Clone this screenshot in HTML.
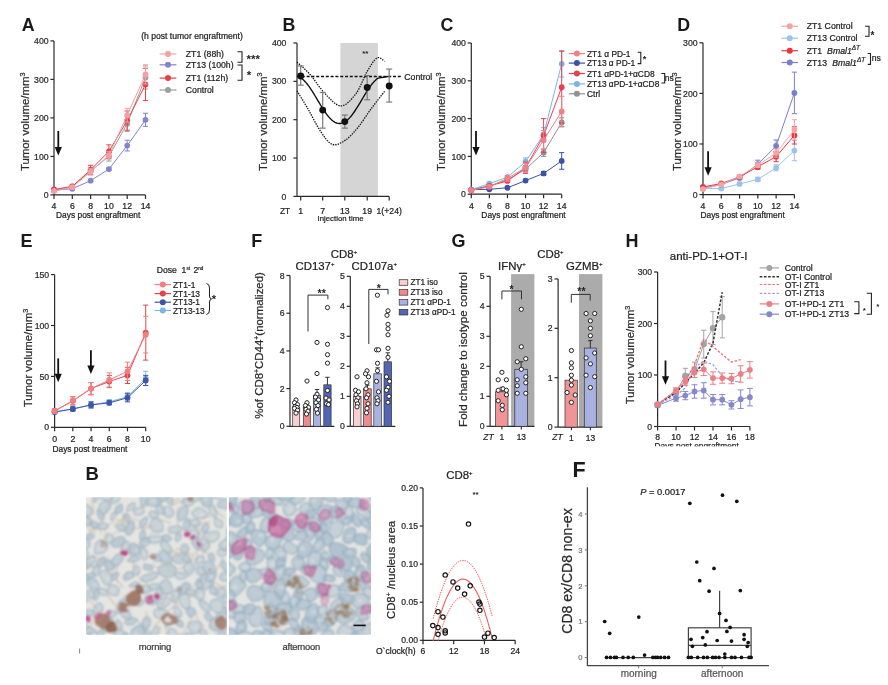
<!DOCTYPE html>
<html><head><meta charset="utf-8"><style>
html,body{margin:0;padding:0;background:#fff;width:888px;height:685px;overflow:hidden}
svg{display:block;will-change:transform}
svg text{font-family:"Liberation Sans", sans-serif}
</style></head><body>
<svg width="888" height="685" viewBox="0 0 888 685">
<rect x="0" y="0" width="888" height="685" fill="#fff"/>
<text x="21.8" y="31.34" font-size="17.8" text-anchor="start" font-weight="bold" fill="#1a1a1a" >A</text>
<line x1="54" y1="194.9" x2="54" y2="40.9" stroke="#2a2a2a" stroke-width="1.2" />
<line x1="50.4" y1="194.9" x2="54" y2="194.9" stroke="#2a2a2a" stroke-width="1.2" />
<text x="48.6" y="198.01" font-size="8.7" text-anchor="end" font-weight="normal" fill="#2a2a2a" stroke="#2a2a2a" stroke-width="0.22" >0</text>
<line x1="50.4" y1="156.4" x2="54" y2="156.4" stroke="#2a2a2a" stroke-width="1.2" />
<text x="48.6" y="159.51" font-size="8.7" text-anchor="end" font-weight="normal" fill="#2a2a2a" stroke="#2a2a2a" stroke-width="0.22" >100</text>
<line x1="50.4" y1="117.9" x2="54" y2="117.9" stroke="#2a2a2a" stroke-width="1.2" />
<text x="48.6" y="121.01" font-size="8.7" text-anchor="end" font-weight="normal" fill="#2a2a2a" stroke="#2a2a2a" stroke-width="0.22" >200</text>
<line x1="50.4" y1="79.4" x2="54" y2="79.4" stroke="#2a2a2a" stroke-width="1.2" />
<text x="48.6" y="82.51" font-size="8.7" text-anchor="end" font-weight="normal" fill="#2a2a2a" stroke="#2a2a2a" stroke-width="0.22" >300</text>
<line x1="50.4" y1="40.9" x2="54" y2="40.9" stroke="#2a2a2a" stroke-width="1.2" />
<text x="48.6" y="44.01" font-size="8.7" text-anchor="end" font-weight="normal" fill="#2a2a2a" stroke="#2a2a2a" stroke-width="0.22" >400</text>
<line x1="54" y1="194.9" x2="145.5" y2="194.9" stroke="#2a2a2a" stroke-width="1.2" />
<line x1="54" y1="194.9" x2="54" y2="198.9" stroke="#2a2a2a" stroke-width="1.2" />
<text x="54" y="208.91" font-size="8.7" text-anchor="middle" font-weight="normal" fill="#222" stroke="#222" stroke-width="0.22" >4</text>
<line x1="72.3" y1="194.9" x2="72.3" y2="198.9" stroke="#2a2a2a" stroke-width="1.2" />
<text x="72.3" y="208.91" font-size="8.7" text-anchor="middle" font-weight="normal" fill="#222" stroke="#222" stroke-width="0.22" >6</text>
<line x1="90.6" y1="194.9" x2="90.6" y2="198.9" stroke="#2a2a2a" stroke-width="1.2" />
<text x="90.6" y="208.91" font-size="8.7" text-anchor="middle" font-weight="normal" fill="#222" stroke="#222" stroke-width="0.22" >8</text>
<line x1="108.9" y1="194.9" x2="108.9" y2="198.9" stroke="#2a2a2a" stroke-width="1.2" />
<text x="108.9" y="208.91" font-size="8.7" text-anchor="middle" font-weight="normal" fill="#222" stroke="#222" stroke-width="0.22" >10</text>
<line x1="127.2" y1="194.9" x2="127.2" y2="198.9" stroke="#2a2a2a" stroke-width="1.2" />
<text x="127.2" y="208.91" font-size="8.7" text-anchor="middle" font-weight="normal" fill="#222" stroke="#222" stroke-width="0.22" >12</text>
<line x1="145.5" y1="194.9" x2="145.5" y2="198.9" stroke="#2a2a2a" stroke-width="1.2" />
<text x="145.5" y="208.91" font-size="8.7" text-anchor="middle" font-weight="normal" fill="#222" stroke="#222" stroke-width="0.22" >14</text>
<text x="98.2" y="218.21" font-size="8.4" text-anchor="middle" font-weight="normal" fill="#222" stroke="#222" stroke-width="0.22" >Days post engraftment</text>
<text transform="translate(29.38,121.8) rotate(-90)" font-size="11.4" text-anchor="middle" fill="#2a2a2a" stroke="#2a2a2a" stroke-width="0.22">Tumor volume/mm<tspan dy="-4.2" font-size="7.3">3</tspan></text>
<line x1="58.3" y1="131" x2="58.3" y2="147.9" stroke="#111" stroke-width="1.8" />
<path d="M54.7,146.9 L61.9,146.9 L58.3,155.4 Z" stroke="none" stroke-width="1" fill="#111" />
<line x1="54" y1="189.51" x2="54" y2="191.05" stroke="#9a9da2" stroke-width="1.0" />
<line x1="51.4" y1="189.51" x2="56.6" y2="189.51" stroke="#9a9da2" stroke-width="1.0" />
<line x1="51.4" y1="191.05" x2="56.6" y2="191.05" stroke="#9a9da2" stroke-width="1.0" />
<line x1="72.3" y1="185.28" x2="72.3" y2="187.59" stroke="#9a9da2" stroke-width="1.0" />
<line x1="69.7" y1="185.28" x2="74.9" y2="185.28" stroke="#9a9da2" stroke-width="1.0" />
<line x1="69.7" y1="187.59" x2="74.9" y2="187.59" stroke="#9a9da2" stroke-width="1.0" />
<line x1="90.6" y1="167.18" x2="90.6" y2="174.88" stroke="#9a9da2" stroke-width="1.0" />
<line x1="88" y1="167.18" x2="93.2" y2="167.18" stroke="#9a9da2" stroke-width="1.0" />
<line x1="88" y1="174.88" x2="93.2" y2="174.88" stroke="#9a9da2" stroke-width="1.0" />
<line x1="108.9" y1="151.78" x2="108.9" y2="161.02" stroke="#9a9da2" stroke-width="1.0" />
<line x1="106.3" y1="151.78" x2="111.5" y2="151.78" stroke="#9a9da2" stroke-width="1.0" />
<line x1="106.3" y1="161.02" x2="111.5" y2="161.02" stroke="#9a9da2" stroke-width="1.0" />
<line x1="127.2" y1="115.98" x2="127.2" y2="131.38" stroke="#9a9da2" stroke-width="1.0" />
<line x1="124.6" y1="115.98" x2="129.8" y2="115.98" stroke="#9a9da2" stroke-width="1.0" />
<line x1="124.6" y1="131.38" x2="129.8" y2="131.38" stroke="#9a9da2" stroke-width="1.0" />
<line x1="145.5" y1="65.93" x2="145.5" y2="89.03" stroke="#9a9da2" stroke-width="1.0" />
<line x1="142.9" y1="65.93" x2="148.1" y2="65.93" stroke="#9a9da2" stroke-width="1.0" />
<line x1="142.9" y1="89.03" x2="148.1" y2="89.03" stroke="#9a9da2" stroke-width="1.0" />
<polyline points="54,190.28 72.3,186.43 90.6,171.03 108.9,156.4 127.2,123.67 145.5,77.48" fill="none" stroke="#9a9da2" stroke-width="1.0"  stroke-linejoin="round"/>
<circle cx="54" cy="190.28" r="2.9" fill="#9a9da2" stroke="none" stroke-width="0"/>
<circle cx="72.3" cy="186.43" r="2.9" fill="#9a9da2" stroke="none" stroke-width="0"/>
<circle cx="90.6" cy="171.03" r="2.9" fill="#9a9da2" stroke="none" stroke-width="0"/>
<circle cx="108.9" cy="156.4" r="2.9" fill="#9a9da2" stroke="none" stroke-width="0"/>
<circle cx="127.2" cy="123.67" r="2.9" fill="#9a9da2" stroke="none" stroke-width="0"/>
<circle cx="145.5" cy="77.48" r="2.9" fill="#9a9da2" stroke="none" stroke-width="0"/>
<line x1="54" y1="189.51" x2="54" y2="191.05" stroke="#8384cc" stroke-width="1.0" />
<line x1="51.4" y1="189.51" x2="56.6" y2="189.51" stroke="#8384cc" stroke-width="1.0" />
<line x1="51.4" y1="191.05" x2="56.6" y2="191.05" stroke="#8384cc" stroke-width="1.0" />
<line x1="72.3" y1="187.97" x2="72.3" y2="189.51" stroke="#8384cc" stroke-width="1.0" />
<line x1="69.7" y1="187.97" x2="74.9" y2="187.97" stroke="#8384cc" stroke-width="1.0" />
<line x1="69.7" y1="189.51" x2="74.9" y2="189.51" stroke="#8384cc" stroke-width="1.0" />
<line x1="90.6" y1="179.5" x2="90.6" y2="181.81" stroke="#8384cc" stroke-width="1.0" />
<line x1="88" y1="179.5" x2="93.2" y2="179.5" stroke="#8384cc" stroke-width="1.0" />
<line x1="88" y1="181.81" x2="93.2" y2="181.81" stroke="#8384cc" stroke-width="1.0" />
<line x1="108.9" y1="167.56" x2="108.9" y2="170.65" stroke="#8384cc" stroke-width="1.0" />
<line x1="106.3" y1="167.56" x2="111.5" y2="167.56" stroke="#8384cc" stroke-width="1.0" />
<line x1="106.3" y1="170.65" x2="111.5" y2="170.65" stroke="#8384cc" stroke-width="1.0" />
<line x1="127.2" y1="140.23" x2="127.2" y2="151.01" stroke="#8384cc" stroke-width="1.0" />
<line x1="124.6" y1="140.23" x2="129.8" y2="140.23" stroke="#8384cc" stroke-width="1.0" />
<line x1="124.6" y1="151.01" x2="129.8" y2="151.01" stroke="#8384cc" stroke-width="1.0" />
<line x1="145.5" y1="113.28" x2="145.5" y2="126.37" stroke="#8384cc" stroke-width="1.0" />
<line x1="142.9" y1="113.28" x2="148.1" y2="113.28" stroke="#8384cc" stroke-width="1.0" />
<line x1="142.9" y1="126.37" x2="148.1" y2="126.37" stroke="#8384cc" stroke-width="1.0" />
<polyline points="54,190.28 72.3,188.74 90.6,180.66 108.9,169.11 127.2,145.62 145.5,119.83" fill="none" stroke="#8384cc" stroke-width="1.0"  stroke-linejoin="round"/>
<circle cx="54" cy="190.28" r="2.9" fill="#8384cc" stroke="none" stroke-width="0"/>
<circle cx="72.3" cy="188.74" r="2.9" fill="#8384cc" stroke="none" stroke-width="0"/>
<circle cx="90.6" cy="180.66" r="2.9" fill="#8384cc" stroke="none" stroke-width="0"/>
<circle cx="108.9" cy="169.11" r="2.9" fill="#8384cc" stroke="none" stroke-width="0"/>
<circle cx="127.2" cy="145.62" r="2.9" fill="#8384cc" stroke="none" stroke-width="0"/>
<circle cx="145.5" cy="119.83" r="2.9" fill="#8384cc" stroke="none" stroke-width="0"/>
<line x1="54" y1="188.36" x2="54" y2="190.66" stroke="#e8404a" stroke-width="1.0" />
<line x1="51.4" y1="188.36" x2="56.6" y2="188.36" stroke="#e8404a" stroke-width="1.0" />
<line x1="51.4" y1="190.66" x2="56.6" y2="190.66" stroke="#e8404a" stroke-width="1.0" />
<line x1="72.3" y1="185.28" x2="72.3" y2="187.59" stroke="#e8404a" stroke-width="1.0" />
<line x1="69.7" y1="185.28" x2="74.9" y2="185.28" stroke="#e8404a" stroke-width="1.0" />
<line x1="69.7" y1="187.59" x2="74.9" y2="187.59" stroke="#e8404a" stroke-width="1.0" />
<line x1="90.6" y1="165.25" x2="90.6" y2="174.5" stroke="#e8404a" stroke-width="1.0" />
<line x1="88" y1="165.25" x2="93.2" y2="165.25" stroke="#e8404a" stroke-width="1.0" />
<line x1="88" y1="174.5" x2="93.2" y2="174.5" stroke="#e8404a" stroke-width="1.0" />
<line x1="108.9" y1="144.85" x2="108.9" y2="157.94" stroke="#e8404a" stroke-width="1.0" />
<line x1="106.3" y1="144.85" x2="111.5" y2="144.85" stroke="#e8404a" stroke-width="1.0" />
<line x1="106.3" y1="157.94" x2="111.5" y2="157.94" stroke="#e8404a" stroke-width="1.0" />
<line x1="127.2" y1="110.97" x2="127.2" y2="130.22" stroke="#e8404a" stroke-width="1.0" />
<line x1="124.6" y1="110.97" x2="129.8" y2="110.97" stroke="#e8404a" stroke-width="1.0" />
<line x1="124.6" y1="130.22" x2="129.8" y2="130.22" stroke="#e8404a" stroke-width="1.0" />
<line x1="145.5" y1="68.23" x2="145.5" y2="100.58" stroke="#e8404a" stroke-width="1.0" />
<line x1="142.9" y1="68.23" x2="148.1" y2="68.23" stroke="#e8404a" stroke-width="1.0" />
<line x1="142.9" y1="100.58" x2="148.1" y2="100.58" stroke="#e8404a" stroke-width="1.0" />
<polyline points="54,189.51 72.3,186.43 90.6,169.88 108.9,151.4 127.2,120.59 145.5,84.41" fill="none" stroke="#e8404a" stroke-width="1.0"  stroke-linejoin="round"/>
<circle cx="54" cy="189.51" r="2.9" fill="#e8404a" stroke="none" stroke-width="0"/>
<circle cx="72.3" cy="186.43" r="2.9" fill="#e8404a" stroke="none" stroke-width="0"/>
<circle cx="90.6" cy="169.88" r="2.9" fill="#e8404a" stroke="none" stroke-width="0"/>
<circle cx="108.9" cy="151.4" r="2.9" fill="#e8404a" stroke="none" stroke-width="0"/>
<circle cx="127.2" cy="120.59" r="2.9" fill="#e8404a" stroke="none" stroke-width="0"/>
<circle cx="145.5" cy="84.41" r="2.9" fill="#e8404a" stroke="none" stroke-width="0"/>
<line x1="54" y1="189.9" x2="54" y2="192.21" stroke="#f2a0a6" stroke-width="1.0" />
<line x1="51.4" y1="189.9" x2="56.6" y2="189.9" stroke="#f2a0a6" stroke-width="1.0" />
<line x1="51.4" y1="192.21" x2="56.6" y2="192.21" stroke="#f2a0a6" stroke-width="1.0" />
<line x1="72.3" y1="186.05" x2="72.3" y2="188.36" stroke="#f2a0a6" stroke-width="1.0" />
<line x1="69.7" y1="186.05" x2="74.9" y2="186.05" stroke="#f2a0a6" stroke-width="1.0" />
<line x1="69.7" y1="188.36" x2="74.9" y2="188.36" stroke="#f2a0a6" stroke-width="1.0" />
<line x1="90.6" y1="168.72" x2="90.6" y2="174.88" stroke="#f2a0a6" stroke-width="1.0" />
<line x1="88" y1="168.72" x2="93.2" y2="168.72" stroke="#f2a0a6" stroke-width="1.0" />
<line x1="88" y1="174.88" x2="93.2" y2="174.88" stroke="#f2a0a6" stroke-width="1.0" />
<line x1="108.9" y1="151.4" x2="108.9" y2="159.09" stroke="#f2a0a6" stroke-width="1.0" />
<line x1="106.3" y1="151.4" x2="111.5" y2="151.4" stroke="#f2a0a6" stroke-width="1.0" />
<line x1="106.3" y1="159.09" x2="111.5" y2="159.09" stroke="#f2a0a6" stroke-width="1.0" />
<line x1="127.2" y1="108.28" x2="127.2" y2="122.14" stroke="#f2a0a6" stroke-width="1.0" />
<line x1="124.6" y1="108.28" x2="129.8" y2="108.28" stroke="#f2a0a6" stroke-width="1.0" />
<line x1="124.6" y1="122.14" x2="129.8" y2="122.14" stroke="#f2a0a6" stroke-width="1.0" />
<line x1="145.5" y1="64.77" x2="145.5" y2="84.02" stroke="#f2a0a6" stroke-width="1.0" />
<line x1="142.9" y1="64.77" x2="148.1" y2="64.77" stroke="#f2a0a6" stroke-width="1.0" />
<line x1="142.9" y1="84.02" x2="148.1" y2="84.02" stroke="#f2a0a6" stroke-width="1.0" />
<polyline points="54,191.05 72.3,187.2 90.6,171.8 108.9,155.25 127.2,115.2 145.5,74.39" fill="none" stroke="#f2a0a6" stroke-width="1.0"  stroke-linejoin="round"/>
<circle cx="54" cy="191.05" r="2.9" fill="#f2a0a6" stroke="none" stroke-width="0"/>
<circle cx="72.3" cy="187.2" r="2.9" fill="#f2a0a6" stroke="none" stroke-width="0"/>
<circle cx="90.6" cy="171.8" r="2.9" fill="#f2a0a6" stroke="none" stroke-width="0"/>
<circle cx="108.9" cy="155.25" r="2.9" fill="#f2a0a6" stroke="none" stroke-width="0"/>
<circle cx="127.2" cy="115.2" r="2.9" fill="#f2a0a6" stroke="none" stroke-width="0"/>
<circle cx="145.5" cy="74.39" r="2.9" fill="#f2a0a6" stroke="none" stroke-width="0"/>
<text x="192" y="38.58" font-size="8.6" text-anchor="middle" font-weight="normal" fill="#222" stroke="#222" stroke-width="0.22" >(h post tumor engraftment)</text>
<line x1="159.6" y1="54" x2="176.4" y2="54" stroke="#f2a0a6" stroke-width="1.2" />
<circle cx="168" cy="54" r="3.0" fill="#f2a0a6" stroke="none" stroke-width="0"/>
<text x="185.8" y="57.11" font-size="8.7" text-anchor="start" font-weight="normal" fill="#222" stroke="#222" stroke-width="0.22" >ZT1 (88h)</text>
<line x1="159.6" y1="64.8" x2="176.4" y2="64.8" stroke="#8384cc" stroke-width="1.2" />
<circle cx="168" cy="64.8" r="3.0" fill="#8384cc" stroke="none" stroke-width="0"/>
<text x="185.8" y="67.91" font-size="8.7" text-anchor="start" font-weight="normal" fill="#222" stroke="#222" stroke-width="0.22" >ZT13 (100h)</text>
<line x1="159.6" y1="78.1" x2="176.4" y2="78.1" stroke="#e8404a" stroke-width="1.2" />
<circle cx="168" cy="78.1" r="3.0" fill="#e8404a" stroke="none" stroke-width="0"/>
<text x="185.8" y="81.21" font-size="8.7" text-anchor="start" font-weight="normal" fill="#222" stroke="#222" stroke-width="0.22" >ZT1 (112h)</text>
<line x1="159.6" y1="90" x2="176.4" y2="90" stroke="#9a9da2" stroke-width="1.2" />
<circle cx="168" cy="90" r="3.0" fill="#9a9da2" stroke="none" stroke-width="0"/>
<text x="185.8" y="93.11" font-size="8.7" text-anchor="start" font-weight="normal" fill="#222" stroke="#222" stroke-width="0.22" >Control</text>
<path d="M237.5,51.8 L242,51.8 L242,62.2 L237.5,62.2" stroke="#222" stroke-width="1.1" fill="none" />
<path d="M237.5,65 L242,65 L242,80.2 L237.5,80.2" stroke="#222" stroke-width="1.1" fill="none" />
<text x="253.3" y="62.53" font-size="11.5" text-anchor="middle" font-weight="bold" fill="#222" >***</text>
<text x="249" y="79.33" font-size="11.5" text-anchor="middle" font-weight="bold" fill="#222" >*</text>
<text x="282.6" y="31.34" font-size="17.8" text-anchor="start" font-weight="bold" fill="#1a1a1a" >B</text>
<rect x="340.4" y="43" width="37.5" height="153.4" fill="#d5d5d5" stroke="none" stroke-width="0" />
<line x1="297" y1="196.4" x2="297" y2="43" stroke="#2a2a2a" stroke-width="1.2" />
<line x1="293.4" y1="196.4" x2="297" y2="196.4" stroke="#2a2a2a" stroke-width="1.2" />
<text x="286.4" y="199.51" font-size="8.7" text-anchor="end" font-weight="normal" fill="#2a2a2a" stroke="#2a2a2a" stroke-width="0.22" >0</text>
<line x1="293.4" y1="158.05" x2="297" y2="158.05" stroke="#2a2a2a" stroke-width="1.2" />
<text x="286.4" y="161.16" font-size="8.7" text-anchor="end" font-weight="normal" fill="#2a2a2a" stroke="#2a2a2a" stroke-width="0.22" >100</text>
<line x1="293.4" y1="119.7" x2="297" y2="119.7" stroke="#2a2a2a" stroke-width="1.2" />
<text x="286.4" y="122.81" font-size="8.7" text-anchor="end" font-weight="normal" fill="#2a2a2a" stroke="#2a2a2a" stroke-width="0.22" >200</text>
<line x1="293.4" y1="81.35" x2="297" y2="81.35" stroke="#2a2a2a" stroke-width="1.2" />
<text x="286.4" y="84.46" font-size="8.7" text-anchor="end" font-weight="normal" fill="#2a2a2a" stroke="#2a2a2a" stroke-width="0.22" >300</text>
<line x1="293.4" y1="43" x2="297" y2="43" stroke="#2a2a2a" stroke-width="1.2" />
<text x="286.4" y="46.11" font-size="8.7" text-anchor="end" font-weight="normal" fill="#2a2a2a" stroke="#2a2a2a" stroke-width="0.22" >400</text>
<line x1="297" y1="196.4" x2="389.2" y2="196.4" stroke="#2a2a2a" stroke-width="1.2" />
<line x1="300.7" y1="196.4" x2="300.7" y2="200.4" stroke="#2a2a2a" stroke-width="1.2" />
<text x="300.7" y="213.61" font-size="8.7" text-anchor="middle" font-weight="normal" fill="#222" stroke="#222" stroke-width="0.22" >1</text>
<line x1="322.7" y1="196.4" x2="322.7" y2="200.4" stroke="#2a2a2a" stroke-width="1.2" />
<text x="322.7" y="213.61" font-size="8.7" text-anchor="middle" font-weight="normal" fill="#222" stroke="#222" stroke-width="0.22" >7</text>
<line x1="344.8" y1="196.4" x2="344.8" y2="200.4" stroke="#2a2a2a" stroke-width="1.2" />
<text x="344.8" y="213.61" font-size="8.7" text-anchor="middle" font-weight="normal" fill="#222" stroke="#222" stroke-width="0.22" >13</text>
<line x1="367.2" y1="196.4" x2="367.2" y2="200.4" stroke="#2a2a2a" stroke-width="1.2" />
<text x="367.2" y="213.61" font-size="8.7" text-anchor="middle" font-weight="normal" fill="#222" stroke="#222" stroke-width="0.22" >19</text>
<line x1="389.2" y1="196.4" x2="389.2" y2="200.4" stroke="#2a2a2a" stroke-width="1.2" />
<text x="389.2" y="213.61" font-size="8.7" text-anchor="middle" font-weight="normal" fill="#222" stroke="#222" stroke-width="0.22" >1(+24)</text>
<text x="285" y="213.51" font-size="8.4" text-anchor="middle" font-weight="normal" fill="#222" stroke="#222" stroke-width="0.22" >ZT</text>
<text x="340.5" y="221.49" font-size="7.8" text-anchor="middle" font-weight="normal" fill="#222" stroke="#222" stroke-width="0.22" >Injection time</text>
<text transform="translate(266.68,121.8) rotate(-90)" font-size="11.4" text-anchor="middle" fill="#2a2a2a" stroke="#2a2a2a" stroke-width="0.22">Tumor volume/mm<tspan dy="-4.2" font-size="7.3">3</tspan></text>
<text x="365.3" y="55.96" font-size="8" text-anchor="middle" font-weight="bold" fill="#222" >**</text>
<path d="M297,62.18 C299.17,64.22 305.33,69.21 310,74.45 C314.67,79.69 319.83,88.38 325,93.62 C330.17,98.86 335.83,105.89 341,105.89 C346.17,105.89 351.67,99.31 356,93.62 C360.33,87.93 363.5,77.71 367,71.76 C370.5,65.82 374.07,59.68 377,57.96 C379.93,56.23 383.33,60.83 384.6,61.41" stroke="#111" stroke-width="1.3" fill="none" stroke-dasharray="1.4,1.1"/>
<path d="M297,90.94 C298.83,93.94 304.17,102.38 308,108.96 C311.83,115.55 316,124.56 320,130.44 C324,136.32 327.83,142.58 332,144.24 C336.17,145.91 340.67,143.22 345,140.41 C349.33,137.6 353.67,132.61 358,127.37 C362.33,122.13 366.57,114.97 371,108.96 C375.43,102.95 382.33,94.26 384.6,91.32" stroke="#111" stroke-width="1.3" fill="none" stroke-dasharray="1.4,1.1"/>
<polyline points="297,76.17 298,76.45 299,76.84 300,77.34 301,77.96 302,78.68 303,79.51 304,80.44 305,81.47 306,82.59 307,83.8 308,85.08 309,86.44 310,87.87 311,89.36 312,90.89 313,92.47 314,94.09 315,95.74 316,97.41 317,99.09 318,100.77 319,102.44 320,104.11 321,105.75 322,107.36 323,108.93 324,110.46 325,111.94 326,113.35 327,114.7 328,115.97 329,117.16 330,118.26 331,119.27 332,120.18 333,120.99 334,121.69 335,122.29 336,122.77 337,123.13 338,123.38 339,123.51 340,123.53 341,123.42 342,123.19 343,122.85 344,122.39 345,121.82 346,121.14 347,120.35 348,119.46 349,118.47 350,117.38 351,116.21 352,114.96 353,113.62 354,112.22 355,110.76 356,109.24 357,107.68 358,106.07 359,104.44 360,102.78 361,101.1 362,99.42 363,97.74 364,96.07 365,94.42 366,92.8 367,91.21 368,89.66 369,88.16 370,86.72 371,85.35 372,84.05 373,82.83 374,81.69 375,80.64 376,79.69 377,78.84 378,78.09 388,76.5" fill="none" stroke="#111" stroke-width="1.4" />
<line x1="297" y1="76.5" x2="401.4" y2="76.5" stroke="#111" stroke-width="1.6" stroke-dasharray="3,1.8"/>
<text x="404.3" y="80.11" font-size="8.7" text-anchor="start" font-weight="normal" fill="#222" stroke="#222" stroke-width="0.22" >Control</text>
<line x1="300.7" y1="66.01" x2="300.7" y2="85.19" stroke="#7a7a7a" stroke-width="1.2" />
<line x1="297.7" y1="66.01" x2="303.7" y2="66.01" stroke="#7a7a7a" stroke-width="1.2" />
<line x1="297.7" y1="85.19" x2="303.7" y2="85.19" stroke="#7a7a7a" stroke-width="1.2" />
<line x1="322.7" y1="92.47" x2="322.7" y2="128.14" stroke="#7a7a7a" stroke-width="1.2" />
<line x1="319.7" y1="92.47" x2="325.7" y2="92.47" stroke="#7a7a7a" stroke-width="1.2" />
<line x1="319.7" y1="128.14" x2="325.7" y2="128.14" stroke="#7a7a7a" stroke-width="1.2" />
<line x1="344.8" y1="115.1" x2="344.8" y2="128.14" stroke="#7a7a7a" stroke-width="1.2" />
<line x1="341.8" y1="115.1" x2="347.8" y2="115.1" stroke="#7a7a7a" stroke-width="1.2" />
<line x1="341.8" y1="128.14" x2="347.8" y2="128.14" stroke="#7a7a7a" stroke-width="1.2" />
<line x1="367.2" y1="75.6" x2="367.2" y2="99.76" stroke="#7a7a7a" stroke-width="1.2" />
<line x1="364.2" y1="75.6" x2="370.2" y2="75.6" stroke="#7a7a7a" stroke-width="1.2" />
<line x1="364.2" y1="99.76" x2="370.2" y2="99.76" stroke="#7a7a7a" stroke-width="1.2" />
<line x1="389.2" y1="69.08" x2="389.2" y2="102.06" stroke="#7a7a7a" stroke-width="1.2" />
<line x1="386.2" y1="69.08" x2="392.2" y2="69.08" stroke="#7a7a7a" stroke-width="1.2" />
<line x1="386.2" y1="102.06" x2="392.2" y2="102.06" stroke="#7a7a7a" stroke-width="1.2" />
<circle cx="300.7" cy="75.98" r="3.45" fill="#111" stroke="none" stroke-width="0"/>
<circle cx="322.7" cy="110.11" r="3.45" fill="#111" stroke="none" stroke-width="0"/>
<circle cx="344.8" cy="121.62" r="3.45" fill="#111" stroke="none" stroke-width="0"/>
<circle cx="367.2" cy="87.49" r="3.45" fill="#111" stroke="none" stroke-width="0"/>
<circle cx="389.2" cy="85.95" r="3.45" fill="#111" stroke="none" stroke-width="0"/>
<text x="440.6" y="31.34" font-size="17.8" text-anchor="start" font-weight="bold" fill="#1a1a1a" >C</text>
<line x1="471.3" y1="194.2" x2="471.3" y2="43" stroke="#2a2a2a" stroke-width="1.2" />
<line x1="467.7" y1="194.2" x2="471.3" y2="194.2" stroke="#2a2a2a" stroke-width="1.2" />
<text x="465.9" y="197.31" font-size="8.7" text-anchor="end" font-weight="normal" fill="#2a2a2a" stroke="#2a2a2a" stroke-width="0.22" >0</text>
<line x1="467.7" y1="156.4" x2="471.3" y2="156.4" stroke="#2a2a2a" stroke-width="1.2" />
<text x="465.9" y="159.51" font-size="8.7" text-anchor="end" font-weight="normal" fill="#2a2a2a" stroke="#2a2a2a" stroke-width="0.22" >100</text>
<line x1="467.7" y1="118.6" x2="471.3" y2="118.6" stroke="#2a2a2a" stroke-width="1.2" />
<text x="465.9" y="121.71" font-size="8.7" text-anchor="end" font-weight="normal" fill="#2a2a2a" stroke="#2a2a2a" stroke-width="0.22" >200</text>
<line x1="467.7" y1="80.8" x2="471.3" y2="80.8" stroke="#2a2a2a" stroke-width="1.2" />
<text x="465.9" y="83.91" font-size="8.7" text-anchor="end" font-weight="normal" fill="#2a2a2a" stroke="#2a2a2a" stroke-width="0.22" >300</text>
<line x1="467.7" y1="43" x2="471.3" y2="43" stroke="#2a2a2a" stroke-width="1.2" />
<text x="465.9" y="46.11" font-size="8.7" text-anchor="end" font-weight="normal" fill="#2a2a2a" stroke="#2a2a2a" stroke-width="0.22" >400</text>
<line x1="471.3" y1="194.2" x2="561.7" y2="194.2" stroke="#2a2a2a" stroke-width="1.2" />
<line x1="471.3" y1="194.2" x2="471.3" y2="198.2" stroke="#2a2a2a" stroke-width="1.2" />
<text x="471.3" y="208.81" font-size="8.7" text-anchor="middle" font-weight="normal" fill="#222" stroke="#222" stroke-width="0.22" >4</text>
<line x1="489.38" y1="194.2" x2="489.38" y2="198.2" stroke="#2a2a2a" stroke-width="1.2" />
<text x="489.38" y="208.81" font-size="8.7" text-anchor="middle" font-weight="normal" fill="#222" stroke="#222" stroke-width="0.22" >6</text>
<line x1="507.46" y1="194.2" x2="507.46" y2="198.2" stroke="#2a2a2a" stroke-width="1.2" />
<text x="507.46" y="208.81" font-size="8.7" text-anchor="middle" font-weight="normal" fill="#222" stroke="#222" stroke-width="0.22" >8</text>
<line x1="525.54" y1="194.2" x2="525.54" y2="198.2" stroke="#2a2a2a" stroke-width="1.2" />
<text x="525.54" y="208.81" font-size="8.7" text-anchor="middle" font-weight="normal" fill="#222" stroke="#222" stroke-width="0.22" >10</text>
<line x1="543.62" y1="194.2" x2="543.62" y2="198.2" stroke="#2a2a2a" stroke-width="1.2" />
<text x="543.62" y="208.81" font-size="8.7" text-anchor="middle" font-weight="normal" fill="#222" stroke="#222" stroke-width="0.22" >12</text>
<line x1="561.7" y1="194.2" x2="561.7" y2="198.2" stroke="#2a2a2a" stroke-width="1.2" />
<text x="561.7" y="208.81" font-size="8.7" text-anchor="middle" font-weight="normal" fill="#222" stroke="#222" stroke-width="0.22" >14</text>
<text x="523.5" y="217.91" font-size="8.4" text-anchor="middle" font-weight="normal" fill="#222" stroke="#222" stroke-width="0.22" >Days post engraftment</text>
<text transform="translate(445.48,121.8) rotate(-90)" font-size="11.4" text-anchor="middle" fill="#2a2a2a" stroke="#2a2a2a" stroke-width="0.22">Tumor volume/mm<tspan dy="-4.2" font-size="7.3">3</tspan></text>
<line x1="476" y1="131" x2="476" y2="148.1" stroke="#111" stroke-width="1.8" />
<path d="M472.4,147.1 L479.6,147.1 L476,155.6 Z" stroke="none" stroke-width="1" fill="#111" />
<line x1="471.3" y1="188.91" x2="471.3" y2="190.42" stroke="#8e9196" stroke-width="1.0" />
<line x1="468.7" y1="188.91" x2="473.9" y2="188.91" stroke="#8e9196" stroke-width="1.0" />
<line x1="468.7" y1="190.42" x2="473.9" y2="190.42" stroke="#8e9196" stroke-width="1.0" />
<line x1="489.38" y1="184.75" x2="489.38" y2="187.02" stroke="#8e9196" stroke-width="1.0" />
<line x1="486.78" y1="184.75" x2="491.98" y2="184.75" stroke="#8e9196" stroke-width="1.0" />
<line x1="486.78" y1="187.02" x2="491.98" y2="187.02" stroke="#8e9196" stroke-width="1.0" />
<line x1="507.46" y1="178.32" x2="507.46" y2="181.35" stroke="#8e9196" stroke-width="1.0" />
<line x1="504.86" y1="178.32" x2="510.06" y2="178.32" stroke="#8e9196" stroke-width="1.0" />
<line x1="504.86" y1="181.35" x2="510.06" y2="181.35" stroke="#8e9196" stroke-width="1.0" />
<line x1="525.54" y1="166.98" x2="525.54" y2="171.52" stroke="#8e9196" stroke-width="1.0" />
<line x1="522.94" y1="166.98" x2="528.14" y2="166.98" stroke="#8e9196" stroke-width="1.0" />
<line x1="522.94" y1="171.52" x2="528.14" y2="171.52" stroke="#8e9196" stroke-width="1.0" />
<line x1="543.62" y1="148.84" x2="543.62" y2="156.4" stroke="#8e9196" stroke-width="1.0" />
<line x1="541.02" y1="148.84" x2="546.22" y2="148.84" stroke="#8e9196" stroke-width="1.0" />
<line x1="541.02" y1="156.4" x2="546.22" y2="156.4" stroke="#8e9196" stroke-width="1.0" />
<line x1="561.7" y1="117.84" x2="561.7" y2="126.92" stroke="#8e9196" stroke-width="1.0" />
<line x1="559.1" y1="117.84" x2="564.3" y2="117.84" stroke="#8e9196" stroke-width="1.0" />
<line x1="559.1" y1="126.92" x2="564.3" y2="126.92" stroke="#8e9196" stroke-width="1.0" />
<polyline points="471.3,189.66 489.38,185.88 507.46,179.84 525.54,169.25 543.62,152.62 561.7,122.38" fill="none" stroke="#8e9196" stroke-width="1.0"  stroke-linejoin="round"/>
<circle cx="471.3" cy="189.66" r="2.9" fill="#8e9196" stroke="none" stroke-width="0"/>
<circle cx="489.38" cy="185.88" r="2.9" fill="#8e9196" stroke="none" stroke-width="0"/>
<circle cx="507.46" cy="179.84" r="2.9" fill="#8e9196" stroke="none" stroke-width="0"/>
<circle cx="525.54" cy="169.25" r="2.9" fill="#8e9196" stroke="none" stroke-width="0"/>
<circle cx="543.62" cy="152.62" r="2.9" fill="#8e9196" stroke="none" stroke-width="0"/>
<circle cx="561.7" cy="122.38" r="2.9" fill="#8e9196" stroke="none" stroke-width="0"/>
<line x1="471.3" y1="188.91" x2="471.3" y2="190.42" stroke="#3b52a5" stroke-width="1.0" />
<line x1="468.7" y1="188.91" x2="473.9" y2="188.91" stroke="#3b52a5" stroke-width="1.0" />
<line x1="468.7" y1="190.42" x2="473.9" y2="190.42" stroke="#3b52a5" stroke-width="1.0" />
<line x1="489.38" y1="188.53" x2="489.38" y2="190.04" stroke="#3b52a5" stroke-width="1.0" />
<line x1="486.78" y1="188.53" x2="491.98" y2="188.53" stroke="#3b52a5" stroke-width="1.0" />
<line x1="486.78" y1="190.04" x2="491.98" y2="190.04" stroke="#3b52a5" stroke-width="1.0" />
<line x1="507.46" y1="187.02" x2="507.46" y2="188.53" stroke="#3b52a5" stroke-width="1.0" />
<line x1="504.86" y1="187.02" x2="510.06" y2="187.02" stroke="#3b52a5" stroke-width="1.0" />
<line x1="504.86" y1="188.53" x2="510.06" y2="188.53" stroke="#3b52a5" stroke-width="1.0" />
<line x1="525.54" y1="179.08" x2="525.54" y2="182.1" stroke="#3b52a5" stroke-width="1.0" />
<line x1="522.94" y1="179.08" x2="528.14" y2="179.08" stroke="#3b52a5" stroke-width="1.0" />
<line x1="522.94" y1="182.1" x2="528.14" y2="182.1" stroke="#3b52a5" stroke-width="1.0" />
<line x1="543.62" y1="171.52" x2="543.62" y2="175.3" stroke="#3b52a5" stroke-width="1.0" />
<line x1="541.02" y1="171.52" x2="546.22" y2="171.52" stroke="#3b52a5" stroke-width="1.0" />
<line x1="541.02" y1="175.3" x2="546.22" y2="175.3" stroke="#3b52a5" stroke-width="1.0" />
<line x1="561.7" y1="152.62" x2="561.7" y2="169.25" stroke="#3b52a5" stroke-width="1.0" />
<line x1="559.1" y1="152.62" x2="564.3" y2="152.62" stroke="#3b52a5" stroke-width="1.0" />
<line x1="559.1" y1="169.25" x2="564.3" y2="169.25" stroke="#3b52a5" stroke-width="1.0" />
<polyline points="471.3,189.66 489.38,189.29 507.46,187.77 525.54,180.59 543.62,173.41 561.7,160.94" fill="none" stroke="#3b52a5" stroke-width="1.0"  stroke-linejoin="round"/>
<circle cx="471.3" cy="189.66" r="2.9" fill="#3b52a5" stroke="none" stroke-width="0"/>
<circle cx="489.38" cy="189.29" r="2.9" fill="#3b52a5" stroke="none" stroke-width="0"/>
<circle cx="507.46" cy="187.77" r="2.9" fill="#3b52a5" stroke="none" stroke-width="0"/>
<circle cx="525.54" cy="180.59" r="2.9" fill="#3b52a5" stroke="none" stroke-width="0"/>
<circle cx="543.62" cy="173.41" r="2.9" fill="#3b52a5" stroke="none" stroke-width="0"/>
<circle cx="561.7" cy="160.94" r="2.9" fill="#3b52a5" stroke="none" stroke-width="0"/>
<line x1="471.3" y1="188.91" x2="471.3" y2="190.42" stroke="#7fb3e6" stroke-width="1.0" />
<line x1="468.7" y1="188.91" x2="473.9" y2="188.91" stroke="#7fb3e6" stroke-width="1.0" />
<line x1="468.7" y1="190.42" x2="473.9" y2="190.42" stroke="#7fb3e6" stroke-width="1.0" />
<line x1="489.38" y1="182.48" x2="489.38" y2="184.75" stroke="#7fb3e6" stroke-width="1.0" />
<line x1="486.78" y1="182.48" x2="491.98" y2="182.48" stroke="#7fb3e6" stroke-width="1.0" />
<line x1="486.78" y1="184.75" x2="491.98" y2="184.75" stroke="#7fb3e6" stroke-width="1.0" />
<line x1="507.46" y1="175.68" x2="507.46" y2="178.7" stroke="#7fb3e6" stroke-width="1.0" />
<line x1="504.86" y1="175.68" x2="510.06" y2="175.68" stroke="#7fb3e6" stroke-width="1.0" />
<line x1="504.86" y1="178.7" x2="510.06" y2="178.7" stroke="#7fb3e6" stroke-width="1.0" />
<line x1="525.54" y1="157.91" x2="525.54" y2="165.47" stroke="#7fb3e6" stroke-width="1.0" />
<line x1="522.94" y1="157.91" x2="528.14" y2="157.91" stroke="#7fb3e6" stroke-width="1.0" />
<line x1="522.94" y1="165.47" x2="528.14" y2="165.47" stroke="#7fb3e6" stroke-width="1.0" />
<line x1="543.62" y1="127.67" x2="543.62" y2="141.28" stroke="#7fb3e6" stroke-width="1.0" />
<line x1="541.02" y1="127.67" x2="546.22" y2="127.67" stroke="#7fb3e6" stroke-width="1.0" />
<line x1="541.02" y1="141.28" x2="546.22" y2="141.28" stroke="#7fb3e6" stroke-width="1.0" />
<line x1="561.7" y1="50.56" x2="561.7" y2="77.02" stroke="#7fb3e6" stroke-width="1.0" />
<line x1="559.1" y1="50.56" x2="564.3" y2="50.56" stroke="#7fb3e6" stroke-width="1.0" />
<line x1="559.1" y1="77.02" x2="564.3" y2="77.02" stroke="#7fb3e6" stroke-width="1.0" />
<polyline points="471.3,189.66 489.38,183.62 507.46,177.19 525.54,161.69 543.62,134.48 561.7,63.79" fill="none" stroke="#7fb3e6" stroke-width="1.0"  stroke-linejoin="round"/>
<circle cx="471.3" cy="189.66" r="2.9" fill="#7fb3e6" stroke="none" stroke-width="0"/>
<circle cx="489.38" cy="183.62" r="2.9" fill="#7fb3e6" stroke="none" stroke-width="0"/>
<circle cx="507.46" cy="177.19" r="2.9" fill="#7fb3e6" stroke="none" stroke-width="0"/>
<circle cx="525.54" cy="161.69" r="2.9" fill="#7fb3e6" stroke="none" stroke-width="0"/>
<circle cx="543.62" cy="134.48" r="2.9" fill="#7fb3e6" stroke="none" stroke-width="0"/>
<circle cx="561.7" cy="63.79" r="2.9" fill="#7fb3e6" stroke="none" stroke-width="0"/>
<line x1="471.3" y1="189.66" x2="471.3" y2="191.18" stroke="#e8404d" stroke-width="1.0" />
<line x1="468.7" y1="189.66" x2="473.9" y2="189.66" stroke="#e8404d" stroke-width="1.0" />
<line x1="468.7" y1="191.18" x2="473.9" y2="191.18" stroke="#e8404d" stroke-width="1.0" />
<line x1="489.38" y1="184.75" x2="489.38" y2="187.02" stroke="#e8404d" stroke-width="1.0" />
<line x1="486.78" y1="184.75" x2="491.98" y2="184.75" stroke="#e8404d" stroke-width="1.0" />
<line x1="486.78" y1="187.02" x2="491.98" y2="187.02" stroke="#e8404d" stroke-width="1.0" />
<line x1="507.46" y1="179.46" x2="507.46" y2="182.48" stroke="#e8404d" stroke-width="1.0" />
<line x1="504.86" y1="179.46" x2="510.06" y2="179.46" stroke="#e8404d" stroke-width="1.0" />
<line x1="504.86" y1="182.48" x2="510.06" y2="182.48" stroke="#e8404d" stroke-width="1.0" />
<line x1="525.54" y1="162.07" x2="525.54" y2="173.41" stroke="#e8404d" stroke-width="1.0" />
<line x1="522.94" y1="162.07" x2="528.14" y2="162.07" stroke="#e8404d" stroke-width="1.0" />
<line x1="522.94" y1="173.41" x2="528.14" y2="173.41" stroke="#e8404d" stroke-width="1.0" />
<line x1="543.62" y1="118.6" x2="543.62" y2="152.62" stroke="#e8404d" stroke-width="1.0" />
<line x1="541.02" y1="118.6" x2="546.22" y2="118.6" stroke="#e8404d" stroke-width="1.0" />
<line x1="541.02" y1="152.62" x2="546.22" y2="152.62" stroke="#e8404d" stroke-width="1.0" />
<line x1="561.7" y1="51.32" x2="561.7" y2="123.14" stroke="#e8404d" stroke-width="1.0" />
<line x1="559.1" y1="51.32" x2="564.3" y2="51.32" stroke="#e8404d" stroke-width="1.0" />
<line x1="559.1" y1="123.14" x2="564.3" y2="123.14" stroke="#e8404d" stroke-width="1.0" />
<polyline points="471.3,190.42 489.38,185.88 507.46,180.97 525.54,167.74 543.62,135.61 561.7,87.23" fill="none" stroke="#e8404d" stroke-width="1.0"  stroke-linejoin="round"/>
<circle cx="471.3" cy="190.42" r="2.9" fill="#e8404d" stroke="none" stroke-width="0"/>
<circle cx="489.38" cy="185.88" r="2.9" fill="#e8404d" stroke="none" stroke-width="0"/>
<circle cx="507.46" cy="180.97" r="2.9" fill="#e8404d" stroke="none" stroke-width="0"/>
<circle cx="525.54" cy="167.74" r="2.9" fill="#e8404d" stroke="none" stroke-width="0"/>
<circle cx="543.62" cy="135.61" r="2.9" fill="#e8404d" stroke="none" stroke-width="0"/>
<circle cx="561.7" cy="87.23" r="2.9" fill="#e8404d" stroke="none" stroke-width="0"/>
<line x1="471.3" y1="189.66" x2="471.3" y2="191.18" stroke="#f07f86" stroke-width="1.0" />
<line x1="468.7" y1="189.66" x2="473.9" y2="189.66" stroke="#f07f86" stroke-width="1.0" />
<line x1="468.7" y1="191.18" x2="473.9" y2="191.18" stroke="#f07f86" stroke-width="1.0" />
<line x1="489.38" y1="185.51" x2="489.38" y2="187.77" stroke="#f07f86" stroke-width="1.0" />
<line x1="486.78" y1="185.51" x2="491.98" y2="185.51" stroke="#f07f86" stroke-width="1.0" />
<line x1="486.78" y1="187.77" x2="491.98" y2="187.77" stroke="#f07f86" stroke-width="1.0" />
<line x1="507.46" y1="175.3" x2="507.46" y2="181.35" stroke="#f07f86" stroke-width="1.0" />
<line x1="504.86" y1="175.3" x2="510.06" y2="175.3" stroke="#f07f86" stroke-width="1.0" />
<line x1="504.86" y1="181.35" x2="510.06" y2="181.35" stroke="#f07f86" stroke-width="1.0" />
<line x1="525.54" y1="163.2" x2="525.54" y2="172.28" stroke="#f07f86" stroke-width="1.0" />
<line x1="522.94" y1="163.2" x2="528.14" y2="163.2" stroke="#f07f86" stroke-width="1.0" />
<line x1="522.94" y1="172.28" x2="528.14" y2="172.28" stroke="#f07f86" stroke-width="1.0" />
<line x1="543.62" y1="130.7" x2="543.62" y2="149.6" stroke="#f07f86" stroke-width="1.0" />
<line x1="541.02" y1="130.7" x2="546.22" y2="130.7" stroke="#f07f86" stroke-width="1.0" />
<line x1="541.02" y1="149.6" x2="546.22" y2="149.6" stroke="#f07f86" stroke-width="1.0" />
<line x1="561.7" y1="96.3" x2="561.7" y2="126.54" stroke="#f07f86" stroke-width="1.0" />
<line x1="559.1" y1="96.3" x2="564.3" y2="96.3" stroke="#f07f86" stroke-width="1.0" />
<line x1="559.1" y1="126.54" x2="564.3" y2="126.54" stroke="#f07f86" stroke-width="1.0" />
<polyline points="471.3,190.42 489.38,186.64 507.46,178.32 525.54,167.74 543.62,140.15 561.7,111.42" fill="none" stroke="#f07f86" stroke-width="1.0"  stroke-linejoin="round"/>
<circle cx="471.3" cy="190.42" r="2.9" fill="#f07f86" stroke="none" stroke-width="0"/>
<circle cx="489.38" cy="186.64" r="2.9" fill="#f07f86" stroke="none" stroke-width="0"/>
<circle cx="507.46" cy="178.32" r="2.9" fill="#f07f86" stroke="none" stroke-width="0"/>
<circle cx="525.54" cy="167.74" r="2.9" fill="#f07f86" stroke="none" stroke-width="0"/>
<circle cx="543.62" cy="140.15" r="2.9" fill="#f07f86" stroke="none" stroke-width="0"/>
<circle cx="561.7" cy="111.42" r="2.9" fill="#f07f86" stroke="none" stroke-width="0"/>
<line x1="568.8" y1="53.6" x2="585" y2="53.6" stroke="#f07f86" stroke-width="1.2" />
<circle cx="576.9" cy="53.6" r="3.0" fill="#f07f86" stroke="none" stroke-width="0"/>
<text x="587" y="56.61" font-size="8.4" text-anchor="start" font-weight="normal" fill="#222" stroke="#222" stroke-width="0.22" >ZT1 α PD-1</text>
<line x1="568.8" y1="63.1" x2="585" y2="63.1" stroke="#3b52a5" stroke-width="1.2" />
<circle cx="576.9" cy="63.1" r="3.0" fill="#3b52a5" stroke="none" stroke-width="0"/>
<text x="587" y="66.11" font-size="8.4" text-anchor="start" font-weight="normal" fill="#222" stroke="#222" stroke-width="0.22" >ZT13 α PD-1</text>
<line x1="568.8" y1="73.5" x2="585" y2="73.5" stroke="#e8404d" stroke-width="1.2" />
<circle cx="576.9" cy="73.5" r="3.0" fill="#e8404d" stroke="none" stroke-width="0"/>
<text x="587" y="76.51" font-size="8.4" text-anchor="start" font-weight="normal" fill="#222" stroke="#222" stroke-width="0.22" >ZT1 αPD-1+αCD8</text>
<line x1="568.8" y1="83.9" x2="585" y2="83.9" stroke="#7fb3e6" stroke-width="1.2" />
<circle cx="576.9" cy="83.9" r="3.0" fill="#7fb3e6" stroke="none" stroke-width="0"/>
<text x="587" y="86.91" font-size="8.4" text-anchor="start" font-weight="normal" fill="#222" stroke="#222" stroke-width="0.22" >ZT13 αPD-1+αCD8</text>
<line x1="568.8" y1="93.8" x2="585" y2="93.8" stroke="#8e9196" stroke-width="1.2" />
<circle cx="576.9" cy="93.8" r="3.0" fill="#8e9196" stroke="none" stroke-width="0"/>
<text x="587" y="96.81" font-size="8.4" text-anchor="start" font-weight="normal" fill="#222" stroke="#222" stroke-width="0.22" >Ctrl</text>
<path d="M637.7,52.3 L640.8,52.3 L640.8,63.6 L637.7,63.6" stroke="#222" stroke-width="1.1" fill="none" />
<text x="644.5" y="61.78" font-size="9" text-anchor="middle" font-weight="bold" fill="#222" >*</text>
<path d="M661.4,73.5 L664.7,73.5 L664.7,83 L661.4,83" stroke="#222" stroke-width="1.1" fill="none" />
<text x="664.8" y="81.31" font-size="8.4" text-anchor="start" font-weight="normal" fill="#222" stroke="#222" stroke-width="0.22" >ns</text>
<text x="677.2" y="31.34" font-size="17.8" text-anchor="start" font-weight="bold" fill="#1a1a1a" >D</text>
<line x1="703" y1="194.6" x2="703" y2="42.8" stroke="#2a2a2a" stroke-width="1.2" />
<line x1="699.4" y1="194.6" x2="703" y2="194.6" stroke="#2a2a2a" stroke-width="1.2" />
<text x="697.6" y="197.71" font-size="8.7" text-anchor="end" font-weight="normal" fill="#2a2a2a" stroke="#2a2a2a" stroke-width="0.22" >0</text>
<line x1="699.4" y1="144" x2="703" y2="144" stroke="#2a2a2a" stroke-width="1.2" />
<text x="697.6" y="147.11" font-size="8.7" text-anchor="end" font-weight="normal" fill="#2a2a2a" stroke="#2a2a2a" stroke-width="0.22" >100</text>
<line x1="699.4" y1="93.4" x2="703" y2="93.4" stroke="#2a2a2a" stroke-width="1.2" />
<text x="697.6" y="96.51" font-size="8.7" text-anchor="end" font-weight="normal" fill="#2a2a2a" stroke="#2a2a2a" stroke-width="0.22" >200</text>
<line x1="699.4" y1="42.8" x2="703" y2="42.8" stroke="#2a2a2a" stroke-width="1.2" />
<text x="697.6" y="45.91" font-size="8.7" text-anchor="end" font-weight="normal" fill="#2a2a2a" stroke="#2a2a2a" stroke-width="0.22" >300</text>
<line x1="703" y1="194.6" x2="794.4" y2="194.6" stroke="#2a2a2a" stroke-width="1.2" />
<line x1="703" y1="194.6" x2="703" y2="198.6" stroke="#2a2a2a" stroke-width="1.2" />
<text x="703" y="208.91" font-size="8.7" text-anchor="middle" font-weight="normal" fill="#222" stroke="#222" stroke-width="0.22" >4</text>
<line x1="721.28" y1="194.6" x2="721.28" y2="198.6" stroke="#2a2a2a" stroke-width="1.2" />
<text x="721.28" y="208.91" font-size="8.7" text-anchor="middle" font-weight="normal" fill="#222" stroke="#222" stroke-width="0.22" >6</text>
<line x1="739.56" y1="194.6" x2="739.56" y2="198.6" stroke="#2a2a2a" stroke-width="1.2" />
<text x="739.56" y="208.91" font-size="8.7" text-anchor="middle" font-weight="normal" fill="#222" stroke="#222" stroke-width="0.22" >8</text>
<line x1="757.84" y1="194.6" x2="757.84" y2="198.6" stroke="#2a2a2a" stroke-width="1.2" />
<text x="757.84" y="208.91" font-size="8.7" text-anchor="middle" font-weight="normal" fill="#222" stroke="#222" stroke-width="0.22" >10</text>
<line x1="776.12" y1="194.6" x2="776.12" y2="198.6" stroke="#2a2a2a" stroke-width="1.2" />
<text x="776.12" y="208.91" font-size="8.7" text-anchor="middle" font-weight="normal" fill="#222" stroke="#222" stroke-width="0.22" >12</text>
<line x1="794.4" y1="194.6" x2="794.4" y2="198.6" stroke="#2a2a2a" stroke-width="1.2" />
<text x="794.4" y="208.91" font-size="8.7" text-anchor="middle" font-weight="normal" fill="#222" stroke="#222" stroke-width="0.22" >14</text>
<text x="742.6" y="218.41" font-size="8.4" text-anchor="middle" font-weight="normal" fill="#222" stroke="#222" stroke-width="0.22" >Days post engraftment</text>
<text transform="translate(681.48,121.8) rotate(-90)" font-size="11.4" text-anchor="middle" fill="#2a2a2a" stroke="#2a2a2a" stroke-width="0.22">Tumor volume/mm<tspan dy="-4.2" font-size="7.3">3</tspan></text>
<line x1="708.1" y1="151.3" x2="708.1" y2="168.2" stroke="#111" stroke-width="1.8" />
<path d="M704.5,167.2 L711.7,167.2 L708.1,175.7 Z" stroke="none" stroke-width="1" fill="#111" />
<line x1="703" y1="187.52" x2="703" y2="189.54" stroke="#9cc3ea" stroke-width="1.0" />
<line x1="700.4" y1="187.52" x2="705.6" y2="187.52" stroke="#9cc3ea" stroke-width="1.0" />
<line x1="700.4" y1="189.54" x2="705.6" y2="189.54" stroke="#9cc3ea" stroke-width="1.0" />
<line x1="721.28" y1="187.52" x2="721.28" y2="189.54" stroke="#9cc3ea" stroke-width="1.0" />
<line x1="718.68" y1="187.52" x2="723.88" y2="187.52" stroke="#9cc3ea" stroke-width="1.0" />
<line x1="718.68" y1="189.54" x2="723.88" y2="189.54" stroke="#9cc3ea" stroke-width="1.0" />
<line x1="739.56" y1="182.46" x2="739.56" y2="185.49" stroke="#9cc3ea" stroke-width="1.0" />
<line x1="736.96" y1="182.46" x2="742.16" y2="182.46" stroke="#9cc3ea" stroke-width="1.0" />
<line x1="736.96" y1="185.49" x2="742.16" y2="185.49" stroke="#9cc3ea" stroke-width="1.0" />
<line x1="757.84" y1="177.4" x2="757.84" y2="181.44" stroke="#9cc3ea" stroke-width="1.0" />
<line x1="755.24" y1="177.4" x2="760.44" y2="177.4" stroke="#9cc3ea" stroke-width="1.0" />
<line x1="755.24" y1="181.44" x2="760.44" y2="181.44" stroke="#9cc3ea" stroke-width="1.0" />
<line x1="776.12" y1="164.75" x2="776.12" y2="170.82" stroke="#9cc3ea" stroke-width="1.0" />
<line x1="773.52" y1="164.75" x2="778.72" y2="164.75" stroke="#9cc3ea" stroke-width="1.0" />
<line x1="773.52" y1="170.82" x2="778.72" y2="170.82" stroke="#9cc3ea" stroke-width="1.0" />
<line x1="794.4" y1="140.46" x2="794.4" y2="160.7" stroke="#9cc3ea" stroke-width="1.0" />
<line x1="791.8" y1="140.46" x2="797" y2="140.46" stroke="#9cc3ea" stroke-width="1.0" />
<line x1="791.8" y1="160.7" x2="797" y2="160.7" stroke="#9cc3ea" stroke-width="1.0" />
<polyline points="703,188.53 721.28,188.53 739.56,183.97 757.84,179.42 776.12,167.78 794.4,150.58" fill="none" stroke="#9cc3ea" stroke-width="1.0"  stroke-linejoin="round"/>
<circle cx="703" cy="188.53" r="2.9" fill="#9cc3ea" stroke="none" stroke-width="0"/>
<circle cx="721.28" cy="188.53" r="2.9" fill="#9cc3ea" stroke="none" stroke-width="0"/>
<circle cx="739.56" cy="183.97" r="2.9" fill="#9cc3ea" stroke="none" stroke-width="0"/>
<circle cx="757.84" cy="179.42" r="2.9" fill="#9cc3ea" stroke="none" stroke-width="0"/>
<circle cx="776.12" cy="167.78" r="2.9" fill="#9cc3ea" stroke="none" stroke-width="0"/>
<circle cx="794.4" cy="150.58" r="2.9" fill="#9cc3ea" stroke="none" stroke-width="0"/>
<line x1="703" y1="187.01" x2="703" y2="189.03" stroke="#7b7fc8" stroke-width="1.0" />
<line x1="700.4" y1="187.01" x2="705.6" y2="187.01" stroke="#7b7fc8" stroke-width="1.0" />
<line x1="700.4" y1="189.03" x2="705.6" y2="189.03" stroke="#7b7fc8" stroke-width="1.0" />
<line x1="721.28" y1="183.47" x2="721.28" y2="185.49" stroke="#7b7fc8" stroke-width="1.0" />
<line x1="718.68" y1="183.47" x2="723.88" y2="183.47" stroke="#7b7fc8" stroke-width="1.0" />
<line x1="718.68" y1="185.49" x2="723.88" y2="185.49" stroke="#7b7fc8" stroke-width="1.0" />
<line x1="739.56" y1="176.38" x2="739.56" y2="179.42" stroke="#7b7fc8" stroke-width="1.0" />
<line x1="736.96" y1="176.38" x2="742.16" y2="176.38" stroke="#7b7fc8" stroke-width="1.0" />
<line x1="736.96" y1="179.42" x2="742.16" y2="179.42" stroke="#7b7fc8" stroke-width="1.0" />
<line x1="757.84" y1="160.19" x2="757.84" y2="168.29" stroke="#7b7fc8" stroke-width="1.0" />
<line x1="755.24" y1="160.19" x2="760.44" y2="160.19" stroke="#7b7fc8" stroke-width="1.0" />
<line x1="755.24" y1="168.29" x2="760.44" y2="168.29" stroke="#7b7fc8" stroke-width="1.0" />
<line x1="776.12" y1="139.95" x2="776.12" y2="152.1" stroke="#7b7fc8" stroke-width="1.0" />
<line x1="773.52" y1="139.95" x2="778.72" y2="139.95" stroke="#7b7fc8" stroke-width="1.0" />
<line x1="773.52" y1="152.1" x2="778.72" y2="152.1" stroke="#7b7fc8" stroke-width="1.0" />
<line x1="794.4" y1="72.15" x2="794.4" y2="113.64" stroke="#7b7fc8" stroke-width="1.0" />
<line x1="791.8" y1="72.15" x2="797" y2="72.15" stroke="#7b7fc8" stroke-width="1.0" />
<line x1="791.8" y1="113.64" x2="797" y2="113.64" stroke="#7b7fc8" stroke-width="1.0" />
<polyline points="703,188.02 721.28,184.48 739.56,177.9 757.84,164.24 776.12,146.02 794.4,92.89" fill="none" stroke="#7b7fc8" stroke-width="1.0"  stroke-linejoin="round"/>
<circle cx="703" cy="188.02" r="2.9" fill="#7b7fc8" stroke="none" stroke-width="0"/>
<circle cx="721.28" cy="184.48" r="2.9" fill="#7b7fc8" stroke="none" stroke-width="0"/>
<circle cx="739.56" cy="177.9" r="2.9" fill="#7b7fc8" stroke="none" stroke-width="0"/>
<circle cx="757.84" cy="164.24" r="2.9" fill="#7b7fc8" stroke="none" stroke-width="0"/>
<circle cx="776.12" cy="146.02" r="2.9" fill="#7b7fc8" stroke="none" stroke-width="0"/>
<circle cx="794.4" cy="92.89" r="2.9" fill="#7b7fc8" stroke="none" stroke-width="0"/>
<line x1="703" y1="186" x2="703" y2="188.02" stroke="#e8343c" stroke-width="1.0" />
<line x1="700.4" y1="186" x2="705.6" y2="186" stroke="#e8343c" stroke-width="1.0" />
<line x1="700.4" y1="188.02" x2="705.6" y2="188.02" stroke="#e8343c" stroke-width="1.0" />
<line x1="721.28" y1="182.46" x2="721.28" y2="184.48" stroke="#e8343c" stroke-width="1.0" />
<line x1="718.68" y1="182.46" x2="723.88" y2="182.46" stroke="#e8343c" stroke-width="1.0" />
<line x1="718.68" y1="184.48" x2="723.88" y2="184.48" stroke="#e8343c" stroke-width="1.0" />
<line x1="739.56" y1="175.37" x2="739.56" y2="178.41" stroke="#e8343c" stroke-width="1.0" />
<line x1="736.96" y1="175.37" x2="742.16" y2="175.37" stroke="#e8343c" stroke-width="1.0" />
<line x1="736.96" y1="178.41" x2="742.16" y2="178.41" stroke="#e8343c" stroke-width="1.0" />
<line x1="757.84" y1="164.24" x2="757.84" y2="169.3" stroke="#e8343c" stroke-width="1.0" />
<line x1="755.24" y1="164.24" x2="760.44" y2="164.24" stroke="#e8343c" stroke-width="1.0" />
<line x1="755.24" y1="169.3" x2="760.44" y2="169.3" stroke="#e8343c" stroke-width="1.0" />
<line x1="776.12" y1="151.59" x2="776.12" y2="161.71" stroke="#e8343c" stroke-width="1.0" />
<line x1="773.52" y1="151.59" x2="778.72" y2="151.59" stroke="#e8343c" stroke-width="1.0" />
<line x1="773.52" y1="161.71" x2="778.72" y2="161.71" stroke="#e8343c" stroke-width="1.0" />
<line x1="794.4" y1="126.8" x2="794.4" y2="144" stroke="#e8343c" stroke-width="1.0" />
<line x1="791.8" y1="126.8" x2="797" y2="126.8" stroke="#e8343c" stroke-width="1.0" />
<line x1="791.8" y1="144" x2="797" y2="144" stroke="#e8343c" stroke-width="1.0" />
<polyline points="703,187.01 721.28,183.47 739.56,176.89 757.84,166.77 776.12,156.65 794.4,135.4" fill="none" stroke="#e8343c" stroke-width="1.0"  stroke-linejoin="round"/>
<circle cx="703" cy="187.01" r="2.9" fill="#e8343c" stroke="none" stroke-width="0"/>
<circle cx="721.28" cy="183.47" r="2.9" fill="#e8343c" stroke="none" stroke-width="0"/>
<circle cx="739.56" cy="176.89" r="2.9" fill="#e8343c" stroke="none" stroke-width="0"/>
<circle cx="757.84" cy="166.77" r="2.9" fill="#e8343c" stroke="none" stroke-width="0"/>
<circle cx="776.12" cy="156.65" r="2.9" fill="#e8343c" stroke="none" stroke-width="0"/>
<circle cx="794.4" cy="135.4" r="2.9" fill="#e8343c" stroke="none" stroke-width="0"/>
<line x1="703" y1="188.02" x2="703" y2="190.05" stroke="#f4a4a4" stroke-width="1.0" />
<line x1="700.4" y1="188.02" x2="705.6" y2="188.02" stroke="#f4a4a4" stroke-width="1.0" />
<line x1="700.4" y1="190.05" x2="705.6" y2="190.05" stroke="#f4a4a4" stroke-width="1.0" />
<line x1="721.28" y1="183.47" x2="721.28" y2="185.49" stroke="#f4a4a4" stroke-width="1.0" />
<line x1="718.68" y1="183.47" x2="723.88" y2="183.47" stroke="#f4a4a4" stroke-width="1.0" />
<line x1="718.68" y1="185.49" x2="723.88" y2="185.49" stroke="#f4a4a4" stroke-width="1.0" />
<line x1="739.56" y1="174.87" x2="739.56" y2="177.9" stroke="#f4a4a4" stroke-width="1.0" />
<line x1="736.96" y1="174.87" x2="742.16" y2="174.87" stroke="#f4a4a4" stroke-width="1.0" />
<line x1="736.96" y1="177.9" x2="742.16" y2="177.9" stroke="#f4a4a4" stroke-width="1.0" />
<line x1="757.84" y1="163.23" x2="757.84" y2="167.28" stroke="#f4a4a4" stroke-width="1.0" />
<line x1="755.24" y1="163.23" x2="760.44" y2="163.23" stroke="#f4a4a4" stroke-width="1.0" />
<line x1="755.24" y1="167.28" x2="760.44" y2="167.28" stroke="#f4a4a4" stroke-width="1.0" />
<line x1="776.12" y1="149.06" x2="776.12" y2="157.16" stroke="#f4a4a4" stroke-width="1.0" />
<line x1="773.52" y1="149.06" x2="778.72" y2="149.06" stroke="#f4a4a4" stroke-width="1.0" />
<line x1="773.52" y1="157.16" x2="778.72" y2="157.16" stroke="#f4a4a4" stroke-width="1.0" />
<line x1="794.4" y1="119.71" x2="794.4" y2="139.95" stroke="#f4a4a4" stroke-width="1.0" />
<line x1="791.8" y1="119.71" x2="797" y2="119.71" stroke="#f4a4a4" stroke-width="1.0" />
<line x1="791.8" y1="139.95" x2="797" y2="139.95" stroke="#f4a4a4" stroke-width="1.0" />
<polyline points="703,189.03 721.28,184.48 739.56,176.38 757.84,165.25 776.12,153.11 794.4,129.83" fill="none" stroke="#f4a4a4" stroke-width="1.0"  stroke-linejoin="round"/>
<circle cx="703" cy="189.03" r="2.9" fill="#f4a4a4" stroke="none" stroke-width="0"/>
<circle cx="721.28" cy="184.48" r="2.9" fill="#f4a4a4" stroke="none" stroke-width="0"/>
<circle cx="739.56" cy="176.38" r="2.9" fill="#f4a4a4" stroke="none" stroke-width="0"/>
<circle cx="757.84" cy="165.25" r="2.9" fill="#f4a4a4" stroke="none" stroke-width="0"/>
<circle cx="776.12" cy="153.11" r="2.9" fill="#f4a4a4" stroke="none" stroke-width="0"/>
<circle cx="794.4" cy="129.83" r="2.9" fill="#f4a4a4" stroke="none" stroke-width="0"/>
<line x1="781.5" y1="26.25" x2="798" y2="26.25" stroke="#f4a4a4" stroke-width="1.2" />
<circle cx="789.75" cy="26.25" r="3.0" fill="#f4a4a4" stroke="none" stroke-width="0"/>
<text x="806.75" y="29.36" font-size="8.7" text-anchor="start" font-weight="normal" fill="#222" stroke="#222" stroke-width="0.22" >ZT1 Control</text>
<line x1="781.5" y1="38.25" x2="798" y2="38.25" stroke="#9cc3ea" stroke-width="1.2" />
<circle cx="789.75" cy="38.25" r="3.0" fill="#9cc3ea" stroke="none" stroke-width="0"/>
<text x="806.75" y="41.36" font-size="8.7" text-anchor="start" font-weight="normal" fill="#222" stroke="#222" stroke-width="0.22" >ZT13 Control</text>
<line x1="781.5" y1="50.75" x2="798" y2="50.75" stroke="#e8343c" stroke-width="1.2" />
<circle cx="789.75" cy="50.75" r="3.0" fill="#e8343c" stroke="none" stroke-width="0"/>
<text x="806.75" y="53.86" font-size="8.7" text-anchor="start" font-weight="normal" fill="#222" stroke="#222" stroke-width="0.22" >ZT1</text>
<line x1="781.5" y1="62.5" x2="798" y2="62.5" stroke="#7b7fc8" stroke-width="1.2" />
<circle cx="789.75" cy="62.5" r="3.0" fill="#7b7fc8" stroke="none" stroke-width="0"/>
<text x="806.75" y="65.61" font-size="8.7" text-anchor="start" font-weight="normal" fill="#222" stroke="#222" stroke-width="0.22" >ZT13</text>
<text x="827.1" y="53.86" font-size="8.7" text-anchor="start" font-weight="normal" fill="#222" stroke="#222" stroke-width="0.22" ><tspan font-style="italic">Bmal1</tspan><tspan dy="-3.6" font-size="6.5" font-style="italic">ΔT</tspan></text>
<text x="832.3" y="65.61" font-size="8.7" text-anchor="start" font-weight="normal" fill="#222" stroke="#222" stroke-width="0.22" ><tspan font-style="italic">Bmal1</tspan><tspan dy="-3.6" font-size="6.5" font-style="italic">ΔT</tspan></text>
<path d="M865,26.3 L869,26.3 L869,36.3 L865,36.3" stroke="#222" stroke-width="1.1" fill="none" />
<text x="872.5" y="38.6" font-size="10" text-anchor="middle" font-weight="bold" fill="#222" >*</text>
<path d="M867.7,53.5 L870.5,53.5 L870.5,64.4 L867.7,64.4" stroke="#222" stroke-width="1.1" fill="none" />
<text x="871.7" y="60.71" font-size="8.7" text-anchor="start" font-weight="normal" fill="#222" stroke="#222" stroke-width="0.22" >ns</text>
<text x="20.6" y="246.89" font-size="18" text-anchor="start" font-weight="bold" fill="#1a1a1a" >E</text>
<line x1="54.6" y1="427.3" x2="54.6" y2="274.6" stroke="#2a2a2a" stroke-width="1.2" />
<line x1="51" y1="427.3" x2="54.6" y2="427.3" stroke="#2a2a2a" stroke-width="1.2" />
<text x="49.2" y="430.41" font-size="8.7" text-anchor="end" font-weight="normal" fill="#2a2a2a" stroke="#2a2a2a" stroke-width="0.22" >0</text>
<line x1="51" y1="376.4" x2="54.6" y2="376.4" stroke="#2a2a2a" stroke-width="1.2" />
<text x="49.2" y="379.51" font-size="8.7" text-anchor="end" font-weight="normal" fill="#2a2a2a" stroke="#2a2a2a" stroke-width="0.22" >50</text>
<line x1="51" y1="325.5" x2="54.6" y2="325.5" stroke="#2a2a2a" stroke-width="1.2" />
<text x="49.2" y="328.61" font-size="8.7" text-anchor="end" font-weight="normal" fill="#2a2a2a" stroke="#2a2a2a" stroke-width="0.22" >100</text>
<line x1="51" y1="274.6" x2="54.6" y2="274.6" stroke="#2a2a2a" stroke-width="1.2" />
<text x="49.2" y="277.71" font-size="8.7" text-anchor="end" font-weight="normal" fill="#2a2a2a" stroke="#2a2a2a" stroke-width="0.22" >150</text>
<line x1="54.6" y1="427.3" x2="145.7" y2="427.3" stroke="#2a2a2a" stroke-width="1.2" />
<line x1="54.6" y1="427.3" x2="54.6" y2="431.3" stroke="#2a2a2a" stroke-width="1.2" />
<text x="54.6" y="441.61" font-size="8.7" text-anchor="middle" font-weight="normal" fill="#222" stroke="#222" stroke-width="0.22" >0</text>
<line x1="72.82" y1="427.3" x2="72.82" y2="431.3" stroke="#2a2a2a" stroke-width="1.2" />
<text x="72.82" y="441.61" font-size="8.7" text-anchor="middle" font-weight="normal" fill="#222" stroke="#222" stroke-width="0.22" >2</text>
<line x1="91.04" y1="427.3" x2="91.04" y2="431.3" stroke="#2a2a2a" stroke-width="1.2" />
<text x="91.04" y="441.61" font-size="8.7" text-anchor="middle" font-weight="normal" fill="#222" stroke="#222" stroke-width="0.22" >4</text>
<line x1="109.26" y1="427.3" x2="109.26" y2="431.3" stroke="#2a2a2a" stroke-width="1.2" />
<text x="109.26" y="441.61" font-size="8.7" text-anchor="middle" font-weight="normal" fill="#222" stroke="#222" stroke-width="0.22" >6</text>
<line x1="127.48" y1="427.3" x2="127.48" y2="431.3" stroke="#2a2a2a" stroke-width="1.2" />
<text x="127.48" y="441.61" font-size="8.7" text-anchor="middle" font-weight="normal" fill="#222" stroke="#222" stroke-width="0.22" >8</text>
<line x1="145.7" y1="427.3" x2="145.7" y2="431.3" stroke="#2a2a2a" stroke-width="1.2" />
<text x="145.7" y="441.61" font-size="8.7" text-anchor="middle" font-weight="normal" fill="#222" stroke="#222" stroke-width="0.22" >10</text>
<text x="89.9" y="452.11" font-size="8.4" text-anchor="middle" font-weight="normal" fill="#222" stroke="#222" stroke-width="0.22" >Days post treatment</text>
<text transform="translate(32.28,358) rotate(-90)" font-size="11.4" text-anchor="middle" fill="#2a2a2a" stroke="#2a2a2a" stroke-width="0.22">Tumor volume/mm<tspan dy="-4.2" font-size="7.3">3</tspan></text>
<line x1="58.2" y1="358.4" x2="58.2" y2="374.8" stroke="#111" stroke-width="1.8" />
<path d="M54.6,373.8 L61.8,373.8 L58.2,382.3 Z" stroke="none" stroke-width="1" fill="#111" />
<line x1="90.9" y1="350.2" x2="90.9" y2="366.5" stroke="#111" stroke-width="1.8" />
<path d="M87.3,365.5 L94.5,365.5 L90.9,374 Z" stroke="none" stroke-width="1" fill="#111" />
<line x1="54.6" y1="411.01" x2="54.6" y2="413.05" stroke="#80b4e4" stroke-width="1.0" />
<line x1="52" y1="411.01" x2="57.2" y2="411.01" stroke="#80b4e4" stroke-width="1.0" />
<line x1="52" y1="413.05" x2="57.2" y2="413.05" stroke="#80b4e4" stroke-width="1.0" />
<line x1="72.82" y1="406.94" x2="72.82" y2="411.01" stroke="#80b4e4" stroke-width="1.0" />
<line x1="70.22" y1="406.94" x2="75.42" y2="406.94" stroke="#80b4e4" stroke-width="1.0" />
<line x1="70.22" y1="411.01" x2="75.42" y2="411.01" stroke="#80b4e4" stroke-width="1.0" />
<line x1="91.04" y1="401.85" x2="91.04" y2="407.96" stroke="#80b4e4" stroke-width="1.0" />
<line x1="88.44" y1="401.85" x2="93.64" y2="401.85" stroke="#80b4e4" stroke-width="1.0" />
<line x1="88.44" y1="407.96" x2="93.64" y2="407.96" stroke="#80b4e4" stroke-width="1.0" />
<line x1="109.26" y1="399.81" x2="109.26" y2="403.89" stroke="#80b4e4" stroke-width="1.0" />
<line x1="106.66" y1="399.81" x2="111.86" y2="399.81" stroke="#80b4e4" stroke-width="1.0" />
<line x1="106.66" y1="403.89" x2="111.86" y2="403.89" stroke="#80b4e4" stroke-width="1.0" />
<line x1="127.48" y1="392.69" x2="127.48" y2="400.83" stroke="#80b4e4" stroke-width="1.0" />
<line x1="124.88" y1="392.69" x2="130.08" y2="392.69" stroke="#80b4e4" stroke-width="1.0" />
<line x1="124.88" y1="400.83" x2="130.08" y2="400.83" stroke="#80b4e4" stroke-width="1.0" />
<line x1="145.7" y1="371.31" x2="145.7" y2="385.56" stroke="#80b4e4" stroke-width="1.0" />
<line x1="143.1" y1="371.31" x2="148.3" y2="371.31" stroke="#80b4e4" stroke-width="1.0" />
<line x1="143.1" y1="385.56" x2="148.3" y2="385.56" stroke="#80b4e4" stroke-width="1.0" />
<polyline points="54.6,412.03 72.82,408.98 91.04,404.9 109.26,401.85 127.48,396.76 145.7,378.44" fill="none" stroke="#80b4e4" stroke-width="1.0"  stroke-linejoin="round"/>
<circle cx="54.6" cy="412.03" r="2.9" fill="#80b4e4" stroke="none" stroke-width="0"/>
<circle cx="72.82" cy="408.98" r="2.9" fill="#80b4e4" stroke="none" stroke-width="0"/>
<circle cx="91.04" cy="404.9" r="2.9" fill="#80b4e4" stroke="none" stroke-width="0"/>
<circle cx="109.26" cy="401.85" r="2.9" fill="#80b4e4" stroke="none" stroke-width="0"/>
<circle cx="127.48" cy="396.76" r="2.9" fill="#80b4e4" stroke="none" stroke-width="0"/>
<circle cx="145.7" cy="378.44" r="2.9" fill="#80b4e4" stroke="none" stroke-width="0"/>
<line x1="54.6" y1="411.01" x2="54.6" y2="413.05" stroke="#3d55a8" stroke-width="1.0" />
<line x1="52" y1="411.01" x2="57.2" y2="411.01" stroke="#3d55a8" stroke-width="1.0" />
<line x1="52" y1="413.05" x2="57.2" y2="413.05" stroke="#3d55a8" stroke-width="1.0" />
<line x1="72.82" y1="406.94" x2="72.82" y2="411.01" stroke="#3d55a8" stroke-width="1.0" />
<line x1="70.22" y1="406.94" x2="75.42" y2="406.94" stroke="#3d55a8" stroke-width="1.0" />
<line x1="70.22" y1="411.01" x2="75.42" y2="411.01" stroke="#3d55a8" stroke-width="1.0" />
<line x1="91.04" y1="401.85" x2="91.04" y2="407.96" stroke="#3d55a8" stroke-width="1.0" />
<line x1="88.44" y1="401.85" x2="93.64" y2="401.85" stroke="#3d55a8" stroke-width="1.0" />
<line x1="88.44" y1="407.96" x2="93.64" y2="407.96" stroke="#3d55a8" stroke-width="1.0" />
<line x1="109.26" y1="400.83" x2="109.26" y2="404.9" stroke="#3d55a8" stroke-width="1.0" />
<line x1="106.66" y1="400.83" x2="111.86" y2="400.83" stroke="#3d55a8" stroke-width="1.0" />
<line x1="106.66" y1="404.9" x2="111.86" y2="404.9" stroke="#3d55a8" stroke-width="1.0" />
<line x1="127.48" y1="393.71" x2="127.48" y2="401.85" stroke="#3d55a8" stroke-width="1.0" />
<line x1="124.88" y1="393.71" x2="130.08" y2="393.71" stroke="#3d55a8" stroke-width="1.0" />
<line x1="124.88" y1="401.85" x2="130.08" y2="401.85" stroke="#3d55a8" stroke-width="1.0" />
<line x1="145.7" y1="375.38" x2="145.7" y2="385.56" stroke="#3d55a8" stroke-width="1.0" />
<line x1="143.1" y1="375.38" x2="148.3" y2="375.38" stroke="#3d55a8" stroke-width="1.0" />
<line x1="143.1" y1="385.56" x2="148.3" y2="385.56" stroke="#3d55a8" stroke-width="1.0" />
<polyline points="54.6,412.03 72.82,408.98 91.04,404.9 109.26,402.87 127.48,397.78 145.7,380.47" fill="none" stroke="#3d55a8" stroke-width="1.0"  stroke-linejoin="round"/>
<circle cx="54.6" cy="412.03" r="2.9" fill="#3d55a8" stroke="none" stroke-width="0"/>
<circle cx="72.82" cy="408.98" r="2.9" fill="#3d55a8" stroke="none" stroke-width="0"/>
<circle cx="91.04" cy="404.9" r="2.9" fill="#3d55a8" stroke="none" stroke-width="0"/>
<circle cx="109.26" cy="402.87" r="2.9" fill="#3d55a8" stroke="none" stroke-width="0"/>
<circle cx="127.48" cy="397.78" r="2.9" fill="#3d55a8" stroke="none" stroke-width="0"/>
<circle cx="145.7" cy="380.47" r="2.9" fill="#3d55a8" stroke="none" stroke-width="0"/>
<line x1="54.6" y1="408.98" x2="54.6" y2="413.05" stroke="#e8404a" stroke-width="1.0" />
<line x1="52" y1="408.98" x2="57.2" y2="408.98" stroke="#e8404a" stroke-width="1.0" />
<line x1="52" y1="413.05" x2="57.2" y2="413.05" stroke="#e8404a" stroke-width="1.0" />
<line x1="72.82" y1="396.76" x2="72.82" y2="404.9" stroke="#e8404a" stroke-width="1.0" />
<line x1="70.22" y1="396.76" x2="75.42" y2="396.76" stroke="#e8404a" stroke-width="1.0" />
<line x1="70.22" y1="404.9" x2="75.42" y2="404.9" stroke="#e8404a" stroke-width="1.0" />
<line x1="91.04" y1="382.51" x2="91.04" y2="394.72" stroke="#e8404a" stroke-width="1.0" />
<line x1="88.44" y1="382.51" x2="93.64" y2="382.51" stroke="#e8404a" stroke-width="1.0" />
<line x1="88.44" y1="394.72" x2="93.64" y2="394.72" stroke="#e8404a" stroke-width="1.0" />
<line x1="109.26" y1="375.38" x2="109.26" y2="387.6" stroke="#e8404a" stroke-width="1.0" />
<line x1="106.66" y1="375.38" x2="111.86" y2="375.38" stroke="#e8404a" stroke-width="1.0" />
<line x1="106.66" y1="387.6" x2="111.86" y2="387.6" stroke="#e8404a" stroke-width="1.0" />
<line x1="127.48" y1="367.24" x2="127.48" y2="383.53" stroke="#e8404a" stroke-width="1.0" />
<line x1="124.88" y1="367.24" x2="130.08" y2="367.24" stroke="#e8404a" stroke-width="1.0" />
<line x1="124.88" y1="383.53" x2="130.08" y2="383.53" stroke="#e8404a" stroke-width="1.0" />
<line x1="145.7" y1="305.14" x2="145.7" y2="360.11" stroke="#e8404a" stroke-width="1.0" />
<line x1="143.1" y1="305.14" x2="148.3" y2="305.14" stroke="#e8404a" stroke-width="1.0" />
<line x1="143.1" y1="360.11" x2="148.3" y2="360.11" stroke="#e8404a" stroke-width="1.0" />
<polyline points="54.6,411.01 72.82,400.83 91.04,388.62 109.26,381.49 127.48,375.38 145.7,332.63" fill="none" stroke="#e8404a" stroke-width="1.0"  stroke-linejoin="round"/>
<circle cx="54.6" cy="411.01" r="2.9" fill="#e8404a" stroke="none" stroke-width="0"/>
<circle cx="72.82" cy="400.83" r="2.9" fill="#e8404a" stroke="none" stroke-width="0"/>
<circle cx="91.04" cy="388.62" r="2.9" fill="#e8404a" stroke="none" stroke-width="0"/>
<circle cx="109.26" cy="381.49" r="2.9" fill="#e8404a" stroke="none" stroke-width="0"/>
<circle cx="127.48" cy="375.38" r="2.9" fill="#e8404a" stroke="none" stroke-width="0"/>
<circle cx="145.7" cy="332.63" r="2.9" fill="#e8404a" stroke="none" stroke-width="0"/>
<line x1="54.6" y1="408.98" x2="54.6" y2="413.05" stroke="#f08080" stroke-width="1.0" />
<line x1="52" y1="408.98" x2="57.2" y2="408.98" stroke="#f08080" stroke-width="1.0" />
<line x1="52" y1="413.05" x2="57.2" y2="413.05" stroke="#f08080" stroke-width="1.0" />
<line x1="72.82" y1="396.76" x2="72.82" y2="404.9" stroke="#f08080" stroke-width="1.0" />
<line x1="70.22" y1="396.76" x2="75.42" y2="396.76" stroke="#f08080" stroke-width="1.0" />
<line x1="70.22" y1="404.9" x2="75.42" y2="404.9" stroke="#f08080" stroke-width="1.0" />
<line x1="91.04" y1="382.51" x2="91.04" y2="394.72" stroke="#f08080" stroke-width="1.0" />
<line x1="88.44" y1="382.51" x2="93.64" y2="382.51" stroke="#f08080" stroke-width="1.0" />
<line x1="88.44" y1="394.72" x2="93.64" y2="394.72" stroke="#f08080" stroke-width="1.0" />
<line x1="109.26" y1="372.84" x2="109.26" y2="387.09" stroke="#f08080" stroke-width="1.0" />
<line x1="106.66" y1="372.84" x2="111.86" y2="372.84" stroke="#f08080" stroke-width="1.0" />
<line x1="106.66" y1="387.09" x2="111.86" y2="387.09" stroke="#f08080" stroke-width="1.0" />
<line x1="127.48" y1="362.15" x2="127.48" y2="380.47" stroke="#f08080" stroke-width="1.0" />
<line x1="124.88" y1="362.15" x2="130.08" y2="362.15" stroke="#f08080" stroke-width="1.0" />
<line x1="124.88" y1="380.47" x2="130.08" y2="380.47" stroke="#f08080" stroke-width="1.0" />
<line x1="145.7" y1="316.34" x2="145.7" y2="352.99" stroke="#f08080" stroke-width="1.0" />
<line x1="143.1" y1="316.34" x2="148.3" y2="316.34" stroke="#f08080" stroke-width="1.0" />
<line x1="143.1" y1="352.99" x2="148.3" y2="352.99" stroke="#f08080" stroke-width="1.0" />
<polyline points="54.6,411.01 72.82,400.83 91.04,388.62 109.26,379.96 127.48,371.31 145.7,334.66" fill="none" stroke="#f08080" stroke-width="1.0"  stroke-linejoin="round"/>
<circle cx="54.6" cy="411.01" r="2.9" fill="#f08080" stroke="none" stroke-width="0"/>
<circle cx="72.82" cy="400.83" r="2.9" fill="#f08080" stroke="none" stroke-width="0"/>
<circle cx="91.04" cy="388.62" r="2.9" fill="#f08080" stroke="none" stroke-width="0"/>
<circle cx="109.26" cy="379.96" r="2.9" fill="#f08080" stroke="none" stroke-width="0"/>
<circle cx="127.48" cy="371.31" r="2.9" fill="#f08080" stroke="none" stroke-width="0"/>
<circle cx="145.7" cy="334.66" r="2.9" fill="#f08080" stroke="none" stroke-width="0"/>
<text x="156.7" y="272.88" font-size="8.6" text-anchor="start" font-weight="normal" fill="#222" stroke="#222" stroke-width="0.22" >Dose</text>
<text x="181.6" y="272.88" font-size="8.6" text-anchor="start" font-weight="normal" fill="#222" stroke="#222" stroke-width="0.22" >1<tspan dy="-3" font-size="4.5">st</tspan></text>
<text x="193.4" y="272.88" font-size="8.6" text-anchor="start" font-weight="normal" fill="#222" stroke="#222" stroke-width="0.22" >2<tspan dy="-3" font-size="4.5">nd</tspan></text>
<line x1="154.6" y1="284.6" x2="171" y2="284.6" stroke="#f08080" stroke-width="1.2" />
<circle cx="162.8" cy="284.6" r="3.0" fill="#f08080" stroke="none" stroke-width="0"/>
<text x="173" y="287.61" font-size="8.4" text-anchor="start" font-weight="normal" fill="#222" stroke="#222" stroke-width="0.22" >ZT1-1</text>
<line x1="154.6" y1="293.6" x2="171" y2="293.6" stroke="#e8404a" stroke-width="1.2" />
<circle cx="162.8" cy="293.6" r="3.0" fill="#e8404a" stroke="none" stroke-width="0"/>
<text x="173" y="296.61" font-size="8.4" text-anchor="start" font-weight="normal" fill="#222" stroke="#222" stroke-width="0.22" >ZT1-13</text>
<line x1="154.6" y1="302.2" x2="171" y2="302.2" stroke="#3d55a8" stroke-width="1.2" />
<circle cx="162.8" cy="302.2" r="3.0" fill="#3d55a8" stroke="none" stroke-width="0"/>
<text x="173" y="305.21" font-size="8.4" text-anchor="start" font-weight="normal" fill="#222" stroke="#222" stroke-width="0.22" >ZT13-1</text>
<line x1="154.6" y1="310.5" x2="171" y2="310.5" stroke="#80b4e4" stroke-width="1.2" />
<circle cx="162.8" cy="310.5" r="3.0" fill="#80b4e4" stroke="none" stroke-width="0"/>
<text x="173" y="313.51" font-size="8.4" text-anchor="start" font-weight="normal" fill="#222" stroke="#222" stroke-width="0.22" >ZT13-13</text>
<path d="M206.5,283.5 Q209.5,284 209.5,288 L209.5,296 Q209.5,298.5 211.5,299 Q209.5,299.5 209.5,302 L209.5,310 Q209.5,314 206.5,314.5" stroke="#222" stroke-width="1.0" fill="none" />
<text x="214" y="302.82" font-size="11" text-anchor="middle" font-weight="bold" fill="#222" >*</text>
<text x="251.2" y="246.89" font-size="18" text-anchor="start" font-weight="bold" fill="#1a1a1a" >F</text>
<text x="330.7" y="258.48" font-size="11.4" text-anchor="start" font-weight="normal" fill="#222" stroke="#222" stroke-width="0.22" >CD8<tspan dy="-4" font-size="6">+</tspan></text>
<text x="295.5" y="270.18" font-size="11.4" text-anchor="start" font-weight="normal" fill="#222" stroke="#222" stroke-width="0.22" >CD137<tspan dy="-4" font-size="6">+</tspan></text>
<text x="351.6" y="270.18" font-size="11.4" text-anchor="start" font-weight="normal" fill="#222" stroke="#222" stroke-width="0.22" >CD107a<tspan dy="-4" font-size="6">+</tspan></text>
<text transform="translate(262.5,345.4) rotate(-90)" font-size="11.45" text-anchor="middle" fill="#2a2a2a" stroke="#2a2a2a" stroke-width="0.22">%of CD8<tspan dy="-3.8" font-size="6.8">+</tspan><tspan dy="3.8">CD44</tspan><tspan dy="-3.8" font-size="6.8">+</tspan><tspan dy="3.8">(normalized)</tspan></text>
<line x1="290" y1="426.3" x2="290" y2="275.5" stroke="#2a2a2a" stroke-width="1.2" />
<line x1="286.4" y1="426.3" x2="290" y2="426.3" stroke="#2a2a2a" stroke-width="1.2" />
<text x="284.6" y="429.41" font-size="8.7" text-anchor="end" font-weight="normal" fill="#2a2a2a" stroke="#2a2a2a" stroke-width="0.22" >0</text>
<line x1="286.4" y1="388.6" x2="290" y2="388.6" stroke="#2a2a2a" stroke-width="1.2" />
<text x="284.6" y="391.71" font-size="8.7" text-anchor="end" font-weight="normal" fill="#2a2a2a" stroke="#2a2a2a" stroke-width="0.22" >2</text>
<line x1="286.4" y1="350.9" x2="290" y2="350.9" stroke="#2a2a2a" stroke-width="1.2" />
<text x="284.6" y="354.01" font-size="8.7" text-anchor="end" font-weight="normal" fill="#2a2a2a" stroke="#2a2a2a" stroke-width="0.22" >4</text>
<line x1="286.4" y1="313.2" x2="290" y2="313.2" stroke="#2a2a2a" stroke-width="1.2" />
<text x="284.6" y="316.31" font-size="8.7" text-anchor="end" font-weight="normal" fill="#2a2a2a" stroke="#2a2a2a" stroke-width="0.22" >6</text>
<line x1="286.4" y1="275.5" x2="290" y2="275.5" stroke="#2a2a2a" stroke-width="1.2" />
<text x="284.6" y="278.61" font-size="8.7" text-anchor="end" font-weight="normal" fill="#2a2a2a" stroke="#2a2a2a" stroke-width="0.22" >8</text>
<line x1="290" y1="426.3" x2="334.4" y2="426.3" stroke="#2a2a2a" stroke-width="1.2" />
<rect x="292.7" y="407.45" width="7" height="18.85" fill="#f9cfd0" stroke="#333" stroke-width="0.7" />
<line x1="296.2" y1="407.45" x2="296.2" y2="405.56" stroke="#222" stroke-width="0.9" />
<line x1="294" y1="405.56" x2="298.4" y2="405.56" stroke="#222" stroke-width="0.9" />
<rect x="303.3" y="407.45" width="7" height="18.85" fill="#f08a8e" stroke="#333" stroke-width="0.7" />
<line x1="306.8" y1="407.45" x2="306.8" y2="405.19" stroke="#222" stroke-width="0.9" />
<line x1="304.6" y1="405.19" x2="309" y2="405.19" stroke="#222" stroke-width="0.9" />
<rect x="313.6" y="395.2" width="6.9" height="31.1" fill="#aab2e2" stroke="#333" stroke-width="0.7" />
<line x1="317.05" y1="395.2" x2="317.05" y2="389.54" stroke="#222" stroke-width="0.9" />
<line x1="314.85" y1="389.54" x2="319.25" y2="389.54" stroke="#222" stroke-width="0.9" />
<rect x="323.8" y="384.83" width="7.3" height="41.47" fill="#5565b5" stroke="#333" stroke-width="0.7" />
<line x1="327.45" y1="384.83" x2="327.45" y2="377.29" stroke="#222" stroke-width="0.9" />
<line x1="325.25" y1="377.29" x2="329.65" y2="377.29" stroke="#222" stroke-width="0.9" />
<circle cx="296" cy="399.91" r="2.1" fill="#fff" stroke="#1a1a1a" stroke-width="0.95"/>
<circle cx="294.5" cy="402.74" r="2.1" fill="#fff" stroke="#1a1a1a" stroke-width="0.95"/>
<circle cx="297.5" cy="404.62" r="2.1" fill="#fff" stroke="#1a1a1a" stroke-width="0.95"/>
<circle cx="295" cy="406.51" r="2.1" fill="#fff" stroke="#1a1a1a" stroke-width="0.95"/>
<circle cx="297" cy="407.45" r="2.1" fill="#fff" stroke="#1a1a1a" stroke-width="0.95"/>
<circle cx="294.5" cy="408.39" r="2.1" fill="#fff" stroke="#1a1a1a" stroke-width="0.95"/>
<circle cx="297.5" cy="410.28" r="2.1" fill="#fff" stroke="#1a1a1a" stroke-width="0.95"/>
<circle cx="296" cy="413.11" r="2.1" fill="#fff" stroke="#1a1a1a" stroke-width="0.95"/>
<circle cx="307" cy="381.06" r="2.1" fill="#fff" stroke="#1a1a1a" stroke-width="0.95"/>
<circle cx="307" cy="402.74" r="2.1" fill="#fff" stroke="#1a1a1a" stroke-width="0.95"/>
<circle cx="305.5" cy="405.56" r="2.1" fill="#fff" stroke="#1a1a1a" stroke-width="0.95"/>
<circle cx="308.5" cy="407.45" r="2.1" fill="#fff" stroke="#1a1a1a" stroke-width="0.95"/>
<circle cx="306" cy="409.34" r="2.1" fill="#fff" stroke="#1a1a1a" stroke-width="0.95"/>
<circle cx="308" cy="411.22" r="2.1" fill="#fff" stroke="#1a1a1a" stroke-width="0.95"/>
<circle cx="306.5" cy="414.05" r="2.1" fill="#fff" stroke="#1a1a1a" stroke-width="0.95"/>
<circle cx="317" cy="342.42" r="2.1" fill="#fff" stroke="#1a1a1a" stroke-width="0.95"/>
<circle cx="317" cy="373.52" r="2.1" fill="#fff" stroke="#1a1a1a" stroke-width="0.95"/>
<circle cx="317" cy="394.25" r="2.1" fill="#fff" stroke="#1a1a1a" stroke-width="0.95"/>
<circle cx="315.5" cy="397.08" r="2.1" fill="#fff" stroke="#1a1a1a" stroke-width="0.95"/>
<circle cx="318.5" cy="399.91" r="2.1" fill="#fff" stroke="#1a1a1a" stroke-width="0.95"/>
<circle cx="316" cy="402.74" r="2.1" fill="#fff" stroke="#1a1a1a" stroke-width="0.95"/>
<circle cx="318" cy="405.56" r="2.1" fill="#fff" stroke="#1a1a1a" stroke-width="0.95"/>
<circle cx="316.5" cy="409.34" r="2.1" fill="#fff" stroke="#1a1a1a" stroke-width="0.95"/>
<circle cx="317.5" cy="413.11" r="2.1" fill="#fff" stroke="#1a1a1a" stroke-width="0.95"/>
<circle cx="327.5" cy="307.55" r="2.1" fill="#fff" stroke="#1a1a1a" stroke-width="0.95"/>
<circle cx="327.5" cy="344.3" r="2.1" fill="#fff" stroke="#1a1a1a" stroke-width="0.95"/>
<circle cx="327.5" cy="354.67" r="2.1" fill="#fff" stroke="#1a1a1a" stroke-width="0.95"/>
<circle cx="327.5" cy="363.15" r="2.1" fill="#fff" stroke="#1a1a1a" stroke-width="0.95"/>
<circle cx="327.5" cy="390.49" r="2.1" fill="#fff" stroke="#1a1a1a" stroke-width="0.95"/>
<circle cx="326" cy="398.03" r="2.1" fill="#fff" stroke="#1a1a1a" stroke-width="0.95"/>
<circle cx="329" cy="399.91" r="2.1" fill="#fff" stroke="#1a1a1a" stroke-width="0.95"/>
<circle cx="326.5" cy="403.68" r="2.1" fill="#fff" stroke="#1a1a1a" stroke-width="0.95"/>
<circle cx="328.5" cy="404.62" r="2.1" fill="#fff" stroke="#1a1a1a" stroke-width="0.95"/>
<path d="M308,331.5 L308,295.1 L327.9,295.1 L327.9,299.3" stroke="#333" stroke-width="1.0" fill="none" />
<text x="321.7" y="297.11" font-size="10.5" text-anchor="middle" font-weight="bold" fill="#222" >**</text>
<line x1="350.3" y1="426.3" x2="350.3" y2="276.3" stroke="#2a2a2a" stroke-width="1.2" />
<line x1="346.7" y1="426.3" x2="350.3" y2="426.3" stroke="#2a2a2a" stroke-width="1.2" />
<text x="344.9" y="429.41" font-size="8.7" text-anchor="end" font-weight="normal" fill="#2a2a2a" stroke="#2a2a2a" stroke-width="0.22" >0</text>
<line x1="346.7" y1="396.3" x2="350.3" y2="396.3" stroke="#2a2a2a" stroke-width="1.2" />
<text x="344.9" y="399.41" font-size="8.7" text-anchor="end" font-weight="normal" fill="#2a2a2a" stroke="#2a2a2a" stroke-width="0.22" >1</text>
<line x1="346.7" y1="366.3" x2="350.3" y2="366.3" stroke="#2a2a2a" stroke-width="1.2" />
<text x="344.9" y="369.41" font-size="8.7" text-anchor="end" font-weight="normal" fill="#2a2a2a" stroke="#2a2a2a" stroke-width="0.22" >2</text>
<line x1="346.7" y1="336.3" x2="350.3" y2="336.3" stroke="#2a2a2a" stroke-width="1.2" />
<text x="344.9" y="339.41" font-size="8.7" text-anchor="end" font-weight="normal" fill="#2a2a2a" stroke="#2a2a2a" stroke-width="0.22" >3</text>
<line x1="346.7" y1="306.3" x2="350.3" y2="306.3" stroke="#2a2a2a" stroke-width="1.2" />
<text x="344.9" y="309.41" font-size="8.7" text-anchor="end" font-weight="normal" fill="#2a2a2a" stroke="#2a2a2a" stroke-width="0.22" >4</text>
<line x1="346.7" y1="276.3" x2="350.3" y2="276.3" stroke="#2a2a2a" stroke-width="1.2" />
<text x="344.9" y="279.41" font-size="8.7" text-anchor="end" font-weight="normal" fill="#2a2a2a" stroke="#2a2a2a" stroke-width="0.22" >5</text>
<line x1="350.3" y1="426.3" x2="395.3" y2="426.3" stroke="#2a2a2a" stroke-width="1.2" />
<rect x="353.4" y="396.3" width="7.6" height="30" fill="#f9cfd0" stroke="#333" stroke-width="0.7" />
<line x1="357.2" y1="396.3" x2="357.2" y2="393.3" stroke="#222" stroke-width="0.9" />
<line x1="355" y1="393.3" x2="359.4" y2="393.3" stroke="#222" stroke-width="0.9" />
<rect x="363.6" y="388.8" width="7.6" height="37.5" fill="#f08a8e" stroke="#333" stroke-width="0.7" />
<line x1="367.4" y1="388.8" x2="367.4" y2="385.2" stroke="#222" stroke-width="0.9" />
<line x1="365.2" y1="385.2" x2="369.6" y2="385.2" stroke="#222" stroke-width="0.9" />
<rect x="373.8" y="373.8" width="7.6" height="52.5" fill="#aab2e2" stroke="#333" stroke-width="0.7" />
<line x1="377.6" y1="373.8" x2="377.6" y2="367.8" stroke="#222" stroke-width="0.9" />
<line x1="375.4" y1="367.8" x2="379.8" y2="367.8" stroke="#222" stroke-width="0.9" />
<rect x="384" y="361.8" width="7.6" height="64.5" fill="#5565b5" stroke="#333" stroke-width="0.7" />
<line x1="387.8" y1="361.8" x2="387.8" y2="352.8" stroke="#222" stroke-width="0.9" />
<line x1="385.6" y1="352.8" x2="390" y2="352.8" stroke="#222" stroke-width="0.9" />
<circle cx="357" cy="376.8" r="2.1" fill="#fff" stroke="#1a1a1a" stroke-width="0.95"/>
<circle cx="355.5" cy="390.3" r="2.1" fill="#fff" stroke="#1a1a1a" stroke-width="0.95"/>
<circle cx="358.5" cy="391.8" r="2.1" fill="#fff" stroke="#1a1a1a" stroke-width="0.95"/>
<circle cx="356" cy="394.8" r="2.1" fill="#fff" stroke="#1a1a1a" stroke-width="0.95"/>
<circle cx="358" cy="397.8" r="2.1" fill="#fff" stroke="#1a1a1a" stroke-width="0.95"/>
<circle cx="356.5" cy="400.8" r="2.1" fill="#fff" stroke="#1a1a1a" stroke-width="0.95"/>
<circle cx="357.5" cy="403.8" r="2.1" fill="#fff" stroke="#1a1a1a" stroke-width="0.95"/>
<circle cx="357" cy="406.8" r="2.1" fill="#fff" stroke="#1a1a1a" stroke-width="0.95"/>
<circle cx="367" cy="370.8" r="2.1" fill="#fff" stroke="#1a1a1a" stroke-width="0.95"/>
<circle cx="365.5" cy="373.8" r="2.1" fill="#fff" stroke="#1a1a1a" stroke-width="0.95"/>
<circle cx="368.5" cy="376.8" r="2.1" fill="#fff" stroke="#1a1a1a" stroke-width="0.95"/>
<circle cx="367" cy="382.8" r="2.1" fill="#fff" stroke="#1a1a1a" stroke-width="0.95"/>
<circle cx="366" cy="388.8" r="2.1" fill="#fff" stroke="#1a1a1a" stroke-width="0.95"/>
<circle cx="368" cy="394.8" r="2.1" fill="#fff" stroke="#1a1a1a" stroke-width="0.95"/>
<circle cx="366.5" cy="397.8" r="2.1" fill="#fff" stroke="#1a1a1a" stroke-width="0.95"/>
<circle cx="368" cy="403.8" r="2.1" fill="#fff" stroke="#1a1a1a" stroke-width="0.95"/>
<circle cx="367" cy="408.3" r="2.1" fill="#fff" stroke="#1a1a1a" stroke-width="0.95"/>
<circle cx="366.5" cy="412.8" r="2.1" fill="#fff" stroke="#1a1a1a" stroke-width="0.95"/>
<circle cx="377.4" cy="295.2" r="2.1" fill="#fff" stroke="#1a1a1a" stroke-width="0.95"/>
<circle cx="376.5" cy="349.8" r="2.1" fill="#fff" stroke="#1a1a1a" stroke-width="0.95"/>
<circle cx="378.5" cy="349.8" r="2.1" fill="#fff" stroke="#1a1a1a" stroke-width="0.95"/>
<circle cx="377.5" cy="363.3" r="2.1" fill="#fff" stroke="#1a1a1a" stroke-width="0.95"/>
<circle cx="377.5" cy="370.8" r="2.1" fill="#fff" stroke="#1a1a1a" stroke-width="0.95"/>
<circle cx="376.5" cy="381.3" r="2.1" fill="#fff" stroke="#1a1a1a" stroke-width="0.95"/>
<circle cx="378.5" cy="391.8" r="2.1" fill="#fff" stroke="#1a1a1a" stroke-width="0.95"/>
<circle cx="377" cy="397.8" r="2.1" fill="#fff" stroke="#1a1a1a" stroke-width="0.95"/>
<circle cx="378" cy="400.8" r="2.1" fill="#fff" stroke="#1a1a1a" stroke-width="0.95"/>
<circle cx="377" cy="403.8" r="2.1" fill="#fff" stroke="#1a1a1a" stroke-width="0.95"/>
<circle cx="388" cy="310.8" r="2.1" fill="#fff" stroke="#1a1a1a" stroke-width="0.95"/>
<circle cx="387" cy="315.3" r="2.1" fill="#fff" stroke="#1a1a1a" stroke-width="0.95"/>
<circle cx="388" cy="324.3" r="2.1" fill="#fff" stroke="#1a1a1a" stroke-width="0.95"/>
<circle cx="388" cy="328.8" r="2.1" fill="#fff" stroke="#1a1a1a" stroke-width="0.95"/>
<circle cx="388" cy="334.8" r="2.1" fill="#fff" stroke="#1a1a1a" stroke-width="0.95"/>
<circle cx="388" cy="348.3" r="2.1" fill="#fff" stroke="#1a1a1a" stroke-width="0.95"/>
<circle cx="388" cy="357.3" r="2.1" fill="#fff" stroke="#1a1a1a" stroke-width="0.95"/>
<circle cx="386.5" cy="376.8" r="2.1" fill="#fff" stroke="#1a1a1a" stroke-width="0.95"/>
<circle cx="389.5" cy="381.3" r="2.1" fill="#fff" stroke="#1a1a1a" stroke-width="0.95"/>
<circle cx="388" cy="387.3" r="2.1" fill="#fff" stroke="#1a1a1a" stroke-width="0.95"/>
<circle cx="386.5" cy="390.3" r="2.1" fill="#fff" stroke="#1a1a1a" stroke-width="0.95"/>
<circle cx="389" cy="396.3" r="2.1" fill="#fff" stroke="#1a1a1a" stroke-width="0.95"/>
<circle cx="388" cy="402.3" r="2.1" fill="#fff" stroke="#1a1a1a" stroke-width="0.95"/>
<path d="M368.8,344 L368.8,289.4 L388,289.4 L388,294.4" stroke="#333" stroke-width="1.0" fill="none" />
<text x="378.7" y="292.11" font-size="10.5" text-anchor="middle" font-weight="bold" fill="#222" >*</text>
<rect x="399.2" y="279.7" width="8.6" height="5.6" fill="#f9cfd0" stroke="#333" stroke-width="0.7" />
<text x="410.4" y="285.45" font-size="8.25" text-anchor="start" font-weight="normal" fill="#222" stroke="#222" stroke-width="0.22" >ZT1 iso</text>
<rect x="399.2" y="289.6" width="8.6" height="5.6" fill="#f08a8e" stroke="#333" stroke-width="0.7" />
<text x="410.4" y="295.35" font-size="8.25" text-anchor="start" font-weight="normal" fill="#222" stroke="#222" stroke-width="0.22" >ZT13 iso</text>
<rect x="399.2" y="299.5" width="8.6" height="5.6" fill="#aab2e2" stroke="#333" stroke-width="0.7" />
<text x="410.4" y="305.25" font-size="8.25" text-anchor="start" font-weight="normal" fill="#222" stroke="#222" stroke-width="0.22" >ZT1 αPD-1</text>
<rect x="399.2" y="309.4" width="8.6" height="5.6" fill="#5565b5" stroke="#333" stroke-width="0.7" />
<text x="410.4" y="315.15" font-size="8.25" text-anchor="start" font-weight="normal" fill="#222" stroke="#222" stroke-width="0.22" >ZT13 αPD-1</text>
<text x="451.4" y="246.89" font-size="18" text-anchor="start" font-weight="bold" fill="#1a1a1a" >G</text>
<text x="550.4" y="258.48" font-size="11.4" text-anchor="middle" font-weight="normal" fill="#222" stroke="#222" stroke-width="0.22" >CD8<tspan dy="-4" font-size="6">+</tspan></text>
<text x="498.1" y="269.58" font-size="11.4" text-anchor="start" font-weight="normal" fill="#222" stroke="#222" stroke-width="0.22" >IFNγ<tspan dy="-4" font-size="6">+</tspan></text>
<text x="566.1" y="269.58" font-size="11.4" text-anchor="start" font-weight="normal" fill="#222" stroke="#222" stroke-width="0.22" >GZMB<tspan dy="-4" font-size="6">+</tspan></text>
<text transform="translate(466.95,349.6) rotate(-90)" font-size="11.6" text-anchor="middle" fill="#2a2a2a" stroke="#2a2a2a" stroke-width="0.22">Fold change to isotype control</text>
<rect x="511.1" y="274.1" width="23.3" height="152.2" fill="#ababab" stroke="none" stroke-width="0" />
<rect x="579" y="274.1" width="23.4" height="153" fill="#ababab" stroke="none" stroke-width="0" />
<line x1="490.1" y1="426.3" x2="490.1" y2="276.3" stroke="#2a2a2a" stroke-width="1.2" />
<line x1="486.5" y1="426.3" x2="490.1" y2="426.3" stroke="#2a2a2a" stroke-width="1.2" />
<text x="484.7" y="429.41" font-size="8.7" text-anchor="end" font-weight="normal" fill="#2a2a2a" stroke="#2a2a2a" stroke-width="0.22" >0</text>
<line x1="486.5" y1="396.3" x2="490.1" y2="396.3" stroke="#2a2a2a" stroke-width="1.2" />
<text x="484.7" y="399.41" font-size="8.7" text-anchor="end" font-weight="normal" fill="#2a2a2a" stroke="#2a2a2a" stroke-width="0.22" >1</text>
<line x1="486.5" y1="366.3" x2="490.1" y2="366.3" stroke="#2a2a2a" stroke-width="1.2" />
<text x="484.7" y="369.41" font-size="8.7" text-anchor="end" font-weight="normal" fill="#2a2a2a" stroke="#2a2a2a" stroke-width="0.22" >2</text>
<line x1="486.5" y1="336.3" x2="490.1" y2="336.3" stroke="#2a2a2a" stroke-width="1.2" />
<text x="484.7" y="339.41" font-size="8.7" text-anchor="end" font-weight="normal" fill="#2a2a2a" stroke="#2a2a2a" stroke-width="0.22" >3</text>
<line x1="486.5" y1="306.3" x2="490.1" y2="306.3" stroke="#2a2a2a" stroke-width="1.2" />
<text x="484.7" y="309.41" font-size="8.7" text-anchor="end" font-weight="normal" fill="#2a2a2a" stroke="#2a2a2a" stroke-width="0.22" >4</text>
<line x1="486.5" y1="276.3" x2="490.1" y2="276.3" stroke="#2a2a2a" stroke-width="1.2" />
<text x="484.7" y="279.41" font-size="8.7" text-anchor="end" font-weight="normal" fill="#2a2a2a" stroke="#2a2a2a" stroke-width="0.22" >5</text>
<line x1="490.1" y1="426.3" x2="534.4" y2="426.3" stroke="#2a2a2a" stroke-width="1.2" />
<line x1="501.9" y1="426.3" x2="501.9" y2="429.5" stroke="#2a2a2a" stroke-width="1.1" />
<line x1="521.3" y1="426.3" x2="521.3" y2="429.5" stroke="#2a2a2a" stroke-width="1.1" />
<rect x="495.6" y="391.8" width="12.4" height="34.5" fill="#f09498" stroke="#333" stroke-width="0.7" />
<line x1="501.8" y1="391.8" x2="501.8" y2="387.3" stroke="#222" stroke-width="0.9" />
<line x1="499.6" y1="387.3" x2="504" y2="387.3" stroke="#222" stroke-width="0.9" />
<rect x="514.8" y="369.3" width="12.7" height="57" fill="#a9b1e1" stroke="#333" stroke-width="0.7" />
<line x1="521.15" y1="369.3" x2="521.15" y2="361.8" stroke="#222" stroke-width="0.9" />
<line x1="518.95" y1="361.8" x2="523.35" y2="361.8" stroke="#222" stroke-width="0.9" />
<circle cx="501.9" cy="372.3" r="2.1" fill="#fff" stroke="#1a1a1a" stroke-width="0.95"/>
<circle cx="498.2" cy="379.8" r="2.1" fill="#fff" stroke="#1a1a1a" stroke-width="0.95"/>
<circle cx="506.4" cy="379.8" r="2.1" fill="#fff" stroke="#1a1a1a" stroke-width="0.95"/>
<circle cx="498.2" cy="390.3" r="2.1" fill="#fff" stroke="#1a1a1a" stroke-width="0.95"/>
<circle cx="503" cy="388.8" r="2.1" fill="#fff" stroke="#1a1a1a" stroke-width="0.95"/>
<circle cx="506.4" cy="394.8" r="2.1" fill="#fff" stroke="#1a1a1a" stroke-width="0.95"/>
<circle cx="498.2" cy="400.8" r="2.1" fill="#fff" stroke="#1a1a1a" stroke-width="0.95"/>
<circle cx="502.3" cy="405.3" r="2.1" fill="#fff" stroke="#1a1a1a" stroke-width="0.95"/>
<circle cx="502.3" cy="409.8" r="2.1" fill="#fff" stroke="#1a1a1a" stroke-width="0.95"/>
<circle cx="506.4" cy="390.3" r="2.1" fill="#fff" stroke="#1a1a1a" stroke-width="0.95"/>
<circle cx="521.3" cy="309.3" r="2.1" fill="#fff" stroke="#1a1a1a" stroke-width="0.95"/>
<circle cx="521.3" cy="346.8" r="2.1" fill="#fff" stroke="#1a1a1a" stroke-width="0.95"/>
<circle cx="517.2" cy="361.8" r="2.1" fill="#fff" stroke="#1a1a1a" stroke-width="0.95"/>
<circle cx="525.8" cy="358.8" r="2.1" fill="#fff" stroke="#1a1a1a" stroke-width="0.95"/>
<circle cx="521.3" cy="369.3" r="2.1" fill="#fff" stroke="#1a1a1a" stroke-width="0.95"/>
<circle cx="517.2" cy="379.8" r="2.1" fill="#fff" stroke="#1a1a1a" stroke-width="0.95"/>
<circle cx="525.8" cy="376.8" r="2.1" fill="#fff" stroke="#1a1a1a" stroke-width="0.95"/>
<circle cx="517.2" cy="385.8" r="2.1" fill="#fff" stroke="#1a1a1a" stroke-width="0.95"/>
<circle cx="525.8" cy="382.8" r="2.1" fill="#fff" stroke="#1a1a1a" stroke-width="0.95"/>
<circle cx="517.2" cy="393.3" r="2.1" fill="#fff" stroke="#1a1a1a" stroke-width="0.95"/>
<circle cx="525.8" cy="393.3" r="2.1" fill="#fff" stroke="#1a1a1a" stroke-width="0.95"/>
<path d="M501.9,299.3 L501.9,291 L521.5,291 L521.5,299.3" stroke="#333" stroke-width="1.0" fill="none" />
<text x="511.6" y="292.51" font-size="10.5" text-anchor="middle" font-weight="bold" fill="#222" >*</text>
<text x="493.5" y="439.51" font-size="8.4" text-anchor="end" font-weight="normal" fill="#222" stroke="#222" stroke-width="0.22" font-style="italic" >ZT</text>
<text x="501.9" y="440.21" font-size="8.4" text-anchor="middle" font-weight="normal" fill="#222" stroke="#222" stroke-width="0.22" >1</text>
<text x="521.3" y="440.21" font-size="8.4" text-anchor="middle" font-weight="normal" fill="#222" stroke="#222" stroke-width="0.22" >13</text>
<line x1="558.1" y1="427.1" x2="558.1" y2="278.9" stroke="#2a2a2a" stroke-width="1.2" />
<line x1="554.5" y1="427.1" x2="558.1" y2="427.1" stroke="#2a2a2a" stroke-width="1.2" />
<text x="552.7" y="430.21" font-size="8.7" text-anchor="end" font-weight="normal" fill="#2a2a2a" stroke="#2a2a2a" stroke-width="0.22" >0</text>
<line x1="554.5" y1="377.7" x2="558.1" y2="377.7" stroke="#2a2a2a" stroke-width="1.2" />
<text x="552.7" y="380.81" font-size="8.7" text-anchor="end" font-weight="normal" fill="#2a2a2a" stroke="#2a2a2a" stroke-width="0.22" >1</text>
<line x1="554.5" y1="328.3" x2="558.1" y2="328.3" stroke="#2a2a2a" stroke-width="1.2" />
<text x="552.7" y="331.41" font-size="8.7" text-anchor="end" font-weight="normal" fill="#2a2a2a" stroke="#2a2a2a" stroke-width="0.22" >2</text>
<line x1="554.5" y1="278.9" x2="558.1" y2="278.9" stroke="#2a2a2a" stroke-width="1.2" />
<text x="552.7" y="282.01" font-size="8.7" text-anchor="end" font-weight="normal" fill="#2a2a2a" stroke="#2a2a2a" stroke-width="0.22" >3</text>
<line x1="558.1" y1="427.1" x2="602.4" y2="427.1" stroke="#2a2a2a" stroke-width="1.2" />
<line x1="571.4" y1="427.1" x2="571.4" y2="430.3" stroke="#2a2a2a" stroke-width="1.1" />
<line x1="590.4" y1="427.1" x2="590.4" y2="430.3" stroke="#2a2a2a" stroke-width="1.1" />
<rect x="565" y="380.17" width="12.3" height="46.93" fill="#f09498" stroke="#333" stroke-width="0.7" />
<line x1="571.15" y1="380.17" x2="571.15" y2="375.23" stroke="#222" stroke-width="0.9" />
<line x1="568.95" y1="375.23" x2="573.35" y2="375.23" stroke="#222" stroke-width="0.9" />
<rect x="584.3" y="348.06" width="12" height="79.04" fill="#a9b1e1" stroke="#333" stroke-width="0.7" />
<line x1="590.3" y1="348.06" x2="590.3" y2="340.65" stroke="#222" stroke-width="0.9" />
<line x1="588.1" y1="340.65" x2="592.5" y2="340.65" stroke="#222" stroke-width="0.9" />
<circle cx="571.4" cy="350.53" r="2.1" fill="#fff" stroke="#1a1a1a" stroke-width="0.95"/>
<circle cx="571.4" cy="362.88" r="2.1" fill="#fff" stroke="#1a1a1a" stroke-width="0.95"/>
<circle cx="571.4" cy="367.82" r="2.1" fill="#fff" stroke="#1a1a1a" stroke-width="0.95"/>
<circle cx="571.4" cy="375.23" r="2.1" fill="#fff" stroke="#1a1a1a" stroke-width="0.95"/>
<circle cx="571.4" cy="380.17" r="2.1" fill="#fff" stroke="#1a1a1a" stroke-width="0.95"/>
<circle cx="571.4" cy="385.11" r="2.1" fill="#fff" stroke="#1a1a1a" stroke-width="0.95"/>
<circle cx="567.1" cy="392.52" r="2.1" fill="#fff" stroke="#1a1a1a" stroke-width="0.95"/>
<circle cx="575.2" cy="394.99" r="2.1" fill="#fff" stroke="#1a1a1a" stroke-width="0.95"/>
<circle cx="571.4" cy="402.4" r="2.1" fill="#fff" stroke="#1a1a1a" stroke-width="0.95"/>
<circle cx="586.1" cy="313.48" r="2.1" fill="#fff" stroke="#1a1a1a" stroke-width="0.95"/>
<circle cx="594.7" cy="313.48" r="2.1" fill="#fff" stroke="#1a1a1a" stroke-width="0.95"/>
<circle cx="590.4" cy="320.89" r="2.1" fill="#fff" stroke="#1a1a1a" stroke-width="0.95"/>
<circle cx="590.4" cy="328.3" r="2.1" fill="#fff" stroke="#1a1a1a" stroke-width="0.95"/>
<circle cx="590.4" cy="335.71" r="2.1" fill="#fff" stroke="#1a1a1a" stroke-width="0.95"/>
<circle cx="586.1" cy="357.94" r="2.1" fill="#fff" stroke="#1a1a1a" stroke-width="0.95"/>
<circle cx="594.7" cy="353" r="2.1" fill="#fff" stroke="#1a1a1a" stroke-width="0.95"/>
<circle cx="590.4" cy="363.87" r="2.1" fill="#fff" stroke="#1a1a1a" stroke-width="0.95"/>
<circle cx="586.1" cy="375.23" r="2.1" fill="#fff" stroke="#1a1a1a" stroke-width="0.95"/>
<circle cx="594.7" cy="376.71" r="2.1" fill="#fff" stroke="#1a1a1a" stroke-width="0.95"/>
<circle cx="590.4" cy="387.58" r="2.1" fill="#fff" stroke="#1a1a1a" stroke-width="0.95"/>
<path d="M571.3,302.7 L571.3,294.4 L590.2,294.4 L590.2,300.5" stroke="#333" stroke-width="1.0" fill="none" />
<text x="581.4" y="294.91" font-size="10.5" text-anchor="middle" font-weight="bold" fill="#222" >**</text>
<text x="562.6" y="439.51" font-size="8.4" text-anchor="end" font-weight="normal" fill="#222" stroke="#222" stroke-width="0.22" font-style="italic" >ZT</text>
<text x="571.4" y="440.61" font-size="8.4" text-anchor="middle" font-weight="normal" fill="#222" stroke="#222" stroke-width="0.22" >1</text>
<text x="590.4" y="440.61" font-size="8.4" text-anchor="middle" font-weight="normal" fill="#222" stroke="#222" stroke-width="0.22" >13</text>
<text x="625.4" y="246.89" font-size="18" text-anchor="start" font-weight="bold" fill="#1a1a1a" >H</text>
<text x="708.6" y="259.52" font-size="11.5" text-anchor="middle" font-weight="normal" fill="#222" stroke="#222" stroke-width="0.22" >anti-PD-1+OT-I</text>
<line x1="657.6" y1="426.5" x2="657.6" y2="272" stroke="#2a2a2a" stroke-width="1.2" />
<line x1="654" y1="426.5" x2="657.6" y2="426.5" stroke="#2a2a2a" stroke-width="1.2" />
<text x="652.2" y="429.61" font-size="8.7" text-anchor="end" font-weight="normal" fill="#2a2a2a" stroke="#2a2a2a" stroke-width="0.22" >0</text>
<line x1="654" y1="375" x2="657.6" y2="375" stroke="#2a2a2a" stroke-width="1.2" />
<text x="652.2" y="378.11" font-size="8.7" text-anchor="end" font-weight="normal" fill="#2a2a2a" stroke="#2a2a2a" stroke-width="0.22" >100</text>
<line x1="654" y1="323.5" x2="657.6" y2="323.5" stroke="#2a2a2a" stroke-width="1.2" />
<text x="652.2" y="326.61" font-size="8.7" text-anchor="end" font-weight="normal" fill="#2a2a2a" stroke="#2a2a2a" stroke-width="0.22" >200</text>
<line x1="654" y1="272" x2="657.6" y2="272" stroke="#2a2a2a" stroke-width="1.2" />
<text x="652.2" y="275.11" font-size="8.7" text-anchor="end" font-weight="normal" fill="#2a2a2a" stroke="#2a2a2a" stroke-width="0.22" >300</text>
<line x1="657.6" y1="426.5" x2="749.9" y2="426.5" stroke="#2a2a2a" stroke-width="1.2" />
<line x1="657.6" y1="426.5" x2="657.6" y2="430.5" stroke="#2a2a2a" stroke-width="1.2" />
<text x="657.6" y="440.31" font-size="8.7" text-anchor="middle" font-weight="normal" fill="#222" stroke="#222" stroke-width="0.22" >8</text>
<line x1="676.06" y1="426.5" x2="676.06" y2="430.5" stroke="#2a2a2a" stroke-width="1.2" />
<text x="676.06" y="440.31" font-size="8.7" text-anchor="middle" font-weight="normal" fill="#222" stroke="#222" stroke-width="0.22" >10</text>
<line x1="694.52" y1="426.5" x2="694.52" y2="430.5" stroke="#2a2a2a" stroke-width="1.2" />
<text x="694.52" y="440.31" font-size="8.7" text-anchor="middle" font-weight="normal" fill="#222" stroke="#222" stroke-width="0.22" >12</text>
<line x1="712.98" y1="426.5" x2="712.98" y2="430.5" stroke="#2a2a2a" stroke-width="1.2" />
<text x="712.98" y="440.31" font-size="8.7" text-anchor="middle" font-weight="normal" fill="#222" stroke="#222" stroke-width="0.22" >14</text>
<line x1="731.44" y1="426.5" x2="731.44" y2="430.5" stroke="#2a2a2a" stroke-width="1.2" />
<text x="731.44" y="440.31" font-size="8.7" text-anchor="middle" font-weight="normal" fill="#222" stroke="#222" stroke-width="0.22" >16</text>
<line x1="749.9" y1="426.5" x2="749.9" y2="430.5" stroke="#2a2a2a" stroke-width="1.2" />
<text x="749.9" y="440.31" font-size="8.7" text-anchor="middle" font-weight="normal" fill="#222" stroke="#222" stroke-width="0.22" >18</text>
<clipPath id="hclip"><rect x="600" y="430" width="200" height="16.3"/></clipPath>
<g clip-path="url(#hclip)">
<text x="696.7" y="448.61" font-size="8.4" text-anchor="middle" font-weight="normal" fill="#222" stroke="#222" stroke-width="0.22" >Days post engraftment</text>
</g>
<text transform="translate(633.88,355) rotate(-90)" font-size="11.4" text-anchor="middle" fill="#2a2a2a" stroke="#2a2a2a" stroke-width="0.22">Tumor volume/mm<tspan dy="-4.2" font-size="7.3">3</tspan></text>
<line x1="665.5" y1="360.5" x2="665.5" y2="377.3" stroke="#111" stroke-width="1.8" />
<path d="M661.9,376.3 L669.1,376.3 L665.5,384.8 Z" stroke="none" stroke-width="1" fill="#111" />
<line x1="657.6" y1="402.81" x2="657.6" y2="405.9" stroke="#a3a3a3" stroke-width="1.0" />
<line x1="655" y1="402.81" x2="660.2" y2="402.81" stroke="#a3a3a3" stroke-width="1.0" />
<line x1="655" y1="405.9" x2="660.2" y2="405.9" stroke="#a3a3a3" stroke-width="1.0" />
<line x1="676.06" y1="389.42" x2="676.06" y2="394.57" stroke="#a3a3a3" stroke-width="1.0" />
<line x1="673.46" y1="389.42" x2="678.66" y2="389.42" stroke="#a3a3a3" stroke-width="1.0" />
<line x1="673.46" y1="394.57" x2="678.66" y2="394.57" stroke="#a3a3a3" stroke-width="1.0" />
<line x1="685.29" y1="368.31" x2="685.29" y2="383.75" stroke="#a3a3a3" stroke-width="1.0" />
<line x1="682.69" y1="368.31" x2="687.89" y2="368.31" stroke="#a3a3a3" stroke-width="1.0" />
<line x1="682.69" y1="383.75" x2="687.89" y2="383.75" stroke="#a3a3a3" stroke-width="1.0" />
<line x1="694.52" y1="362.12" x2="694.52" y2="377.57" stroke="#a3a3a3" stroke-width="1.0" />
<line x1="691.92" y1="362.12" x2="697.12" y2="362.12" stroke="#a3a3a3" stroke-width="1.0" />
<line x1="691.92" y1="377.57" x2="697.12" y2="377.57" stroke="#a3a3a3" stroke-width="1.0" />
<line x1="703.75" y1="330.19" x2="703.75" y2="358" stroke="#a3a3a3" stroke-width="1.0" />
<line x1="701.15" y1="330.19" x2="706.35" y2="330.19" stroke="#a3a3a3" stroke-width="1.0" />
<line x1="701.15" y1="358" x2="706.35" y2="358" stroke="#a3a3a3" stroke-width="1.0" />
<line x1="712.98" y1="311.65" x2="712.98" y2="344.62" stroke="#a3a3a3" stroke-width="1.0" />
<line x1="710.38" y1="311.65" x2="715.58" y2="311.65" stroke="#a3a3a3" stroke-width="1.0" />
<line x1="710.38" y1="344.62" x2="715.58" y2="344.62" stroke="#a3a3a3" stroke-width="1.0" />
<line x1="722.21" y1="296.72" x2="722.21" y2="337.92" stroke="#a3a3a3" stroke-width="1.0" />
<line x1="719.61" y1="296.72" x2="724.81" y2="296.72" stroke="#a3a3a3" stroke-width="1.0" />
<line x1="719.61" y1="337.92" x2="724.81" y2="337.92" stroke="#a3a3a3" stroke-width="1.0" />
<polyline points="657.6,404.36 676.06,392 685.29,376.03 694.52,369.85 703.75,344.1 712.98,328.13 722.21,317.32" fill="none" stroke="#a3a3a3" stroke-width="1.0"  stroke-linejoin="round"/>
<circle cx="657.6" cy="404.36" r="3.2" fill="#a3a3a3" stroke="none" stroke-width="0"/>
<circle cx="676.06" cy="392" r="3.2" fill="#a3a3a3" stroke="none" stroke-width="0"/>
<circle cx="685.29" cy="376.03" r="3.2" fill="#a3a3a3" stroke="none" stroke-width="0"/>
<circle cx="694.52" cy="369.85" r="3.2" fill="#a3a3a3" stroke="none" stroke-width="0"/>
<circle cx="703.75" cy="344.1" r="3.2" fill="#a3a3a3" stroke="none" stroke-width="0"/>
<circle cx="712.98" cy="328.13" r="3.2" fill="#a3a3a3" stroke="none" stroke-width="0"/>
<circle cx="722.21" cy="317.32" r="3.2" fill="#a3a3a3" stroke="none" stroke-width="0"/>
<polyline points="657.6,404.36 676.06,392.51 694.52,373.45 703.75,362.64 712.98,343.07 722.21,292.09" fill="none" stroke="#333" stroke-width="1.5" stroke-dasharray="2.6,1.6" stroke-linejoin="round"/>
<polyline points="657.6,404.36 676.06,390.45 685.29,381.18 694.52,364.7 703.75,338.95 712.98,346.68 731.44,362.12 740.67,359.55" fill="none" stroke="#f07070" stroke-width="1.3" stroke-dasharray="2.6,1.6" stroke-linejoin="round"/>
<polyline points="657.6,404.36 676.06,395.6 685.29,387.88 694.52,367.27 703.75,361.1 712.98,364.7 722.21,376.03 731.44,381.18 740.67,381.69" fill="none" stroke="#a0a0e0" stroke-width="1.3" stroke-dasharray="2.6,1.6" stroke-linejoin="round"/>
<line x1="657.6" y1="403.84" x2="657.6" y2="406.93" stroke="#8788cc" stroke-width="1.0" />
<line x1="654.6" y1="403.84" x2="660.6" y2="403.84" stroke="#8788cc" stroke-width="1.0" />
<line x1="654.6" y1="406.93" x2="660.6" y2="406.93" stroke="#8788cc" stroke-width="1.0" />
<line x1="676.06" y1="395.08" x2="676.06" y2="401.26" stroke="#8788cc" stroke-width="1.0" />
<line x1="673.06" y1="395.08" x2="679.06" y2="395.08" stroke="#8788cc" stroke-width="1.0" />
<line x1="673.06" y1="401.26" x2="679.06" y2="401.26" stroke="#8788cc" stroke-width="1.0" />
<line x1="685.29" y1="391.48" x2="685.29" y2="399.72" stroke="#8788cc" stroke-width="1.0" />
<line x1="682.29" y1="391.48" x2="688.29" y2="391.48" stroke="#8788cc" stroke-width="1.0" />
<line x1="682.29" y1="399.72" x2="688.29" y2="399.72" stroke="#8788cc" stroke-width="1.0" />
<line x1="694.52" y1="384.78" x2="694.52" y2="398.18" stroke="#8788cc" stroke-width="1.0" />
<line x1="691.52" y1="384.78" x2="697.52" y2="384.78" stroke="#8788cc" stroke-width="1.0" />
<line x1="691.52" y1="398.18" x2="697.52" y2="398.18" stroke="#8788cc" stroke-width="1.0" />
<line x1="703.75" y1="382.73" x2="703.75" y2="398.18" stroke="#8788cc" stroke-width="1.0" />
<line x1="700.75" y1="382.73" x2="706.75" y2="382.73" stroke="#8788cc" stroke-width="1.0" />
<line x1="700.75" y1="398.18" x2="706.75" y2="398.18" stroke="#8788cc" stroke-width="1.0" />
<line x1="712.98" y1="394.57" x2="712.98" y2="404.87" stroke="#8788cc" stroke-width="1.0" />
<line x1="709.98" y1="394.57" x2="715.98" y2="394.57" stroke="#8788cc" stroke-width="1.0" />
<line x1="709.98" y1="404.87" x2="715.98" y2="404.87" stroke="#8788cc" stroke-width="1.0" />
<line x1="722.21" y1="394.57" x2="722.21" y2="404.87" stroke="#8788cc" stroke-width="1.0" />
<line x1="719.21" y1="394.57" x2="725.21" y2="394.57" stroke="#8788cc" stroke-width="1.0" />
<line x1="719.21" y1="404.87" x2="725.21" y2="404.87" stroke="#8788cc" stroke-width="1.0" />
<line x1="731.44" y1="400.75" x2="731.44" y2="408.99" stroke="#8788cc" stroke-width="1.0" />
<line x1="728.44" y1="400.75" x2="734.44" y2="400.75" stroke="#8788cc" stroke-width="1.0" />
<line x1="728.44" y1="408.99" x2="734.44" y2="408.99" stroke="#8788cc" stroke-width="1.0" />
<line x1="740.67" y1="389.94" x2="740.67" y2="408.48" stroke="#8788cc" stroke-width="1.0" />
<line x1="737.67" y1="389.94" x2="743.67" y2="389.94" stroke="#8788cc" stroke-width="1.0" />
<line x1="737.67" y1="408.48" x2="743.67" y2="408.48" stroke="#8788cc" stroke-width="1.0" />
<line x1="749.9" y1="388.39" x2="749.9" y2="405.9" stroke="#8788cc" stroke-width="1.0" />
<line x1="746.9" y1="388.39" x2="752.9" y2="388.39" stroke="#8788cc" stroke-width="1.0" />
<line x1="746.9" y1="405.9" x2="752.9" y2="405.9" stroke="#8788cc" stroke-width="1.0" />
<polyline points="657.6,405.38 676.06,398.18 685.29,395.6 694.52,391.48 703.75,390.45 712.98,399.72 722.21,399.72 731.44,404.87 740.67,399.2 749.9,397.14" fill="none" stroke="#8788cc" stroke-width="1.0"  stroke-linejoin="round"/>
<circle cx="657.6" cy="405.38" r="2.9" fill="#8788cc" stroke="none" stroke-width="0"/>
<circle cx="676.06" cy="398.18" r="2.9" fill="#8788cc" stroke="none" stroke-width="0"/>
<circle cx="685.29" cy="395.6" r="2.9" fill="#8788cc" stroke="none" stroke-width="0"/>
<circle cx="694.52" cy="391.48" r="2.9" fill="#8788cc" stroke="none" stroke-width="0"/>
<circle cx="703.75" cy="390.45" r="2.9" fill="#8788cc" stroke="none" stroke-width="0"/>
<circle cx="712.98" cy="399.72" r="2.9" fill="#8788cc" stroke="none" stroke-width="0"/>
<circle cx="722.21" cy="399.72" r="2.9" fill="#8788cc" stroke="none" stroke-width="0"/>
<circle cx="731.44" cy="404.87" r="2.9" fill="#8788cc" stroke="none" stroke-width="0"/>
<circle cx="740.67" cy="399.2" r="2.9" fill="#8788cc" stroke="none" stroke-width="0"/>
<circle cx="749.9" cy="397.14" r="2.9" fill="#8788cc" stroke="none" stroke-width="0"/>
<line x1="657.6" y1="402.81" x2="657.6" y2="405.9" stroke="#ee7e84" stroke-width="1.0" />
<line x1="654.6" y1="402.81" x2="660.6" y2="402.81" stroke="#ee7e84" stroke-width="1.0" />
<line x1="654.6" y1="405.9" x2="660.6" y2="405.9" stroke="#ee7e84" stroke-width="1.0" />
<line x1="676.06" y1="387.88" x2="676.06" y2="393.02" stroke="#ee7e84" stroke-width="1.0" />
<line x1="673.06" y1="387.88" x2="679.06" y2="387.88" stroke="#ee7e84" stroke-width="1.0" />
<line x1="673.06" y1="393.02" x2="679.06" y2="393.02" stroke="#ee7e84" stroke-width="1.0" />
<line x1="685.29" y1="377.06" x2="685.29" y2="385.3" stroke="#ee7e84" stroke-width="1.0" />
<line x1="682.29" y1="377.06" x2="688.29" y2="377.06" stroke="#ee7e84" stroke-width="1.0" />
<line x1="682.29" y1="385.3" x2="688.29" y2="385.3" stroke="#ee7e84" stroke-width="1.0" />
<line x1="694.52" y1="367.27" x2="694.52" y2="377.57" stroke="#ee7e84" stroke-width="1.0" />
<line x1="691.52" y1="367.27" x2="697.52" y2="367.27" stroke="#ee7e84" stroke-width="1.0" />
<line x1="691.52" y1="377.57" x2="697.52" y2="377.57" stroke="#ee7e84" stroke-width="1.0" />
<line x1="703.75" y1="363.15" x2="703.75" y2="375.51" stroke="#ee7e84" stroke-width="1.0" />
<line x1="700.75" y1="363.15" x2="706.75" y2="363.15" stroke="#ee7e84" stroke-width="1.0" />
<line x1="700.75" y1="375.51" x2="706.75" y2="375.51" stroke="#ee7e84" stroke-width="1.0" />
<line x1="712.98" y1="371.91" x2="712.98" y2="384.27" stroke="#ee7e84" stroke-width="1.0" />
<line x1="709.98" y1="371.91" x2="715.98" y2="371.91" stroke="#ee7e84" stroke-width="1.0" />
<line x1="709.98" y1="384.27" x2="715.98" y2="384.27" stroke="#ee7e84" stroke-width="1.0" />
<line x1="722.21" y1="372.94" x2="722.21" y2="383.24" stroke="#ee7e84" stroke-width="1.0" />
<line x1="719.21" y1="372.94" x2="725.21" y2="372.94" stroke="#ee7e84" stroke-width="1.0" />
<line x1="719.21" y1="383.24" x2="725.21" y2="383.24" stroke="#ee7e84" stroke-width="1.0" />
<line x1="731.44" y1="373.45" x2="731.44" y2="383.75" stroke="#ee7e84" stroke-width="1.0" />
<line x1="728.44" y1="373.45" x2="734.44" y2="373.45" stroke="#ee7e84" stroke-width="1.0" />
<line x1="728.44" y1="383.75" x2="734.44" y2="383.75" stroke="#ee7e84" stroke-width="1.0" />
<line x1="740.67" y1="365.73" x2="740.67" y2="382.21" stroke="#ee7e84" stroke-width="1.0" />
<line x1="737.67" y1="365.73" x2="743.67" y2="365.73" stroke="#ee7e84" stroke-width="1.0" />
<line x1="737.67" y1="382.21" x2="743.67" y2="382.21" stroke="#ee7e84" stroke-width="1.0" />
<line x1="749.9" y1="361.61" x2="749.9" y2="378.09" stroke="#ee7e84" stroke-width="1.0" />
<line x1="746.9" y1="361.61" x2="752.9" y2="361.61" stroke="#ee7e84" stroke-width="1.0" />
<line x1="746.9" y1="378.09" x2="752.9" y2="378.09" stroke="#ee7e84" stroke-width="1.0" />
<polyline points="657.6,404.36 676.06,390.45 685.29,381.18 694.52,372.43 703.75,369.33 712.98,378.09 722.21,378.09 731.44,378.61 740.67,373.97 749.9,369.85" fill="none" stroke="#ee7e84" stroke-width="1.0"  stroke-linejoin="round"/>
<circle cx="657.6" cy="404.36" r="2.9" fill="#ee7e84" stroke="none" stroke-width="0"/>
<circle cx="676.06" cy="390.45" r="2.9" fill="#ee7e84" stroke="none" stroke-width="0"/>
<circle cx="685.29" cy="381.18" r="2.9" fill="#ee7e84" stroke="none" stroke-width="0"/>
<circle cx="694.52" cy="372.43" r="2.9" fill="#ee7e84" stroke="none" stroke-width="0"/>
<circle cx="703.75" cy="369.33" r="2.9" fill="#ee7e84" stroke="none" stroke-width="0"/>
<circle cx="712.98" cy="378.09" r="2.9" fill="#ee7e84" stroke="none" stroke-width="0"/>
<circle cx="722.21" cy="378.09" r="2.9" fill="#ee7e84" stroke="none" stroke-width="0"/>
<circle cx="731.44" cy="378.61" r="2.9" fill="#ee7e84" stroke="none" stroke-width="0"/>
<circle cx="740.67" cy="373.97" r="2.9" fill="#ee7e84" stroke="none" stroke-width="0"/>
<circle cx="749.9" cy="369.85" r="2.9" fill="#ee7e84" stroke="none" stroke-width="0"/>
<line x1="759.7" y1="267.9" x2="779" y2="267.9" stroke="#a3a3a3" stroke-width="1.2" />
<circle cx="769.35" cy="267.9" r="3.0" fill="#a3a3a3" stroke="none" stroke-width="0"/>
<text x="784.7" y="271.01" font-size="8.7" text-anchor="start" font-weight="normal" fill="#222" stroke="#222" stroke-width="0.22" >Control</text>
<line x1="759.7" y1="276.7" x2="779" y2="276.7" stroke="#333" stroke-width="1.4" stroke-dasharray="2.6,1.6"/>
<text x="784.7" y="279.81" font-size="8.7" text-anchor="start" font-weight="normal" fill="#222" stroke="#222" stroke-width="0.22" >OT-I Control</text>
<line x1="759.7" y1="284.5" x2="779" y2="284.5" stroke="#f07070" stroke-width="1.2" stroke-dasharray="2.6,1.6"/>
<text x="784.7" y="287.61" font-size="8.7" text-anchor="start" font-weight="normal" fill="#222" stroke="#222" stroke-width="0.22" >OT-I ZT1</text>
<line x1="759.7" y1="293.3" x2="779" y2="293.3" stroke="#a0a0e0" stroke-width="1.2" stroke-dasharray="2.6,1.6"/>
<text x="784.7" y="296.41" font-size="8.7" text-anchor="start" font-weight="normal" fill="#222" stroke="#222" stroke-width="0.22" >OT-I ZT13</text>
<line x1="759.7" y1="303.9" x2="779" y2="303.9" stroke="#ee7e84" stroke-width="1.2" />
<circle cx="769.35" cy="303.9" r="3.0" fill="#ee7e84" stroke="none" stroke-width="0"/>
<text x="784.7" y="307.01" font-size="8.7" text-anchor="start" font-weight="normal" fill="#222" stroke="#222" stroke-width="0.22" >OT-I+PD-1 ZT1</text>
<line x1="759.7" y1="314.2" x2="779" y2="314.2" stroke="#8788cc" stroke-width="1.2" />
<circle cx="769.35" cy="314.2" r="3.0" fill="#8788cc" stroke="none" stroke-width="0"/>
<text x="784.7" y="317.31" font-size="8.7" text-anchor="start" font-weight="normal" fill="#222" stroke="#222" stroke-width="0.22" >OT-I+PD-1 ZT13</text>
<path d="M854.2,301.7 L858.9,301.7 L858.9,313.6 L854.2,313.6" stroke="#222" stroke-width="1.1" fill="none" />
<text x="864.2" y="312.96" font-size="8" text-anchor="middle" font-weight="bold" fill="#222" >*</text>
<path d="M866.7,293.3 L871.4,293.3 L871.4,314.2 L866.7,314.2" stroke="#222" stroke-width="1.1" fill="none" />
<text x="877.7" y="308.96" font-size="8" text-anchor="middle" font-weight="bold" fill="#222" >*</text>
<text x="85.6" y="479.75" font-size="18.5" text-anchor="start" font-weight="bold" fill="#1a1a1a" >B</text>
<defs><filter id="soft" x="-5%" y="-5%" width="110%" height="110%"><feGaussianBlur stdDeviation="1.0"/></filter><filter id="soft2" x="-20%" y="-20%" width="140%" height="140%"><feGaussianBlur stdDeviation="1.3"/></filter></defs>
<clipPath id="hc7"><rect x="86.1" y="497.2" width="140.8" height="137.6"/></clipPath>
<g clip-path="url(#hc7)">
<rect x="86.1" y="497.2" width="140.8" height="137.6" fill="#e5e5e1" stroke="none" stroke-width="0" />
<g filter="url(#soft)">
<path d="M131.7,518.0 Q140.8,521.2 149.4,526.6" stroke="#c4b6a4" stroke-width="1.2" fill="none" stroke-opacity="0.7"/>
<path d="M94.3,567.0 Q86.9,565.5 86.3,570.5" stroke="#c4b6a4" stroke-width="1.2" fill="none" stroke-opacity="0.7"/>
<path d="M145.9,611.0 Q147.7,619.6 147.6,621.1" stroke="#c4b6a4" stroke-width="1.2" fill="none" stroke-opacity="0.7"/>
<path d="M167.4,551.8 Q182.5,553.8 191.8,559.2" stroke="#c4b6a4" stroke-width="1.2" fill="none" stroke-opacity="0.7"/>
<path d="M106.4,513.4 Q106.6,507.9 111.9,501.0" stroke="#c4b6a4" stroke-width="1.2" fill="none" stroke-opacity="0.7"/>
<path d="M176.1,548.4 Q180.8,549.5 192.5,555.3" stroke="#c4b6a4" stroke-width="1.2" fill="none" stroke-opacity="0.7"/>
<path d="M181.9,556.0 Q175.7,550.9 170.2,549.0" stroke="#c4b6a4" stroke-width="1.2" fill="none" stroke-opacity="0.7"/>
<path d="M197.9,593.4 Q192.6,593.6 186.9,587.8" stroke="#c4b6a4" stroke-width="1.2" fill="none" stroke-opacity="0.7"/>
<path d="M188.8,536.8 Q197.6,547.5 207.7,554.1" stroke="#c4b6a4" stroke-width="1.2" fill="none" stroke-opacity="0.7"/>
<path d="M107.5,564.5 Q107.5,561.3 103.2,556.9" stroke="#c4b6a4" stroke-width="1.2" fill="none" stroke-opacity="0.7"/>
<path d="M209.4,540.4 Q201.5,534.3 192.4,528.9" stroke="#c4b6a4" stroke-width="1.2" fill="none" stroke-opacity="0.7"/>
<path d="M204.4,627.2 Q196.6,621.7 195.9,613.0" stroke="#c4b6a4" stroke-width="1.2" fill="none" stroke-opacity="0.7"/>
<path d="M177.2,633.9 Q173.8,646.3 172.3,656.1" stroke="#c4b6a4" stroke-width="1.2" fill="none" stroke-opacity="0.7"/>
<path d="M89.3,560.7 Q89.8,566.6 97.5,568.1" stroke="#c4b6a4" stroke-width="1.2" fill="none" stroke-opacity="0.7"/>
<path d="M104.3,531.3 Q106.2,525.4 114.7,520.4" stroke="#c4b6a4" stroke-width="1.2" fill="none" stroke-opacity="0.7"/>
<path d="M163.5,618.8 Q169.2,609.5 178.4,601.6" stroke="#c4b6a4" stroke-width="1.2" fill="none" stroke-opacity="0.7"/>
<path d="M136.6,618.9 Q141.4,627.0 151.3,639.4" stroke="#c4b6a4" stroke-width="1.2" fill="none" stroke-opacity="0.7"/>
<path d="M119.0,563.9 Q114.2,572.6 117.5,582.5" stroke="#c4b6a4" stroke-width="1.2" fill="none" stroke-opacity="0.7"/>
<path d="M138.1,575.1 Q133.6,564.4 128.9,551.7" stroke="#c4b6a4" stroke-width="1.2" fill="none" stroke-opacity="0.7"/>
<path d="M181.3,504.6 Q186.6,495.1 185.8,480.9" stroke="#c4b6a4" stroke-width="1.2" fill="none" stroke-opacity="0.7"/>
<path d="M141.3,552.1 Q134.6,545.0 134.8,544.7" stroke="#c4b6a4" stroke-width="1.2" fill="none" stroke-opacity="0.7"/>
<path d="M115.5,519.5 Q118.2,519.0 128.9,524.1" stroke="#c4b6a4" stroke-width="1.2" fill="none" stroke-opacity="0.7"/>
<path d="M100.4,547.2 Q104.3,541.4 106.3,541.2" stroke="#c4b6a4" stroke-width="1.2" fill="none" stroke-opacity="0.7"/>
<path d="M121.6,545.0 Q129.6,554.0 132.0,555.2" stroke="#c4b6a4" stroke-width="1.2" fill="none" stroke-opacity="0.7"/>
<path d="M151.7,563.8 Q154.3,564.8 159.4,569.5" stroke="#c4b6a4" stroke-width="1.2" fill="none" stroke-opacity="0.7"/>
<path d="M202.8,519.4 Q207.0,515.3 210.8,516.9" stroke="#c4b6a4" stroke-width="1.2" fill="none" stroke-opacity="0.7"/>
<path d="M162.6,500.9 Q174.2,501.3 179.9,498.6" stroke="#c4b6a4" stroke-width="1.2" fill="none" stroke-opacity="0.7"/>
<path d="M122.9,547.7 Q123.9,544.4 124.4,536.8" stroke="#c4b6a4" stroke-width="1.2" fill="none" stroke-opacity="0.7"/>
<path d="M132.5,527.9 Q146.6,529.3 155.0,525.8" stroke="#c4b6a4" stroke-width="1.2" fill="none" stroke-opacity="0.7"/>
<path d="M201.3,599.0 Q194.2,594.6 189.3,597.7" stroke="#c4b6a4" stroke-width="1.2" fill="none" stroke-opacity="0.7"/>
<path d="M90.0,535.6 Q91.4,529.3 85.6,523.8" stroke="#c4b6a4" stroke-width="1.2" fill="none" stroke-opacity="0.7"/>
<path d="M218.0,633.2 Q207.5,640.4 201.4,652.1" stroke="#c4b6a4" stroke-width="1.2" fill="none" stroke-opacity="0.7"/>
<path d="M113.8,525.3 Q124.3,519.5 129.4,514.0" stroke="#c4b6a4" stroke-width="1.2" fill="none" stroke-opacity="0.7"/>
<path d="M178.0,607.2 Q178.8,605.5 173.0,599.2" stroke="#c4b6a4" stroke-width="1.2" fill="none" stroke-opacity="0.7"/>
<path d="M191.7,563.0 Q191.7,559.9 194.4,552.1" stroke="#c4b6a4" stroke-width="1.2" fill="none" stroke-opacity="0.7"/>
<path d="M222.9,551.7 Q231.9,546.5 237.3,546.7" stroke="#c4b6a4" stroke-width="1.2" fill="none" stroke-opacity="0.7"/>
<path d="M104.0,518.0 Q105.4,509.2 112.4,495.2" stroke="#c4b6a4" stroke-width="1.2" fill="none" stroke-opacity="0.7"/>
<path d="M224.1,587.6 Q214.4,581.6 210.5,583.3" stroke="#c4b6a4" stroke-width="1.2" fill="none" stroke-opacity="0.7"/>
<path d="M222.8,586.6 Q230.3,586.0 238.8,579.5" stroke="#c4b6a4" stroke-width="1.2" fill="none" stroke-opacity="0.7"/>
<path d="M202.4,526.2 Q198.7,533.0 199.1,538.3" stroke="#c4b6a4" stroke-width="1.2" fill="none" stroke-opacity="0.7"/>
<path d="M122.6,554.9 Q125.8,551.7 131.4,549.3" stroke="#c4b6a4" stroke-width="1.2" fill="none" stroke-opacity="0.7"/>
<path d="M168.2,621.6 Q175.0,618.0 181.8,613.9" stroke="#c4b6a4" stroke-width="1.2" fill="none" stroke-opacity="0.7"/>
<path d="M159.8,499.8 Q159.1,509.4 166.3,514.3" stroke="#c4b6a4" stroke-width="1.2" fill="none" stroke-opacity="0.7"/>
<path d="M110.4,562.4 Q99.1,558.8 90.6,555.0" stroke="#c4b6a4" stroke-width="1.2" fill="none" stroke-opacity="0.7"/>
<path d="M164.3,605.1 Q157.7,601.5 155.1,601.5" stroke="#c4b6a4" stroke-width="1.2" fill="none" stroke-opacity="0.7"/>
<path d="M194.8,567.1 Q198.7,557.6 196.0,549.0" stroke="#c4b6a4" stroke-width="1.2" fill="none" stroke-opacity="0.7"/>
<path d="M172.3,566.8 Q168.9,559.0 166.3,550.6" stroke="#c4b6a4" stroke-width="1.2" fill="none" stroke-opacity="0.7"/>
<path d="M153.4,626.8 Q164.3,617.6 168.1,612.3" stroke="#c4b6a4" stroke-width="1.2" fill="none" stroke-opacity="0.7"/>
<path d="M164.9,627.0 Q169.4,635.3 179.9,644.5" stroke="#c4b6a4" stroke-width="1.2" fill="none" stroke-opacity="0.7"/>
<path d="M96.3,530.3 Q96.3,529.4 91.8,522.2" stroke="#c4b6a4" stroke-width="1.2" fill="none" stroke-opacity="0.7"/>
<path d="M107.8,595.7 Q117.1,607.3 120.2,611.3" stroke="#c4b6a4" stroke-width="1.2" fill="none" stroke-opacity="0.7"/>
<path d="M117.0,628.3 Q113.4,631.5 101.9,629.5" stroke="#c4b6a4" stroke-width="1.2" fill="none" stroke-opacity="0.7"/>
<path d="M108.8,556.6 Q101.8,562.4 99.7,571.2" stroke="#c4b6a4" stroke-width="1.2" fill="none" stroke-opacity="0.7"/>
<path d="M187.8,499.9 Q175.6,501.8 171.0,506.4" stroke="#c4b6a4" stroke-width="1.2" fill="none" stroke-opacity="0.7"/>
<path d="M173.9,567.7 Q180.8,571.0 183.1,566.8" stroke="#c4b6a4" stroke-width="1.2" fill="none" stroke-opacity="0.7"/>
<path d="M100.9,533.7 Q99.8,526.5 102.4,525.2" stroke="#c4b6a4" stroke-width="1.2" fill="none" stroke-opacity="0.7"/>
<path d="M145.6,622.6 Q142.1,637.3 144.3,645.3" stroke="#c4b6a4" stroke-width="1.2" fill="none" stroke-opacity="0.7"/>
<path d="M166.4,593.6 Q172.4,594.7 175.4,597.0" stroke="#c4b6a4" stroke-width="1.2" fill="none" stroke-opacity="0.7"/>
<path d="M96.3,626.3 Q96.1,620.0 102.5,607.9" stroke="#c4b6a4" stroke-width="1.2" fill="none" stroke-opacity="0.7"/>
<path d="M95.5,615.9 Q91.6,626.2 86.9,629.6" stroke="#c4b6a4" stroke-width="1.2" fill="none" stroke-opacity="0.7"/>
<path d="M123.8,515.0 Q121.3,521.0 125.1,532.4" stroke="#c4b6a4" stroke-width="1.2" fill="none" stroke-opacity="0.7"/>
<path d="M93.2,525.0 Q93.0,529.7 88.6,537.8" stroke="#c4b6a4" stroke-width="1.2" fill="none" stroke-opacity="0.7"/>
<path d="M156.5,521.7 Q161.6,518.6 170.7,523.3" stroke="#c4b6a4" stroke-width="1.2" fill="none" stroke-opacity="0.7"/>
<path d="M189.3,573.0 Q187.2,570.8 178.1,574.8" stroke="#c4b6a4" stroke-width="1.2" fill="none" stroke-opacity="0.7"/>
<path d="M201.4,556.7 Q204.8,549.4 210.0,542.1" stroke="#c4b6a4" stroke-width="1.2" fill="none" stroke-opacity="0.7"/>
<path d="M182.9,632.4 Q188.1,627.3 189.9,620.1" stroke="#c4b6a4" stroke-width="1.2" fill="none" stroke-opacity="0.7"/>
<path d="M143.1,545.0 Q142.7,550.2 149.2,551.6" stroke="#c4b6a4" stroke-width="1.2" fill="none" stroke-opacity="0.7"/>
<path d="M122.1,519.7 Q127.6,517.0 127.3,511.7" stroke="#c4b6a4" stroke-width="1.2" fill="none" stroke-opacity="0.7"/>
<path d="M125.8,530.5 Q116.6,531.8 112.9,533.9" stroke="#c4b6a4" stroke-width="1.2" fill="none" stroke-opacity="0.7"/>
<path d="M123.2,629.5 Q108.9,629.5 98.8,622.1" stroke="#c4b6a4" stroke-width="1.2" fill="none" stroke-opacity="0.7"/>
<path d="M129.7,546.3 Q126.5,549.0 123.8,551.7" stroke="#c4b6a4" stroke-width="1.2" fill="none" stroke-opacity="0.7"/>
<path d="M114.4,566.7 Q110.8,569.9 113.7,574.7" stroke="#c4b6a4" stroke-width="1.2" fill="none" stroke-opacity="0.7"/>
<path d="M92.0,500.3 Q93.4,507.2 93.4,513.7" stroke="#c4b6a4" stroke-width="1.2" fill="none" stroke-opacity="0.7"/>
<path d="M191.8,587.7 Q198.5,579.1 206.9,573.3" stroke="#c4b6a4" stroke-width="1.2" fill="none" stroke-opacity="0.7"/>
<path d="M224.7,517.8 Q214.6,512.2 211.7,501.3" stroke="#c4b6a4" stroke-width="1.2" fill="none" stroke-opacity="0.7"/>
<path d="M211.7,583.5 Q212.8,573.9 219.8,563.9" stroke="#c4b6a4" stroke-width="1.2" fill="none" stroke-opacity="0.7"/>
<path d="M157.1,612.1 Q163.0,605.3 167.5,592.1" stroke="#c4b6a4" stroke-width="1.2" fill="none" stroke-opacity="0.7"/>
<path d="M182.3,592.6 Q185.3,592.7 194.2,595.0" stroke="#c4b6a4" stroke-width="1.2" fill="none" stroke-opacity="0.7"/>
<path d="M100.9,612.2 Q95.6,607.2 88.3,599.2" stroke="#c4b6a4" stroke-width="1.2" fill="none" stroke-opacity="0.7"/>
<path d="M155.0,497.7 Q154.9,486.8 154.7,475.3" stroke="#c4b6a4" stroke-width="1.2" fill="none" stroke-opacity="0.7"/>
<path d="M178.9,506.3 Q175.4,515.0 178.6,527.5" stroke="#c4b6a4" stroke-width="1.2" fill="none" stroke-opacity="0.7"/>
<path d="M188.8,525.4 Q199.3,522.9 209.9,522.2" stroke="#c4b6a4" stroke-width="1.2" fill="none" stroke-opacity="0.7"/>
<path d="M153.5,591.3 Q146.6,580.6 137.4,576.7" stroke="#c4b6a4" stroke-width="1.2" fill="none" stroke-opacity="0.7"/>
<path d="M106.9,532.1 Q103.8,538.3 99.7,552.3" stroke="#c4b6a4" stroke-width="1.2" fill="none" stroke-opacity="0.7"/>
<path d="M94.6,534.2 Q92.5,523.1 87.5,515.4" stroke="#c4b6a4" stroke-width="1.2" fill="none" stroke-opacity="0.7"/>
<path d="M158.8,561.1 Q168.0,564.3 170.9,572.2" stroke="#c4b6a4" stroke-width="1.2" fill="none" stroke-opacity="0.7"/>
<path d="M223.8,626.0 Q222.4,630.8 215.8,628.1" stroke="#c4b6a4" stroke-width="1.2" fill="none" stroke-opacity="0.7"/>
<path d="M149.4,534.2 Q152.6,532.8 160.5,530.2" stroke="#c4b6a4" stroke-width="1.2" fill="none" stroke-opacity="0.7"/>
<path d="M106.1,569.3 Q117.1,578.7 123.0,587.9" stroke="#c4b6a4" stroke-width="1.2" fill="none" stroke-opacity="0.7"/>
<path d="M211.0,594.0 Q215.7,586.5 220.7,586.7" stroke="#c4b6a4" stroke-width="1.2" fill="none" stroke-opacity="0.7"/>
<path d="M88.0,567.3 C87.6,568.1 87.1,569.4 86.0,569.4 C84.9,569.5 82.9,568.1 81.4,567.4 C79.9,566.7 77.9,566.1 77.1,565.2 C76.2,564.2 75.7,562.4 76.2,561.8 C76.7,561.1 78.7,561.3 80.1,561.2 C81.4,561.1 83.0,560.6 84.4,561.1 C85.7,561.7 87.5,563.4 88.1,564.4 C88.7,565.5 88.3,566.5 88.0,567.3Z" fill="#b3c4d0" fill-opacity="0.59" stroke="#9bb0c0" stroke-width="1.6" stroke-opacity="0.6"/>
<path d="M123.6,553.1 C122.6,552.8 121.5,551.4 121.1,550.3 C120.7,549.2 120.9,547.5 121.3,546.3 C121.7,545.1 122.5,544.0 123.4,543.0 C124.4,542.1 126.1,540.6 127.1,540.9 C128.1,541.1 128.8,543.1 129.4,544.5 C130.0,545.8 131.0,547.7 130.6,548.9 C130.3,550.2 128.3,551.3 127.1,552.0 C126.0,552.7 124.6,553.4 123.6,553.1Z" fill="#b3c4d0" fill-opacity="0.59" stroke="#9bb0c0" stroke-width="1.6" stroke-opacity="0.6"/>
<ellipse cx="125.3" cy="546.5" rx="1.8" ry="1.5" fill="#e2e6e8" fill-opacity="0.45"/>
<path d="M133.9,641.0 C132.6,640.3 131.8,637.9 131.5,636.0 C131.1,634.2 131.0,631.4 131.8,629.9 C132.6,628.3 134.8,627.6 136.4,626.7 C137.9,625.7 139.9,624.1 141.1,624.4 C142.4,624.8 143.2,627.2 143.6,628.9 C144.0,630.7 144.3,633.2 143.6,635.0 C142.8,636.8 140.9,638.7 139.3,639.7 C137.7,640.6 135.2,641.6 133.9,641.0Z" fill="#b3c4d0" fill-opacity="0.82" stroke="#9bb0c0" stroke-width="1.6" stroke-opacity="0.6"/>
<ellipse cx="135.5" cy="633.9" rx="2.4" ry="1.8" fill="#e2e6e8" fill-opacity="0.45"/>
<path d="M97.4,565.9 C96.8,565.4 96.0,564.5 96.3,563.5 C96.5,562.5 97.8,560.9 98.8,559.9 C99.8,558.8 101.2,557.6 102.2,557.2 C103.2,556.9 104.4,557.2 104.9,557.8 C105.4,558.4 105.3,559.6 105.0,560.7 C104.7,561.7 104.0,563.0 103.1,563.9 C102.3,564.8 101.0,565.7 100.0,566.1 C99.1,566.4 98.0,566.3 97.4,565.9Z" fill="#b3c4d0" fill-opacity="0.84" stroke="#9bb0c0" stroke-width="1.6" stroke-opacity="0.6"/>
<path d="M157.2,532.4 C155.6,532.3 154.2,531.7 153.0,530.7 C151.8,529.7 150.3,527.8 150.0,526.2 C149.8,524.6 150.6,522.4 151.4,521.0 C152.2,519.6 153.6,518.2 154.9,518.0 C156.2,517.7 158.1,518.4 159.4,519.4 C160.7,520.4 162.2,522.3 162.6,524.2 C163.1,526.1 163.2,529.5 162.3,530.9 C161.3,532.2 158.7,532.4 157.2,532.4Z" fill="#b3c4d0" fill-opacity="0.51" stroke="#9bb0c0" stroke-width="1.6" stroke-opacity="0.6"/>
<path d="M146.5,558.8 C145.7,559.4 144.4,560.4 143.4,559.8 C142.4,559.2 141.4,556.6 140.6,555.1 C139.9,553.6 139.0,552.0 138.9,550.7 C138.8,549.4 139.4,548.0 140.2,547.4 C141.0,546.9 142.6,546.6 143.6,547.4 C144.7,548.1 145.8,550.3 146.5,551.8 C147.2,553.2 147.8,554.8 147.8,556.0 C147.8,557.2 147.2,558.1 146.5,558.8Z" fill="#b3c4d0" fill-opacity="0.47" stroke="#9bb0c0" stroke-width="1.6" stroke-opacity="0.6"/>
<ellipse cx="143.1" cy="553.3" rx="2.0" ry="1.2" fill="#e2e6e8" fill-opacity="0.45"/>
<path d="M233.1,617.7 C232.9,618.6 230.9,619.4 229.4,619.9 C227.8,620.4 225.4,620.8 223.7,620.5 C222.0,620.3 220.4,619.2 219.2,618.4 C218.0,617.7 216.6,616.9 216.4,616.0 C216.2,615.1 216.5,613.7 217.9,613.1 C219.2,612.6 222.3,612.5 224.5,612.7 C226.6,612.9 229.2,613.7 230.7,614.5 C232.1,615.3 233.4,616.8 233.1,617.7Z" fill="#b3c4d0" fill-opacity="0.73" stroke="#9bb0c0" stroke-width="1.6" stroke-opacity="0.6"/>
<path d="M116.1,513.7 C115.4,513.4 115.0,512.1 115.0,511.0 C115.0,509.9 115.4,508.2 116.1,507.2 C116.8,506.1 118.1,505.3 119.1,504.9 C120.1,504.5 121.4,504.2 121.9,504.7 C122.4,505.1 122.3,506.5 122.3,507.6 C122.3,508.6 122.6,510.1 122.1,511.0 C121.5,511.9 120.0,512.5 119.0,512.9 C118.0,513.4 116.8,514.1 116.1,513.7Z" fill="#b3c4d0" fill-opacity="0.83" stroke="#9bb0c0" stroke-width="1.6" stroke-opacity="0.6"/>
<path d="M176.4,541.4 C175.9,541.1 175.6,540.3 175.4,539.5 C175.3,538.6 175.3,537.3 175.7,536.3 C176.1,535.3 177.1,533.8 177.9,533.3 C178.6,532.8 179.6,532.7 180.1,533.1 C180.7,533.4 180.9,534.3 181.0,535.2 C181.1,536.2 181.1,537.7 180.7,538.6 C180.2,539.5 179.1,540.3 178.4,540.7 C177.6,541.2 176.8,541.6 176.4,541.4Z" fill="#b3c4d0" fill-opacity="0.73" stroke="#9bb0c0" stroke-width="1.6" stroke-opacity="0.6"/>
<ellipse cx="178.0" cy="538.2" rx="1.5" ry="0.8" fill="#e2e6e8" fill-opacity="0.45"/>
<path d="M182.9,626.7 C182.3,627.2 180.6,626.9 179.4,626.4 C178.3,626.0 177.1,624.9 176.0,623.9 C175.0,622.9 173.6,621.6 173.1,620.4 C172.6,619.3 172.6,617.7 173.2,617.1 C173.7,616.6 175.3,616.7 176.5,617.1 C177.7,617.6 179.1,618.6 180.2,619.7 C181.3,620.7 182.8,622.2 183.2,623.4 C183.7,624.6 183.5,626.2 182.9,626.7Z" fill="#b3c4d0" fill-opacity="0.83" stroke="#9bb0c0" stroke-width="1.6" stroke-opacity="0.6"/>
<path d="M112.3,503.6 C111.6,503.3 111.1,501.7 111.2,500.5 C111.2,499.3 112.1,497.4 112.9,496.3 C113.7,495.2 114.9,494.5 116.0,493.9 C117.1,493.2 118.9,492.0 119.6,492.4 C120.2,492.8 119.9,494.9 119.9,496.2 C119.8,497.5 119.8,499.2 119.1,500.3 C118.4,501.3 116.8,502.0 115.7,502.5 C114.6,503.1 113.1,503.9 112.3,503.6Z" fill="#b3c4d0" fill-opacity="0.53" stroke="#9bb0c0" stroke-width="1.6" stroke-opacity="0.6"/>
<ellipse cx="116.8" cy="497.7" rx="1.8" ry="1.0" fill="#e2e6e8" fill-opacity="0.45"/>
<path d="M225.3,571.3 C224.8,571.4 223.6,569.8 222.9,569.0 C222.2,568.1 221.5,567.1 221.2,566.1 C220.9,565.0 221.0,563.7 221.2,562.6 C221.4,561.5 221.6,559.6 222.2,559.4 C222.7,559.3 223.9,560.9 224.6,561.8 C225.2,562.7 225.7,563.8 226.0,564.8 C226.3,565.8 226.3,566.9 226.1,568.0 C226.0,569.1 225.9,571.1 225.3,571.3Z" fill="#b3c4d0" fill-opacity="0.72" stroke="#9bb0c0" stroke-width="1.6" stroke-opacity="0.6"/>
<ellipse cx="225.0" cy="566.0" rx="1.6" ry="0.8" fill="#e2e6e8" fill-opacity="0.45"/>
<path d="M198.6,643.4 C198.1,644.1 195.4,643.5 193.7,643.4 C192.0,643.2 189.9,643.4 188.4,642.6 C186.9,641.7 185.4,639.4 184.8,638.0 C184.1,636.6 184.0,635.0 184.6,634.1 C185.2,633.3 186.8,632.7 188.3,632.9 C189.7,633.0 192.0,634.0 193.4,635.0 C194.8,636.0 195.7,637.4 196.6,638.8 C197.5,640.2 199.1,642.6 198.6,643.4Z" fill="#b3c4d0" fill-opacity="0.82" stroke="#9bb0c0" stroke-width="1.6" stroke-opacity="0.6"/>
<ellipse cx="190.4" cy="639.7" rx="2.5" ry="1.4" fill="#e2e6e8" fill-opacity="0.45"/>
<path d="M96.1,636.4 C95.9,635.7 96.4,634.6 96.9,633.7 C97.3,632.9 98.0,631.7 98.9,631.0 C99.8,630.4 101.3,630.1 102.5,629.9 C103.6,629.8 105.4,629.8 105.7,630.3 C106.0,630.9 105.0,632.5 104.4,633.4 C103.8,634.4 103.1,635.3 102.1,636.1 C101.0,636.8 99.2,637.9 98.2,638.0 C97.2,638.0 96.3,637.1 96.1,636.4Z" fill="#b3c4d0" fill-opacity="0.78" stroke="#9bb0c0" stroke-width="1.6" stroke-opacity="0.6"/>
<ellipse cx="100.2" cy="634.2" rx="1.6" ry="0.9" fill="#e2e6e8" fill-opacity="0.45"/>
<path d="M191.3,500.4 C191.1,499.8 191.4,498.9 192.1,498.3 C192.8,497.8 194.6,497.3 195.7,497.1 C196.8,496.9 197.8,496.9 198.7,497.0 C199.7,497.1 201.2,497.3 201.4,497.8 C201.6,498.2 200.7,499.3 199.9,499.8 C199.1,500.4 197.8,500.8 196.7,501.1 C195.6,501.4 194.1,501.7 193.2,501.6 C192.3,501.5 191.5,500.9 191.3,500.4Z" fill="#b3c4d0" fill-opacity="0.55" stroke="#9bb0c0" stroke-width="1.6" stroke-opacity="0.6"/>
<ellipse cx="195.6" cy="498.5" rx="1.4" ry="0.7" fill="#e2e6e8" fill-opacity="0.45"/>
<path d="M201.5,627.2 C201.4,628.7 201.2,630.6 200.0,631.6 C198.7,632.6 195.8,633.3 194.1,633.0 C192.3,632.7 190.5,631.1 189.5,630.0 C188.5,628.8 188.1,627.4 188.2,626.1 C188.2,624.9 188.9,623.3 190.0,622.5 C191.1,621.7 193.2,621.2 195.0,621.2 C196.7,621.2 199.5,621.6 200.6,622.6 C201.7,623.6 201.6,625.7 201.5,627.2Z" fill="#b3c4d0" fill-opacity="0.54" stroke="#9bb0c0" stroke-width="1.6" stroke-opacity="0.6"/>
<ellipse cx="195.8" cy="627.4" rx="2.1" ry="1.6" fill="#e2e6e8" fill-opacity="0.45"/>
<path d="M208.6,612.2 C207.8,612.5 206.0,611.2 204.8,610.5 C203.6,609.7 202.5,608.9 201.6,607.6 C200.6,606.3 199.2,604.0 199.1,602.8 C199.0,601.6 200.3,600.7 201.1,600.4 C202.0,600.1 203.3,600.4 204.3,601.0 C205.3,601.6 206.4,602.7 207.3,604.0 C208.2,605.2 209.4,607.1 209.6,608.4 C209.8,609.8 209.4,611.8 208.6,612.2Z" fill="#b3c4d0" fill-opacity="0.59" stroke="#9bb0c0" stroke-width="1.6" stroke-opacity="0.6"/>
<ellipse cx="206.5" cy="606.6" rx="2.1" ry="1.2" fill="#e2e6e8" fill-opacity="0.45"/>
<path d="M229.1,536.5 C228.6,536.4 228.0,535.7 227.6,534.9 C227.2,534.1 226.9,532.9 226.8,531.8 C226.8,530.7 227.0,529.1 227.3,528.2 C227.7,527.4 228.5,526.7 229.1,526.6 C229.7,526.6 230.4,527.2 230.9,528.0 C231.3,528.9 231.7,530.5 231.7,531.8 C231.7,533.0 231.3,534.6 230.9,535.4 C230.4,536.2 229.7,536.6 229.1,536.5Z" fill="#b3c4d0" fill-opacity="0.73" stroke="#9bb0c0" stroke-width="1.6" stroke-opacity="0.6"/>
<ellipse cx="230.1" cy="531.5" rx="1.5" ry="0.7" fill="#e2e6e8" fill-opacity="0.45"/>
<path d="M171.1,552.1 C170.6,552.9 169.8,554.2 168.5,553.9 C167.3,553.6 164.9,551.7 163.7,550.3 C162.4,549.0 161.5,547.2 161.1,545.9 C160.7,544.6 160.8,543.3 161.3,542.5 C161.9,541.6 163.0,540.5 164.3,540.9 C165.6,541.2 168.0,543.4 169.2,544.7 C170.4,546.1 171.3,547.9 171.6,549.1 C171.9,550.3 171.6,551.3 171.1,552.1Z" fill="#b3c4d0" fill-opacity="0.55" stroke="#9bb0c0" stroke-width="1.6" stroke-opacity="0.6"/>
<path d="M174.6,640.5 C174.3,639.8 175.4,638.4 175.9,637.5 C176.5,636.6 177.0,635.7 177.8,635.1 C178.6,634.6 180.0,634.3 180.8,634.3 C181.7,634.3 182.5,634.6 183.0,635.1 C183.5,635.7 184.4,636.6 184.1,637.4 C183.8,638.2 182.1,639.4 181.0,640.1 C179.9,640.8 178.3,641.7 177.3,641.7 C176.2,641.8 174.8,641.2 174.6,640.5Z" fill="#b3c4d0" fill-opacity="0.79" stroke="#9bb0c0" stroke-width="1.6" stroke-opacity="0.6"/>
<ellipse cx="180.4" cy="637.4" rx="1.5" ry="0.9" fill="#e2e6e8" fill-opacity="0.45"/>
<path d="M118.6,613.5 C117.7,613.3 116.7,612.3 116.5,611.0 C116.3,609.6 116.9,607.1 117.4,605.4 C118.0,603.7 119.0,601.7 119.9,600.7 C120.8,599.7 122.1,599.1 123.0,599.2 C123.9,599.4 125.1,600.1 125.4,601.5 C125.7,602.9 125.5,605.9 124.8,607.7 C124.2,609.5 122.7,611.2 121.7,612.2 C120.6,613.2 119.4,613.8 118.6,613.5Z" fill="#b3c4d0" fill-opacity="0.70" stroke="#9bb0c0" stroke-width="1.6" stroke-opacity="0.6"/>
<ellipse cx="119.9" cy="606.9" rx="2.5" ry="1.2" fill="#e2e6e8" fill-opacity="0.45"/>
<path d="M109.0,543.2 C108.1,543.0 107.0,542.7 106.5,541.8 C106.0,541.0 105.6,539.3 105.8,538.1 C105.9,536.8 106.6,535.0 107.4,534.3 C108.2,533.7 109.5,533.9 110.3,534.2 C111.2,534.4 112.0,534.9 112.5,535.8 C113.1,536.6 113.9,538.1 113.7,539.3 C113.6,540.4 112.5,542.0 111.7,542.6 C110.9,543.3 109.8,543.3 109.0,543.2Z" fill="#b3c4d0" fill-opacity="0.48" stroke="#9bb0c0" stroke-width="1.6" stroke-opacity="0.6"/>
<ellipse cx="109.0" cy="539.7" rx="1.6" ry="1.2" fill="#e2e6e8" fill-opacity="0.45"/>
<path d="M123.4,578.0 C123.2,577.2 123.7,576.2 124.3,575.2 C124.9,574.2 125.9,572.7 127.0,572.2 C128.1,571.7 130.1,571.9 131.1,572.1 C132.1,572.3 132.5,573.0 133.0,573.7 C133.5,574.4 134.6,575.4 134.1,576.3 C133.6,577.2 131.4,578.2 130.0,578.8 C128.6,579.5 126.6,580.3 125.5,580.2 C124.4,580.0 123.6,578.8 123.4,578.0Z" fill="#b3c4d0" fill-opacity="0.85" stroke="#9bb0c0" stroke-width="1.6" stroke-opacity="0.6"/>
<ellipse cx="129.9" cy="575.6" rx="1.8" ry="1.1" fill="#e2e6e8" fill-opacity="0.45"/>
<path d="M99.6,497.3 C99.2,496.4 100.2,494.7 101.1,493.7 C102.0,492.6 103.6,491.4 105.0,491.0 C106.4,490.6 108.3,491.1 109.5,491.5 C110.7,492.0 111.8,492.7 112.2,493.6 C112.6,494.6 112.5,496.0 111.8,497.1 C111.0,498.2 109.2,500.0 107.7,500.4 C106.3,500.7 104.5,499.6 103.1,499.1 C101.8,498.6 99.9,498.2 99.6,497.3Z" fill="#b3c4d0" fill-opacity="0.49" stroke="#9bb0c0" stroke-width="1.6" stroke-opacity="0.6"/>
<ellipse cx="107.5" cy="496.6" rx="2.0" ry="1.4" fill="#e2e6e8" fill-opacity="0.45"/>
<path d="M145.2,503.7 C144.9,502.7 147.0,500.9 148.2,499.6 C149.4,498.3 150.7,496.4 152.4,495.9 C154.0,495.4 156.5,496.1 158.0,496.5 C159.5,497.0 161.0,497.6 161.5,498.6 C162.0,499.7 162.3,501.4 161.3,502.7 C160.3,503.9 157.4,505.7 155.5,506.1 C153.6,506.6 151.6,505.8 149.9,505.4 C148.2,505.0 145.5,504.6 145.2,503.7Z" fill="#b3c4d0" fill-opacity="0.70" stroke="#9bb0c0" stroke-width="1.6" stroke-opacity="0.6"/>
<ellipse cx="153.4" cy="501.0" rx="2.5" ry="1.4" fill="#e2e6e8" fill-opacity="0.45"/>
<path d="M133.9,512.9 C133.5,512.0 133.5,510.4 134.2,509.6 C134.9,508.8 136.8,508.5 138.2,508.1 C139.5,507.6 141.4,506.6 142.3,506.8 C143.3,507.1 143.4,508.7 143.7,509.6 C143.9,510.6 144.4,511.7 143.9,512.5 C143.3,513.4 141.7,514.4 140.4,514.8 C139.1,515.3 137.3,515.4 136.2,515.1 C135.1,514.8 134.2,513.8 133.9,512.9Z" fill="#b3c4d0" fill-opacity="0.47" stroke="#9bb0c0" stroke-width="1.6" stroke-opacity="0.6"/>
<ellipse cx="138.9" cy="511.3" rx="1.6" ry="1.2" fill="#e2e6e8" fill-opacity="0.45"/>
<path d="M151.7,589.6 C151.7,590.4 150.4,591.2 149.3,591.8 C148.2,592.5 146.6,593.3 145.1,593.3 C143.7,593.2 141.3,592.5 140.4,591.7 C139.4,590.9 139.0,589.5 139.3,588.7 C139.5,587.8 140.6,587.0 141.7,586.5 C142.8,585.9 144.4,585.3 145.7,585.4 C147.0,585.5 148.4,586.4 149.4,587.1 C150.4,587.8 151.7,588.8 151.7,589.6Z" fill="#b3c4d0" fill-opacity="0.70" stroke="#9bb0c0" stroke-width="1.6" stroke-opacity="0.6"/>
<ellipse cx="145.2" cy="588.2" rx="1.9" ry="1.1" fill="#e2e6e8" fill-opacity="0.45"/>
<path d="M152.8,568.8 C152.6,569.5 151.4,570.3 150.5,570.5 C149.6,570.7 148.3,570.3 147.2,570.0 C146.1,569.7 144.7,569.4 144.1,568.8 C143.5,568.2 143.4,567.1 143.6,566.3 C143.7,565.5 144.0,564.3 144.8,564.0 C145.7,563.8 147.3,564.5 148.6,564.8 C149.8,565.2 151.4,565.4 152.1,566.0 C152.8,566.7 153.1,568.0 152.8,568.8Z" fill="#b3c4d0" fill-opacity="0.74" stroke="#9bb0c0" stroke-width="1.6" stroke-opacity="0.6"/>
<path d="M191.2,617.9 C190.3,617.9 189.3,616.2 188.5,615.2 C187.7,614.2 186.6,613.2 186.4,612.0 C186.2,610.7 186.8,608.4 187.5,607.6 C188.3,606.9 189.9,607.3 190.9,607.4 C192.0,607.5 193.0,607.5 193.7,608.3 C194.5,609.0 195.6,610.6 195.6,611.7 C195.6,612.9 194.4,614.0 193.7,615.1 C193.0,616.1 192.1,617.9 191.2,617.9Z" fill="#b3c4d0" fill-opacity="0.83" stroke="#9bb0c0" stroke-width="1.6" stroke-opacity="0.6"/>
<path d="M221.6,527.7 C221.0,528.1 220.0,527.9 219.0,527.6 C218.0,527.3 216.3,526.7 215.6,525.7 C214.8,524.7 214.5,522.7 214.5,521.4 C214.5,520.2 214.8,518.5 215.6,518.2 C216.3,517.9 217.8,518.9 218.9,519.5 C220.1,520.0 221.6,520.5 222.2,521.5 C222.8,522.4 222.7,524.2 222.6,525.2 C222.5,526.3 222.2,527.3 221.6,527.7Z" fill="#b3c4d0" fill-opacity="0.46" stroke="#9bb0c0" stroke-width="1.6" stroke-opacity="0.6"/>
<path d="M166.3,626.7 C165.5,626.4 165.2,624.8 164.8,623.6 C164.5,622.5 163.8,620.9 164.2,619.9 C164.6,618.8 166.2,617.7 167.2,617.3 C168.2,616.9 169.3,617.1 170.3,617.4 C171.2,617.8 172.4,618.4 172.7,619.4 C173.0,620.4 172.5,622.2 171.9,623.2 C171.4,624.2 170.4,624.9 169.4,625.5 C168.5,626.1 167.0,627.0 166.3,626.7Z" fill="#b3c4d0" fill-opacity="0.61" stroke="#9bb0c0" stroke-width="1.6" stroke-opacity="0.6"/>
<path d="M83.5,612.9 C83.5,612.0 84.6,610.9 85.5,610.3 C86.5,609.7 88.0,609.5 89.1,609.5 C90.3,609.5 91.6,609.8 92.4,610.2 C93.2,610.7 93.9,611.5 94.1,612.3 C94.3,613.1 94.3,614.5 93.5,615.1 C92.7,615.7 90.8,616.1 89.5,616.2 C88.1,616.2 86.5,616.0 85.5,615.4 C84.5,614.8 83.4,613.7 83.5,612.9Z" fill="#b3c4d0" fill-opacity="0.68" stroke="#9bb0c0" stroke-width="1.6" stroke-opacity="0.6"/>
<path d="M107.8,526.3 C107.8,527.1 107.5,528.0 106.5,528.5 C105.5,529.0 103.4,529.2 101.7,529.2 C100.1,529.2 97.8,529.1 96.5,528.6 C95.3,528.1 94.3,527.0 94.4,526.2 C94.5,525.5 96.0,524.8 97.3,524.2 C98.5,523.6 100.2,522.9 101.8,522.9 C103.4,522.9 105.7,523.5 106.7,524.0 C107.8,524.6 107.9,525.6 107.8,526.3Z" fill="#b3c4d0" fill-opacity="0.59" stroke="#9bb0c0" stroke-width="1.6" stroke-opacity="0.6"/>
<ellipse cx="103.6" cy="525.8" rx="2.1" ry="1.0" fill="#e2e6e8" fill-opacity="0.45"/>
<path d="M99.3,511.2 C98.7,510.1 98.9,508.7 99.2,507.3 C99.4,505.9 99.7,503.9 100.8,502.8 C101.9,501.7 104.4,500.9 105.8,500.9 C107.3,501.0 108.6,501.9 109.5,502.9 C110.3,503.9 111.2,505.5 110.9,506.9 C110.6,508.3 109.0,510.0 107.6,511.2 C106.2,512.4 104.0,514.2 102.6,514.2 C101.2,514.2 99.9,512.4 99.3,511.2Z" fill="#b3c4d0" fill-opacity="0.61" stroke="#9bb0c0" stroke-width="1.6" stroke-opacity="0.6"/>
<path d="M120.2,628.5 C119.5,628.8 118.5,629.4 117.9,628.9 C117.3,628.4 117.0,626.6 116.7,625.5 C116.4,624.3 115.9,623.1 116.0,622.2 C116.2,621.2 116.8,619.7 117.5,619.6 C118.2,619.5 119.3,620.7 120.0,621.5 C120.7,622.2 121.3,623.0 121.6,624.0 C122.0,625.0 122.4,626.6 122.2,627.4 C121.9,628.2 120.9,628.3 120.2,628.5Z" fill="#b3c4d0" fill-opacity="0.55" stroke="#9bb0c0" stroke-width="1.6" stroke-opacity="0.6"/>
<path d="M181.0,616.4 C180.4,616.9 179.1,616.7 178.1,616.2 C177.1,615.7 175.6,614.5 175.0,613.5 C174.4,612.5 174.6,611.3 174.4,610.2 C174.3,609.1 173.7,607.4 174.1,606.9 C174.6,606.4 176.1,606.6 177.0,607.1 C178.0,607.6 179.1,608.9 179.9,609.9 C180.7,611.0 181.5,612.5 181.7,613.6 C181.9,614.6 181.6,616.0 181.0,616.4Z" fill="#b3c4d0" fill-opacity="0.47" stroke="#9bb0c0" stroke-width="1.6" stroke-opacity="0.6"/>
<ellipse cx="176.7" cy="610.9" rx="1.6" ry="0.9" fill="#e2e6e8" fill-opacity="0.45"/>
<path d="M170.5,563.3 C169.5,563.9 167.2,562.8 165.5,562.4 C163.8,561.9 161.4,561.6 160.4,560.4 C159.4,559.2 159.5,556.8 159.4,555.3 C159.3,553.8 159.1,552.2 159.8,551.5 C160.5,550.8 162.1,550.7 163.5,551.0 C164.9,551.3 167.0,551.9 168.4,553.1 C169.8,554.4 171.3,557.0 171.7,558.7 C172.0,560.4 171.5,562.7 170.5,563.3Z" fill="#b3c4d0" fill-opacity="0.71" stroke="#9bb0c0" stroke-width="1.6" stroke-opacity="0.6"/>
<path d="M124.8,623.1 C124.5,622.4 125.1,621.2 125.9,620.4 C126.7,619.5 128.3,618.2 129.7,617.9 C131.0,617.5 132.8,617.8 134.0,618.1 C135.2,618.4 136.7,618.8 137.0,619.5 C137.3,620.2 136.5,621.5 135.6,622.3 C134.8,623.2 133.1,624.3 131.7,624.7 C130.4,625.1 128.7,624.8 127.5,624.6 C126.3,624.3 125.0,623.8 124.8,623.1Z" fill="#b3c4d0" fill-opacity="0.70" stroke="#9bb0c0" stroke-width="1.6" stroke-opacity="0.6"/>
<path d="M171.5,539.1 C171.3,539.8 170.4,540.5 169.5,540.8 C168.6,541.1 167.5,541.2 166.2,541.0 C165.0,540.8 162.7,540.5 162.0,539.8 C161.3,539.1 161.7,537.6 162.1,536.8 C162.4,536.0 163.4,535.4 164.3,535.1 C165.2,534.8 166.6,534.9 167.7,535.1 C168.7,535.4 169.9,536.1 170.5,536.7 C171.2,537.4 171.7,538.5 171.5,539.1Z" fill="#b3c4d0" fill-opacity="0.81" stroke="#9bb0c0" stroke-width="1.6" stroke-opacity="0.6"/>
<path d="M174.1,602.6 C173.2,602.6 172.4,601.1 172.1,599.5 C171.9,598.0 172.0,595.2 172.6,593.6 C173.2,591.9 174.6,591.0 175.6,589.8 C176.7,588.7 177.9,586.6 178.8,586.6 C179.7,586.6 180.6,588.1 180.9,589.7 C181.1,591.2 181.0,594.2 180.3,595.8 C179.7,597.5 178.2,598.5 177.2,599.6 C176.2,600.8 174.9,602.7 174.1,602.6Z" fill="#b3c4d0" fill-opacity="0.60" stroke="#9bb0c0" stroke-width="1.6" stroke-opacity="0.6"/>
<ellipse cx="174.7" cy="593.7" rx="2.2" ry="1.1" fill="#e2e6e8" fill-opacity="0.45"/>
<path d="M200.1,523.4 C200.1,524.3 199.9,525.5 199.0,526.0 C198.1,526.5 195.9,526.5 194.6,526.3 C193.2,526.2 191.9,525.7 190.8,525.1 C189.7,524.5 188.1,523.4 188.1,522.6 C188.1,521.8 189.7,520.9 190.9,520.3 C192.0,519.8 193.7,519.1 195.1,519.2 C196.4,519.2 198.4,520.1 199.2,520.8 C200.1,521.5 200.1,522.5 200.1,523.4Z" fill="#b3c4d0" fill-opacity="0.55" stroke="#9bb0c0" stroke-width="1.6" stroke-opacity="0.6"/>
<ellipse cx="194.5" cy="522.9" rx="1.7" ry="1.0" fill="#e2e6e8" fill-opacity="0.45"/>
<path d="M202.0,547.6 C201.5,548.6 200.5,550.3 199.3,550.2 C198.1,550.1 195.7,548.1 194.5,546.9 C193.3,545.7 192.5,544.3 192.1,543.1 C191.7,541.9 191.6,540.5 192.0,539.6 C192.5,538.6 193.6,537.3 195.0,537.3 C196.4,537.3 199.4,538.3 200.6,539.4 C201.8,540.6 201.9,542.9 202.1,544.3 C202.4,545.6 202.5,546.6 202.0,547.6Z" fill="#b3c4d0" fill-opacity="0.79" stroke="#9bb0c0" stroke-width="1.6" stroke-opacity="0.6"/>
<ellipse cx="197.1" cy="544.5" rx="2.2" ry="1.4" fill="#e2e6e8" fill-opacity="0.45"/>
<path d="M113.3,569.2 C112.4,569.8 111.3,570.0 110.1,569.8 C108.9,569.7 107.1,569.3 106.1,568.4 C105.2,567.5 104.5,565.4 104.5,564.3 C104.5,563.1 105.4,562.3 106.1,561.5 C106.8,560.8 107.9,559.6 108.9,559.8 C110.0,560.0 111.2,561.6 112.3,562.7 C113.3,563.8 115.0,565.2 115.2,566.2 C115.4,567.3 114.1,568.6 113.3,569.2Z" fill="#b3c4d0" fill-opacity="0.83" stroke="#9bb0c0" stroke-width="1.6" stroke-opacity="0.6"/>
<path d="M200.8,589.4 C200.1,589.8 198.8,590.7 198.1,590.1 C197.4,589.4 196.8,586.9 196.5,585.6 C196.1,584.2 195.7,582.8 195.9,581.8 C196.1,580.8 196.7,579.9 197.4,579.5 C198.2,579.1 199.5,578.5 200.3,579.2 C201.2,579.8 202.1,582.1 202.5,583.5 C202.9,584.9 203.0,586.7 202.7,587.6 C202.5,588.6 201.6,589.0 200.8,589.4Z" fill="#b3c4d0" fill-opacity="0.81" stroke="#9bb0c0" stroke-width="1.6" stroke-opacity="0.6"/>
<path d="M112.4,564.7 C111.7,563.9 111.3,562.4 111.5,561.1 C111.8,559.9 112.9,558.6 114.0,557.4 C115.0,556.1 116.7,554.3 118.0,553.9 C119.3,553.6 121.0,554.5 121.9,555.4 C122.7,556.3 123.4,558.0 123.0,559.3 C122.7,560.7 121.0,562.2 119.8,563.3 C118.6,564.4 117.1,565.6 115.9,565.9 C114.6,566.1 113.1,565.5 112.4,564.7Z" fill="#b3c4d0" fill-opacity="0.71" stroke="#9bb0c0" stroke-width="1.6" stroke-opacity="0.6"/>
<path d="M172.6,515.6 C171.8,516.5 170.7,517.5 169.3,517.5 C168.0,517.5 165.6,516.6 164.6,515.5 C163.6,514.5 163.4,512.4 163.4,511.1 C163.3,509.8 163.5,508.5 164.2,507.8 C164.9,507.0 166.2,506.4 167.4,506.5 C168.6,506.6 170.3,507.3 171.4,508.2 C172.4,509.2 173.7,510.9 173.9,512.1 C174.1,513.3 173.4,514.7 172.6,515.6Z" fill="#b3c4d0" fill-opacity="0.53" stroke="#9bb0c0" stroke-width="1.6" stroke-opacity="0.6"/>
<ellipse cx="167.6" cy="510.7" rx="1.9" ry="1.4" fill="#e2e6e8" fill-opacity="0.45"/>
<path d="M232.7,601.1 C232.5,602.0 231.0,603.0 229.9,603.4 C228.8,603.7 227.0,603.7 225.9,603.3 C224.8,602.8 223.6,601.7 223.1,600.8 C222.7,599.9 222.8,598.8 223.1,597.9 C223.3,597.0 223.8,595.7 224.6,595.4 C225.5,595.1 227.2,595.7 228.2,596.2 C229.3,596.6 230.2,597.1 230.9,598.0 C231.7,598.8 232.8,600.2 232.7,601.1Z" fill="#b3c4d0" fill-opacity="0.60" stroke="#9bb0c0" stroke-width="1.6" stroke-opacity="0.6"/>
<ellipse cx="225.8" cy="599.1" rx="1.5" ry="1.2" fill="#e2e6e8" fill-opacity="0.45"/>
<path d="M200.6,600.9 C199.6,601.0 198.3,599.9 197.4,598.9 C196.4,597.9 195.4,596.3 195.1,594.7 C194.8,593.1 195.0,590.5 195.7,589.3 C196.3,588.2 198.0,587.9 199.1,587.9 C200.2,587.8 201.5,588.2 202.4,589.1 C203.3,590.1 204.4,592.1 204.5,593.6 C204.7,595.1 204.0,597.0 203.3,598.3 C202.6,599.5 201.6,600.8 200.6,600.9Z" fill="#b3c4d0" fill-opacity="0.51" stroke="#9bb0c0" stroke-width="1.6" stroke-opacity="0.6"/>
<ellipse cx="200.7" cy="595.2" rx="2.0" ry="1.3" fill="#e2e6e8" fill-opacity="0.45"/>
<path d="M183.6,561.2 C183.4,562.1 182.1,563.1 180.8,563.4 C179.6,563.7 177.6,563.6 176.3,563.1 C175.1,562.7 174.0,561.5 173.3,560.5 C172.6,559.6 172.0,558.4 172.2,557.6 C172.4,556.8 173.5,555.9 174.6,555.5 C175.6,555.2 177.5,555.0 178.8,555.5 C180.0,555.9 181.3,557.0 182.1,558.0 C182.9,558.9 183.8,560.3 183.6,561.2Z" fill="#b3c4d0" fill-opacity="0.62" stroke="#9bb0c0" stroke-width="1.6" stroke-opacity="0.6"/>
<path d="M188.3,576.0 C187.1,575.8 186.1,573.4 185.2,572.0 C184.4,570.6 183.2,568.9 183.3,567.4 C183.3,565.9 184.6,564.0 185.6,562.7 C186.6,561.5 188.2,559.9 189.4,560.1 C190.5,560.2 191.4,562.3 192.3,563.7 C193.2,565.0 195.0,566.7 195.0,568.2 C194.9,569.7 193.1,571.4 192.0,572.7 C190.9,574.0 189.4,576.1 188.3,576.0Z" fill="#b3c4d0" fill-opacity="0.61" stroke="#9bb0c0" stroke-width="1.6" stroke-opacity="0.6"/>
<ellipse cx="187.9" cy="567.5" rx="2.1" ry="1.6" fill="#e2e6e8" fill-opacity="0.45"/>
<path d="M86.6,559.1 C85.7,559.7 84.4,560.3 83.3,559.9 C82.1,559.4 80.3,557.8 79.6,556.4 C79.0,555.0 79.0,552.8 79.4,551.6 C79.7,550.4 80.7,549.7 81.6,549.2 C82.5,548.6 83.9,547.8 84.9,548.3 C85.9,548.8 87.2,550.9 87.8,552.3 C88.3,553.7 88.5,555.3 88.3,556.4 C88.1,557.6 87.4,558.6 86.6,559.1Z" fill="#b3c4d0" fill-opacity="0.56" stroke="#9bb0c0" stroke-width="1.6" stroke-opacity="0.6"/>
<ellipse cx="85.1" cy="554.9" rx="1.9" ry="1.3" fill="#e2e6e8" fill-opacity="0.45"/>
<path d="M220.0,548.2 C219.3,547.2 218.7,545.5 219.2,544.3 C219.7,543.0 221.6,541.9 223.1,540.8 C224.5,539.8 226.6,538.1 228.0,538.1 C229.3,538.1 230.4,539.8 231.1,541.0 C231.9,542.1 233.0,543.7 232.5,545.0 C232.0,546.3 229.6,547.7 228.1,548.6 C226.6,549.5 224.8,550.2 223.4,550.2 C222.1,550.1 220.8,549.2 220.0,548.2Z" fill="#b3c4d0" fill-opacity="0.64" stroke="#9bb0c0" stroke-width="1.6" stroke-opacity="0.6"/>
<ellipse cx="225.2" cy="543.6" rx="2.1" ry="1.6" fill="#e2e6e8" fill-opacity="0.45"/>
<path d="M85.7,602.7 C85.0,603.2 84.1,603.4 83.1,603.0 C82.2,602.6 80.7,601.2 79.9,600.2 C79.2,599.1 78.9,597.6 78.7,596.4 C78.5,595.2 78.2,593.5 78.7,593.0 C79.2,592.5 80.9,592.6 81.8,593.2 C82.8,593.9 83.7,595.6 84.6,596.8 C85.4,598.0 86.8,599.5 87.0,600.5 C87.2,601.5 86.3,602.3 85.7,602.7Z" fill="#b3c4d0" fill-opacity="0.64" stroke="#9bb0c0" stroke-width="1.6" stroke-opacity="0.6"/>
<path d="M207.9,514.1 C207.9,515.3 206.0,517.1 204.4,517.8 C202.9,518.6 200.3,518.6 198.5,518.4 C196.8,518.2 195.0,517.4 193.9,516.6 C192.8,515.7 191.9,514.4 192.0,513.3 C192.0,512.2 192.7,511.0 193.9,510.1 C195.1,509.1 197.3,507.8 199.0,507.9 C200.7,507.9 202.7,509.3 204.2,510.4 C205.6,511.4 207.8,512.8 207.9,514.1Z" fill="#b3c4d0" fill-opacity="0.45" stroke="#9bb0c0" stroke-width="1.6" stroke-opacity="0.6"/>
<ellipse cx="200.7" cy="514.6" rx="2.3" ry="1.6" fill="#e2e6e8" fill-opacity="0.45"/>
<path d="M103.2,629.6 C102.1,628.9 100.9,627.2 100.9,625.7 C100.9,624.2 102.3,622.2 103.2,620.7 C104.2,619.2 105.2,617.1 106.5,616.5 C107.7,615.9 109.5,616.3 110.6,616.9 C111.7,617.5 113.0,618.9 113.1,620.3 C113.2,621.7 112.2,623.8 111.3,625.4 C110.4,627.0 109.1,629.1 107.8,629.8 C106.4,630.5 104.4,630.2 103.2,629.6Z" fill="#b3c4d0" fill-opacity="0.81" stroke="#9bb0c0" stroke-width="1.6" stroke-opacity="0.6"/>
<path d="M125.8,528.1 C125.7,528.8 125.4,529.7 124.6,530.1 C123.7,530.5 122.1,530.6 120.9,530.4 C119.7,530.2 118.3,529.5 117.5,528.9 C116.6,528.2 115.6,526.9 115.8,526.3 C116.1,525.6 117.9,525.4 118.9,525.0 C119.9,524.6 121.0,523.7 122.1,523.8 C123.2,524.0 124.7,525.1 125.3,525.8 C125.9,526.5 125.9,527.4 125.8,528.1Z" fill="#b3c4d0" fill-opacity="0.64" stroke="#9bb0c0" stroke-width="1.6" stroke-opacity="0.6"/>
<path d="M232.5,504.9 C232.7,506.0 231.7,507.9 230.4,508.6 C229.1,509.2 226.6,508.8 224.6,508.6 C222.7,508.4 220.0,508.4 218.9,507.6 C217.8,506.7 217.7,504.7 218.0,503.5 C218.2,502.4 219.1,501.2 220.4,500.4 C221.7,499.6 224.0,498.6 225.5,498.8 C227.0,499.0 228.3,500.8 229.4,501.8 C230.6,502.8 232.4,503.7 232.5,504.9Z" fill="#b3c4d0" fill-opacity="0.69" stroke="#9bb0c0" stroke-width="1.6" stroke-opacity="0.6"/>
<path d="M130.4,619.1 C129.7,619.7 127.8,619.5 126.5,619.0 C125.2,618.6 123.4,617.6 122.5,616.5 C121.6,615.4 121.2,613.5 121.1,612.3 C121.0,611.1 121.3,610.0 121.9,609.4 C122.6,608.9 123.8,608.8 124.9,609.0 C126.1,609.3 127.7,610.1 128.7,611.1 C129.6,612.2 130.5,613.9 130.8,615.3 C131.1,616.6 131.1,618.5 130.4,619.1Z" fill="#b3c4d0" fill-opacity="0.65" stroke="#9bb0c0" stroke-width="1.6" stroke-opacity="0.6"/>
<path d="M84.9,538.1 C84.7,537.5 85.0,536.7 85.6,536.0 C86.3,535.4 87.7,534.6 88.8,534.3 C90.0,534.1 91.4,534.2 92.3,534.5 C93.2,534.7 93.9,535.2 94.1,535.8 C94.2,536.3 93.8,537.2 93.2,537.8 C92.5,538.4 91.2,539.1 90.1,539.4 C89.0,539.6 87.6,539.6 86.7,539.4 C85.8,539.2 85.0,538.7 84.9,538.1Z" fill="#b3c4d0" fill-opacity="0.69" stroke="#9bb0c0" stroke-width="1.6" stroke-opacity="0.6"/>
<path d="M118.7,592.0 C118.4,593.1 118.4,594.7 117.3,595.2 C116.2,595.8 113.6,595.8 112.1,595.3 C110.6,594.7 108.9,593.2 108.2,592.1 C107.5,590.9 107.7,589.5 108.0,588.4 C108.3,587.3 108.9,585.8 110.1,585.3 C111.3,584.9 113.8,585.0 115.3,585.6 C116.8,586.1 118.5,587.6 119.1,588.6 C119.7,589.7 119.0,590.9 118.7,592.0Z" fill="#b3c4d0" fill-opacity="0.52" stroke="#9bb0c0" stroke-width="1.6" stroke-opacity="0.6"/>
<ellipse cx="113.0" cy="590.1" rx="1.9" ry="1.4" fill="#e2e6e8" fill-opacity="0.45"/>
<path d="M85.8,578.8 C85.5,578.4 86.1,577.1 86.7,576.3 C87.2,575.6 88.3,574.9 89.2,574.3 C90.1,573.7 91.1,573.0 92.0,572.8 C92.8,572.6 93.8,572.7 94.2,573.1 C94.6,573.5 94.8,574.4 94.4,575.2 C94.0,576.1 92.7,577.4 91.7,578.1 C90.7,578.7 89.4,578.9 88.4,579.0 C87.4,579.1 86.1,579.3 85.8,578.8Z" fill="#b3c4d0" fill-opacity="0.68" stroke="#9bb0c0" stroke-width="1.6" stroke-opacity="0.6"/>
<ellipse cx="89.1" cy="576.0" rx="1.4" ry="0.7" fill="#e2e6e8" fill-opacity="0.45"/>
<path d="M110.8,519.8 C110.5,519.4 111.0,517.9 111.1,516.9 C111.3,516.0 111.2,514.8 111.7,514.0 C112.2,513.2 113.5,512.6 114.2,512.3 C114.8,512.0 115.3,512.0 115.7,512.1 C116.2,512.3 117.0,512.5 116.9,513.2 C116.8,513.9 115.9,515.3 115.3,516.3 C114.6,517.3 113.8,518.5 113.1,519.1 C112.4,519.7 111.1,520.1 110.8,519.8Z" fill="#b3c4d0" fill-opacity="0.50" stroke="#9bb0c0" stroke-width="1.6" stroke-opacity="0.6"/>
<ellipse cx="112.5" cy="515.6" rx="1.4" ry="0.6" fill="#e2e6e8" fill-opacity="0.45"/>
<path d="M128.1,634.0 C128.1,634.7 125.6,635.4 124.2,635.8 C122.8,636.3 121.4,636.7 119.8,636.7 C118.1,636.7 115.2,636.5 114.1,635.9 C113.1,635.3 113.4,634.2 113.4,633.3 C113.4,632.4 113.0,631.2 114.1,630.7 C115.2,630.2 118.4,630.1 120.1,630.3 C121.8,630.5 123.0,631.2 124.4,631.8 C125.7,632.4 128.1,633.3 128.1,634.0Z" fill="#b3c4d0" fill-opacity="0.71" stroke="#9bb0c0" stroke-width="1.6" stroke-opacity="0.6"/>
<ellipse cx="120.2" cy="633.5" rx="2.2" ry="1.0" fill="#e2e6e8" fill-opacity="0.45"/>
<path d="M179.5,521.0 C178.6,520.7 178.0,519.1 177.8,517.7 C177.6,516.2 177.7,513.9 178.4,512.1 C179.2,510.4 181.0,507.9 182.3,507.0 C183.7,506.1 185.6,506.1 186.5,506.7 C187.5,507.3 188.2,509.1 188.2,510.7 C188.1,512.3 187.3,514.6 186.5,516.1 C185.7,517.6 184.3,518.8 183.2,519.6 C182.0,520.4 180.4,521.3 179.5,521.0Z" fill="#b3c4d0" fill-opacity="0.70" stroke="#9bb0c0" stroke-width="1.6" stroke-opacity="0.6"/>
<path d="M143.8,628.8 C142.9,628.4 142.3,626.6 142.1,625.4 C141.9,624.1 142.2,622.7 142.6,621.4 C143.1,620.2 143.7,618.7 144.5,618.0 C145.4,617.2 146.8,616.7 147.7,617.0 C148.6,617.2 149.7,618.1 150.1,619.3 C150.5,620.5 150.7,622.5 150.3,624.0 C149.8,625.4 148.6,627.3 147.5,628.2 C146.4,629.0 144.7,629.3 143.8,628.8Z" fill="#b3c4d0" fill-opacity="0.81" stroke="#9bb0c0" stroke-width="1.6" stroke-opacity="0.6"/>
<ellipse cx="147.1" cy="623.3" rx="1.8" ry="1.2" fill="#e2e6e8" fill-opacity="0.45"/>
<path d="M205.9,580.1 C205.4,579.2 205.9,577.4 206.5,576.3 C207.0,575.2 208.1,574.3 209.1,573.5 C210.2,572.8 211.5,571.8 212.7,571.7 C213.9,571.6 215.8,572.1 216.2,572.9 C216.7,573.8 216.0,575.4 215.5,576.6 C215.1,577.8 214.8,579.3 213.7,580.2 C212.7,581.1 210.6,581.9 209.3,581.9 C208.0,581.9 206.3,581.1 205.9,580.1Z" fill="#b3c4d0" fill-opacity="0.72" stroke="#9bb0c0" stroke-width="1.6" stroke-opacity="0.6"/>
<ellipse cx="211.5" cy="576.9" rx="1.7" ry="1.3" fill="#e2e6e8" fill-opacity="0.45"/>
<path d="M196.1,563.4 C195.5,562.9 194.9,561.6 195.1,560.5 C195.2,559.5 196.3,557.8 197.2,557.1 C198.2,556.3 199.8,556.0 200.8,556.0 C201.9,555.9 203.0,556.3 203.5,557.0 C204.1,557.6 204.5,558.8 204.3,559.8 C204.0,560.7 202.8,561.8 202.0,562.5 C201.1,563.2 200.0,563.7 199.1,563.8 C198.1,564.0 196.8,564.0 196.1,563.4Z" fill="#b3c4d0" fill-opacity="0.54" stroke="#9bb0c0" stroke-width="1.6" stroke-opacity="0.6"/>
<ellipse cx="200.5" cy="559.8" rx="1.5" ry="1.1" fill="#e2e6e8" fill-opacity="0.45"/>
<path d="M86.6,643.2 C86.0,642.8 85.1,642.5 85.0,641.5 C84.9,640.5 85.6,638.6 86.2,637.3 C86.8,636.0 87.8,634.2 88.6,633.6 C89.3,633.1 90.2,633.5 90.7,633.8 C91.3,634.2 91.5,634.9 91.7,635.9 C91.9,636.8 92.3,638.5 91.9,639.8 C91.4,641.1 89.8,643.1 88.9,643.7 C88.1,644.3 87.3,643.6 86.6,643.2Z" fill="#b3c4d0" fill-opacity="0.76" stroke="#9bb0c0" stroke-width="1.6" stroke-opacity="0.6"/>
<ellipse cx="89.0" cy="638.0" rx="1.8" ry="0.9" fill="#e2e6e8" fill-opacity="0.45"/>
<path d="M207.7,636.2 C207.4,636.7 206.6,636.7 205.7,636.6 C204.8,636.5 203.5,636.3 202.4,635.6 C201.3,634.9 199.6,633.4 199.2,632.5 C198.7,631.6 199.2,630.8 199.6,630.3 C199.9,629.7 200.5,629.0 201.5,629.1 C202.5,629.3 204.7,630.3 205.7,631.1 C206.7,632.0 207.2,633.3 207.5,634.2 C207.8,635.0 208.0,635.8 207.7,636.2Z" fill="#b3c4d0" fill-opacity="0.52" stroke="#9bb0c0" stroke-width="1.6" stroke-opacity="0.6"/>
<path d="M168.5,593.4 C167.0,593.9 165.4,595.3 163.9,594.5 C162.5,593.7 160.3,590.7 159.8,588.7 C159.3,586.7 160.3,584.1 160.9,582.7 C161.6,581.2 162.7,580.3 163.8,579.9 C165.0,579.5 166.6,579.4 167.8,580.2 C169.0,581.0 170.4,582.8 171.2,584.7 C172.0,586.6 173.1,589.9 172.7,591.3 C172.2,592.8 170.0,592.8 168.5,593.4Z" fill="#b3c4d0" fill-opacity="0.63" stroke="#9bb0c0" stroke-width="1.6" stroke-opacity="0.6"/>
<path d="M203.8,505.8 C202.8,505.1 202.0,504.2 201.6,502.8 C201.2,501.4 200.8,499.2 201.5,497.5 C202.1,495.7 204.1,493.3 205.5,492.5 C207.0,491.7 209.2,492.0 210.3,492.8 C211.4,493.5 211.8,495.5 212.0,497.1 C212.3,498.7 212.3,500.8 211.6,502.5 C210.9,504.2 209.0,506.6 207.7,507.2 C206.4,507.7 204.8,506.5 203.8,505.8Z" fill="#b3c4d0" fill-opacity="0.84" stroke="#9bb0c0" stroke-width="1.6" stroke-opacity="0.6"/>
<ellipse cx="205.9" cy="499.3" rx="2.3" ry="1.6" fill="#e2e6e8" fill-opacity="0.45"/>
<path d="M107.7,594.9 C107.3,595.4 105.7,595.2 104.6,595.2 C103.5,595.2 102.2,595.4 101.3,594.9 C100.3,594.3 99.3,592.9 99.0,591.9 C98.6,590.9 98.6,589.4 99.2,588.9 C99.7,588.3 101.2,588.6 102.2,588.6 C103.2,588.7 104.4,588.8 105.2,589.3 C106.0,589.8 106.3,590.9 106.8,591.9 C107.2,592.8 108.1,594.3 107.7,594.9Z" fill="#b3c4d0" fill-opacity="0.46" stroke="#9bb0c0" stroke-width="1.6" stroke-opacity="0.6"/>
<path d="M201.8,588.2 C201.5,587.4 202.3,585.9 203.0,584.9 C203.6,583.8 204.6,582.6 205.7,581.9 C206.8,581.3 208.2,581.0 209.5,580.9 C210.7,580.8 212.7,580.5 213.2,581.1 C213.7,581.7 213.3,583.4 212.7,584.5 C212.0,585.5 210.4,586.5 209.1,587.3 C207.7,588.2 205.9,589.7 204.6,589.8 C203.4,589.9 202.1,589.0 201.8,588.2Z" fill="#b3c4d0" fill-opacity="0.64" stroke="#9bb0c0" stroke-width="1.6" stroke-opacity="0.6"/>
<ellipse cx="207.1" cy="583.9" rx="1.9" ry="1.1" fill="#e2e6e8" fill-opacity="0.45"/>
<path d="M145.9,540.1 C145.7,539.2 147.4,537.6 148.9,536.9 C150.4,536.2 153.0,536.1 154.9,536.0 C156.9,535.9 159.4,535.8 160.7,536.3 C161.9,536.9 162.6,538.1 162.6,539.0 C162.6,539.9 161.8,541.0 160.6,541.7 C159.4,542.4 157.2,542.9 155.4,543.1 C153.6,543.2 151.5,543.0 149.9,542.5 C148.3,542.1 146.1,541.1 145.9,540.1Z" fill="#b3c4d0" fill-opacity="0.47" stroke="#9bb0c0" stroke-width="1.6" stroke-opacity="0.6"/>
<path d="M225.6,629.6 C225.4,629.1 226.4,628.0 227.0,627.2 C227.7,626.5 228.6,625.2 229.6,624.9 C230.6,624.6 231.8,625.3 232.8,625.5 C233.8,625.7 235.5,625.6 235.8,626.2 C236.0,626.7 235.0,627.9 234.3,628.5 C233.5,629.2 232.3,629.8 231.4,630.1 C230.4,630.4 229.4,630.4 228.4,630.3 C227.5,630.2 225.8,630.1 225.6,629.6Z" fill="#b3c4d0" fill-opacity="0.47" stroke="#9bb0c0" stroke-width="1.6" stroke-opacity="0.6"/>
<path d="M111.2,579.4 C110.9,578.8 111.0,578.0 111.3,577.2 C111.6,576.4 112.3,575.5 113.1,574.7 C113.9,573.9 115.2,572.8 116.1,572.5 C117.0,572.2 118.0,572.6 118.4,573.1 C118.7,573.6 118.5,574.6 118.2,575.5 C117.8,576.3 117.0,577.3 116.1,578.1 C115.3,578.9 113.9,580.1 113.0,580.3 C112.2,580.5 111.5,579.9 111.2,579.4Z" fill="#b3c4d0" fill-opacity="0.73" stroke="#9bb0c0" stroke-width="1.6" stroke-opacity="0.6"/>
<path d="M199.0,582.3 C198.7,582.0 199.4,580.4 199.6,579.4 C199.9,578.4 200.1,577.1 200.8,576.2 C201.5,575.4 203.0,574.8 204.0,574.3 C205.0,573.9 206.3,573.3 206.8,573.6 C207.4,574.0 207.5,575.2 207.2,576.3 C206.8,577.3 205.6,578.9 204.7,579.7 C203.8,580.6 202.8,580.9 201.9,581.4 C200.9,581.8 199.4,582.7 199.0,582.3Z" fill="#b3c4d0" fill-opacity="0.61" stroke="#9bb0c0" stroke-width="1.6" stroke-opacity="0.6"/>
<path d="M204.3,551.6 C203.7,551.4 203.0,550.4 202.8,549.5 C202.6,548.5 202.6,546.8 203.0,545.8 C203.3,544.7 204.3,543.8 205.0,543.1 C205.8,542.4 206.8,541.3 207.5,541.3 C208.2,541.4 209.0,542.4 209.3,543.5 C209.6,544.5 209.5,546.5 209.1,547.6 C208.7,548.8 207.5,549.8 206.7,550.5 C205.9,551.2 205.0,551.8 204.3,551.6Z" fill="#b3c4d0" fill-opacity="0.45" stroke="#9bb0c0" stroke-width="1.6" stroke-opacity="0.6"/>
<path d="M134.1,603.3 C133.9,602.5 134.4,601.3 135.1,600.5 C135.8,599.8 137.3,599.1 138.3,599.0 C139.4,598.9 140.3,599.7 141.3,600.1 C142.3,600.6 144.2,601.1 144.3,601.8 C144.5,602.5 143.0,603.8 142.2,604.4 C141.3,605.1 140.3,605.6 139.3,605.7 C138.3,605.9 137.2,605.6 136.3,605.2 C135.5,604.7 134.3,604.0 134.1,603.3Z" fill="#b3c4d0" fill-opacity="0.65" stroke="#9bb0c0" stroke-width="1.6" stroke-opacity="0.6"/>
<ellipse cx="139.8" cy="601.6" rx="1.4" ry="1.1" fill="#e2e6e8" fill-opacity="0.45"/>
<path d="M94.8,600.0 C94.2,599.9 93.5,599.2 93.5,598.2 C93.4,597.3 94.1,595.6 94.5,594.3 C94.9,593.0 95.3,591.1 95.9,590.4 C96.5,589.6 97.7,589.2 98.2,589.6 C98.7,589.9 98.7,591.4 98.8,592.4 C98.8,593.4 98.7,594.5 98.4,595.6 C98.1,596.7 97.5,598.3 96.9,599.0 C96.3,599.8 95.4,600.2 94.8,600.0Z" fill="#b3c4d0" fill-opacity="0.68" stroke="#9bb0c0" stroke-width="1.6" stroke-opacity="0.6"/>
<path d="M112.2,546.0 C111.4,545.1 111.0,542.9 111.5,541.6 C112.1,540.4 114.2,539.4 115.5,538.6 C116.8,537.7 118.1,536.7 119.5,536.5 C120.9,536.4 123.0,536.8 123.8,537.8 C124.6,538.8 124.9,541.0 124.4,542.4 C123.8,543.7 121.8,544.9 120.5,545.7 C119.1,546.5 117.7,547.2 116.3,547.2 C114.9,547.3 113.0,546.9 112.2,546.0Z" fill="#b3c4d0" fill-opacity="0.82" stroke="#9bb0c0" stroke-width="1.6" stroke-opacity="0.6"/>
<path d="M136.3,574.6 C135.5,574.6 134.4,575.1 133.9,574.4 C133.4,573.7 133.1,571.7 133.2,570.4 C133.2,569.1 133.5,567.4 134.0,566.5 C134.6,565.7 135.6,565.4 136.4,565.5 C137.2,565.5 138.1,565.9 138.6,566.8 C139.2,567.6 139.6,569.3 139.6,570.5 C139.6,571.8 139.1,573.7 138.6,574.4 C138.0,575.0 137.0,574.6 136.3,574.6Z" fill="#b3c4d0" fill-opacity="0.46" stroke="#9bb0c0" stroke-width="1.6" stroke-opacity="0.6"/>
<ellipse cx="136.7" cy="570.1" rx="1.4" ry="0.9" fill="#e2e6e8" fill-opacity="0.45"/>
<path d="M168.5,530.6 C168.3,529.7 168.3,528.2 169.2,527.5 C170.2,526.8 172.4,526.5 174.0,526.3 C175.6,526.1 177.5,525.7 178.9,526.1 C180.2,526.5 182.0,527.6 182.1,528.5 C182.2,529.5 180.8,531.0 179.6,531.7 C178.4,532.5 176.6,533.0 175.1,533.3 C173.6,533.5 171.5,533.6 170.4,533.1 C169.3,532.7 168.7,531.6 168.5,530.6Z" fill="#b3c4d0" fill-opacity="0.57" stroke="#9bb0c0" stroke-width="1.6" stroke-opacity="0.6"/>
<path d="M141.8,540.8 C141.1,540.7 140.5,539.8 140.1,538.8 C139.8,537.8 139.6,536.0 139.8,534.8 C140.1,533.6 140.9,532.4 141.5,531.5 C142.1,530.6 142.9,529.3 143.4,529.4 C144.0,529.4 144.7,530.6 145.0,531.7 C145.3,532.7 145.4,534.3 145.2,535.6 C145.1,536.9 144.5,538.6 143.9,539.4 C143.3,540.3 142.4,540.9 141.8,540.8Z" fill="#b3c4d0" fill-opacity="0.79" stroke="#9bb0c0" stroke-width="1.6" stroke-opacity="0.6"/>
<ellipse cx="142.0" cy="534.8" rx="1.6" ry="0.8" fill="#e2e6e8" fill-opacity="0.45"/>
<path d="M212.5,561.3 C211.9,561.3 211.2,561.1 210.6,560.6 C209.9,560.0 208.8,559.0 208.6,557.9 C208.3,556.8 208.6,554.9 209.0,554.1 C209.4,553.3 210.3,553.2 211.0,553.2 C211.6,553.1 212.4,553.2 213.0,553.8 C213.5,554.4 214.1,555.7 214.3,556.8 C214.6,557.9 214.8,559.6 214.5,560.4 C214.2,561.1 213.2,561.2 212.5,561.3Z" fill="#b3c4d0" fill-opacity="0.74" stroke="#9bb0c0" stroke-width="1.6" stroke-opacity="0.6"/>
<path d="M219.9,578.8 C219.5,577.8 219.6,576.3 220.2,575.3 C220.8,574.2 222.3,573.1 223.6,572.4 C225.0,571.8 227.2,571.2 228.4,571.5 C229.5,571.8 230.3,573.2 230.6,574.3 C231.0,575.3 231.0,576.6 230.4,577.6 C229.8,578.7 228.4,580.1 227.1,580.7 C225.8,581.2 223.9,581.2 222.7,580.9 C221.5,580.6 220.3,579.7 219.9,578.8Z" fill="#b3c4d0" fill-opacity="0.69" stroke="#9bb0c0" stroke-width="1.6" stroke-opacity="0.6"/>
<ellipse cx="226.4" cy="577.4" rx="1.9" ry="1.3" fill="#e2e6e8" fill-opacity="0.45"/>
<path d="M161.3,560.2 C161.0,560.7 159.5,560.7 158.5,560.8 C157.4,560.9 156.0,561.3 155.0,560.9 C154.0,560.4 153.1,559.0 152.5,558.1 C151.8,557.1 150.9,555.9 151.1,555.3 C151.4,554.6 152.6,554.0 153.7,553.9 C154.8,553.9 156.8,554.2 157.9,554.8 C159.0,555.4 159.7,556.7 160.2,557.7 C160.8,558.6 161.6,559.7 161.3,560.2Z" fill="#b3c4d0" fill-opacity="0.68" stroke="#9bb0c0" stroke-width="1.6" stroke-opacity="0.6"/>
<ellipse cx="157.7" cy="557.0" rx="1.6" ry="0.9" fill="#e2e6e8" fill-opacity="0.45"/>
<path d="M157.0,599.7 C156.2,599.5 155.4,597.8 155.2,596.6 C155.0,595.3 155.2,593.2 155.7,591.9 C156.2,590.7 157.3,589.6 158.1,588.8 C159.0,588.1 160.0,587.3 160.8,587.4 C161.5,587.6 162.3,588.6 162.6,589.7 C162.8,590.8 162.9,592.6 162.5,594.0 C162.1,595.4 161.1,597.0 160.2,597.9 C159.3,598.9 157.8,599.9 157.0,599.7Z" fill="#b3c4d0" fill-opacity="0.59" stroke="#9bb0c0" stroke-width="1.6" stroke-opacity="0.6"/>
<path d="M167.3,614.5 C166.9,615.7 165.1,616.6 163.7,617.2 C162.3,617.9 160.3,618.7 158.8,618.4 C157.3,618.1 155.4,616.6 154.6,615.5 C153.8,614.4 153.6,613.0 153.8,611.9 C154.1,610.8 154.9,609.5 156.1,608.9 C157.2,608.4 159.0,608.6 160.7,608.8 C162.4,609.0 165.1,609.1 166.2,610.1 C167.3,611.1 167.7,613.3 167.3,614.5Z" fill="#b3c4d0" fill-opacity="0.45" stroke="#9bb0c0" stroke-width="1.6" stroke-opacity="0.6"/>
<path d="M127.4,561.1 C127.1,560.5 128.5,559.1 129.4,558.3 C130.4,557.4 131.7,556.3 133.0,555.9 C134.3,555.5 136.1,555.5 137.1,555.7 C138.0,555.8 138.4,556.4 138.8,557.0 C139.2,557.6 140.1,558.4 139.4,559.2 C138.8,560.0 136.5,561.3 135.1,561.7 C133.7,562.1 132.2,561.9 130.9,561.8 C129.6,561.7 127.6,561.7 127.4,561.1Z" fill="#b3c4d0" fill-opacity="0.68" stroke="#9bb0c0" stroke-width="1.6" stroke-opacity="0.6"/>
<path d="M152.6,635.4 C151.9,635.1 150.9,634.2 151.1,633.2 C151.2,632.2 152.4,630.6 153.4,629.5 C154.3,628.3 155.7,626.9 156.6,626.6 C157.5,626.3 158.5,627.0 159.0,627.6 C159.5,628.2 159.7,629.1 159.6,630.1 C159.4,631.1 158.9,632.5 158.2,633.4 C157.5,634.3 156.2,635.1 155.2,635.4 C154.3,635.7 153.3,635.8 152.6,635.4Z" fill="#b3c4d0" fill-opacity="0.54" stroke="#9bb0c0" stroke-width="1.6" stroke-opacity="0.6"/>
<path d="M186.2,577.6 C186.0,578.3 184.2,578.7 183.0,579.0 C181.8,579.3 180.1,579.6 179.0,579.3 C177.8,578.9 176.8,577.7 176.0,576.9 C175.2,576.1 174.1,575.0 174.3,574.3 C174.4,573.6 175.7,572.9 176.8,572.6 C177.9,572.4 179.6,572.3 180.8,572.6 C182.1,573.0 183.3,573.9 184.2,574.7 C185.0,575.6 186.4,576.9 186.2,577.6Z" fill="#b3c4d0" fill-opacity="0.52" stroke="#9bb0c0" stroke-width="1.6" stroke-opacity="0.6"/>
<ellipse cx="179.3" cy="575.3" rx="1.7" ry="1.0" fill="#e2e6e8" fill-opacity="0.45"/>
<path d="M223.5,608.7 C223.0,610.1 222.5,612.1 221.0,612.6 C219.6,613.2 216.5,612.7 214.8,611.9 C213.1,611.0 211.6,609.1 210.8,607.6 C210.0,606.1 209.8,604.2 210.2,602.9 C210.7,601.6 212.1,600.0 213.7,599.5 C215.3,599.0 218.3,599.3 220.0,600.1 C221.6,601.0 223.1,603.1 223.6,604.6 C224.2,606.0 223.9,607.4 223.5,608.7Z" fill="#b3c4d0" fill-opacity="0.56" stroke="#9bb0c0" stroke-width="1.6" stroke-opacity="0.6"/>
<path d="M129.1,586.3 C128.9,585.8 130.3,584.7 131.1,584.1 C131.9,583.5 132.9,583.0 133.9,582.7 C134.9,582.4 136.3,582.2 137.2,582.3 C138.0,582.5 138.8,583.0 139.0,583.5 C139.2,584.0 138.9,584.8 138.3,585.4 C137.6,586.1 136.2,586.9 135.2,587.1 C134.1,587.4 132.9,587.2 131.9,587.0 C130.9,586.9 129.2,586.8 129.1,586.3Z" fill="#b3c4d0" fill-opacity="0.74" stroke="#9bb0c0" stroke-width="1.6" stroke-opacity="0.6"/>
<ellipse cx="134.9" cy="584.3" rx="1.6" ry="0.8" fill="#e2e6e8" fill-opacity="0.45"/>
<path d="M94.6,612.5 C94.0,611.8 94.0,610.2 94.1,609.0 C94.2,607.8 94.6,606.3 95.5,605.3 C96.3,604.3 98.2,603.2 99.3,603.1 C100.4,603.1 101.6,604.2 102.1,604.9 C102.7,605.7 102.7,606.8 102.7,607.9 C102.7,609.0 102.8,610.9 102.0,611.8 C101.3,612.7 99.3,612.9 98.1,613.0 C96.8,613.1 95.3,613.1 94.6,612.5Z" fill="#b3c4d0" fill-opacity="0.48" stroke="#9bb0c0" stroke-width="1.6" stroke-opacity="0.6"/>
<path d="M186.3,609.0 C185.0,609.1 183.3,607.9 182.2,606.6 C181.2,605.4 180.2,603.4 179.8,601.5 C179.4,599.6 179.1,596.3 179.8,595.1 C180.5,593.8 182.6,594.2 184.0,594.0 C185.4,593.9 187.2,593.1 188.1,594.2 C189.0,595.2 189.1,598.1 189.3,600.1 C189.6,602.1 190.3,604.5 189.8,606.0 C189.3,607.5 187.5,608.9 186.3,609.0Z" fill="#b3c4d0" fill-opacity="0.47" stroke="#9bb0c0" stroke-width="1.6" stroke-opacity="0.6"/>
<path d="M140.2,526.7 C139.7,526.1 139.5,525.3 139.7,524.3 C139.8,523.4 140.3,521.8 141.1,520.8 C141.8,519.8 143.1,518.7 144.2,518.2 C145.2,517.6 146.9,516.8 147.4,517.2 C147.9,517.6 147.5,519.5 147.2,520.6 C146.9,521.8 146.3,523.0 145.5,524.1 C144.7,525.3 143.3,527.2 142.4,527.6 C141.5,528.0 140.7,527.2 140.2,526.7Z" fill="#b3c4d0" fill-opacity="0.72" stroke="#9bb0c0" stroke-width="1.6" stroke-opacity="0.6"/>
<ellipse cx="143.6" cy="522.2" rx="1.7" ry="0.9" fill="#e2e6e8" fill-opacity="0.45"/>
<path d="M186.9,562.8 C186.3,562.6 185.6,562.2 185.1,561.5 C184.7,560.9 184.4,559.8 184.2,558.7 C184.0,557.5 183.5,555.5 183.8,554.6 C184.1,553.6 185.3,552.9 186.0,553.1 C186.7,553.2 187.3,554.5 187.9,555.3 C188.5,556.1 189.3,557.0 189.5,558.1 C189.7,559.3 189.6,561.5 189.2,562.3 C188.8,563.1 187.6,562.9 186.9,562.8Z" fill="#b3c4d0" fill-opacity="0.60" stroke="#9bb0c0" stroke-width="1.6" stroke-opacity="0.6"/>
<path d="M159.5,502.4 C158.4,501.9 157.8,499.5 157.6,497.9 C157.4,496.2 157.6,494.0 158.3,492.4 C159.0,490.9 160.5,489.2 161.7,488.5 C163.0,487.7 164.3,487.9 165.6,488.2 C166.8,488.5 168.8,488.8 169.3,490.2 C169.9,491.7 169.5,495.1 168.6,496.8 C167.8,498.6 165.7,499.8 164.1,500.8 C162.6,501.7 160.6,502.8 159.5,502.4Z" fill="#b3c4d0" fill-opacity="0.82" stroke="#9bb0c0" stroke-width="1.6" stroke-opacity="0.6"/>
<ellipse cx="163.6" cy="495.6" rx="2.5" ry="1.7" fill="#e2e6e8" fill-opacity="0.45"/>
<path d="M203.8,532.7 C203.1,532.4 202.3,531.6 202.1,530.6 C201.9,529.6 202.1,527.7 202.6,526.7 C203.1,525.6 204.3,524.7 205.1,524.2 C206.0,523.7 207.1,523.4 207.6,523.8 C208.2,524.1 208.5,525.2 208.7,526.1 C208.8,527.0 208.8,528.2 208.4,529.2 C208.0,530.1 207.3,531.5 206.5,532.0 C205.7,532.6 204.6,532.9 203.8,532.7Z" fill="#b3c4d0" fill-opacity="0.78" stroke="#9bb0c0" stroke-width="1.6" stroke-opacity="0.6"/>
<ellipse cx="206.3" cy="527.4" rx="1.4" ry="0.9" fill="#e2e6e8" fill-opacity="0.45"/>
<path d="M149.0,639.6 C148.5,639.5 147.9,638.2 147.3,637.4 C146.7,636.6 145.9,636.0 145.6,634.9 C145.3,633.8 145.3,631.9 145.5,630.9 C145.8,630.0 146.5,629.2 147.0,629.1 C147.6,629.1 148.4,630.0 148.9,630.8 C149.4,631.6 149.8,632.9 150.1,634.0 C150.3,635.2 150.6,636.7 150.4,637.7 C150.2,638.6 149.6,639.6 149.0,639.6Z" fill="#b3c4d0" fill-opacity="0.53" stroke="#9bb0c0" stroke-width="1.6" stroke-opacity="0.6"/>
<path d="M140.1,545.4 C139.6,544.6 139.4,543.3 139.8,542.2 C140.2,541.2 141.4,539.7 142.6,538.9 C143.8,538.1 145.8,537.4 147.0,537.5 C148.2,537.6 149.4,538.6 149.8,539.4 C150.2,540.3 150.1,541.7 149.5,542.8 C149.0,543.8 147.8,544.9 146.7,545.6 C145.5,546.3 143.8,547.1 142.7,547.1 C141.6,547.0 140.6,546.2 140.1,545.4Z" fill="#b3c4d0" fill-opacity="0.81" stroke="#9bb0c0" stroke-width="1.6" stroke-opacity="0.6"/>
<ellipse cx="146.5" cy="543.6" rx="1.9" ry="1.3" fill="#e2e6e8" fill-opacity="0.45"/>
<path d="M92.9,522.5 C92.7,523.5 91.8,524.8 90.5,525.2 C89.2,525.5 86.8,525.3 85.1,524.8 C83.5,524.3 81.4,523.4 80.4,522.3 C79.4,521.3 78.8,519.7 79.1,518.7 C79.4,517.8 80.9,516.8 82.3,516.5 C83.6,516.2 85.7,516.6 87.2,517.1 C88.7,517.5 90.4,518.3 91.3,519.2 C92.3,520.2 93.0,521.5 92.9,522.5Z" fill="#b3c4d0" fill-opacity="0.71" stroke="#9bb0c0" stroke-width="1.6" stroke-opacity="0.6"/>
<path d="M95.3,576.1 C94.6,575.8 94.0,574.5 93.6,573.4 C93.2,572.4 92.7,571.1 92.8,569.9 C93.0,568.7 93.8,566.8 94.4,566.1 C95.1,565.4 96.2,565.7 97.0,565.9 C97.8,566.1 98.8,566.3 99.2,567.2 C99.5,568.0 99.3,569.7 99.1,571.0 C98.9,572.2 98.6,573.8 97.9,574.6 C97.3,575.5 96.0,576.3 95.3,576.1Z" fill="#b3c4d0" fill-opacity="0.54" stroke="#9bb0c0" stroke-width="1.6" stroke-opacity="0.6"/>
<path d="M95.4,553.4 C94.5,552.6 94.7,550.3 94.8,548.7 C94.8,547.1 94.8,545.1 95.8,543.7 C96.8,542.3 99.2,540.3 100.6,540.1 C102.1,539.9 103.3,541.6 104.5,542.6 C105.7,543.6 107.8,544.4 107.9,545.9 C108.0,547.4 106.4,550.2 105.1,551.5 C103.8,552.8 101.8,553.3 100.2,553.6 C98.5,553.9 96.3,554.3 95.4,553.4Z" fill="#b3c4d0" fill-opacity="0.47" stroke="#9bb0c0" stroke-width="1.6" stroke-opacity="0.6"/>
<ellipse cx="100.1" cy="548.7" rx="2.2" ry="1.7" fill="#e2e6e8" fill-opacity="0.45"/>
<path d="M183.7,554.2 C182.6,554.2 181.1,553.4 180.7,552.4 C180.3,551.4 181.0,549.5 181.2,548.3 C181.5,547.0 181.6,545.6 182.2,545.0 C182.8,544.3 184.0,544.2 184.9,544.2 C185.8,544.3 186.8,544.6 187.5,545.4 C188.1,546.2 188.8,547.9 188.7,549.2 C188.6,550.4 187.7,552.1 186.9,553.0 C186.0,553.8 184.7,554.3 183.7,554.2Z" fill="#b3c4d0" fill-opacity="0.73" stroke="#9bb0c0" stroke-width="1.6" stroke-opacity="0.6"/>
<ellipse cx="183.4" cy="549.4" rx="1.5" ry="1.2" fill="#e2e6e8" fill-opacity="0.45"/>
<path d="M170.3,504.5 C169.5,504.4 168.6,504.0 168.1,503.2 C167.6,502.4 167.5,501.0 167.3,499.8 C167.2,498.6 166.9,496.9 167.2,496.0 C167.6,495.2 168.6,494.7 169.3,494.7 C169.9,494.8 170.6,495.6 171.2,496.4 C171.8,497.1 172.5,498.1 172.7,499.3 C172.9,500.5 173.1,502.7 172.7,503.6 C172.3,504.5 171.0,504.6 170.3,504.5Z" fill="#b3c4d0" fill-opacity="0.68" stroke="#9bb0c0" stroke-width="1.6" stroke-opacity="0.6"/>
<ellipse cx="168.7" cy="499.9" rx="1.6" ry="0.9" fill="#e2e6e8" fill-opacity="0.45"/>
<path d="M175.8,571.1 C175.7,572.8 174.5,575.1 172.8,576.1 C171.2,577.2 168.1,577.6 166.0,577.4 C163.9,577.1 161.4,575.7 160.1,574.3 C158.8,573.0 157.8,570.7 158.1,569.2 C158.3,567.6 160.1,565.9 161.7,565.1 C163.2,564.2 165.4,563.9 167.4,564.0 C169.4,564.1 172.4,564.5 173.8,565.6 C175.2,566.8 176.0,569.3 175.8,571.1Z" fill="#b3c4d0" fill-opacity="0.67" stroke="#9bb0c0" stroke-width="1.6" stroke-opacity="0.6"/>
<path d="M217.7,596.8 C217.0,596.0 217.0,594.5 217.2,593.3 C217.3,592.1 217.8,590.5 218.7,589.5 C219.6,588.6 221.3,587.7 222.4,587.6 C223.5,587.5 224.4,588.2 225.1,588.9 C225.7,589.5 226.4,590.5 226.4,591.5 C226.3,592.5 225.5,593.9 224.6,595.0 C223.7,596.1 222.2,597.9 221.0,598.2 C219.9,598.5 218.3,597.6 217.7,596.8Z" fill="#b3c4d0" fill-opacity="0.65" stroke="#9bb0c0" stroke-width="1.6" stroke-opacity="0.6"/>
<ellipse cx="221.3" cy="591.8" rx="1.7" ry="1.2" fill="#e2e6e8" fill-opacity="0.45"/>
<path d="M129.8,521.8 C129.3,522.2 128.3,522.7 127.5,522.2 C126.7,521.8 125.8,520.3 125.0,519.2 C124.3,518.1 123.2,516.7 123.1,515.8 C123.0,514.9 123.7,514.0 124.3,513.7 C124.9,513.5 126.0,514.1 126.8,514.5 C127.6,515.0 128.4,515.6 129.0,516.5 C129.7,517.3 130.5,518.7 130.6,519.6 C130.8,520.5 130.4,521.4 129.8,521.8Z" fill="#b3c4d0" fill-opacity="0.74" stroke="#9bb0c0" stroke-width="1.6" stroke-opacity="0.6"/>
<path d="M184.9,531.1 C184.2,530.7 184.0,529.2 183.8,528.0 C183.6,526.8 183.3,525.3 183.7,523.9 C184.0,522.5 185.2,520.2 186.0,519.4 C186.9,518.6 188.3,518.5 188.9,519.0 C189.6,519.5 189.7,520.9 189.9,522.1 C190.1,523.3 190.6,524.7 190.3,526.1 C189.9,527.5 188.7,529.6 187.8,530.4 C186.9,531.3 185.5,531.5 184.9,531.1Z" fill="#b3c4d0" fill-opacity="0.80" stroke="#9bb0c0" stroke-width="1.6" stroke-opacity="0.6"/>
<ellipse cx="185.6" cy="524.4" rx="1.8" ry="1.0" fill="#e2e6e8" fill-opacity="0.45"/>
<path d="M143.9,506.2 C142.9,506.2 141.6,505.8 141.1,504.8 C140.5,503.7 140.6,501.6 140.5,499.9 C140.4,498.1 139.9,495.4 140.4,494.2 C140.9,493.0 142.5,492.7 143.6,492.7 C144.7,492.6 146.4,492.8 146.9,493.9 C147.5,495.1 147.1,497.9 147.1,499.8 C147.1,501.6 147.3,503.8 146.8,504.9 C146.2,506.0 144.8,506.2 143.9,506.2Z" fill="#b3c4d0" fill-opacity="0.69" stroke="#9bb0c0" stroke-width="1.6" stroke-opacity="0.6"/>
<path d="M126.8,510.6 C126.4,510.2 126.9,508.8 127.3,507.8 C127.7,506.9 128.5,505.7 129.3,504.9 C130.2,504.1 131.7,503.2 132.6,502.9 C133.6,502.7 134.5,502.9 135.0,503.3 C135.4,503.8 135.6,504.8 135.2,505.7 C134.9,506.6 133.8,508.0 132.9,508.8 C131.9,509.6 130.7,510.0 129.7,510.3 C128.7,510.7 127.2,511.0 126.8,510.6Z" fill="#b3c4d0" fill-opacity="0.49" stroke="#9bb0c0" stroke-width="1.6" stroke-opacity="0.6"/>
<path d="M95.5,501.7 C94.9,501.9 93.9,502.1 93.5,501.4 C93.1,500.6 93.1,498.5 93.2,497.3 C93.3,496.1 93.7,494.9 94.0,494.1 C94.4,493.4 95.0,492.9 95.5,492.8 C96.1,492.7 96.9,492.7 97.3,493.4 C97.8,494.2 98.3,496.1 98.2,497.3 C98.1,498.5 97.4,499.7 96.9,500.4 C96.5,501.1 96.0,501.6 95.5,501.7Z" fill="#b3c4d0" fill-opacity="0.67" stroke="#9bb0c0" stroke-width="1.6" stroke-opacity="0.6"/>
<ellipse cx="96.3" cy="496.9" rx="1.5" ry="0.7" fill="#e2e6e8" fill-opacity="0.45"/>
<path d="M131.9,640.8 C131.3,641.5 129.7,641.5 128.5,641.6 C127.3,641.7 125.9,641.9 124.7,641.3 C123.5,640.8 121.9,639.3 121.5,638.4 C121.1,637.4 121.7,636.3 122.2,635.6 C122.6,634.9 123.5,634.4 124.5,634.2 C125.5,634.1 127.0,634.4 128.1,634.9 C129.3,635.5 131.0,636.6 131.7,637.5 C132.3,638.5 132.4,640.2 131.9,640.8Z" fill="#b3c4d0" fill-opacity="0.80" stroke="#9bb0c0" stroke-width="1.6" stroke-opacity="0.6"/>
<ellipse cx="127.1" cy="638.2" rx="1.6" ry="1.0" fill="#e2e6e8" fill-opacity="0.45"/>
<path d="M141.3,580.7 C140.7,579.9 141.2,577.8 142.3,576.7 C143.5,575.6 146.2,574.8 148.2,574.1 C150.2,573.3 152.6,572.1 154.3,572.1 C156.0,572.1 158.2,573.1 158.3,574.2 C158.5,575.2 156.7,577.1 155.4,578.2 C154.2,579.3 152.4,580.2 150.8,580.8 C149.2,581.4 147.4,581.7 145.9,581.7 C144.3,581.7 141.8,581.5 141.3,580.7Z" fill="#b3c4d0" fill-opacity="0.59" stroke="#9bb0c0" stroke-width="1.6" stroke-opacity="0.6"/>
<path d="M88.7,627.6 C88.5,628.3 86.8,628.7 85.8,628.9 C84.7,629.2 83.7,629.4 82.5,629.2 C81.3,628.9 79.4,628.3 78.7,627.5 C78.0,626.7 78.0,625.2 78.3,624.3 C78.6,623.3 79.4,622.3 80.5,621.9 C81.6,621.5 83.7,621.4 84.8,621.9 C85.9,622.4 86.4,623.9 87.0,624.8 C87.7,625.8 88.9,626.9 88.7,627.6Z" fill="#b3c4d0" fill-opacity="0.52" stroke="#9bb0c0" stroke-width="1.6" stroke-opacity="0.6"/>
<ellipse cx="84.4" cy="626.3" rx="1.5" ry="1.1" fill="#e2e6e8" fill-opacity="0.45"/>
<path d="M214.4,517.4 C213.6,517.4 212.6,516.1 211.8,515.1 C211.0,514.1 209.8,512.9 209.4,511.5 C209.1,510.1 209.2,507.8 209.6,506.8 C210.0,505.8 210.9,505.5 211.6,505.3 C212.3,505.2 213.2,505.3 214.0,506.0 C214.7,506.8 215.5,508.5 216.0,510.0 C216.4,511.6 216.8,514.0 216.5,515.3 C216.3,516.5 215.2,517.5 214.4,517.4Z" fill="#b3c4d0" fill-opacity="0.52" stroke="#9bb0c0" stroke-width="1.6" stroke-opacity="0.6"/>
<ellipse cx="211.7" cy="511.6" rx="1.9" ry="1.0" fill="#e2e6e8" fill-opacity="0.45"/>
<path d="M180.2,594.6 C179.3,594.1 178.8,592.1 178.9,590.7 C179.1,589.2 180.1,587.2 181.1,586.0 C182.0,584.7 183.5,583.6 184.6,583.1 C185.8,582.5 187.2,582.5 188.1,582.9 C189.1,583.4 190.6,584.4 190.5,585.7 C190.5,587.0 188.9,589.3 187.9,590.6 C186.9,591.9 185.6,593.0 184.4,593.7 C183.1,594.3 181.1,595.1 180.2,594.6Z" fill="#b3c4d0" fill-opacity="0.84" stroke="#9bb0c0" stroke-width="1.6" stroke-opacity="0.6"/>
<ellipse cx="183.1" cy="589.6" rx="2.0" ry="1.3" fill="#e2e6e8" fill-opacity="0.45"/>
<path d="M80.3,588.7 C79.4,588.2 78.7,587.0 78.5,585.6 C78.3,584.2 78.7,582.3 79.3,580.4 C79.8,578.5 80.7,575.6 81.8,574.4 C82.9,573.2 84.8,572.8 86.0,573.2 C87.1,573.6 88.5,575.0 88.5,576.7 C88.6,578.3 87.1,581.0 86.4,583.0 C85.6,585.0 84.9,587.7 83.9,588.7 C82.9,589.6 81.2,589.2 80.3,588.7Z" fill="#b3c4d0" fill-opacity="0.60" stroke="#9bb0c0" stroke-width="1.6" stroke-opacity="0.6"/>
<ellipse cx="83.6" cy="581.8" rx="2.5" ry="1.3" fill="#e2e6e8" fill-opacity="0.45"/>
<path d="M214.6,572.5 C213.8,573.4 211.6,573.4 210.0,573.3 C208.5,573.2 206.3,572.9 205.1,571.8 C204.0,570.8 203.3,568.6 203.1,567.1 C202.9,565.6 203.1,563.8 204.0,562.8 C204.8,561.8 206.6,561.0 208.1,561.1 C209.6,561.1 211.9,562.0 213.0,563.2 C214.2,564.3 214.6,566.3 214.9,567.8 C215.2,569.4 215.4,571.6 214.6,572.5Z" fill="#b3c4d0" fill-opacity="0.70" stroke="#9bb0c0" stroke-width="1.6" stroke-opacity="0.6"/>
<path d="M102.8,520.6 C102.3,520.9 101.1,520.5 100.4,519.9 C99.7,519.2 98.9,517.7 98.4,516.6 C97.8,515.5 97.3,514.2 97.1,513.0 C97.0,511.9 97.0,510.1 97.6,509.8 C98.1,509.4 99.6,510.2 100.4,511.0 C101.3,511.8 102.2,513.2 102.8,514.5 C103.3,515.7 103.8,517.2 103.8,518.3 C103.8,519.3 103.4,520.3 102.8,520.6Z" fill="#b3c4d0" fill-opacity="0.77" stroke="#9bb0c0" stroke-width="1.6" stroke-opacity="0.6"/>
<path d="M127.4,534.8 C126.6,534.4 125.9,533.6 125.7,532.2 C125.6,530.9 125.8,528.4 126.5,526.7 C127.3,525.0 129.0,522.8 130.2,522.0 C131.3,521.2 132.7,521.1 133.4,521.6 C134.1,522.1 134.2,523.7 134.3,525.1 C134.3,526.5 134.3,528.4 133.7,529.9 C133.0,531.5 131.5,533.5 130.4,534.3 C129.4,535.1 128.2,535.1 127.4,534.8Z" fill="#b3c4d0" fill-opacity="0.79" stroke="#9bb0c0" stroke-width="1.6" stroke-opacity="0.6"/>
<path d="M140.6,553.5 C139.8,554.4 137.8,554.8 136.3,554.8 C134.8,554.9 132.6,554.8 131.4,553.9 C130.1,553.0 129.1,550.9 128.8,549.6 C128.6,548.3 129.2,547.2 129.8,546.0 C130.4,544.9 131.2,543.1 132.5,543.0 C133.8,542.8 136.0,544.2 137.4,545.2 C138.7,546.1 140.1,547.6 140.7,549.0 C141.2,550.3 141.3,552.5 140.6,553.5Z" fill="#b3c4d0" fill-opacity="0.84" stroke="#9bb0c0" stroke-width="1.6" stroke-opacity="0.6"/>
<ellipse cx="136.2" cy="550.1" rx="2.0" ry="1.6" fill="#e2e6e8" fill-opacity="0.45"/>
<path d="M93.4,598.3 C92.9,598.8 91.5,598.6 90.6,598.3 C89.6,598.1 88.3,597.4 87.7,596.6 C87.1,595.8 87.1,594.6 87.1,593.5 C87.0,592.4 86.7,590.7 87.3,590.2 C87.9,589.7 89.4,590.3 90.5,590.6 C91.6,591.0 93.1,591.3 93.6,592.1 C94.2,593.0 94.0,594.5 94.0,595.5 C93.9,596.5 94.0,597.9 93.4,598.3Z" fill="#b3c4d0" fill-opacity="0.54" stroke="#9bb0c0" stroke-width="1.6" stroke-opacity="0.6"/>
<path d="M156.2,601.1 C155.9,602.2 155.9,603.8 154.7,604.3 C153.6,604.7 151.0,604.5 149.4,604.0 C147.9,603.4 145.9,601.9 145.2,600.7 C144.5,599.6 144.8,597.9 145.3,597.0 C145.9,596.1 147.2,595.4 148.4,595.2 C149.6,594.9 151.2,595.0 152.6,595.4 C154.0,595.9 156.3,596.9 156.9,597.8 C157.5,598.8 156.6,600.0 156.2,601.1Z" fill="#b3c4d0" fill-opacity="0.78" stroke="#9bb0c0" stroke-width="1.6" stroke-opacity="0.6"/>
<ellipse cx="152.8" cy="598.2" rx="1.9" ry="1.3" fill="#e2e6e8" fill-opacity="0.45"/>
<path d="M168.6,638.9 C167.7,638.5 166.6,637.3 166.5,636.1 C166.3,635.0 166.9,633.4 167.5,632.1 C168.2,630.8 169.2,628.8 170.2,628.4 C171.2,628.0 172.6,628.9 173.7,629.5 C174.7,630.0 176.3,630.6 176.5,631.7 C176.7,632.8 175.7,634.9 175.0,636.1 C174.2,637.2 173.0,638.0 172.0,638.4 C170.9,638.9 169.5,639.3 168.6,638.9Z" fill="#b3c4d0" fill-opacity="0.47" stroke="#9bb0c0" stroke-width="1.6" stroke-opacity="0.6"/>
<path d="M158.2,516.7 C157.9,517.4 156.5,517.8 155.5,518.1 C154.5,518.3 153.2,518.7 152.2,518.3 C151.3,518.0 150.5,516.8 149.9,516.0 C149.4,515.1 148.7,513.9 149.0,513.1 C149.2,512.3 150.3,511.5 151.3,511.2 C152.3,511.0 153.8,511.2 154.8,511.6 C155.8,512.1 156.7,513.0 157.3,513.8 C157.8,514.7 158.5,516.0 158.2,516.7Z" fill="#b3c4d0" fill-opacity="0.65" stroke="#9bb0c0" stroke-width="1.6" stroke-opacity="0.6"/>
<ellipse cx="152.7" cy="514.1" rx="1.5" ry="1.1" fill="#e2e6e8" fill-opacity="0.45"/>
<path d="M182.2,502.6 C182.0,501.8 182.7,500.5 183.6,499.7 C184.5,499.0 186.3,498.2 187.6,498.2 C189.0,498.2 190.3,499.0 191.4,499.6 C192.4,500.3 193.9,501.1 194.0,501.9 C194.0,502.7 192.8,503.8 191.8,504.6 C190.8,505.3 189.3,506.4 188.1,506.4 C186.9,506.4 185.8,505.2 184.8,504.5 C183.8,503.9 182.4,503.4 182.2,502.6Z" fill="#b3c4d0" fill-opacity="0.47" stroke="#9bb0c0" stroke-width="1.6" stroke-opacity="0.6"/>
<path d="M195.4,594.0 C195.0,594.6 194.5,595.0 193.5,595.2 C192.6,595.4 191.0,595.6 189.8,595.1 C188.6,594.6 187.0,593.3 186.4,592.4 C185.8,591.5 185.8,590.3 186.2,589.6 C186.6,589.0 187.9,588.7 188.9,588.7 C190.0,588.6 191.4,588.9 192.5,589.4 C193.7,589.9 195.4,590.9 195.8,591.7 C196.3,592.4 195.8,593.4 195.4,594.0Z" fill="#b3c4d0" fill-opacity="0.53" stroke="#9bb0c0" stroke-width="1.6" stroke-opacity="0.6"/>
<path d="M202.1,538.4 C201.7,537.2 203.1,534.8 204.6,533.7 C206.0,532.7 208.7,532.3 210.9,532.0 C213.0,531.6 216.1,530.9 217.5,531.5 C218.9,532.0 219.1,534.2 219.1,535.5 C219.1,536.7 218.5,538.1 217.4,539.1 C216.3,540.2 214.3,541.6 212.6,541.9 C210.8,542.2 208.7,541.6 207.0,541.0 C205.2,540.4 202.5,539.6 202.1,538.4Z" fill="#b3c4d0" fill-opacity="0.50" stroke="#9bb0c0" stroke-width="1.6" stroke-opacity="0.6"/>
<ellipse cx="213.7" cy="537.3" rx="2.5" ry="1.6" fill="#e2e6e8" fill-opacity="0.45"/>
<path d="M116.3,614.1 C116.2,615.0 114.9,615.8 113.9,616.4 C112.9,617.0 111.4,617.8 110.3,617.8 C109.1,617.7 107.8,616.8 107.0,616.2 C106.2,615.6 105.4,614.8 105.4,614.1 C105.4,613.5 106.4,612.7 107.2,612.2 C108.0,611.6 109.1,610.9 110.3,610.8 C111.5,610.7 113.4,611.0 114.4,611.5 C115.4,612.1 116.4,613.3 116.3,614.1Z" fill="#b3c4d0" fill-opacity="0.52" stroke="#9bb0c0" stroke-width="1.6" stroke-opacity="0.6"/>
<path d="M96.2,590.0 C95.0,590.4 93.4,589.9 92.2,589.3 C90.9,588.7 89.6,587.5 88.9,586.1 C88.2,584.8 87.8,582.8 88.0,581.3 C88.3,579.9 89.3,578.0 90.4,577.5 C91.5,577.1 93.5,577.8 94.7,578.6 C95.9,579.3 96.9,580.7 97.6,582.1 C98.4,583.5 99.5,585.7 99.3,587.1 C99.0,588.4 97.3,589.6 96.2,590.0Z" fill="#b3c4d0" fill-opacity="0.71" stroke="#9bb0c0" stroke-width="1.6" stroke-opacity="0.6"/>
<ellipse cx="94.7" cy="584.6" rx="1.9" ry="1.5" fill="#e2e6e8" fill-opacity="0.45"/>
<path d="M109.8,583.9 C108.7,584.7 106.4,585.4 105.0,584.6 C103.7,583.8 102.7,581.1 101.8,579.2 C100.8,577.4 99.3,575.0 99.6,573.6 C99.8,572.2 101.7,571.3 103.0,570.8 C104.3,570.3 105.9,570.0 107.1,570.7 C108.4,571.3 109.6,573.2 110.4,574.7 C111.2,576.3 112.0,578.2 111.9,579.8 C111.8,581.3 110.9,583.1 109.8,583.9Z" fill="#b3c4d0" fill-opacity="0.51" stroke="#9bb0c0" stroke-width="1.6" stroke-opacity="0.6"/>
<ellipse cx="108.4" cy="578.5" rx="2.3" ry="1.7" fill="#e2e6e8" fill-opacity="0.45"/>
<path d="M193.5,539.5 C192.4,539.2 191.5,538.0 190.8,536.9 C190.0,535.7 188.9,534.1 189.1,532.8 C189.2,531.6 190.8,530.6 191.7,529.5 C192.7,528.5 193.7,526.7 194.7,526.7 C195.7,526.6 197.2,528.1 197.8,529.3 C198.4,530.5 198.5,532.2 198.4,533.7 C198.4,535.2 198.2,537.5 197.4,538.5 C196.6,539.5 194.6,539.8 193.5,539.5Z" fill="#b3c4d0" fill-opacity="0.57" stroke="#9bb0c0" stroke-width="1.6" stroke-opacity="0.6"/>
<ellipse cx="193.2" cy="532.1" rx="1.8" ry="1.4" fill="#e2e6e8" fill-opacity="0.45"/>
<path d="M158.2,606.8 C157.6,605.8 157.0,604.7 157.5,603.4 C157.9,602.0 159.4,599.8 160.9,598.8 C162.3,597.8 164.8,597.3 166.3,597.3 C167.9,597.2 169.4,597.7 170.1,598.6 C170.7,599.4 170.9,601.2 170.2,602.5 C169.6,603.8 167.6,605.2 166.1,606.3 C164.5,607.5 162.2,609.1 160.9,609.2 C159.5,609.3 158.8,607.7 158.2,606.8Z" fill="#b3c4d0" fill-opacity="0.49" stroke="#9bb0c0" stroke-width="1.6" stroke-opacity="0.6"/>
<path d="M212.9,629.9 C211.6,629.2 209.9,628.7 209.5,627.2 C209.1,625.8 209.6,623.1 210.5,621.4 C211.4,619.7 213.2,617.9 214.6,617.3 C216.0,616.8 217.9,617.2 218.9,617.9 C219.9,618.6 220.4,620.1 220.7,621.6 C221.1,623.0 221.5,625.0 220.9,626.6 C220.3,628.3 218.3,630.8 217.0,631.3 C215.7,631.8 214.1,630.5 212.9,629.9Z" fill="#b3c4d0" fill-opacity="0.80" stroke="#9bb0c0" stroke-width="1.6" stroke-opacity="0.6"/>
<ellipse cx="214.5" cy="623.2" rx="2.2" ry="1.7" fill="#e2e6e8" fill-opacity="0.45"/>
<path d="M138.2,599.3 C137.6,599.7 136.2,599.1 135.3,598.7 C134.4,598.3 133.3,597.6 132.8,596.7 C132.3,595.9 132.3,594.7 132.3,593.7 C132.4,592.8 132.6,591.5 133.2,591.0 C133.8,590.5 135.0,590.4 136.0,590.8 C137.0,591.1 138.5,592.0 139.0,593.0 C139.5,593.9 139.0,595.3 138.9,596.4 C138.8,597.4 138.8,598.9 138.2,599.3Z" fill="#b3c4d0" fill-opacity="0.45" stroke="#9bb0c0" stroke-width="1.6" stroke-opacity="0.6"/>
<path d="M231.9,542.4 C231.3,542.6 230.3,542.0 229.6,541.4 C228.9,540.7 228.2,539.5 227.8,538.6 C227.4,537.7 227.1,536.6 227.1,535.8 C227.1,535.0 227.4,534.4 227.8,534.0 C228.3,533.7 229.0,533.2 229.7,533.6 C230.4,534.1 231.2,535.6 231.8,536.7 C232.3,537.8 233.1,539.4 233.1,540.3 C233.2,541.3 232.5,542.2 231.9,542.4Z" fill="#b3c4d0" fill-opacity="0.81" stroke="#9bb0c0" stroke-width="1.6" stroke-opacity="0.6"/>
<path d="M225.3,642.5 C224.2,642.7 222.6,641.4 221.6,640.5 C220.6,639.6 219.8,638.5 219.4,637.3 C218.9,636.1 218.6,634.5 218.7,633.3 C218.9,632.0 219.6,630.3 220.5,630.0 C221.4,629.6 223.1,630.2 224.0,631.0 C225.0,631.7 225.5,633.3 226.2,634.7 C226.8,636.1 227.9,638.0 227.8,639.3 C227.6,640.7 226.3,642.3 225.3,642.5Z" fill="#b3c4d0" fill-opacity="0.77" stroke="#9bb0c0" stroke-width="1.6" stroke-opacity="0.6"/>
<path d="M149.8,587.6 C149.7,587.0 149.3,586.1 149.9,585.5 C150.5,584.8 152.3,584.3 153.5,583.9 C154.6,583.6 155.9,583.5 156.9,583.6 C157.8,583.7 158.9,584.2 159.2,584.8 C159.5,585.4 159.2,586.4 158.5,587.2 C157.8,587.9 156.3,588.8 155.1,589.2 C153.8,589.6 151.8,589.8 151.0,589.6 C150.1,589.3 150.0,588.3 149.8,587.6Z" fill="#b3c4d0" fill-opacity="0.60" stroke="#9bb0c0" stroke-width="1.6" stroke-opacity="0.6"/>
<ellipse cx="152.8" cy="586.7" rx="1.6" ry="0.9" fill="#e2e6e8" fill-opacity="0.45"/>
<path d="M86.1,566.8 C85.3,566.2 84.6,564.6 84.8,563.4 C84.9,562.1 85.9,560.2 86.9,559.2 C87.8,558.1 89.2,557.7 90.4,557.2 C91.7,556.7 93.6,555.8 94.5,556.2 C95.3,556.7 95.5,558.9 95.3,560.1 C95.0,561.4 93.8,562.9 92.9,563.9 C91.9,565.0 90.9,566.0 89.8,566.5 C88.6,566.9 86.9,567.3 86.1,566.8Z" fill="#b3c4d0" fill-opacity="0.55" stroke="#9bb0c0" stroke-width="1.6" stroke-opacity="0.6"/>
<path d="M230.4,612.9 C230.2,613.4 229.6,613.8 228.8,613.7 C228.0,613.5 226.5,612.7 225.6,611.9 C224.8,611.1 224.1,609.8 223.7,608.9 C223.4,608.0 223.1,606.7 223.5,606.4 C223.9,606.1 225.3,606.6 226.1,607.0 C227.0,607.4 228.0,608.0 228.7,608.7 C229.3,609.4 229.9,610.3 230.2,611.0 C230.5,611.7 230.6,612.5 230.4,612.9Z" fill="#b3c4d0" fill-opacity="0.82" stroke="#9bb0c0" stroke-width="1.6" stroke-opacity="0.6"/>
<path d="M211.0,620.2 C210.4,620.6 209.8,621.1 208.9,620.9 C208.1,620.6 206.6,619.6 205.8,618.6 C205.1,617.7 204.5,615.8 204.5,614.9 C204.6,614.0 205.6,613.7 206.2,613.4 C206.8,613.2 207.5,613.0 208.2,613.3 C208.9,613.6 209.8,614.4 210.5,615.3 C211.2,616.2 212.4,617.7 212.4,618.5 C212.5,619.3 211.6,619.8 211.0,620.2Z" fill="#b3c4d0" fill-opacity="0.75" stroke="#9bb0c0" stroke-width="1.6" stroke-opacity="0.6"/>
<path d="M202.9,574.6 C202.1,575.0 201.1,575.3 200.1,575.0 C199.1,574.8 197.4,574.0 196.8,573.0 C196.2,572.1 196.6,570.4 196.8,569.4 C196.9,568.3 197.0,567.1 197.6,566.5 C198.2,566.0 199.6,565.8 200.6,566.1 C201.5,566.5 202.7,567.6 203.4,568.6 C204.2,569.7 205.1,571.4 205.0,572.4 C205.0,573.4 203.7,574.1 202.9,574.6Z" fill="#b3c4d0" fill-opacity="0.70" stroke="#9bb0c0" stroke-width="1.6" stroke-opacity="0.6"/>
<ellipse cx="201.6" cy="571.1" rx="1.5" ry="1.1" fill="#e2e6e8" fill-opacity="0.45"/>
<path d="M211.6,495.4 C211.4,494.5 211.8,493.1 212.7,492.4 C213.6,491.7 215.5,491.1 216.9,491.0 C218.3,491.0 220.1,491.4 221.2,492.1 C222.2,492.7 223.1,494.1 223.0,495.0 C222.9,495.9 221.6,496.9 220.6,497.6 C219.6,498.2 218.2,498.7 217.1,498.7 C216.0,498.7 214.7,498.1 213.8,497.6 C212.9,497.0 211.8,496.2 211.6,495.4Z" fill="#b3c4d0" fill-opacity="0.52" stroke="#9bb0c0" stroke-width="1.6" stroke-opacity="0.6"/>
<path d="M163.7,514.1 C163.0,514.6 161.2,514.2 160.1,513.8 C159.0,513.3 157.9,512.6 157.1,511.7 C156.4,510.7 155.8,509.3 155.8,508.3 C155.7,507.2 156.0,505.9 156.6,505.3 C157.3,504.7 158.6,504.6 159.7,504.9 C160.8,505.1 162.4,505.8 163.2,506.8 C164.0,507.8 164.4,509.5 164.5,510.7 C164.6,511.9 164.4,513.6 163.7,514.1Z" fill="#b3c4d0" fill-opacity="0.60" stroke="#9bb0c0" stroke-width="1.6" stroke-opacity="0.6"/>
<path d="M98.9,527.0 C98.7,527.6 97.5,528.0 96.5,528.1 C95.5,528.2 93.9,528.2 92.9,527.7 C91.9,527.2 91.1,526.0 90.6,525.2 C90.1,524.3 89.5,523.2 89.8,522.7 C90.1,522.2 91.6,522.3 92.5,522.2 C93.5,522.0 94.8,521.5 95.7,521.8 C96.6,522.2 97.2,523.6 97.7,524.4 C98.3,525.3 99.1,526.3 98.9,527.0Z" fill="#b3c4d0" fill-opacity="0.53" stroke="#9bb0c0" stroke-width="1.6" stroke-opacity="0.6"/>
<ellipse cx="94.3" cy="525.5" rx="1.4" ry="0.8" fill="#e2e6e8" fill-opacity="0.45"/>
<path d="M226.4,554.0 C226.0,554.8 225.3,555.4 224.4,555.8 C223.5,556.2 222.0,556.9 220.9,556.6 C219.8,556.3 218.3,555.0 217.8,554.1 C217.3,553.2 217.6,551.9 217.9,551.1 C218.3,550.3 219.0,549.4 219.9,549.0 C220.9,548.6 222.5,548.4 223.6,548.7 C224.7,549.0 226.2,550.2 226.7,551.1 C227.2,551.9 226.8,553.2 226.4,554.0Z" fill="#b3c4d0" fill-opacity="0.46" stroke="#9bb0c0" stroke-width="1.6" stroke-opacity="0.6"/>
<path d="M92.4,513.6 C91.8,514.8 89.6,515.8 87.9,516.1 C86.2,516.4 83.8,516.3 82.1,515.5 C80.4,514.7 78.4,512.8 77.8,511.3 C77.1,509.8 77.5,507.6 78.3,506.4 C79.0,505.3 80.8,504.4 82.3,504.2 C83.9,503.9 86.0,504.2 87.5,504.9 C89.0,505.6 90.5,507.1 91.4,508.5 C92.2,510.0 93.0,512.3 92.4,513.6Z" fill="#b3c4d0" fill-opacity="0.58" stroke="#9bb0c0" stroke-width="1.6" stroke-opacity="0.6"/>
<ellipse cx="85.6" cy="510.6" rx="2.5" ry="2.0" fill="#e2e6e8" fill-opacity="0.45"/>
<path d="M133.6,599.5 C133.3,600.2 132.2,600.5 131.3,600.9 C130.4,601.2 129.1,601.9 128.0,601.7 C126.9,601.5 125.3,600.4 124.7,599.6 C124.1,598.8 124.2,597.6 124.6,596.9 C124.9,596.2 125.9,595.7 126.7,595.5 C127.6,595.3 128.8,595.4 129.8,595.6 C130.8,595.9 132.2,596.3 132.9,597.0 C133.5,597.6 133.9,598.9 133.6,599.5Z" fill="#b3c4d0" fill-opacity="0.47" stroke="#9bb0c0" stroke-width="1.6" stroke-opacity="0.6"/>
<path d="M215.5,595.3 C214.9,595.5 213.7,594.5 212.8,593.9 C211.8,593.2 210.3,592.5 209.9,591.6 C209.5,590.6 210.0,589.1 210.2,588.0 C210.3,586.9 210.3,585.5 210.8,585.1 C211.4,584.7 212.6,585.3 213.5,585.9 C214.4,586.5 215.6,587.6 216.1,588.7 C216.6,589.8 216.7,591.5 216.6,592.6 C216.5,593.7 216.1,595.1 215.5,595.3Z" fill="#b3c4d0" fill-opacity="0.83" stroke="#9bb0c0" stroke-width="1.6" stroke-opacity="0.6"/>
<ellipse cx="213.2" cy="590.7" rx="1.6" ry="0.9" fill="#e2e6e8" fill-opacity="0.45"/>
<path d="M88.4,547.8 C87.4,548.5 85.6,548.4 84.1,548.3 C82.6,548.1 80.7,547.8 79.3,546.7 C77.9,545.7 75.9,543.2 75.7,541.8 C75.5,540.4 77.1,539.2 78.1,538.3 C79.1,537.4 80.1,536.2 81.6,536.3 C83.0,536.3 85.4,537.3 86.8,538.6 C88.2,539.8 89.6,542.1 89.9,543.6 C90.1,545.1 89.4,547.0 88.4,547.8Z" fill="#b3c4d0" fill-opacity="0.55" stroke="#9bb0c0" stroke-width="1.6" stroke-opacity="0.6"/>
<path d="M96.4,632.1 C96.3,632.7 94.5,633.1 93.3,633.3 C92.1,633.6 90.7,633.8 89.3,633.6 C87.9,633.3 86.0,632.6 84.9,631.8 C83.8,631.1 82.5,629.7 82.7,629.1 C82.9,628.4 85.0,628.1 86.3,627.8 C87.6,627.5 89.3,627.1 90.6,627.4 C92.0,627.8 93.3,628.9 94.3,629.7 C95.2,630.4 96.6,631.5 96.4,632.1Z" fill="#b3c4d0" fill-opacity="0.77" stroke="#9bb0c0" stroke-width="1.6" stroke-opacity="0.6"/>
<ellipse cx="88.6" cy="630.5" rx="1.9" ry="0.9" fill="#e2e6e8" fill-opacity="0.45"/>
</g>
<g filter="url(#soft)">
<path d="M140.0,602.9 C138.7,604.8 134.8,606.1 132.6,606.2 C130.5,606.3 128.5,605.0 127.4,603.6 C126.3,602.1 125.5,599.4 126.0,597.5 C126.5,595.6 128.7,593.4 130.4,592.2 C132.2,591.1 134.7,590.2 136.4,590.7 C138.1,591.1 140.0,592.8 140.6,594.8 C141.2,596.9 141.3,601.0 140.0,602.9Z" fill="#a07260" fill-opacity="0.9"/>
<path d="M123.9,612.1 C122.4,612.0 120.2,611.9 119.3,611.0 C118.4,610.1 118.1,608.3 118.4,606.8 C118.6,605.4 119.4,602.7 120.7,602.2 C122.1,601.6 124.9,602.8 126.6,603.6 C128.4,604.3 131.1,605.4 131.4,606.7 C131.8,608.0 129.8,610.2 128.6,611.1 C127.3,612.0 125.5,612.1 123.9,612.1Z" fill="#a07260" fill-opacity="0.85"/>
<path d="M143.3,593.1 C142.7,593.8 140.7,593.6 139.6,593.4 C138.4,593.3 137.1,592.7 136.5,592.0 C135.8,591.3 135.6,590.2 135.5,589.1 C135.5,588.0 135.2,586.1 136.0,585.5 C136.9,584.8 139.6,584.5 140.8,585.1 C141.9,585.8 142.7,588.0 143.1,589.3 C143.5,590.6 143.9,592.4 143.3,593.1Z" fill="#8c5f4c" fill-opacity="0.8"/>
<path d="M130.5,610.0 C129.9,610.3 129.1,610.2 128.4,610.0 C127.8,609.7 126.8,609.1 126.7,608.5 C126.5,608.0 127.1,606.9 127.6,606.5 C128.0,606.0 128.7,606.0 129.4,605.9 C130.1,605.8 131.3,605.6 131.8,606.0 C132.2,606.4 132.2,607.8 131.9,608.5 C131.7,609.1 131.0,609.8 130.5,610.0Z" fill="#dfe3e6" fill-opacity="0.9"/>
<path d="M110.0,618.8 C110.9,620.6 113.5,623.2 112.6,624.9 C111.7,626.6 107.0,628.9 104.5,629.1 C102.1,629.3 99.6,627.5 98.0,626.1 C96.4,624.8 94.5,623.0 94.7,620.9 C94.8,618.9 96.6,614.9 98.7,613.8 C100.8,612.7 105.3,613.5 107.2,614.4 C109.1,615.2 109.0,617.1 110.0,618.8Z" fill="#a07260" fill-opacity="0.85"/>
<path d="M112.9,632.3 C111.4,632.7 109.2,632.9 107.9,632.2 C106.7,631.5 105.5,629.6 105.5,628.2 C105.5,626.7 106.6,624.7 108.0,623.6 C109.4,622.5 112.6,621.3 114.0,621.7 C115.4,622.1 115.9,624.8 116.3,626.2 C116.8,627.5 117.4,628.9 116.8,629.9 C116.3,630.9 114.4,631.9 112.9,632.3Z" fill="#8c5f4c" fill-opacity="0.9"/>
<path d="M93.8,618.1 C93.4,617.4 93.9,615.9 94.5,615.0 C95.1,614.1 96.5,612.9 97.4,612.7 C98.4,612.4 99.5,613.0 100.4,613.5 C101.3,613.9 102.9,614.6 102.8,615.4 C102.8,616.2 101.2,617.7 100.2,618.3 C99.2,618.9 98.0,619.1 96.9,619.0 C95.8,619.0 94.2,618.8 93.8,618.1Z" fill="#c85a98" fill-opacity="0.6"/>
<path d="M110.4,614.3 C110.0,615.0 109.6,616.5 108.9,616.7 C108.1,616.9 106.4,616.1 106.0,615.5 C105.5,614.8 106.2,613.5 106.4,612.7 C106.6,611.9 106.6,611.1 107.1,610.7 C107.6,610.3 108.8,610.0 109.5,610.2 C110.2,610.4 111.2,611.4 111.3,612.0 C111.5,612.7 110.8,613.5 110.4,614.3Z" fill="#c85a98" fill-opacity="0.7"/>
<path d="M89.5,622.4 C88.9,622.7 87.5,621.9 86.8,621.4 C86.0,621.0 85.3,620.4 85.0,619.6 C84.7,618.8 84.6,617.2 85.1,616.6 C85.6,615.9 87.2,615.6 88.1,615.8 C88.9,615.9 89.9,616.6 90.3,617.2 C90.8,617.9 90.8,618.8 90.6,619.7 C90.5,620.5 90.2,622.1 89.5,622.4Z" fill="#c2367f" fill-opacity="0.8"/>
<path d="M150.9,603.7 C149.7,604.1 147.8,604.3 147.0,603.7 C146.2,603.1 146.0,601.2 146.0,600.1 C146.0,599.0 146.1,597.8 146.7,597.1 C147.4,596.4 148.8,595.9 149.8,596.0 C150.7,596.1 151.7,596.8 152.5,597.7 C153.2,598.6 154.4,600.3 154.1,601.3 C153.9,602.3 152.1,603.3 150.9,603.7Z" fill="#c85a98" fill-opacity="0.75"/>
<path d="M150.8,598.7 C150.3,598.7 149.8,598.4 149.5,597.9 C149.1,597.5 148.6,596.6 148.8,596.2 C148.9,595.8 149.9,595.7 150.5,595.5 C151.1,595.3 151.9,594.9 152.2,595.1 C152.5,595.4 152.4,596.3 152.4,596.9 C152.4,597.4 152.4,597.9 152.1,598.2 C151.9,598.5 151.2,598.8 150.8,598.7Z" fill="#c2367f" fill-opacity="0.7"/>
<path d="M178.5,622.0 C177.9,623.4 173.8,624.0 171.7,624.5 C169.5,624.9 167.1,625.1 165.4,624.5 C163.8,623.9 162.4,622.1 161.8,620.8 C161.1,619.4 160.7,617.8 161.6,616.5 C162.4,615.2 164.7,613.1 167.0,613.0 C169.3,612.9 173.3,614.5 175.2,616.0 C177.1,617.5 179.1,620.6 178.5,622.0Z" fill="#a07260" fill-opacity="0.75"/>
<path d="M164.3,621.1 C164.1,620.4 164.9,619.0 165.5,618.2 C166.0,617.4 167.1,616.2 167.8,616.2 C168.5,616.3 169.0,617.8 169.7,618.5 C170.3,619.2 171.8,620.0 171.7,620.6 C171.7,621.3 170.2,622.2 169.4,622.5 C168.6,622.8 167.9,622.5 167.1,622.3 C166.2,622.0 164.6,621.7 164.3,621.1Z" fill="#dfe3e6" fill-opacity="0.9"/>
<path d="M216.3,626.3 C215.0,624.8 214.7,621.9 214.9,620.5 C215.1,619.1 216.4,618.6 217.5,617.8 C218.7,616.9 220.3,615.0 221.8,615.5 C223.4,616.0 225.9,619.0 226.7,620.8 C227.5,622.6 227.2,624.7 226.6,626.2 C225.9,627.7 224.5,629.8 222.8,629.8 C221.1,629.8 217.6,627.9 216.3,626.3Z" fill="#a07260" fill-opacity="0.8"/>
<path d="M156.9,557.4 C156.8,558.0 156.3,558.8 155.7,559.0 C155.1,559.3 154.1,559.2 153.1,559.0 C152.1,558.8 150.3,558.6 149.8,558.0 C149.3,557.3 149.7,555.7 150.3,555.1 C150.9,554.6 152.6,554.7 153.6,554.7 C154.6,554.7 155.6,554.9 156.2,555.4 C156.8,555.8 157.0,556.7 156.9,557.4Z" fill="#a07260" fill-opacity="0.6"/>
<path d="M107.6,546.3 C107.2,547.0 106.0,547.6 104.9,547.7 C103.8,547.7 101.7,547.3 101.0,546.5 C100.3,545.8 100.6,544.3 100.6,543.2 C100.6,542.2 100.3,540.4 101.0,540.1 C101.7,539.7 103.8,540.6 104.8,541.2 C105.8,541.7 106.7,542.6 107.1,543.4 C107.6,544.3 108.0,545.6 107.6,546.3Z" fill="#a07260" fill-opacity="0.35"/>
<path d="M192.8,499.8 C192.3,500.5 191.4,501.8 190.5,501.8 C189.7,501.9 188.1,500.9 187.7,500.0 C187.2,499.2 187.4,497.6 187.8,496.9 C188.3,496.1 189.5,495.9 190.2,495.7 C191.0,495.6 191.8,495.6 192.3,496.0 C192.8,496.3 193.3,497.1 193.4,497.8 C193.4,498.4 193.2,499.1 192.8,499.8Z" fill="#a07260" fill-opacity="0.7"/>
<path d="M125.5,556.1 C124.7,556.3 123.7,555.5 122.8,555.1 C122.0,554.8 120.9,554.6 120.6,554.0 C120.3,553.3 120.6,551.6 121.1,551.1 C121.7,550.6 123.2,550.8 124.1,550.8 C125.0,550.7 126.0,550.5 126.6,550.9 C127.3,551.4 128.0,552.7 127.9,553.5 C127.7,554.4 126.4,555.8 125.5,556.1Z" fill="#c2367f" fill-opacity="0.9"/>
<path d="M186.3,536.8 C185.5,536.6 184.4,536.4 184.1,535.7 C183.8,535.0 184.2,533.4 184.7,532.7 C185.1,532.0 186.0,531.6 186.6,531.4 C187.3,531.2 188.0,531.4 188.6,531.8 C189.2,532.2 190.2,533.1 190.2,533.9 C190.2,534.7 189.4,536.3 188.8,536.8 C188.1,537.3 187.1,537.0 186.3,536.8Z" fill="#c2367f" fill-opacity="0.85"/>
<path d="M190.5,537.7 C190.5,537.2 191.1,536.5 191.5,536.1 C191.9,535.8 192.5,535.4 193.0,535.4 C193.6,535.3 194.4,535.4 194.8,535.7 C195.3,536.0 195.9,536.8 195.7,537.3 C195.5,537.7 194.4,537.9 193.7,538.2 C193.1,538.6 192.3,539.4 191.7,539.3 C191.2,539.2 190.5,538.2 190.5,537.7Z" fill="#c2367f" fill-opacity="0.85"/>
<path d="M196.9,545.3 C196.5,544.6 196.8,544.0 196.8,543.3 C196.8,542.5 196.4,541.2 196.8,541.0 C197.1,540.8 198.4,541.5 199.1,542.0 C199.8,542.5 200.7,543.2 200.9,543.9 C201.2,544.6 201.1,545.6 200.8,546.1 C200.4,546.6 199.7,547.1 199.1,547.0 C198.4,546.8 197.3,545.9 196.9,545.3Z" fill="#c2367f" fill-opacity="0.7"/>
<path d="M158.4,599.1 C157.8,599.4 156.3,599.1 155.7,598.6 C155.0,598.1 154.4,597.0 154.4,596.2 C154.4,595.4 155.1,594.4 155.7,594.0 C156.3,593.6 157.2,593.7 157.9,593.8 C158.5,593.9 159.2,594.4 159.5,594.9 C159.8,595.4 159.7,596.1 159.5,596.8 C159.3,597.5 159.0,598.8 158.4,599.1Z" fill="#c2367f" fill-opacity="0.9"/>
<path d="M176.6,591.0 C176.4,590.5 176.8,589.5 177.4,588.9 C177.9,588.3 179.1,587.7 180.1,587.5 C181.0,587.4 182.5,587.5 183.0,587.9 C183.5,588.3 183.5,589.4 183.2,590.0 C182.8,590.6 181.9,591.1 181.1,591.5 C180.3,591.9 179.2,592.4 178.5,592.4 C177.7,592.3 176.8,591.6 176.6,591.0Z" fill="#a07260" fill-opacity="0.35"/>
<path d="M211.4,571.6 C211.2,571.8 210.4,571.6 209.8,571.6 C209.2,571.5 208.2,571.6 207.9,571.2 C207.6,570.8 207.9,569.7 208.2,569.3 C208.4,568.8 208.9,568.6 209.5,568.3 C210.0,568.1 211.1,567.7 211.4,567.9 C211.7,568.2 211.5,569.3 211.5,569.9 C211.5,570.5 211.7,571.3 211.4,571.6Z" fill="#a07260" fill-opacity="0.35"/>
</g></g>
<clipPath id="hc11"><rect x="228.5" y="497.2" width="142.5" height="137.6"/></clipPath>
<g clip-path="url(#hc11)">
<rect x="228.5" y="497.2" width="142.5" height="137.6" fill="#e4e5e2" stroke="none" stroke-width="0" />
<g filter="url(#soft)">
<path d="M293.0,574.2 Q281.0,577.6 268.9,579.5" stroke="#c9c9c9" stroke-width="1.0" fill="none" stroke-opacity="0.7"/>
<path d="M254.8,567.6 Q254.1,556.7 260.0,549.0" stroke="#c9c9c9" stroke-width="1.0" fill="none" stroke-opacity="0.7"/>
<path d="M241.4,608.6 Q255.2,615.0 261.2,613.9" stroke="#c9c9c9" stroke-width="1.0" fill="none" stroke-opacity="0.7"/>
<path d="M321.7,581.9 Q327.3,578.9 332.5,582.9" stroke="#c9c9c9" stroke-width="1.0" fill="none" stroke-opacity="0.7"/>
<path d="M255.6,530.5 Q251.0,534.2 247.3,532.4" stroke="#c9c9c9" stroke-width="1.0" fill="none" stroke-opacity="0.7"/>
<path d="M302.5,585.3 Q297.7,576.3 293.6,570.8" stroke="#c9c9c9" stroke-width="1.0" fill="none" stroke-opacity="0.7"/>
<path d="M370.7,634.2 Q366.2,620.9 364.6,611.9" stroke="#c9c9c9" stroke-width="1.0" fill="none" stroke-opacity="0.7"/>
<path d="M269.7,506.9 Q263.6,512.3 252.0,519.6" stroke="#c9c9c9" stroke-width="1.0" fill="none" stroke-opacity="0.7"/>
<path d="M365.0,613.8 Q369.3,617.4 367.0,621.5" stroke="#c9c9c9" stroke-width="1.0" fill="none" stroke-opacity="0.7"/>
<path d="M368.2,551.9 Q367.2,546.7 361.8,545.1" stroke="#c9c9c9" stroke-width="1.0" fill="none" stroke-opacity="0.7"/>
<path d="M240.9,543.0 Q238.5,528.3 242.2,517.6" stroke="#c9c9c9" stroke-width="1.0" fill="none" stroke-opacity="0.7"/>
<path d="M242.9,505.4 Q248.3,515.1 252.7,525.5" stroke="#c9c9c9" stroke-width="1.0" fill="none" stroke-opacity="0.7"/>
<path d="M255.7,597.9 Q249.4,593.2 249.3,589.8" stroke="#c9c9c9" stroke-width="1.0" fill="none" stroke-opacity="0.7"/>
<path d="M258.8,534.3 Q261.5,525.4 267.2,510.3" stroke="#c9c9c9" stroke-width="1.0" fill="none" stroke-opacity="0.7"/>
<path d="M258.5,551.5 Q248.0,546.3 243.8,533.3" stroke="#c9c9c9" stroke-width="1.0" fill="none" stroke-opacity="0.7"/>
<path d="M258.9,532.7 Q252.0,539.0 248.5,552.0" stroke="#c9c9c9" stroke-width="1.0" fill="none" stroke-opacity="0.7"/>
<path d="M241.3,577.4 Q235.3,573.3 231.4,570.0" stroke="#c9c9c9" stroke-width="1.0" fill="none" stroke-opacity="0.7"/>
<path d="M365.2,563.8 Q368.8,554.2 377.4,550.1" stroke="#c9c9c9" stroke-width="1.0" fill="none" stroke-opacity="0.7"/>
<path d="M358.0,609.7 Q362.2,619.1 362.6,621.3" stroke="#c9c9c9" stroke-width="1.0" fill="none" stroke-opacity="0.7"/>
<path d="M256.5,627.9 Q246.4,617.5 237.5,613.5" stroke="#c9c9c9" stroke-width="1.0" fill="none" stroke-opacity="0.7"/>
<path d="M234.9,638.2 C233.9,638.9 232.1,639.0 230.8,638.7 C229.5,638.5 228.2,637.5 227.0,636.5 C225.9,635.5 224.2,633.7 224.1,632.5 C224.0,631.3 225.6,630.2 226.6,629.4 C227.5,628.7 228.6,628.1 229.8,628.1 C231.1,628.2 233.0,628.7 234.1,629.7 C235.3,630.8 236.7,632.8 236.8,634.2 C237.0,635.7 235.9,637.4 234.9,638.2Z" fill="#a8bdcd" fill-opacity="0.78" stroke="#8fa8bd" stroke-width="1.6" stroke-opacity="0.6"/>
<path d="M270.2,630.7 C269.4,631.1 268.7,631.5 267.6,631.2 C266.6,630.9 265.2,630.0 264.2,629.0 C263.2,628.0 261.9,626.1 261.7,625.0 C261.5,624.0 262.4,623.2 263.0,622.7 C263.7,622.2 264.5,621.8 265.6,622.0 C266.7,622.3 268.6,623.0 269.7,624.1 C270.8,625.2 272.2,627.7 272.3,628.8 C272.4,629.9 271.0,630.3 270.2,630.7Z" fill="#a8bdcd" fill-opacity="0.63" stroke="#8fa8bd" stroke-width="1.6" stroke-opacity="0.6"/>
<path d="M335.0,578.7 C335.0,579.6 334.5,581.0 333.4,581.4 C332.3,581.8 329.9,581.2 328.4,581.1 C326.8,581.0 324.9,581.1 323.9,580.6 C322.9,580.0 322.5,578.8 322.5,578.0 C322.5,577.1 323.0,575.9 324.0,575.4 C325.1,575.0 327.1,575.1 328.7,575.1 C330.3,575.2 332.7,575.1 333.7,575.7 C334.8,576.3 335.1,577.7 335.0,578.7Z" fill="#a8bdcd" fill-opacity="0.81" stroke="#8fa8bd" stroke-width="1.6" stroke-opacity="0.6"/>
<ellipse cx="328.7" cy="578.8" rx="1.8" ry="1.0" fill="#e2e6e8" fill-opacity="0.45"/>
<path d="M351.4,602.9 C350.9,601.2 350.9,598.6 352.0,596.9 C353.1,595.3 355.9,593.4 357.9,593.0 C360.0,592.6 362.4,593.6 364.2,594.5 C366.1,595.3 368.2,596.5 368.8,598.1 C369.4,599.7 369.0,602.5 367.8,604.1 C366.7,605.6 363.9,606.8 361.8,607.3 C359.8,607.8 357.1,607.8 355.4,607.0 C353.7,606.3 352.0,604.5 351.4,602.9Z" fill="#a8bdcd" fill-opacity="0.59" stroke="#8fa8bd" stroke-width="1.6" stroke-opacity="0.6"/>
<ellipse cx="360.4" cy="601.0" rx="2.5" ry="2.1" fill="#e2e6e8" fill-opacity="0.45"/>
<path d="M229.8,594.0 C228.3,592.7 227.5,589.8 227.6,587.6 C227.7,585.4 229.1,582.9 230.6,581.1 C232.1,579.2 234.8,576.5 236.6,576.4 C238.5,576.3 240.3,578.8 241.9,580.2 C243.4,581.6 246.1,583.2 246.1,584.9 C246.1,586.7 243.3,589.0 241.7,590.7 C240.1,592.5 238.5,594.9 236.5,595.4 C234.5,596.0 231.3,595.3 229.8,594.0Z" fill="#a8bdcd" fill-opacity="0.61" stroke="#8fa8bd" stroke-width="1.6" stroke-opacity="0.6"/>
<ellipse cx="235.0" cy="587.3" rx="2.8" ry="2.4" fill="#e2e6e8" fill-opacity="0.45"/>
<path d="M309.1,583.0 C309.0,584.3 306.7,585.8 305.0,586.6 C303.3,587.4 301.4,587.7 299.2,587.8 C296.9,587.9 293.3,588.1 291.7,587.2 C290.1,586.2 289.4,583.8 289.6,582.3 C289.9,580.9 291.5,579.4 293.1,578.4 C294.8,577.3 297.5,575.9 299.6,576.0 C301.6,576.1 304.0,577.8 305.6,579.0 C307.1,580.2 309.2,581.8 309.1,583.0Z" fill="#a8bdcd" fill-opacity="0.57" stroke="#8fa8bd" stroke-width="1.6" stroke-opacity="0.6"/>
<path d="M246.0,559.2 C245.5,557.4 246.2,555.0 247.2,553.4 C248.2,551.8 250.1,550.6 252.0,549.8 C253.8,549.0 256.2,548.3 258.1,548.7 C260.1,549.1 262.7,550.6 263.5,552.3 C264.3,554.1 264.1,557.1 263.1,559.0 C262.0,560.9 259.6,562.6 257.4,563.5 C255.2,564.4 251.9,565.1 250.0,564.4 C248.1,563.7 246.5,561.1 246.0,559.2Z" fill="#a8bdcd" fill-opacity="0.60" stroke="#8fa8bd" stroke-width="1.6" stroke-opacity="0.6"/>
<ellipse cx="252.6" cy="555.7" rx="2.6" ry="2.3" fill="#e2e6e8" fill-opacity="0.45"/>
<path d="M266.1,532.4 C264.6,532.5 262.4,531.7 261.5,530.4 C260.5,529.1 260.3,526.2 260.5,524.5 C260.7,522.8 261.7,521.2 262.5,520.1 C263.4,519.1 264.5,518.7 265.8,518.4 C267.1,518.2 269.4,517.6 270.2,518.5 C271.0,519.5 270.5,522.4 270.5,524.3 C270.5,526.1 270.9,528.4 270.2,529.7 C269.5,531.1 267.5,532.3 266.1,532.4Z" fill="#a8bdcd" fill-opacity="0.58" stroke="#8fa8bd" stroke-width="1.6" stroke-opacity="0.6"/>
<path d="M271.9,614.6 C271.1,614.6 270.0,613.2 269.4,612.3 C268.8,611.3 268.3,610.0 268.1,608.9 C268.0,607.7 268.2,606.5 268.6,605.5 C268.9,604.4 269.5,602.9 270.2,602.7 C270.9,602.5 272.0,603.4 272.7,604.3 C273.5,605.2 274.2,606.6 274.5,608.0 C274.7,609.3 274.5,611.1 274.1,612.2 C273.6,613.3 272.7,614.6 271.9,614.6Z" fill="#a8bdcd" fill-opacity="0.46" stroke="#8fa8bd" stroke-width="1.6" stroke-opacity="0.6"/>
<path d="M374.0,596.2 C373.4,597.1 372.2,598.3 371.0,598.3 C369.7,598.3 367.8,597.1 366.6,596.2 C365.4,595.4 364.2,594.3 363.7,593.2 C363.2,592.1 363.2,590.7 363.7,589.7 C364.2,588.7 365.3,587.5 366.5,587.4 C367.8,587.3 369.8,588.2 371.2,589.0 C372.5,589.9 374.0,591.3 374.4,592.5 C374.9,593.7 374.6,595.2 374.0,596.2Z" fill="#a8bdcd" fill-opacity="0.45" stroke="#8fa8bd" stroke-width="1.6" stroke-opacity="0.6"/>
<path d="M276.0,610.2 C275.8,608.9 275.7,607.4 276.7,606.2 C277.8,605.1 280.3,603.7 282.6,603.1 C284.8,602.5 288.4,602.1 290.1,602.7 C291.7,603.3 292.1,605.3 292.2,606.7 C292.4,608.0 292.2,609.6 291.0,610.9 C289.8,612.2 287.2,613.9 285.0,614.4 C282.8,614.9 279.1,614.8 277.6,614.1 C276.1,613.4 276.1,611.5 276.0,610.2Z" fill="#a8bdcd" fill-opacity="0.74" stroke="#8fa8bd" stroke-width="1.6" stroke-opacity="0.6"/>
<path d="M338.3,589.7 C337.8,588.6 339.5,586.3 340.8,584.9 C342.1,583.5 344.0,581.7 345.9,581.1 C347.7,580.6 350.0,581.2 351.9,581.6 C353.7,582.0 356.2,582.5 356.8,583.7 C357.4,584.8 356.6,587.2 355.3,588.5 C354.0,589.8 351.1,590.9 349.2,591.3 C347.3,591.8 345.7,591.4 343.8,591.2 C342.0,590.9 338.8,590.7 338.3,589.7Z" fill="#a8bdcd" fill-opacity="0.84" stroke="#8fa8bd" stroke-width="1.6" stroke-opacity="0.6"/>
<ellipse cx="347.9" cy="587.5" rx="2.5" ry="1.6" fill="#e2e6e8" fill-opacity="0.45"/>
<path d="M291.2,502.2 C290.4,501.2 289.4,499.6 290.1,498.2 C290.7,496.8 293.6,494.9 295.3,493.8 C297.0,492.7 298.8,491.9 300.4,491.7 C302.0,491.4 304.1,491.4 305.0,492.2 C305.8,493.0 306.1,494.9 305.5,496.5 C304.9,498.1 303.0,500.6 301.2,501.9 C299.4,503.2 296.4,504.2 294.7,504.3 C293.1,504.3 292.0,503.2 291.2,502.2Z" fill="#a8bdcd" fill-opacity="0.52" stroke="#8fa8bd" stroke-width="1.6" stroke-opacity="0.6"/>
<path d="M298.1,637.7 C297.2,637.6 296.1,636.6 295.6,635.5 C295.0,634.4 294.9,632.6 294.9,631.1 C295.0,629.6 295.4,627.5 296.1,626.5 C296.8,625.6 298.3,625.2 299.1,625.4 C300.0,625.7 300.9,626.7 301.4,627.8 C301.9,628.8 302.2,630.3 302.1,631.7 C302.1,633.1 301.8,635.3 301.1,636.3 C300.5,637.3 299.0,637.8 298.1,637.7Z" fill="#a8bdcd" fill-opacity="0.57" stroke="#8fa8bd" stroke-width="1.6" stroke-opacity="0.6"/>
<path d="M253.7,626.3 C252.0,625.8 250.4,624.2 249.6,622.4 C248.8,620.6 248.3,617.4 248.9,615.5 C249.5,613.5 251.6,612.3 253.2,610.8 C254.7,609.3 256.8,606.3 258.3,606.4 C259.8,606.6 261.5,609.7 262.1,611.7 C262.8,613.7 262.7,616.3 262.3,618.6 C261.8,620.9 260.9,624.2 259.4,625.5 C258.0,626.7 255.3,626.8 253.7,626.3Z" fill="#a8bdcd" fill-opacity="0.53" stroke="#8fa8bd" stroke-width="1.6" stroke-opacity="0.6"/>
<path d="M300.2,600.2 C299.2,600.4 297.7,599.0 296.7,598.1 C295.8,597.3 294.6,596.1 294.3,594.9 C294.0,593.8 294.5,592.2 294.9,591.1 C295.4,590.0 296.0,588.8 296.9,588.4 C297.8,588.0 299.4,587.9 300.4,588.5 C301.4,589.2 302.8,591.1 303.1,592.5 C303.4,593.9 302.8,595.6 302.4,596.9 C301.9,598.2 301.1,600.0 300.2,600.2Z" fill="#a8bdcd" fill-opacity="0.83" stroke="#8fa8bd" stroke-width="1.6" stroke-opacity="0.6"/>
<ellipse cx="297.3" cy="594.1" rx="1.7" ry="1.3" fill="#e2e6e8" fill-opacity="0.45"/>
<path d="M371.3,517.3 C370.6,518.2 368.3,518.2 366.6,517.9 C364.9,517.7 362.8,516.9 361.1,515.8 C359.5,514.7 357.1,512.6 356.5,511.3 C355.9,510.0 357.0,508.8 357.7,507.8 C358.4,506.8 359.0,505.1 360.5,505.3 C361.9,505.4 364.4,507.4 366.1,508.6 C367.8,509.9 369.9,511.3 370.7,512.8 C371.6,514.2 372.0,516.5 371.3,517.3Z" fill="#a8bdcd" fill-opacity="0.54" stroke="#8fa8bd" stroke-width="1.6" stroke-opacity="0.6"/>
<ellipse cx="362.2" cy="512.1" rx="2.6" ry="1.4" fill="#e2e6e8" fill-opacity="0.45"/>
<path d="M296.8,551.5 C296.1,552.7 294.5,553.7 293.0,553.9 C291.5,554.1 289.3,553.4 287.7,552.6 C286.0,551.7 283.9,550.2 283.2,548.8 C282.6,547.5 283.0,545.6 283.7,544.3 C284.4,543.1 285.8,541.6 287.2,541.5 C288.7,541.4 290.9,542.8 292.5,543.7 C294.1,544.7 296.3,545.7 297.0,547.0 C297.7,548.3 297.5,550.4 296.8,551.5Z" fill="#a8bdcd" fill-opacity="0.53" stroke="#8fa8bd" stroke-width="1.6" stroke-opacity="0.6"/>
<path d="M366.3,544.1 C365.4,545.0 362.8,544.7 361.3,544.6 C359.7,544.5 358.3,544.2 357.0,543.3 C355.7,542.5 353.7,540.8 353.5,539.4 C353.3,538.1 354.6,536.2 355.6,535.3 C356.6,534.4 358.0,534.0 359.4,533.8 C360.9,533.6 363.4,533.2 364.5,534.1 C365.7,534.9 366.2,537.3 366.5,539.0 C366.8,540.7 367.2,543.1 366.3,544.1Z" fill="#a8bdcd" fill-opacity="0.85" stroke="#8fa8bd" stroke-width="1.6" stroke-opacity="0.6"/>
<path d="M264.1,596.1 C263.4,597.9 260.8,599.5 258.8,600.2 C256.7,601.0 253.5,601.5 251.7,600.7 C249.8,599.8 248.3,597.1 247.6,595.3 C246.9,593.5 246.9,591.4 247.5,589.8 C248.1,588.3 249.7,586.6 251.3,586.0 C252.9,585.4 255.2,585.6 257.1,586.2 C259.1,586.8 261.8,587.8 263.0,589.4 C264.1,591.1 264.8,594.3 264.1,596.1Z" fill="#a8bdcd" fill-opacity="0.65" stroke="#8fa8bd" stroke-width="1.6" stroke-opacity="0.6"/>
<path d="M303.8,518.0 C303.5,517.2 304.9,515.4 305.7,514.3 C306.5,513.2 307.3,512.5 308.5,511.7 C309.8,510.8 311.9,509.3 313.1,509.3 C314.2,509.3 315.0,510.6 315.5,511.6 C315.9,512.5 316.4,513.8 315.8,514.8 C315.2,515.9 313.2,517.0 311.8,517.7 C310.5,518.4 308.9,519.0 307.6,519.0 C306.2,519.1 304.1,518.8 303.8,518.0Z" fill="#a8bdcd" fill-opacity="0.85" stroke="#8fa8bd" stroke-width="1.6" stroke-opacity="0.6"/>
<path d="M284.4,583.3 C283.9,582.2 283.4,580.8 283.9,579.7 C284.3,578.7 286.0,577.4 287.2,576.9 C288.4,576.4 290.0,576.4 291.0,576.6 C292.1,576.8 293.0,577.6 293.5,578.4 C294.1,579.2 294.6,580.7 294.2,581.6 C293.8,582.5 292.1,583.2 290.9,583.9 C289.7,584.6 288.0,586.1 286.9,585.9 C285.9,585.8 284.9,584.3 284.4,583.3Z" fill="#a8bdcd" fill-opacity="0.52" stroke="#8fa8bd" stroke-width="1.6" stroke-opacity="0.6"/>
<path d="M327.7,627.5 C326.3,627.2 324.8,624.9 324.5,623.2 C324.2,621.4 325.1,619.0 325.7,617.0 C326.4,614.9 327.0,612.1 328.3,610.9 C329.5,609.8 331.9,609.7 333.2,610.2 C334.6,610.7 336.0,612.2 336.6,613.9 C337.1,615.6 337.1,618.6 336.4,620.4 C335.7,622.3 333.9,623.7 332.5,624.9 C331.0,626.1 329.0,627.8 327.7,627.5Z" fill="#a8bdcd" fill-opacity="0.65" stroke="#8fa8bd" stroke-width="1.6" stroke-opacity="0.6"/>
<path d="M286.1,603.9 C285.1,604.0 283.9,603.8 283.1,603.0 C282.4,602.1 281.6,600.1 281.5,598.8 C281.5,597.5 282.2,596.2 282.7,595.0 C283.3,593.8 284.0,591.9 284.9,591.7 C285.8,591.5 287.3,592.8 288.0,593.8 C288.7,594.9 289.1,596.6 289.2,598.1 C289.3,599.5 289.4,601.5 288.9,602.4 C288.4,603.4 287.1,603.8 286.1,603.9Z" fill="#a8bdcd" fill-opacity="0.45" stroke="#8fa8bd" stroke-width="1.6" stroke-opacity="0.6"/>
<path d="M298.1,558.9 C297.0,558.0 297.9,554.1 298.0,551.9 C298.0,549.6 297.5,547.3 298.5,545.4 C299.6,543.5 302.6,541.1 304.5,540.7 C306.4,540.3 308.5,541.8 309.9,542.9 C311.2,544.1 312.6,545.9 312.6,547.7 C312.6,549.4 311.0,551.9 309.7,553.6 C308.4,555.2 306.9,556.6 304.9,557.5 C303.0,558.4 299.3,559.8 298.1,558.9Z" fill="#a8bdcd" fill-opacity="0.75" stroke="#8fa8bd" stroke-width="1.6" stroke-opacity="0.6"/>
<ellipse cx="302.4" cy="548.8" rx="2.8" ry="2.2" fill="#e2e6e8" fill-opacity="0.45"/>
<path d="M359.1,581.0 C357.5,580.9 355.0,579.4 354.4,578.0 C353.8,576.5 354.8,573.9 355.3,572.1 C355.7,570.2 356.0,568.0 357.2,566.9 C358.4,565.7 361.1,564.8 362.5,565.2 C363.9,565.7 364.6,568.2 365.6,569.8 C366.6,571.4 368.6,573.4 368.4,574.9 C368.1,576.4 365.4,577.7 363.9,578.7 C362.3,579.8 360.7,581.1 359.1,581.0Z" fill="#a8bdcd" fill-opacity="0.85" stroke="#8fa8bd" stroke-width="1.6" stroke-opacity="0.6"/>
<ellipse cx="359.3" cy="573.3" rx="2.3" ry="2.0" fill="#e2e6e8" fill-opacity="0.45"/>
<path d="M315.7,510.5 C314.4,510.5 312.8,509.0 311.8,507.4 C310.8,505.8 309.6,503.3 309.7,501.2 C309.8,499.0 311.1,496.0 312.4,494.6 C313.6,493.3 315.6,493.1 317.2,493.2 C318.8,493.3 321.1,493.6 322.0,495.1 C322.9,496.6 322.8,500.2 322.5,502.2 C322.1,504.3 320.9,506.1 319.8,507.4 C318.7,508.8 317.1,510.5 315.7,510.5Z" fill="#a8bdcd" fill-opacity="0.69" stroke="#8fa8bd" stroke-width="1.6" stroke-opacity="0.6"/>
<ellipse cx="313.9" cy="500.4" rx="2.8" ry="1.9" fill="#e2e6e8" fill-opacity="0.45"/>
<path d="M348.5,551.6 C348.1,553.2 344.7,554.1 342.8,555.2 C340.8,556.3 338.7,558.5 336.7,558.3 C334.8,558.1 332.4,555.6 331.1,554.0 C329.8,552.4 329.1,550.4 329.2,548.6 C329.3,546.7 329.9,543.6 331.6,542.8 C333.3,541.9 336.8,542.9 339.1,543.4 C341.4,543.9 343.7,544.4 345.3,545.8 C346.9,547.2 348.9,550.1 348.5,551.6Z" fill="#a8bdcd" fill-opacity="0.85" stroke="#8fa8bd" stroke-width="1.6" stroke-opacity="0.6"/>
<path d="M256.5,508.1 C255.4,508.1 254.1,507.2 253.2,506.1 C252.2,505.1 250.9,503.3 250.6,501.6 C250.2,500.0 250.7,497.7 251.2,496.2 C251.7,494.7 252.6,492.8 253.7,492.5 C254.7,492.3 256.2,493.6 257.4,494.8 C258.5,496.1 260.0,497.9 260.4,499.8 C260.8,501.7 260.6,504.9 259.9,506.3 C259.3,507.7 257.6,508.2 256.5,508.1Z" fill="#a8bdcd" fill-opacity="0.72" stroke="#8fa8bd" stroke-width="1.6" stroke-opacity="0.6"/>
<path d="M317.2,552.3 C316.0,552.2 314.1,550.9 313.6,549.7 C313.1,548.4 313.6,546.1 314.0,544.6 C314.5,543.1 315.1,541.8 316.1,540.7 C317.2,539.6 318.8,537.9 320.1,537.9 C321.4,538.0 323.1,539.7 323.8,541.1 C324.5,542.6 324.8,545.2 324.3,546.7 C323.8,548.2 322.0,549.0 320.8,549.9 C319.6,550.8 318.4,552.3 317.2,552.3Z" fill="#a8bdcd" fill-opacity="0.69" stroke="#8fa8bd" stroke-width="1.6" stroke-opacity="0.6"/>
<ellipse cx="317.7" cy="545.3" rx="2.0" ry="1.6" fill="#e2e6e8" fill-opacity="0.45"/>
<path d="M276.9,566.7 C276.3,566.1 276.1,565.0 276.1,563.9 C276.2,562.7 276.3,560.7 277.3,559.6 C278.2,558.5 280.3,557.6 281.7,557.3 C283.0,557.0 284.9,557.1 285.5,557.9 C286.1,558.6 285.7,560.6 285.4,561.9 C285.1,563.2 284.6,564.8 283.6,565.8 C282.7,566.7 280.9,567.6 279.8,567.7 C278.7,567.9 277.5,567.4 276.9,566.7Z" fill="#a8bdcd" fill-opacity="0.79" stroke="#8fa8bd" stroke-width="1.6" stroke-opacity="0.6"/>
<path d="M278.4,599.1 C276.9,598.9 275.5,596.1 274.8,594.2 C274.1,592.2 273.7,589.5 274.1,587.5 C274.5,585.5 275.9,583.8 277.1,582.1 C278.4,580.5 280.4,577.6 281.7,577.8 C282.9,578.0 284.0,581.4 284.6,583.3 C285.2,585.2 285.5,587.1 285.3,589.2 C285.1,591.3 284.6,594.2 283.5,595.8 C282.3,597.5 279.8,599.4 278.4,599.1Z" fill="#a8bdcd" fill-opacity="0.75" stroke="#8fa8bd" stroke-width="1.6" stroke-opacity="0.6"/>
<ellipse cx="281.1" cy="587.6" rx="2.8" ry="1.9" fill="#e2e6e8" fill-opacity="0.45"/>
<path d="M347.9,506.0 C347.7,507.2 346.2,508.7 344.9,509.1 C343.6,509.6 341.4,509.2 340.1,508.7 C338.7,508.2 337.4,507.2 336.6,506.2 C335.9,505.3 335.2,503.9 335.4,502.7 C335.5,501.6 336.3,499.9 337.5,499.4 C338.7,498.9 341.0,499.2 342.4,499.7 C343.8,500.2 344.8,501.3 345.7,502.3 C346.6,503.4 348.0,504.9 347.9,506.0Z" fill="#a8bdcd" fill-opacity="0.57" stroke="#8fa8bd" stroke-width="1.6" stroke-opacity="0.6"/>
<path d="M311.8,635.4 C310.1,635.7 307.7,635.1 306.1,634.0 C304.6,632.8 303.2,630.6 302.6,628.4 C301.9,626.2 301.3,622.8 302.2,620.8 C303.2,618.8 306.2,616.7 308.1,616.6 C310.1,616.5 312.5,618.6 314.1,620.1 C315.7,621.6 317.3,623.5 317.7,625.5 C318.1,627.4 317.7,630.4 316.7,632.0 C315.7,633.7 313.6,635.1 311.8,635.4Z" fill="#a8bdcd" fill-opacity="0.77" stroke="#8fa8bd" stroke-width="1.6" stroke-opacity="0.6"/>
<ellipse cx="309.6" cy="626.4" rx="2.8" ry="2.4" fill="#e2e6e8" fill-opacity="0.45"/>
<path d="M247.2,579.1 C246.3,577.7 245.0,576.0 245.6,574.3 C246.1,572.6 248.4,569.8 250.3,568.9 C252.1,568.0 255.1,568.4 256.7,568.9 C258.4,569.3 259.3,570.5 260.1,571.8 C260.9,573.0 262.0,574.7 261.5,576.2 C261.0,577.8 258.9,579.9 257.0,581.0 C255.2,582.0 252.3,582.8 250.6,582.4 C249.0,582.1 248.0,580.4 247.2,579.1Z" fill="#a8bdcd" fill-opacity="0.68" stroke="#8fa8bd" stroke-width="1.6" stroke-opacity="0.6"/>
<path d="M318.7,613.3 C318.0,612.5 316.9,611.6 317.0,610.5 C317.1,609.3 318.4,607.2 319.5,606.5 C320.6,605.8 322.3,606.1 323.6,606.2 C324.9,606.2 326.7,605.9 327.3,606.6 C327.8,607.3 327.2,609.0 326.9,610.2 C326.6,611.4 326.3,613.1 325.4,614.0 C324.4,614.8 322.2,615.6 321.1,615.5 C320.0,615.4 319.3,614.2 318.7,613.3Z" fill="#a8bdcd" fill-opacity="0.48" stroke="#8fa8bd" stroke-width="1.6" stroke-opacity="0.6"/>
<ellipse cx="321.5" cy="611.0" rx="1.7" ry="1.3" fill="#e2e6e8" fill-opacity="0.45"/>
<path d="M296.0,605.2 C295.9,604.1 296.5,602.6 297.6,601.7 C298.7,600.7 300.8,599.7 302.5,599.5 C304.2,599.3 306.6,599.7 308.0,600.4 C309.4,601.1 311.1,602.6 311.1,603.7 C311.1,604.9 309.4,606.3 308.1,607.3 C306.9,608.3 305.2,609.6 303.5,609.8 C301.8,610.0 299.3,609.4 298.1,608.6 C296.8,607.8 296.0,606.4 296.0,605.2Z" fill="#a8bdcd" fill-opacity="0.72" stroke="#8fa8bd" stroke-width="1.6" stroke-opacity="0.6"/>
<path d="M341.6,623.4 C339.8,622.7 337.6,620.4 337.1,618.3 C336.6,616.3 337.7,613.2 338.7,611.3 C339.8,609.3 341.7,607.3 343.5,606.6 C345.2,606.0 347.3,606.7 349.2,607.5 C351.0,608.2 353.5,609.1 354.3,610.9 C355.2,612.8 355.4,616.7 354.3,618.6 C353.3,620.5 350.2,621.6 348.1,622.4 C346.0,623.2 343.5,624.1 341.6,623.4Z" fill="#a8bdcd" fill-opacity="0.66" stroke="#8fa8bd" stroke-width="1.6" stroke-opacity="0.6"/>
<ellipse cx="344.2" cy="614.2" rx="2.7" ry="2.4" fill="#e2e6e8" fill-opacity="0.45"/>
<path d="M274.4,636.6 C274.1,637.4 272.1,637.7 271.0,637.9 C269.8,638.0 268.5,637.8 267.3,637.4 C266.1,637.0 264.5,636.3 263.8,635.4 C263.0,634.6 262.7,633.2 262.9,632.3 C263.2,631.4 264.1,630.0 265.2,629.9 C266.3,629.7 268.3,630.9 269.6,631.5 C270.8,632.1 271.7,632.6 272.5,633.5 C273.3,634.3 274.6,635.9 274.4,636.6Z" fill="#a8bdcd" fill-opacity="0.71" stroke="#8fa8bd" stroke-width="1.6" stroke-opacity="0.6"/>
<ellipse cx="267.5" cy="633.8" rx="1.7" ry="1.1" fill="#e2e6e8" fill-opacity="0.45"/>
<path d="M351.9,627.1 C351.9,626.1 352.7,625.0 353.6,623.9 C354.5,622.8 355.7,620.8 357.3,620.5 C358.8,620.1 361.6,620.8 362.9,621.6 C364.1,622.5 364.5,624.2 364.6,625.4 C364.7,626.7 364.4,628.3 363.4,629.3 C362.4,630.3 360.3,631.2 358.7,631.4 C357.2,631.5 355.2,630.9 354.1,630.2 C352.9,629.5 352.0,628.2 351.9,627.1Z" fill="#a8bdcd" fill-opacity="0.64" stroke="#8fa8bd" stroke-width="1.6" stroke-opacity="0.6"/>
<path d="M325.8,533.3 C324.9,533.7 323.3,533.4 322.4,532.7 C321.5,532.0 320.7,530.3 320.3,529.2 C319.8,528.0 319.7,526.6 319.9,525.6 C320.0,524.6 320.7,523.4 321.4,523.0 C322.2,522.7 323.4,523.0 324.4,523.5 C325.4,524.0 327.1,524.9 327.6,526.0 C328.1,527.2 327.9,529.1 327.6,530.3 C327.3,531.5 326.7,532.9 325.8,533.3Z" fill="#a8bdcd" fill-opacity="0.77" stroke="#8fa8bd" stroke-width="1.6" stroke-opacity="0.6"/>
<path d="M367.6,537.6 C366.7,536.8 366.5,534.8 367.0,533.3 C367.5,531.7 369.1,529.2 370.6,528.1 C372.0,527.1 374.1,527.0 375.6,526.9 C377.0,526.8 378.4,526.7 379.2,527.4 C380.1,528.0 381.1,529.5 380.7,530.8 C380.2,532.1 378.0,533.8 376.6,535.0 C375.1,536.2 373.6,537.5 372.1,538.0 C370.6,538.4 368.4,538.4 367.6,537.6Z" fill="#a8bdcd" fill-opacity="0.45" stroke="#8fa8bd" stroke-width="1.6" stroke-opacity="0.6"/>
<ellipse cx="376.1" cy="532.2" rx="2.3" ry="1.4" fill="#e2e6e8" fill-opacity="0.45"/>
<path d="M309.2,574.0 C308.2,574.7 306.9,575.2 305.7,575.0 C304.5,574.7 302.9,573.7 302.1,572.6 C301.2,571.4 300.2,569.3 300.4,568.1 C300.6,566.8 301.9,565.6 303.0,564.9 C304.1,564.2 305.8,563.3 306.9,563.7 C308.1,564.1 309.2,566.0 309.9,567.3 C310.7,568.5 311.6,570.1 311.5,571.2 C311.4,572.4 310.1,573.4 309.2,574.0Z" fill="#a8bdcd" fill-opacity="0.57" stroke="#8fa8bd" stroke-width="1.6" stroke-opacity="0.6"/>
<ellipse cx="308.0" cy="570.8" rx="1.8" ry="1.5" fill="#e2e6e8" fill-opacity="0.45"/>
<path d="M377.7,614.7 C376.7,615.3 375.0,615.2 373.8,614.8 C372.5,614.4 371.0,613.5 370.1,612.4 C369.3,611.3 368.6,609.6 368.5,608.2 C368.4,606.9 368.8,604.9 369.6,604.3 C370.5,603.7 372.5,604.0 373.7,604.5 C375.0,604.9 376.2,605.8 377.2,607.0 C378.1,608.1 379.6,609.9 379.6,611.2 C379.7,612.4 378.6,614.1 377.7,614.7Z" fill="#a8bdcd" fill-opacity="0.60" stroke="#8fa8bd" stroke-width="1.6" stroke-opacity="0.6"/>
<ellipse cx="375.4" cy="609.8" rx="1.9" ry="1.5" fill="#e2e6e8" fill-opacity="0.45"/>
<path d="M253.5,511.9 C252.8,513.2 250.0,514.2 248.2,514.2 C246.4,514.2 244.2,512.7 242.7,511.7 C241.2,510.6 239.6,509.1 239.0,507.7 C238.5,506.2 238.9,504.2 239.6,503.1 C240.4,502.0 242.0,501.1 243.6,500.9 C245.2,500.6 247.7,500.7 249.1,501.6 C250.5,502.5 251.2,504.6 251.9,506.3 C252.7,508.0 254.1,510.6 253.5,511.9Z" fill="#a8bdcd" fill-opacity="0.61" stroke="#8fa8bd" stroke-width="1.6" stroke-opacity="0.6"/>
<path d="M220.0,556.8 C219.2,555.5 219.9,552.9 220.3,551.1 C220.8,549.3 221.2,547.2 222.5,546.0 C223.9,544.9 226.3,544.2 228.2,544.2 C230.0,544.3 232.8,544.9 233.7,546.2 C234.6,547.5 234.0,550.2 233.6,552.0 C233.1,553.8 232.5,555.9 231.2,557.1 C229.8,558.4 227.3,559.4 225.4,559.3 C223.5,559.3 220.9,558.2 220.0,556.8Z" fill="#a8bdcd" fill-opacity="0.71" stroke="#8fa8bd" stroke-width="1.6" stroke-opacity="0.6"/>
<path d="M313.8,600.0 C312.5,600.8 310.4,602.4 309.2,601.9 C308.0,601.4 307.3,598.6 306.6,596.9 C305.8,595.2 304.3,593.1 304.5,591.7 C304.8,590.3 306.9,589.0 308.3,588.4 C309.8,587.9 311.7,587.8 313.1,588.4 C314.5,589.0 316.2,590.7 316.8,592.1 C317.4,593.6 317.1,595.7 316.6,597.1 C316.1,598.4 315.0,599.2 313.8,600.0Z" fill="#a8bdcd" fill-opacity="0.64" stroke="#8fa8bd" stroke-width="1.6" stroke-opacity="0.6"/>
<path d="M346.8,543.1 C345.4,542.7 343.6,542.1 343.1,540.6 C342.6,539.1 343.3,536.0 343.9,534.1 C344.4,532.2 345.4,530.4 346.5,529.2 C347.6,528.1 349.0,527.4 350.5,527.4 C351.9,527.3 354.2,527.4 355.0,529.0 C355.8,530.5 355.7,534.4 355.1,536.7 C354.5,539.1 352.6,541.8 351.2,542.8 C349.9,543.9 348.1,543.4 346.8,543.1Z" fill="#a8bdcd" fill-opacity="0.78" stroke="#8fa8bd" stroke-width="1.6" stroke-opacity="0.6"/>
<ellipse cx="349.5" cy="536.0" rx="2.7" ry="1.7" fill="#e2e6e8" fill-opacity="0.45"/>
<path d="M326.4,524.0 C324.6,524.1 322.3,523.3 320.8,521.8 C319.4,520.3 318.0,517.4 317.8,515.0 C317.5,512.6 318.2,509.3 319.4,507.6 C320.5,506.0 322.7,505.3 324.6,505.0 C326.5,504.8 329.2,504.6 330.6,506.0 C332.1,507.4 333.2,511.0 333.4,513.5 C333.6,516.1 333.0,519.4 331.8,521.2 C330.7,522.9 328.2,523.9 326.4,524.0Z" fill="#a8bdcd" fill-opacity="0.61" stroke="#8fa8bd" stroke-width="1.6" stroke-opacity="0.6"/>
<ellipse cx="325.1" cy="514.6" rx="2.8" ry="2.1" fill="#e2e6e8" fill-opacity="0.45"/>
<path d="M271.3,585.1 C270.6,585.2 269.7,584.1 268.9,583.3 C268.2,582.5 267.0,581.4 266.7,580.2 C266.5,579.0 266.8,576.9 267.3,575.9 C267.7,575.0 268.7,574.5 269.5,574.4 C270.3,574.4 271.3,574.7 272.0,575.5 C272.6,576.3 273.4,577.8 273.6,579.1 C273.8,580.3 273.5,581.9 273.1,582.9 C272.8,583.9 272.0,585.0 271.3,585.1Z" fill="#a8bdcd" fill-opacity="0.65" stroke="#8fa8bd" stroke-width="1.6" stroke-opacity="0.6"/>
<ellipse cx="271.8" cy="580.6" rx="1.7" ry="1.0" fill="#e2e6e8" fill-opacity="0.45"/>
<path d="M234.0,609.4 C233.8,608.4 234.2,607.1 235.0,606.3 C235.8,605.5 237.5,604.6 238.7,604.5 C239.9,604.3 241.2,604.9 242.5,605.4 C243.7,605.9 245.8,606.5 246.1,607.5 C246.4,608.5 245.6,610.4 244.5,611.3 C243.5,612.2 241.4,612.6 240.0,612.8 C238.5,612.9 236.8,612.7 235.8,612.1 C234.8,611.6 234.1,610.4 234.0,609.4Z" fill="#a8bdcd" fill-opacity="0.45" stroke="#8fa8bd" stroke-width="1.6" stroke-opacity="0.6"/>
<path d="M231.5,508.4 C230.0,508.3 228.2,505.9 227.3,504.1 C226.3,502.3 226.0,499.8 226.1,497.8 C226.1,495.7 226.6,493.5 227.5,491.8 C228.3,490.0 229.9,487.5 231.4,487.3 C232.8,487.0 235.3,488.6 236.2,490.4 C237.1,492.1 236.7,495.3 236.7,497.7 C236.7,500.1 237.1,503.1 236.2,504.9 C235.3,506.7 232.9,508.5 231.5,508.4Z" fill="#a8bdcd" fill-opacity="0.82" stroke="#8fa8bd" stroke-width="1.6" stroke-opacity="0.6"/>
<ellipse cx="231.3" cy="496.6" rx="2.7" ry="1.8" fill="#e2e6e8" fill-opacity="0.45"/>
<path d="M361.3,641.1 C360.7,641.9 359.6,642.5 358.4,642.7 C357.2,643.0 355.0,643.2 353.9,642.5 C352.8,641.7 352.1,639.8 351.7,638.4 C351.2,637.0 350.4,635.1 350.9,634.0 C351.5,633.0 353.5,632.1 354.9,632.1 C356.4,632.0 358.7,632.8 359.9,633.8 C361.0,634.8 361.6,636.6 361.8,637.9 C362.0,639.1 361.8,640.3 361.3,641.1Z" fill="#a8bdcd" fill-opacity="0.80" stroke="#8fa8bd" stroke-width="1.6" stroke-opacity="0.6"/>
<path d="M368.6,562.3 C367.8,562.6 366.8,562.7 365.8,562.3 C364.9,561.9 363.7,560.9 362.9,559.9 C362.1,558.8 361.1,557.2 360.9,556.0 C360.8,554.8 361.2,553.2 362.0,552.7 C362.7,552.3 364.3,552.9 365.4,553.4 C366.6,553.9 367.9,554.7 368.8,555.8 C369.7,556.9 370.8,559.1 370.7,560.2 C370.7,561.3 369.4,561.9 368.6,562.3Z" fill="#a8bdcd" fill-opacity="0.73" stroke="#8fa8bd" stroke-width="1.6" stroke-opacity="0.6"/>
<path d="M264.0,543.0 C262.8,544.4 261.1,547.0 259.3,546.7 C257.6,546.5 255.0,543.5 253.6,541.6 C252.1,539.7 250.9,537.3 250.8,535.3 C250.7,533.4 251.6,530.8 253.0,529.9 C254.3,529.0 256.8,529.7 258.7,530.1 C260.7,530.5 263.4,530.8 264.7,532.2 C266.0,533.6 266.5,536.8 266.4,538.6 C266.3,540.4 265.2,541.7 264.0,543.0Z" fill="#a8bdcd" fill-opacity="0.71" stroke="#8fa8bd" stroke-width="1.6" stroke-opacity="0.6"/>
<ellipse cx="260.6" cy="535.2" rx="2.8" ry="2.2" fill="#e2e6e8" fill-opacity="0.45"/>
<path d="M306.5,526.3 C306.4,527.7 304.8,529.2 303.3,530.1 C301.8,531.0 299.1,532.1 297.4,531.8 C295.7,531.5 293.9,529.6 292.9,528.4 C291.8,527.2 291.1,525.8 291.3,524.7 C291.5,523.5 292.7,522.4 293.9,521.6 C295.2,520.8 297.1,519.7 298.7,519.8 C300.4,519.9 302.6,521.0 303.9,522.1 C305.2,523.2 306.6,525.0 306.5,526.3Z" fill="#a8bdcd" fill-opacity="0.69" stroke="#8fa8bd" stroke-width="1.6" stroke-opacity="0.6"/>
<ellipse cx="297.0" cy="526.4" rx="2.3" ry="1.7" fill="#e2e6e8" fill-opacity="0.45"/>
<path d="M235.5,544.0 C234.3,545.0 233.1,547.0 231.7,546.7 C230.3,546.5 228.2,544.0 227.1,542.5 C225.9,540.9 224.8,539.2 224.6,537.7 C224.5,536.3 225.2,534.8 226.1,533.8 C227.1,532.8 228.5,531.4 230.1,531.5 C231.7,531.7 234.3,533.1 235.7,534.6 C237.1,536.0 238.5,538.9 238.4,540.5 C238.4,542.1 236.6,543.0 235.5,544.0Z" fill="#a8bdcd" fill-opacity="0.69" stroke="#8fa8bd" stroke-width="1.6" stroke-opacity="0.6"/>
<ellipse cx="230.4" cy="538.5" rx="2.4" ry="1.8" fill="#e2e6e8" fill-opacity="0.45"/>
<path d="M253.4,637.9 C252.8,637.2 252.1,636.2 252.2,635.1 C252.3,634.0 253.1,632.0 254.0,631.3 C255.0,630.5 256.7,630.5 257.9,630.5 C259.0,630.4 260.0,630.5 260.8,631.0 C261.6,631.6 262.9,632.8 262.7,633.8 C262.4,634.8 260.6,636.2 259.5,637.1 C258.4,638.0 257.1,639.0 256.1,639.2 C255.1,639.3 254.1,638.6 253.4,637.9Z" fill="#a8bdcd" fill-opacity="0.84" stroke="#8fa8bd" stroke-width="1.6" stroke-opacity="0.6"/>
<ellipse cx="256.8" cy="633.5" rx="1.7" ry="1.2" fill="#e2e6e8" fill-opacity="0.45"/>
<path d="M369.8,586.9 C368.9,586.4 367.9,585.7 367.6,584.6 C367.3,583.5 367.6,581.4 368.2,580.1 C368.9,578.9 370.4,577.8 371.5,577.2 C372.7,576.5 374.3,576.0 375.1,576.4 C375.9,576.9 376.3,578.6 376.4,579.9 C376.5,581.1 376.1,582.6 375.5,583.9 C374.9,585.1 373.9,587.1 372.9,587.6 C371.9,588.1 370.6,587.4 369.8,586.9Z" fill="#a8bdcd" fill-opacity="0.47" stroke="#8fa8bd" stroke-width="1.6" stroke-opacity="0.6"/>
<ellipse cx="373.1" cy="581.5" rx="1.7" ry="1.2" fill="#e2e6e8" fill-opacity="0.45"/>
<path d="M282.9,524.5 C282.2,525.3 280.5,525.6 279.0,525.4 C277.5,525.3 275.7,524.6 274.0,523.6 C272.4,522.6 270.0,520.7 269.3,519.2 C268.7,517.8 269.4,516.0 270.2,515.0 C271.0,514.0 272.6,513.0 274.1,513.3 C275.6,513.5 277.8,515.4 279.3,516.6 C280.7,517.8 282.3,519.2 282.9,520.5 C283.5,521.8 283.5,523.7 282.9,524.5Z" fill="#a8bdcd" fill-opacity="0.54" stroke="#8fa8bd" stroke-width="1.6" stroke-opacity="0.6"/>
<ellipse cx="277.7" cy="519.5" rx="2.3" ry="1.4" fill="#e2e6e8" fill-opacity="0.45"/>
<path d="M268.0,502.2 C267.1,502.4 265.7,501.4 264.7,500.6 C263.7,499.7 262.6,498.4 262.2,497.2 C261.8,495.9 262.0,494.4 262.2,493.1 C262.4,491.7 262.6,489.4 263.4,489.1 C264.2,488.8 265.9,490.2 267.0,491.1 C268.1,492.0 269.4,493.1 269.9,494.5 C270.5,495.8 270.6,498.1 270.3,499.4 C269.9,500.7 269.0,502.0 268.0,502.2Z" fill="#a8bdcd" fill-opacity="0.82" stroke="#8fa8bd" stroke-width="1.6" stroke-opacity="0.6"/>
<path d="M285.2,624.0 C284.3,624.3 283.3,624.2 282.3,623.7 C281.2,623.3 279.5,622.5 278.8,621.3 C278.1,620.1 277.7,618.0 277.8,616.6 C277.9,615.2 278.4,613.6 279.3,613.0 C280.2,612.4 282.1,612.2 283.2,613.0 C284.4,613.7 285.4,616.0 286.1,617.5 C286.8,619.0 287.8,621.0 287.7,622.1 C287.5,623.2 286.1,623.7 285.2,624.0Z" fill="#a8bdcd" fill-opacity="0.54" stroke="#8fa8bd" stroke-width="1.6" stroke-opacity="0.6"/>
<path d="M335.7,497.7 C335.5,498.8 335.2,500.2 334.1,500.8 C333.0,501.5 330.5,501.7 328.9,501.4 C327.3,501.1 325.3,499.9 324.4,498.9 C323.5,497.8 323.1,496.3 323.4,495.3 C323.7,494.2 324.8,493.1 326.0,492.6 C327.2,492.2 329.1,492.4 330.7,492.7 C332.2,493.0 334.3,493.5 335.1,494.3 C336.0,495.2 335.9,496.6 335.7,497.7Z" fill="#a8bdcd" fill-opacity="0.61" stroke="#8fa8bd" stroke-width="1.6" stroke-opacity="0.6"/>
<path d="M310.6,540.8 C309.4,540.9 307.8,538.6 306.8,537.1 C305.8,535.6 304.8,533.8 304.5,531.8 C304.2,529.8 304.2,526.6 304.9,525.1 C305.6,523.5 307.5,522.4 308.8,522.4 C310.1,522.4 311.7,523.6 312.8,525.0 C313.8,526.4 314.7,528.9 314.9,530.8 C315.0,532.8 314.3,534.9 313.6,536.6 C312.9,538.2 311.7,540.7 310.6,540.8Z" fill="#a8bdcd" fill-opacity="0.70" stroke="#8fa8bd" stroke-width="1.6" stroke-opacity="0.6"/>
<ellipse cx="308.5" cy="532.3" rx="2.5" ry="1.5" fill="#e2e6e8" fill-opacity="0.45"/>
<path d="M239.0,567.5 C238.9,566.5 239.5,565.3 240.5,564.4 C241.4,563.6 243.2,562.3 244.6,562.2 C246.0,562.1 248.1,563.1 249.0,563.8 C250.0,564.6 250.3,565.6 250.5,566.6 C250.6,567.7 250.9,569.1 250.0,569.9 C249.1,570.7 246.8,571.3 245.3,571.4 C243.7,571.5 241.9,570.9 240.9,570.3 C239.8,569.6 239.0,568.4 239.0,567.5Z" fill="#a8bdcd" fill-opacity="0.51" stroke="#8fa8bd" stroke-width="1.6" stroke-opacity="0.6"/>
<ellipse cx="245.6" cy="567.2" rx="2.0" ry="1.4" fill="#e2e6e8" fill-opacity="0.45"/>
<path d="M323.5,583.6 C322.1,584.4 319.0,583.2 316.9,582.5 C314.8,581.7 312.3,580.8 311.1,579.1 C310.0,577.3 309.6,574.1 310.0,572.0 C310.4,570.0 312.0,567.8 313.8,566.7 C315.5,565.6 318.4,564.7 320.4,565.3 C322.5,565.9 325.2,568.5 326.1,570.5 C326.9,572.4 325.9,575.0 325.4,577.2 C325.0,579.3 324.9,582.7 323.5,583.6Z" fill="#a8bdcd" fill-opacity="0.59" stroke="#8fa8bd" stroke-width="1.6" stroke-opacity="0.6"/>
<path d="M340.6,576.5 C339.8,576.9 338.2,576.2 337.1,575.6 C336.1,575.0 334.9,573.9 334.3,572.8 C333.6,571.6 333.1,570.0 333.1,568.9 C333.1,567.9 333.6,566.9 334.3,566.2 C335.0,565.6 336.3,564.7 337.3,565.1 C338.3,565.6 339.5,567.7 340.2,569.1 C341.0,570.5 341.9,572.0 342.0,573.3 C342.1,574.5 341.4,576.1 340.6,576.5Z" fill="#a8bdcd" fill-opacity="0.52" stroke="#8fa8bd" stroke-width="1.6" stroke-opacity="0.6"/>
<path d="M266.6,546.1 C265.6,544.5 264.8,542.2 265.3,540.4 C265.9,538.6 268.0,536.5 269.8,535.3 C271.7,534.2 274.6,533.2 276.6,533.4 C278.6,533.7 281.2,535.4 281.8,537.0 C282.5,538.5 281.2,541.1 280.4,542.9 C279.7,544.7 278.8,546.6 277.2,547.7 C275.7,548.9 272.7,550.0 271.0,549.7 C269.2,549.5 267.5,547.6 266.6,546.1Z" fill="#a8bdcd" fill-opacity="0.68" stroke="#8fa8bd" stroke-width="1.6" stroke-opacity="0.6"/>
<ellipse cx="272.1" cy="539.7" rx="2.6" ry="2.2" fill="#e2e6e8" fill-opacity="0.45"/>
<path d="M373.2,517.1 C372.3,516.9 371.5,516.0 371.0,514.8 C370.4,513.6 369.7,511.8 369.9,510.1 C370.0,508.5 370.9,505.9 371.8,504.9 C372.6,504.0 374.0,504.2 374.9,504.5 C375.8,504.7 376.7,505.3 377.2,506.4 C377.7,507.6 378.1,509.6 378.0,511.2 C377.8,512.9 377.1,515.3 376.3,516.3 C375.5,517.3 374.1,517.4 373.2,517.1Z" fill="#a8bdcd" fill-opacity="0.64" stroke="#8fa8bd" stroke-width="1.6" stroke-opacity="0.6"/>
<path d="M250.2,522.3 C249.4,523.1 248.0,524.0 246.9,523.9 C245.8,523.8 244.6,522.7 243.6,521.7 C242.6,520.8 241.0,519.4 240.9,518.3 C240.8,517.2 242.1,515.9 243.0,515.0 C243.9,514.1 245.1,512.8 246.3,512.9 C247.4,512.9 249.1,514.3 250.0,515.3 C250.9,516.4 251.6,517.9 251.6,519.0 C251.7,520.2 251.0,521.5 250.2,522.3Z" fill="#a8bdcd" fill-opacity="0.65" stroke="#8fa8bd" stroke-width="1.6" stroke-opacity="0.6"/>
<ellipse cx="246.1" cy="517.9" rx="1.8" ry="1.6" fill="#e2e6e8" fill-opacity="0.45"/>
<path d="M242.3,524.2 C241.3,525.4 239.4,526.2 237.7,526.5 C236.0,526.7 233.3,526.8 231.9,525.7 C230.5,524.7 229.6,522.0 229.5,520.4 C229.4,518.8 230.4,517.3 231.3,516.1 C232.2,514.8 233.3,513.1 234.8,512.7 C236.4,512.4 239.0,513.0 240.5,514.1 C242.0,515.1 243.4,517.4 243.6,519.1 C243.9,520.7 243.2,522.9 242.3,524.2Z" fill="#a8bdcd" fill-opacity="0.80" stroke="#8fa8bd" stroke-width="1.6" stroke-opacity="0.6"/>
<ellipse cx="238.3" cy="521.2" rx="2.2" ry="2.0" fill="#e2e6e8" fill-opacity="0.45"/>
<path d="M219.6,577.1 C218.2,575.9 217.2,573.3 217.3,571.2 C217.4,569.1 218.7,566.4 220.3,564.6 C221.9,562.8 224.8,560.6 226.6,560.6 C228.4,560.5 229.7,563.1 231.2,564.4 C232.7,565.8 235.4,567.0 235.4,568.7 C235.4,570.4 232.9,573.0 231.3,574.7 C229.7,576.3 227.7,578.2 225.7,578.6 C223.8,579.0 221.0,578.4 219.6,577.1Z" fill="#a8bdcd" fill-opacity="0.61" stroke="#8fa8bd" stroke-width="1.6" stroke-opacity="0.6"/>
<ellipse cx="228.3" cy="567.9" rx="2.6" ry="2.2" fill="#e2e6e8" fill-opacity="0.45"/>
<path d="M285.7,638.0 C284.8,637.5 283.8,636.5 283.7,635.2 C283.6,633.9 284.2,631.4 285.1,630.3 C286.1,629.1 288.2,628.5 289.4,628.2 C290.7,628.0 291.9,628.3 292.6,628.9 C293.4,629.4 294.1,630.5 294.2,631.7 C294.3,633.0 294.2,635.4 293.4,636.5 C292.5,637.6 290.3,637.9 289.0,638.2 C287.8,638.4 286.6,638.5 285.7,638.0Z" fill="#a8bdcd" fill-opacity="0.52" stroke="#8fa8bd" stroke-width="1.6" stroke-opacity="0.6"/>
<path d="M370.3,571.1 C369.0,570.7 367.7,568.8 367.4,567.3 C367.2,565.8 367.9,563.8 368.6,562.2 C369.4,560.7 370.7,558.3 371.9,557.9 C373.1,557.5 374.7,559.2 376.0,559.9 C377.3,560.6 379.3,560.8 379.7,562.1 C380.2,563.3 379.5,566.0 378.7,567.3 C377.9,568.7 376.2,569.3 374.8,570.0 C373.3,570.6 371.5,571.6 370.3,571.1Z" fill="#a8bdcd" fill-opacity="0.83" stroke="#8fa8bd" stroke-width="1.6" stroke-opacity="0.6"/>
<path d="M262.5,590.2 C261.7,589.5 260.7,588.3 260.9,587.1 C261.1,585.9 262.4,584.0 263.6,583.1 C264.8,582.2 266.8,581.5 268.0,581.5 C269.3,581.5 270.5,582.4 271.2,583.3 C271.9,584.1 272.7,585.5 272.4,586.8 C272.2,588.0 270.7,589.9 269.5,590.7 C268.4,591.4 266.6,591.3 265.4,591.2 C264.2,591.2 263.2,590.9 262.5,590.2Z" fill="#a8bdcd" fill-opacity="0.65" stroke="#8fa8bd" stroke-width="1.6" stroke-opacity="0.6"/>
<ellipse cx="265.2" cy="585.7" rx="1.7" ry="1.3" fill="#e2e6e8" fill-opacity="0.45"/>
<path d="M327.9,560.2 C327.3,560.8 326.1,561.2 325.0,560.8 C324.0,560.5 322.4,559.2 321.8,558.1 C321.1,557.0 321.1,555.3 321.2,554.3 C321.4,553.2 321.8,552.5 322.5,551.9 C323.1,551.3 324.2,550.5 325.1,550.9 C326.1,551.2 327.5,552.8 328.2,553.9 C328.8,555.0 328.9,556.5 328.9,557.5 C328.8,558.6 328.5,559.6 327.9,560.2Z" fill="#a8bdcd" fill-opacity="0.70" stroke="#8fa8bd" stroke-width="1.6" stroke-opacity="0.6"/>
<ellipse cx="326.6" cy="556.2" rx="1.7" ry="1.1" fill="#e2e6e8" fill-opacity="0.45"/>
<path d="M292.2,540.3 C291.1,541.1 288.7,540.8 287.1,540.4 C285.5,540.0 283.5,539.1 282.6,537.9 C281.7,536.7 281.8,534.7 281.7,533.0 C281.7,531.3 281.5,528.4 282.5,527.6 C283.6,526.7 286.4,527.5 288.0,527.9 C289.7,528.4 291.6,529.1 292.5,530.4 C293.5,531.6 294.0,533.8 293.9,535.4 C293.9,537.1 293.4,539.5 292.2,540.3Z" fill="#a8bdcd" fill-opacity="0.73" stroke="#8fa8bd" stroke-width="1.6" stroke-opacity="0.6"/>
<path d="M326.2,591.8 C326.1,590.3 326.9,588.4 327.9,587.3 C329.0,586.2 330.9,585.3 332.4,585.1 C334.0,584.8 336.2,585.0 337.4,585.8 C338.6,586.5 339.4,588.2 339.7,589.6 C339.9,591.0 340.0,593.0 339.1,594.2 C338.2,595.4 336.1,596.4 334.3,596.7 C332.5,597.1 329.8,597.2 328.5,596.4 C327.1,595.6 326.3,593.3 326.2,591.8Z" fill="#a8bdcd" fill-opacity="0.46" stroke="#8fa8bd" stroke-width="1.6" stroke-opacity="0.6"/>
<path d="M369.5,556.7 C368.2,555.8 366.6,554.5 366.4,552.9 C366.2,551.2 367.3,548.6 368.6,546.8 C369.8,545.1 372.0,542.8 373.6,542.4 C375.3,542.0 377.0,543.4 378.6,544.3 C380.1,545.3 382.8,546.5 382.8,548.2 C382.9,549.8 380.3,552.7 378.8,554.4 C377.4,556.0 375.7,557.9 374.1,558.3 C372.5,558.7 370.8,557.6 369.5,556.7Z" fill="#a8bdcd" fill-opacity="0.85" stroke="#8fa8bd" stroke-width="1.6" stroke-opacity="0.6"/>
<ellipse cx="373.3" cy="551.7" rx="2.6" ry="2.1" fill="#e2e6e8" fill-opacity="0.45"/>
<path d="M329.6,535.7 C328.7,534.4 329.4,532.2 329.6,530.3 C329.9,528.3 329.6,525.6 331.0,524.0 C332.4,522.5 335.8,521.1 337.9,521.0 C340.0,521.0 343.0,522.2 343.8,523.6 C344.6,525.1 343.3,528.0 342.8,529.9 C342.2,531.9 341.8,533.8 340.5,535.2 C339.1,536.5 336.5,537.9 334.7,538.0 C332.8,538.1 330.4,537.0 329.6,535.7Z" fill="#a8bdcd" fill-opacity="0.50" stroke="#8fa8bd" stroke-width="1.6" stroke-opacity="0.6"/>
<path d="M243.0,582.5 C242.2,582.4 241.4,580.8 240.9,579.7 C240.3,578.5 239.8,577.0 239.9,575.8 C239.9,574.5 240.7,573.1 241.3,572.2 C241.9,571.4 242.7,570.6 243.5,570.5 C244.2,570.4 245.3,570.9 245.8,571.8 C246.4,572.7 246.9,574.6 246.8,576.0 C246.8,577.4 246.2,579.1 245.5,580.2 C244.9,581.2 243.8,582.6 243.0,582.5Z" fill="#a8bdcd" fill-opacity="0.57" stroke="#8fa8bd" stroke-width="1.6" stroke-opacity="0.6"/>
<path d="M239.7,623.3 C238.3,623.2 236.5,622.7 235.5,621.5 C234.5,620.4 233.6,618.0 233.9,616.5 C234.1,615.0 235.7,613.3 236.8,612.5 C237.9,611.7 239.4,611.8 240.6,611.9 C241.8,612.1 242.9,612.5 243.9,613.5 C244.8,614.4 246.2,616.0 246.3,617.5 C246.3,618.9 245.1,621.0 244.0,622.0 C242.9,623.0 241.1,623.4 239.7,623.3Z" fill="#a8bdcd" fill-opacity="0.61" stroke="#8fa8bd" stroke-width="1.6" stroke-opacity="0.6"/>
<path d="M237.6,634.0 C236.6,633.5 236.0,631.2 235.9,629.7 C235.8,628.1 236.2,626.3 237.0,624.7 C237.7,623.1 239.1,620.8 240.4,620.2 C241.6,619.7 243.4,620.5 244.4,621.2 C245.3,621.9 246.0,623.1 246.3,624.5 C246.5,625.9 246.7,628.2 246.0,629.5 C245.3,630.8 243.5,631.6 242.1,632.4 C240.7,633.1 238.7,634.4 237.6,634.0Z" fill="#a8bdcd" fill-opacity="0.80" stroke="#8fa8bd" stroke-width="1.6" stroke-opacity="0.6"/>
<ellipse cx="241.0" cy="626.9" rx="2.0" ry="1.5" fill="#e2e6e8" fill-opacity="0.45"/>
<path d="M272.1,569.9 C270.8,570.1 268.5,570.1 267.7,569.1 C267.0,568.1 267.5,565.5 267.5,563.8 C267.5,562.2 267.2,560.4 267.8,559.1 C268.5,557.9 270.3,556.2 271.5,556.2 C272.7,556.2 274.2,558.0 275.2,559.2 C276.1,560.4 277.2,562.0 277.2,563.5 C277.3,564.9 276.4,566.8 275.5,567.9 C274.6,568.9 273.4,569.7 272.1,569.9Z" fill="#a8bdcd" fill-opacity="0.45" stroke="#8fa8bd" stroke-width="1.6" stroke-opacity="0.6"/>
<ellipse cx="272.2" cy="564.0" rx="1.9" ry="1.6" fill="#e2e6e8" fill-opacity="0.45"/>
<path d="M319.1,642.8 C318.3,642.0 319.0,639.3 319.7,637.6 C320.5,635.9 321.9,633.8 323.5,632.4 C325.1,631.1 327.8,629.8 329.4,629.6 C330.9,629.4 332.2,630.5 332.9,631.4 C333.6,632.4 334.1,633.7 333.7,635.3 C333.3,636.9 331.9,639.7 330.4,640.9 C328.9,642.0 326.4,642.0 324.6,642.3 C322.7,642.7 319.9,643.6 319.1,642.8Z" fill="#a8bdcd" fill-opacity="0.63" stroke="#8fa8bd" stroke-width="1.6" stroke-opacity="0.6"/>
<ellipse cx="328.6" cy="637.0" rx="2.8" ry="1.6" fill="#e2e6e8" fill-opacity="0.45"/>
<path d="M358.4,568.0 C357.7,568.4 356.0,567.4 354.9,566.7 C353.8,566.0 352.6,564.8 352.1,563.6 C351.6,562.4 351.8,560.7 352.1,559.4 C352.3,558.2 352.9,556.5 353.7,556.2 C354.5,556.0 355.9,557.2 356.9,557.9 C358.0,558.6 359.5,559.3 360.0,560.4 C360.4,561.4 359.8,563.0 359.6,564.3 C359.3,565.6 359.2,567.6 358.4,568.0Z" fill="#a8bdcd" fill-opacity="0.72" stroke="#8fa8bd" stroke-width="1.6" stroke-opacity="0.6"/>
<path d="M365.3,503.0 C365.4,504.1 363.2,505.5 361.6,506.2 C359.9,507.0 357.3,507.6 355.3,507.4 C353.2,507.2 350.4,506.2 349.1,505.2 C347.8,504.2 347.2,502.4 347.6,501.4 C347.9,500.3 349.7,499.6 351.1,498.9 C352.6,498.2 354.5,497.3 356.2,497.4 C357.9,497.6 359.6,498.8 361.1,499.7 C362.6,500.6 365.2,501.9 365.3,503.0Z" fill="#a8bdcd" fill-opacity="0.68" stroke="#8fa8bd" stroke-width="1.6" stroke-opacity="0.6"/>
<path d="M362.4,633.4 C362.0,631.5 362.4,629.0 363.7,627.3 C364.9,625.6 367.5,623.8 369.7,623.3 C371.9,622.9 375.0,623.5 376.9,624.5 C378.7,625.5 380.2,627.6 380.8,629.6 C381.3,631.5 381.4,634.8 380.1,636.2 C378.7,637.7 375.1,637.7 372.7,638.0 C370.4,638.4 367.8,639.1 366.1,638.3 C364.4,637.5 362.8,635.2 362.4,633.4Z" fill="#a8bdcd" fill-opacity="0.46" stroke="#8fa8bd" stroke-width="1.6" stroke-opacity="0.6"/>
<path d="M356.2,552.8 C356.0,554.0 355.8,555.4 354.7,556.1 C353.7,556.9 351.3,557.3 349.7,557.2 C348.1,557.1 346.4,556.2 345.2,555.4 C344.1,554.6 342.6,553.3 342.7,552.2 C342.7,551.2 344.1,549.8 345.3,549.1 C346.6,548.5 348.4,548.4 350.1,548.4 C351.8,548.4 354.6,548.4 355.6,549.1 C356.6,549.9 356.3,551.7 356.2,552.8Z" fill="#a8bdcd" fill-opacity="0.76" stroke="#8fa8bd" stroke-width="1.6" stroke-opacity="0.6"/>
<ellipse cx="348.5" cy="551.9" rx="2.1" ry="1.4" fill="#e2e6e8" fill-opacity="0.45"/>
<path d="M360.0,525.9 C359.1,526.6 357.4,526.7 356.2,526.1 C355.0,525.4 353.5,523.6 352.8,522.2 C352.2,520.9 352.3,519.4 352.3,518.0 C352.4,516.7 352.2,514.5 352.9,514.0 C353.6,513.5 355.6,514.4 356.7,515.1 C357.9,515.8 359.0,516.9 359.7,518.1 C360.5,519.3 361.2,521.1 361.2,522.4 C361.3,523.7 360.8,525.3 360.0,525.9Z" fill="#a8bdcd" fill-opacity="0.74" stroke="#8fa8bd" stroke-width="1.6" stroke-opacity="0.6"/>
<path d="M283.1,502.9 C282.9,503.8 281.5,504.7 280.2,505.0 C278.9,505.2 276.6,505.2 275.1,504.6 C273.6,503.9 272.2,502.5 271.2,501.3 C270.3,500.1 269.1,498.2 269.6,497.4 C270.0,496.6 272.6,496.6 274.0,496.6 C275.4,496.5 277.0,496.4 278.2,496.9 C279.4,497.4 280.6,498.6 281.5,499.6 C282.3,500.6 283.3,502.0 283.1,502.9Z" fill="#a8bdcd" fill-opacity="0.66" stroke="#8fa8bd" stroke-width="1.6" stroke-opacity="0.6"/>
<ellipse cx="277.9" cy="501.4" rx="2.0" ry="1.2" fill="#e2e6e8" fill-opacity="0.45"/>
<path d="M265.5,516.7 C264.2,516.4 262.9,514.1 262.3,512.3 C261.7,510.6 261.6,508.1 262.0,506.3 C262.5,504.6 263.9,503.2 265.0,502.0 C266.1,500.8 267.6,499.1 268.8,499.2 C269.9,499.3 271.1,501.2 271.8,502.7 C272.4,504.2 273.1,506.5 272.8,508.4 C272.6,510.3 271.4,512.7 270.1,514.1 C268.9,515.5 266.8,516.9 265.5,516.7Z" fill="#a8bdcd" fill-opacity="0.65" stroke="#8fa8bd" stroke-width="1.6" stroke-opacity="0.6"/>
<ellipse cx="265.2" cy="507.3" rx="2.5" ry="1.7" fill="#e2e6e8" fill-opacity="0.45"/>
<path d="M298.2,569.3 C296.8,569.2 295.7,568.6 294.6,567.6 C293.6,566.6 292.0,564.9 291.9,563.3 C291.8,561.8 292.8,559.4 293.9,558.1 C294.9,556.8 296.8,555.6 298.3,555.6 C299.8,555.6 301.9,556.7 302.9,558.0 C303.8,559.3 304.3,561.7 304.2,563.5 C304.2,565.2 303.6,567.7 302.6,568.7 C301.6,569.6 299.5,569.5 298.2,569.3Z" fill="#a8bdcd" fill-opacity="0.59" stroke="#8fa8bd" stroke-width="1.6" stroke-opacity="0.6"/>
<path d="M243.8,613.2 C243.1,612.4 243.0,610.6 243.4,609.3 C243.7,608.0 244.7,606.4 245.8,605.6 C246.8,604.7 248.4,604.2 249.8,604.1 C251.1,603.9 253.0,603.9 253.9,604.7 C254.7,605.5 255.1,607.3 254.9,608.8 C254.6,610.2 253.7,612.5 252.5,613.5 C251.3,614.4 249.1,614.4 247.6,614.3 C246.2,614.3 244.5,614.1 243.8,613.2Z" fill="#a8bdcd" fill-opacity="0.73" stroke="#8fa8bd" stroke-width="1.6" stroke-opacity="0.6"/>
<path d="M283.7,510.9 C283.3,509.4 283.0,507.8 283.6,506.4 C284.2,504.9 285.6,502.8 287.2,502.1 C288.7,501.5 291.4,502.0 292.8,502.7 C294.2,503.4 295.1,505.1 295.6,506.5 C296.1,507.9 296.5,509.8 295.9,511.2 C295.3,512.6 293.5,514.3 291.9,515.0 C290.2,515.7 287.3,516.1 286.0,515.4 C284.6,514.7 284.1,512.4 283.7,510.9Z" fill="#a8bdcd" fill-opacity="0.47" stroke="#8fa8bd" stroke-width="1.6" stroke-opacity="0.6"/>
<ellipse cx="290.3" cy="509.4" rx="2.2" ry="2.0" fill="#e2e6e8" fill-opacity="0.45"/>
<path d="M309.5,622.1 C308.0,621.5 306.4,619.8 305.8,618.0 C305.3,616.2 305.5,613.0 306.2,611.0 C306.9,609.1 308.6,607.4 310.1,606.2 C311.5,605.0 313.5,603.4 314.9,603.7 C316.3,603.9 317.7,606.1 318.2,607.9 C318.8,609.7 318.7,612.3 318.2,614.5 C317.6,616.7 316.5,620.0 315.0,621.3 C313.6,622.5 311.1,622.6 309.5,622.1Z" fill="#a8bdcd" fill-opacity="0.73" stroke="#8fa8bd" stroke-width="1.6" stroke-opacity="0.6"/>
<ellipse cx="313.7" cy="612.1" rx="2.7" ry="1.8" fill="#e2e6e8" fill-opacity="0.45"/>
<path d="M284.1,637.9 C283.8,639.5 283.8,642.0 282.5,642.7 C281.2,643.5 278.3,642.9 276.5,642.4 C274.7,641.9 272.9,641.1 271.8,639.9 C270.6,638.6 269.3,636.5 269.4,634.9 C269.6,633.4 271.2,631.2 272.8,630.4 C274.3,629.7 277.0,630.0 278.9,630.4 C280.7,630.8 283.1,631.8 284.0,633.0 C284.8,634.3 284.3,636.2 284.1,637.9Z" fill="#a8bdcd" fill-opacity="0.49" stroke="#8fa8bd" stroke-width="1.6" stroke-opacity="0.6"/>
<ellipse cx="277.9" cy="636.0" rx="2.4" ry="2.0" fill="#e2e6e8" fill-opacity="0.45"/>
<path d="M277.2,620.2 C276.8,621.6 276.0,623.1 274.7,623.9 C273.4,624.7 271.3,625.3 269.6,625.0 C267.9,624.8 265.3,623.6 264.5,622.3 C263.7,621.0 264.4,618.8 264.8,617.2 C265.2,615.6 265.6,613.7 267.0,612.6 C268.3,611.6 271.3,610.6 273.0,611.1 C274.7,611.5 276.6,613.9 277.3,615.4 C278.0,616.9 277.6,618.8 277.2,620.2Z" fill="#a8bdcd" fill-opacity="0.85" stroke="#8fa8bd" stroke-width="1.6" stroke-opacity="0.6"/>
<path d="M354.5,599.4 C354.3,600.5 353.4,601.7 352.1,602.3 C350.8,602.8 348.4,602.9 346.6,602.7 C344.9,602.5 342.8,601.9 341.5,601.1 C340.1,600.3 338.8,598.9 338.7,597.7 C338.5,596.5 339.0,594.5 340.5,593.9 C342.0,593.3 345.5,593.7 347.6,594.1 C349.6,594.5 351.7,595.2 352.9,596.1 C354.0,597.0 354.6,598.4 354.5,599.4Z" fill="#a8bdcd" fill-opacity="0.77" stroke="#8fa8bd" stroke-width="1.6" stroke-opacity="0.6"/>
<path d="M330.5,607.9 C330.1,606.8 330.4,605.4 331.1,604.2 C331.8,603.0 333.1,601.8 334.7,600.6 C336.3,599.5 339.0,597.4 340.5,597.2 C342.0,597.1 343.3,598.7 343.6,599.8 C343.9,600.9 343.3,602.6 342.5,603.8 C341.8,605.1 340.4,606.3 338.8,607.4 C337.2,608.6 334.4,610.6 333.0,610.7 C331.6,610.8 330.8,608.9 330.5,607.9Z" fill="#a8bdcd" fill-opacity="0.51" stroke="#8fa8bd" stroke-width="1.6" stroke-opacity="0.6"/>
<path d="M280.6,599.6 C280.5,601.3 280.0,603.5 278.5,604.8 C277.0,606.1 273.9,607.5 271.6,607.3 C269.3,607.1 265.9,605.3 264.7,603.7 C263.5,602.0 264.1,599.4 264.5,597.5 C264.9,595.7 265.4,593.4 266.9,592.4 C268.4,591.4 271.6,591.2 273.6,591.6 C275.6,592.0 277.8,593.3 278.9,594.7 C280.1,596.0 280.7,597.9 280.6,599.6Z" fill="#a8bdcd" fill-opacity="0.65" stroke="#8fa8bd" stroke-width="1.6" stroke-opacity="0.6"/>
<path d="M339.1,563.7 C338.9,564.5 337.6,565.2 336.5,565.2 C335.4,565.2 333.5,564.3 332.3,563.5 C331.1,562.8 329.8,561.6 329.3,560.7 C328.9,559.7 329.1,558.8 329.5,558.0 C329.8,557.2 330.1,555.8 331.2,555.7 C332.3,555.6 334.7,556.7 335.8,557.6 C337.0,558.4 337.7,559.7 338.2,560.7 C338.8,561.7 339.4,563.0 339.1,563.7Z" fill="#a8bdcd" fill-opacity="0.78" stroke="#8fa8bd" stroke-width="1.6" stroke-opacity="0.6"/>
<path d="M284.3,560.0 C283.2,560.7 280.9,560.5 279.5,559.8 C278.0,559.0 276.5,557.2 275.7,555.6 C274.9,553.9 274.2,551.4 274.5,550.0 C274.9,548.5 276.6,547.6 277.9,547.0 C279.1,546.4 280.9,545.9 282.1,546.6 C283.4,547.2 284.6,549.3 285.2,550.8 C285.9,552.3 286.2,554.0 286.1,555.5 C285.9,557.0 285.4,559.3 284.3,560.0Z" fill="#a8bdcd" fill-opacity="0.59" stroke="#8fa8bd" stroke-width="1.6" stroke-opacity="0.6"/>
<ellipse cx="282.1" cy="554.3" rx="2.1" ry="1.6" fill="#e2e6e8" fill-opacity="0.45"/>
<path d="M236.7,559.9 C235.4,559.6 233.8,557.9 233.2,556.5 C232.5,555.2 232.4,553.0 232.8,551.6 C233.3,550.1 234.5,548.7 235.7,547.9 C236.9,547.0 238.8,546.2 240.1,546.4 C241.4,546.7 243.0,548.2 243.5,549.5 C244.1,550.8 243.5,552.7 243.1,554.1 C242.7,555.6 242.3,557.2 241.2,558.2 C240.1,559.1 238.0,560.2 236.7,559.9Z" fill="#a8bdcd" fill-opacity="0.81" stroke="#8fa8bd" stroke-width="1.6" stroke-opacity="0.6"/>
<ellipse cx="238.5" cy="553.7" rx="1.8" ry="1.6" fill="#e2e6e8" fill-opacity="0.45"/>
<path d="M370.7,528.1 C370.0,528.8 368.2,528.6 367.0,528.3 C365.8,527.9 364.5,526.8 363.5,525.9 C362.5,525.0 361.3,523.7 360.9,522.7 C360.6,521.7 361.0,520.7 361.5,520.0 C362.0,519.3 362.9,518.5 364.0,518.6 C365.1,518.7 367.0,519.7 368.2,520.6 C369.3,521.6 370.5,523.3 370.9,524.6 C371.3,525.8 371.3,527.5 370.7,528.1Z" fill="#a8bdcd" fill-opacity="0.81" stroke="#8fa8bd" stroke-width="1.6" stroke-opacity="0.6"/>
<ellipse cx="365.4" cy="523.5" rx="1.8" ry="1.1" fill="#e2e6e8" fill-opacity="0.45"/>
<path d="M343.9,578.1 C343.5,577.1 343.4,576.1 343.7,575.0 C344.0,573.9 344.5,572.0 345.6,571.3 C346.6,570.6 348.6,570.6 350.0,570.8 C351.4,571.0 353.1,571.5 353.8,572.4 C354.5,573.4 354.8,575.5 354.2,576.7 C353.6,577.9 351.7,579.0 350.3,579.7 C349.0,580.4 347.1,581.2 346.0,580.9 C344.9,580.6 344.3,579.1 343.9,578.1Z" fill="#a8bdcd" fill-opacity="0.79" stroke="#8fa8bd" stroke-width="1.6" stroke-opacity="0.6"/>
<path d="M347.3,642.0 C345.3,642.2 342.8,641.4 341.2,640.1 C339.5,638.8 337.6,636.2 337.3,634.1 C337.1,631.9 338.3,628.8 339.6,627.3 C340.9,625.7 343.3,624.7 345.1,624.7 C346.8,624.7 348.4,626.1 350.0,627.3 C351.6,628.5 354.4,629.9 354.8,631.8 C355.3,633.7 353.9,636.9 352.7,638.6 C351.4,640.3 349.2,641.7 347.3,642.0Z" fill="#a8bdcd" fill-opacity="0.46" stroke="#8fa8bd" stroke-width="1.6" stroke-opacity="0.6"/>
<path d="M298.4,631.0 C297.7,631.5 295.5,630.2 294.3,629.3 C293.1,628.5 291.9,627.1 291.0,625.7 C290.1,624.3 288.8,622.0 288.8,620.8 C288.7,619.6 290.1,619.0 290.9,618.7 C291.8,618.3 292.8,618.0 293.9,618.5 C294.9,619.0 296.5,620.6 297.3,621.9 C298.1,623.2 298.2,624.8 298.4,626.3 C298.6,627.8 299.1,630.4 298.4,631.0Z" fill="#a8bdcd" fill-opacity="0.59" stroke="#8fa8bd" stroke-width="1.6" stroke-opacity="0.6"/>
<path d="M299.1,510.5 C298.8,509.5 299.6,508.1 300.3,507.0 C300.9,505.9 301.7,504.6 302.9,503.9 C304.1,503.3 306.2,503.0 307.4,503.3 C308.7,503.6 310.0,504.8 310.2,505.8 C310.5,506.8 309.7,508.4 309.0,509.3 C308.3,510.3 307.3,511.0 306.1,511.6 C304.9,512.3 302.9,513.4 301.7,513.2 C300.5,513.0 299.3,511.5 299.1,510.5Z" fill="#a8bdcd" fill-opacity="0.47" stroke="#8fa8bd" stroke-width="1.6" stroke-opacity="0.6"/>
<path d="M349.1,520.8 C348.1,520.8 346.8,519.6 346.0,518.3 C345.2,517.1 344.5,514.9 344.4,513.3 C344.4,511.7 345.2,509.8 346.0,508.5 C346.7,507.2 347.7,505.6 348.7,505.5 C349.7,505.3 351.2,506.5 352.0,507.8 C352.8,509.0 353.4,511.3 353.4,513.1 C353.5,514.8 352.9,517.1 352.2,518.4 C351.5,519.6 350.2,520.8 349.1,520.8Z" fill="#a8bdcd" fill-opacity="0.46" stroke="#8fa8bd" stroke-width="1.6" stroke-opacity="0.6"/>
<ellipse cx="348.3" cy="512.1" rx="2.0" ry="1.2" fill="#e2e6e8" fill-opacity="0.45"/>
<path d="M309.0,638.5 C308.9,639.7 307.4,641.0 306.3,641.9 C305.2,642.7 303.6,643.6 302.2,643.6 C300.9,643.5 299.0,642.6 298.2,641.7 C297.3,640.8 297.1,639.4 297.2,638.2 C297.2,637.1 297.6,635.7 298.5,634.9 C299.3,634.1 301.0,633.5 302.4,633.5 C303.8,633.4 306.0,633.6 307.1,634.4 C308.2,635.3 309.2,637.2 309.0,638.5Z" fill="#a8bdcd" fill-opacity="0.84" stroke="#8fa8bd" stroke-width="1.6" stroke-opacity="0.6"/>
<ellipse cx="302.5" cy="638.2" rx="1.8" ry="1.5" fill="#e2e6e8" fill-opacity="0.45"/>
<path d="M376.4,499.3 C375.6,500.0 374.4,500.8 373.2,500.7 C372.0,500.7 369.8,499.9 369.1,498.9 C368.4,497.9 368.7,495.9 368.9,494.7 C369.0,493.5 369.2,492.2 369.9,491.6 C370.6,491.0 372.1,490.9 373.1,491.1 C374.2,491.3 375.4,492.0 376.2,492.9 C377.0,493.7 378.0,495.2 378.0,496.3 C378.1,497.4 377.2,498.6 376.4,499.3Z" fill="#a8bdcd" fill-opacity="0.46" stroke="#8fa8bd" stroke-width="1.6" stroke-opacity="0.6"/>
<ellipse cx="374.8" cy="495.9" rx="1.7" ry="1.4" fill="#e2e6e8" fill-opacity="0.45"/>
<path d="M330.1,545.2 C329.1,545.7 327.6,546.3 326.4,545.6 C325.3,544.9 323.7,542.7 323.2,541.1 C322.7,539.5 323.1,537.6 323.5,536.0 C323.8,534.4 324.3,532.0 325.3,531.6 C326.3,531.2 328.3,532.6 329.5,533.6 C330.7,534.6 332.1,536.2 332.7,537.7 C333.2,539.2 333.2,541.6 332.8,542.8 C332.3,544.1 331.2,544.8 330.1,545.2Z" fill="#a8bdcd" fill-opacity="0.76" stroke="#8fa8bd" stroke-width="1.6" stroke-opacity="0.6"/>
<path d="M227.3,608.2 C226.8,607.6 226.3,606.5 226.5,605.5 C226.8,604.4 227.7,602.6 228.8,601.7 C229.8,600.8 231.7,600.2 232.9,600.1 C234.1,600.0 235.4,600.4 235.8,601.1 C236.3,601.8 236.0,603.2 235.6,604.3 C235.2,605.3 234.2,606.4 233.3,607.2 C232.4,608.0 231.0,608.7 230.0,608.9 C229.0,609.1 227.9,608.7 227.3,608.2Z" fill="#a8bdcd" fill-opacity="0.76" stroke="#8fa8bd" stroke-width="1.6" stroke-opacity="0.6"/>
<path d="M310.2,568.3 C308.9,567.7 308.2,565.3 307.8,563.5 C307.4,561.6 307.3,559.1 308.1,557.2 C308.9,555.3 311.0,552.9 312.7,552.0 C314.4,551.2 316.8,551.4 318.2,552.1 C319.6,552.9 320.8,554.9 321.1,556.7 C321.4,558.5 320.9,561.3 320.0,563.1 C319.0,564.8 317.2,566.5 315.5,567.3 C313.9,568.2 311.5,569.0 310.2,568.3Z" fill="#a8bdcd" fill-opacity="0.61" stroke="#8fa8bd" stroke-width="1.6" stroke-opacity="0.6"/>
<ellipse cx="312.3" cy="560.8" rx="2.4" ry="1.8" fill="#e2e6e8" fill-opacity="0.45"/>
<path d="M282.5,573.2 C282.3,572.4 283.7,571.0 284.7,570.2 C285.8,569.3 287.3,568.3 288.8,568.0 C290.2,567.7 292.3,567.9 293.4,568.3 C294.5,568.8 295.4,569.7 295.5,570.5 C295.5,571.4 294.6,572.3 293.7,573.2 C292.9,574.0 291.6,575.1 290.3,575.4 C289.0,575.7 287.2,575.4 285.9,575.0 C284.6,574.7 282.7,574.0 282.5,573.2Z" fill="#a8bdcd" fill-opacity="0.83" stroke="#8fa8bd" stroke-width="1.6" stroke-opacity="0.6"/>
<path d="M323.4,597.5 C322.0,597.8 319.9,596.9 318.7,596.0 C317.4,595.0 316.6,593.2 316.1,591.6 C315.7,590.0 315.5,587.8 316.2,586.4 C316.8,585.0 318.6,583.6 320.0,583.4 C321.3,583.1 323.2,584.2 324.3,585.2 C325.4,586.1 325.9,587.6 326.4,589.1 C326.8,590.5 327.6,592.6 327.1,594.0 C326.6,595.4 324.9,597.2 323.4,597.5Z" fill="#a8bdcd" fill-opacity="0.63" stroke="#8fa8bd" stroke-width="1.6" stroke-opacity="0.6"/>
<path d="M238.6,536.6 C237.9,535.8 236.8,534.7 237.2,533.6 C237.6,532.4 239.7,530.7 241.1,529.5 C242.5,528.3 244.4,526.6 245.6,526.4 C246.8,526.2 247.8,527.3 248.4,528.1 C249.0,528.8 249.4,529.9 249.1,531.2 C248.7,532.4 247.6,534.3 246.3,535.5 C245.0,536.7 242.7,538.0 241.4,538.2 C240.2,538.4 239.3,537.4 238.6,536.6Z" fill="#a8bdcd" fill-opacity="0.74" stroke="#8fa8bd" stroke-width="1.6" stroke-opacity="0.6"/>
<path d="M368.4,618.2 C367.8,619.3 365.9,619.8 364.5,620.0 C363.0,620.3 360.9,620.5 359.7,619.7 C358.5,619.0 358.1,617.2 357.4,615.6 C356.7,614.1 355.2,611.8 355.7,610.5 C356.2,609.2 358.8,608.0 360.5,607.8 C362.2,607.7 364.6,608.7 365.9,609.7 C367.2,610.7 367.8,612.5 368.2,613.9 C368.6,615.4 369.0,617.2 368.4,618.2Z" fill="#a8bdcd" fill-opacity="0.59" stroke="#8fa8bd" stroke-width="1.6" stroke-opacity="0.6"/>
<ellipse cx="363.9" cy="614.0" rx="2.1" ry="1.8" fill="#e2e6e8" fill-opacity="0.45"/>
<path d="M218.3,524.9 C218.2,524.0 219.5,522.7 220.4,521.7 C221.2,520.8 222.3,520.0 223.6,519.5 C224.9,519.0 227.2,518.6 228.2,518.9 C229.3,519.3 229.6,520.7 229.9,521.7 C230.1,522.7 230.5,524.0 229.8,524.9 C229.1,525.8 227.1,526.8 225.7,527.2 C224.3,527.6 222.4,527.6 221.2,527.2 C219.9,526.9 218.4,525.8 218.3,524.9Z" fill="#a8bdcd" fill-opacity="0.64" stroke="#8fa8bd" stroke-width="1.6" stroke-opacity="0.6"/>
<ellipse cx="224.1" cy="524.3" rx="1.8" ry="1.2" fill="#e2e6e8" fill-opacity="0.45"/>
<path d="M349.6,502.5 C348.7,502.8 347.3,501.5 346.3,500.8 C345.3,500.1 343.9,499.2 343.5,498.0 C343.0,496.9 343.4,495.2 343.7,494.0 C343.9,492.8 344.4,491.2 345.2,490.9 C346.0,490.5 347.7,490.9 348.6,491.7 C349.4,492.4 349.9,494.2 350.4,495.5 C350.8,496.7 351.4,498.2 351.2,499.3 C351.1,500.5 350.4,502.3 349.6,502.5Z" fill="#a8bdcd" fill-opacity="0.79" stroke="#8fa8bd" stroke-width="1.6" stroke-opacity="0.6"/>
<ellipse cx="347.2" cy="496.7" rx="1.7" ry="1.1" fill="#e2e6e8" fill-opacity="0.45"/>
<path d="M295.2,539.1 C294.5,538.3 294.9,536.2 295.5,535.0 C296.2,533.8 297.8,532.5 299.2,531.7 C300.6,531.0 302.5,530.4 303.7,530.5 C305.0,530.7 306.0,531.6 306.6,532.5 C307.2,533.5 308.0,534.9 307.5,536.1 C307.0,537.3 305.2,539.1 303.8,539.7 C302.5,540.4 300.9,539.9 299.4,539.8 C298.0,539.7 295.8,540.0 295.2,539.1Z" fill="#a8bdcd" fill-opacity="0.67" stroke="#8fa8bd" stroke-width="1.6" stroke-opacity="0.6"/>
<path d="M296.7,620.0 C295.6,620.5 293.8,620.4 292.7,619.9 C291.6,619.3 290.6,617.9 290.1,616.7 C289.6,615.6 289.6,614.1 289.8,613.0 C290.0,611.9 290.6,610.6 291.5,609.9 C292.5,609.3 294.1,608.6 295.4,609.0 C296.6,609.4 298.3,610.9 298.9,612.2 C299.6,613.5 299.5,615.6 299.1,616.9 C298.7,618.2 297.7,619.6 296.7,620.0Z" fill="#a8bdcd" fill-opacity="0.60" stroke="#8fa8bd" stroke-width="1.6" stroke-opacity="0.6"/>
<path d="M363.3,590.5 C362.4,590.7 361.1,590.1 360.5,589.0 C359.8,588.0 359.7,585.9 359.6,584.4 C359.5,583.0 359.5,581.3 359.9,580.1 C360.3,578.9 361.3,577.1 362.1,577.0 C362.9,577.0 364.1,578.7 364.7,579.8 C365.4,580.9 365.8,582.5 365.9,583.9 C366.0,585.3 365.8,586.9 365.3,588.0 C364.9,589.1 364.1,590.3 363.3,590.5Z" fill="#a8bdcd" fill-opacity="0.67" stroke="#8fa8bd" stroke-width="1.6" stroke-opacity="0.6"/>
<path d="M234.9,616.2 C234.5,617.1 233.6,618.1 232.4,618.3 C231.3,618.5 229.4,618.0 228.1,617.3 C226.9,616.6 225.3,615.1 224.9,613.9 C224.4,612.8 225.0,611.2 225.7,610.5 C226.4,609.8 227.8,609.6 228.9,609.6 C230.1,609.6 231.4,610.0 232.3,610.6 C233.3,611.2 234.3,612.3 234.7,613.2 C235.2,614.1 235.3,615.4 234.9,616.2Z" fill="#a8bdcd" fill-opacity="0.57" stroke="#8fa8bd" stroke-width="1.6" stroke-opacity="0.6"/>
<ellipse cx="229.4" cy="613.0" rx="1.7" ry="1.2" fill="#e2e6e8" fill-opacity="0.45"/>
<path d="M341.6,516.1 C340.8,517.3 339.7,519.1 338.4,519.3 C337.0,519.5 334.9,518.3 333.5,517.3 C332.2,516.3 330.8,514.9 330.3,513.5 C329.9,512.1 330.0,510.0 330.8,508.8 C331.6,507.6 333.5,506.3 334.9,506.3 C336.4,506.2 338.1,507.5 339.5,508.5 C340.9,509.4 342.8,510.7 343.1,511.9 C343.5,513.2 342.4,514.9 341.6,516.1Z" fill="#a8bdcd" fill-opacity="0.78" stroke="#8fa8bd" stroke-width="1.6" stroke-opacity="0.6"/>
<ellipse cx="335.6" cy="513.7" rx="2.0" ry="1.7" fill="#e2e6e8" fill-opacity="0.45"/>
<path d="M291.5,607.8 C290.5,607.5 289.4,605.9 289.2,604.5 C289.0,603.1 289.7,600.9 290.4,599.4 C291.1,597.9 292.3,596.1 293.4,595.6 C294.4,595.0 295.7,595.6 296.6,596.0 C297.6,596.4 298.9,596.9 299.3,598.1 C299.6,599.2 299.3,601.7 298.7,603.0 C298.0,604.4 296.5,605.4 295.3,606.2 C294.1,607.0 292.5,608.1 291.5,607.8Z" fill="#a8bdcd" fill-opacity="0.55" stroke="#8fa8bd" stroke-width="1.6" stroke-opacity="0.6"/>
<path d="M273.8,575.0 C273.6,575.9 271.4,576.5 270.0,576.7 C268.6,576.9 266.7,576.9 265.4,576.3 C264.0,575.8 263.1,574.6 262.1,573.5 C261.1,572.4 259.2,570.6 259.5,569.8 C259.9,569.0 262.5,569.1 264.0,568.8 C265.5,568.5 267.1,567.6 268.3,568.1 C269.5,568.5 270.3,570.3 271.2,571.4 C272.1,572.6 274.0,574.1 273.8,575.0Z" fill="#a8bdcd" fill-opacity="0.48" stroke="#8fa8bd" stroke-width="1.6" stroke-opacity="0.6"/>
<ellipse cx="266.7" cy="572.3" rx="2.0" ry="1.3" fill="#e2e6e8" fill-opacity="0.45"/>
<path d="M268.6,558.7 C267.7,558.5 266.5,558.5 266.1,557.6 C265.7,556.6 265.9,554.5 266.2,553.0 C266.4,551.6 267.0,550.0 267.7,549.1 C268.4,548.2 269.6,547.5 270.4,547.6 C271.3,547.7 272.2,548.5 272.7,549.6 C273.2,550.7 273.5,552.7 273.3,554.2 C273.0,555.7 272.2,557.9 271.4,558.7 C270.6,559.4 269.5,558.9 268.6,558.7Z" fill="#a8bdcd" fill-opacity="0.55" stroke="#8fa8bd" stroke-width="1.6" stroke-opacity="0.6"/>
<ellipse cx="270.3" cy="552.6" rx="1.7" ry="1.0" fill="#e2e6e8" fill-opacity="0.45"/>
<path d="M280.4,524.4 C280.2,523.4 280.3,522.1 281.2,521.2 C282.2,520.3 284.5,519.3 286.1,519.0 C287.8,518.7 289.7,519.1 291.2,519.5 C292.6,520.0 294.6,520.8 294.8,521.7 C295.0,522.7 293.5,524.1 292.4,525.1 C291.2,526.2 289.5,527.5 287.8,527.9 C286.1,528.3 283.2,528.0 282.0,527.4 C280.8,526.8 280.5,525.5 280.4,524.4Z" fill="#a8bdcd" fill-opacity="0.66" stroke="#8fa8bd" stroke-width="1.6" stroke-opacity="0.6"/>
<path d="M278.8,498.2 C278.4,497.1 279.8,495.1 280.7,493.6 C281.5,492.0 282.5,489.7 284.1,489.1 C285.6,488.4 288.1,489.2 289.9,489.7 C291.7,490.3 294.1,491.0 294.8,492.3 C295.5,493.7 295.1,496.5 294.0,497.8 C292.9,499.1 289.9,499.8 288.2,500.2 C286.4,500.6 284.9,500.6 283.4,500.3 C281.8,500.0 279.3,499.3 278.8,498.2Z" fill="#a8bdcd" fill-opacity="0.84" stroke="#8fa8bd" stroke-width="1.6" stroke-opacity="0.6"/>
<ellipse cx="287.2" cy="495.4" rx="2.3" ry="1.8" fill="#e2e6e8" fill-opacity="0.45"/>
<path d="M319.5,526.3 C318.6,527.3 317.8,528.4 316.5,528.5 C315.3,528.6 313.3,527.8 312.2,526.9 C311.1,526.1 310.3,524.4 310.0,523.2 C309.8,521.9 310.1,520.6 310.7,519.6 C311.3,518.6 312.6,517.4 313.8,517.4 C315.0,517.4 316.5,518.5 317.9,519.5 C319.3,520.4 321.9,521.7 322.1,522.9 C322.4,524.0 320.4,525.4 319.5,526.3Z" fill="#a8bdcd" fill-opacity="0.59" stroke="#8fa8bd" stroke-width="1.6" stroke-opacity="0.6"/>
<ellipse cx="314.7" cy="521.6" rx="2.0" ry="1.6" fill="#e2e6e8" fill-opacity="0.45"/>
<path d="M341.2,522.3 C340.9,521.5 341.1,519.9 341.9,519.1 C342.7,518.3 344.4,518.0 345.8,517.5 C347.2,517.1 349.2,516.1 350.4,516.4 C351.6,516.6 352.7,518.1 352.8,519.0 C352.9,520.0 351.8,521.2 351.0,522.2 C350.2,523.2 349.1,524.7 347.9,525.0 C346.8,525.3 345.1,524.5 343.9,524.1 C342.8,523.6 341.6,523.1 341.2,522.3Z" fill="#a8bdcd" fill-opacity="0.82" stroke="#8fa8bd" stroke-width="1.6" stroke-opacity="0.6"/>
<ellipse cx="346.0" cy="520.9" rx="1.7" ry="1.2" fill="#e2e6e8" fill-opacity="0.45"/>
<path d="M247.5,549.9 C246.4,550.1 244.8,549.6 243.9,548.8 C243.1,548.1 242.5,546.5 242.4,545.3 C242.2,544.0 242.2,542.4 242.9,541.3 C243.5,540.2 244.9,538.8 246.1,538.6 C247.3,538.4 249.1,539.2 250.0,540.1 C250.9,541.1 251.5,542.8 251.6,544.1 C251.7,545.4 251.1,546.8 250.4,547.8 C249.7,548.8 248.5,549.7 247.5,549.9Z" fill="#a8bdcd" fill-opacity="0.79" stroke="#8fa8bd" stroke-width="1.6" stroke-opacity="0.6"/>
<ellipse cx="247.7" cy="543.7" rx="1.7" ry="1.5" fill="#e2e6e8" fill-opacity="0.45"/>
<path d="M379.8,524.0 C379.6,524.8 377.9,525.5 376.6,525.5 C375.3,525.6 373.5,524.8 372.1,524.2 C370.8,523.6 369.3,522.9 368.6,522.1 C367.8,521.2 367.2,519.9 367.5,519.2 C367.8,518.5 369.4,518.2 370.5,518.1 C371.6,518.1 373.1,518.4 374.2,518.8 C375.4,519.3 376.6,520.0 377.5,520.9 C378.4,521.7 379.9,523.2 379.8,524.0Z" fill="#a8bdcd" fill-opacity="0.58" stroke="#8fa8bd" stroke-width="1.6" stroke-opacity="0.6"/>
<ellipse cx="371.5" cy="522.4" rx="1.8" ry="1.0" fill="#e2e6e8" fill-opacity="0.45"/>
<path d="M274.7,578.4 C273.6,577.5 271.6,576.7 271.7,575.3 C271.9,573.9 274.2,571.6 275.5,570.0 C276.9,568.5 278.3,566.5 279.9,565.9 C281.5,565.2 284.2,565.1 285.0,566.0 C285.9,566.9 285.1,569.6 284.9,571.4 C284.6,573.2 284.7,575.3 283.6,576.8 C282.5,578.3 279.9,580.2 278.4,580.4 C276.9,580.7 275.8,579.3 274.7,578.4Z" fill="#a8bdcd" fill-opacity="0.62" stroke="#8fa8bd" stroke-width="1.6" stroke-opacity="0.6"/>
<ellipse cx="281.1" cy="571.9" rx="2.4" ry="1.6" fill="#e2e6e8" fill-opacity="0.45"/>
<path d="M317.8,539.8 C317.0,539.6 315.9,538.7 315.6,537.6 C315.2,536.6 315.3,534.8 315.6,533.4 C315.8,532.1 316.3,530.3 317.0,529.3 C317.8,528.3 319.3,527.4 320.1,527.6 C321.0,527.9 321.6,529.5 322.1,530.7 C322.5,531.9 322.8,533.5 322.5,534.8 C322.3,536.1 321.4,537.7 320.6,538.5 C319.8,539.3 318.6,539.9 317.8,539.8Z" fill="#a8bdcd" fill-opacity="0.81" stroke="#8fa8bd" stroke-width="1.6" stroke-opacity="0.6"/>
<ellipse cx="320.3" cy="533.2" rx="1.7" ry="1.1" fill="#e2e6e8" fill-opacity="0.45"/>
<path d="M325.9,570.1 C324.9,570.2 323.6,569.5 322.7,568.7 C321.8,567.8 321.2,566.5 320.7,565.2 C320.3,563.8 319.8,561.7 320.1,560.6 C320.5,559.4 321.9,558.6 323.0,558.3 C324.1,558.0 325.8,558.1 326.6,558.9 C327.5,559.8 327.9,561.9 328.2,563.3 C328.5,564.8 328.8,566.5 328.4,567.6 C328.0,568.7 326.8,569.9 325.9,570.1Z" fill="#a8bdcd" fill-opacity="0.72" stroke="#8fa8bd" stroke-width="1.6" stroke-opacity="0.6"/>
<ellipse cx="323.3" cy="563.9" rx="1.8" ry="1.3" fill="#e2e6e8" fill-opacity="0.45"/>
<path d="M249.4,513.7 C249.5,512.6 250.5,511.6 251.6,510.6 C252.6,509.7 254.1,508.5 255.8,508.1 C257.4,507.7 260.3,507.8 261.5,508.3 C262.7,508.9 262.9,510.2 263.1,511.3 C263.3,512.4 263.8,513.9 262.9,514.8 C261.9,515.7 259.2,516.5 257.3,516.8 C255.3,517.2 252.4,517.5 251.1,516.9 C249.8,516.4 249.3,514.7 249.4,513.7Z" fill="#a8bdcd" fill-opacity="0.58" stroke="#8fa8bd" stroke-width="1.6" stroke-opacity="0.6"/>
<path d="M252.4,636.8 C252.1,638.0 249.9,639.0 248.6,639.8 C247.2,640.6 245.7,641.4 244.1,641.5 C242.4,641.5 240.0,641.0 238.7,640.1 C237.5,639.2 236.5,637.5 236.6,636.3 C236.7,635.1 238.2,633.8 239.5,633.0 C240.8,632.1 242.7,631.3 244.4,631.3 C246.2,631.3 248.6,631.9 250.0,632.8 C251.3,633.8 252.6,635.7 252.4,636.8Z" fill="#a8bdcd" fill-opacity="0.48" stroke="#8fa8bd" stroke-width="1.6" stroke-opacity="0.6"/>
<ellipse cx="243.7" cy="636.8" rx="2.1" ry="1.5" fill="#e2e6e8" fill-opacity="0.45"/>
<path d="M319.6,630.8 C318.9,630.4 317.9,629.1 318.3,628.0 C318.6,627.0 320.6,625.8 321.7,624.7 C322.9,623.7 324.3,621.9 325.2,621.7 C326.2,621.5 327.0,622.8 327.4,623.6 C327.9,624.3 328.2,625.1 328.1,626.1 C327.9,627.1 327.3,628.9 326.4,629.7 C325.5,630.5 323.9,630.7 322.7,630.8 C321.6,631.0 320.4,631.3 319.6,630.8Z" fill="#a8bdcd" fill-opacity="0.70" stroke="#8fa8bd" stroke-width="1.6" stroke-opacity="0.6"/>
<path d="M221.0,599.6 C220.2,598.5 219.5,596.2 220.2,594.9 C221.0,593.5 223.8,592.5 225.6,591.7 C227.4,590.9 229.6,589.9 231.0,590.1 C232.4,590.4 233.4,592.0 234.1,593.2 C234.8,594.5 235.7,596.3 235.0,597.6 C234.4,599.0 232.1,601.0 230.5,601.6 C228.8,602.3 226.8,601.8 225.2,601.5 C223.6,601.1 221.9,600.7 221.0,599.6Z" fill="#a8bdcd" fill-opacity="0.49" stroke="#8fa8bd" stroke-width="1.6" stroke-opacity="0.6"/>
<ellipse cx="227.2" cy="596.1" rx="2.3" ry="1.7" fill="#e2e6e8" fill-opacity="0.45"/>
<path d="M247.6,532.6 C246.8,532.2 246.1,531.1 246.0,529.9 C245.9,528.7 246.3,526.9 247.1,525.6 C247.8,524.3 249.2,522.8 250.3,522.3 C251.4,521.8 252.7,522.1 253.4,522.6 C254.2,523.2 254.7,524.3 254.7,525.5 C254.8,526.6 254.5,528.3 253.8,529.6 C253.1,530.8 251.7,532.2 250.7,532.7 C249.7,533.2 248.3,533.1 247.6,532.6Z" fill="#a8bdcd" fill-opacity="0.75" stroke="#8fa8bd" stroke-width="1.6" stroke-opacity="0.6"/>
<ellipse cx="250.4" cy="527.6" rx="1.8" ry="1.1" fill="#e2e6e8" fill-opacity="0.45"/>
<path d="M229.0,586.5 C228.4,587.0 227.3,587.3 226.3,587.1 C225.3,586.9 223.9,586.1 222.9,585.3 C221.8,584.4 220.2,582.9 219.8,581.9 C219.5,581.0 220.2,580.0 220.8,579.3 C221.3,578.6 222.1,577.7 223.2,577.8 C224.3,578.0 226.1,579.2 227.3,580.2 C228.4,581.2 229.9,582.8 230.1,583.9 C230.4,584.9 229.7,585.9 229.0,586.5Z" fill="#a8bdcd" fill-opacity="0.53" stroke="#8fa8bd" stroke-width="1.6" stroke-opacity="0.6"/>
<ellipse cx="224.3" cy="583.1" rx="1.7" ry="1.0" fill="#e2e6e8" fill-opacity="0.45"/>
<path d="M238.5,511.5 C238.1,512.4 237.1,513.5 235.9,513.7 C234.6,513.8 232.5,513.3 231.3,512.6 C230.1,511.8 229.1,510.2 228.7,509.0 C228.3,507.9 228.3,506.6 228.8,505.8 C229.3,505.1 230.5,504.6 231.6,504.4 C232.8,504.3 234.6,504.2 235.8,504.8 C236.9,505.4 237.9,507.1 238.3,508.2 C238.8,509.3 238.9,510.6 238.5,511.5Z" fill="#a8bdcd" fill-opacity="0.52" stroke="#8fa8bd" stroke-width="1.6" stroke-opacity="0.6"/>
<path d="M324.9,621.0 C324.7,621.8 323.7,622.6 322.7,623.0 C321.8,623.4 320.4,623.5 319.1,623.5 C317.8,623.5 315.7,623.4 315.0,622.8 C314.2,622.2 314.5,621.1 314.5,620.2 C314.5,619.3 314.1,617.9 314.9,617.3 C315.8,616.7 318.1,616.5 319.6,616.6 C321.1,616.8 323.1,617.4 324.0,618.1 C324.9,618.8 325.2,620.1 324.9,621.0Z" fill="#a8bdcd" fill-opacity="0.52" stroke="#8fa8bd" stroke-width="1.6" stroke-opacity="0.6"/>
<path d="M339.2,564.6 C339.1,563.1 339.0,561.7 339.8,560.4 C340.6,559.1 342.4,557.2 344.1,556.8 C345.7,556.5 348.6,557.3 349.8,558.3 C351.0,559.3 351.1,561.3 351.4,562.9 C351.6,564.5 352.2,566.6 351.3,567.9 C350.4,569.2 347.9,570.5 346.0,570.8 C344.1,571.1 341.1,570.6 340.0,569.6 C338.8,568.6 339.2,566.1 339.2,564.6Z" fill="#a8bdcd" fill-opacity="0.84" stroke="#8fa8bd" stroke-width="1.6" stroke-opacity="0.6"/>
</g>
<g filter="url(#soft)">
<path d="M274.6,507.0 C274.6,508.7 275.5,512.1 274.0,512.8 C272.4,513.5 267.6,512.1 265.3,511.2 C263.0,510.2 261.3,508.8 260.4,507.2 C259.4,505.6 258.2,502.9 259.3,501.6 C260.4,500.4 264.5,499.4 266.9,499.6 C269.2,499.7 272.3,501.4 273.6,502.6 C274.9,503.8 274.5,505.3 274.6,507.0Z" fill="#c65596" fill-opacity="0.50" stroke="#a82a6e" stroke-width="1.3" stroke-opacity="0.44"/>
<path d="M249.1,513.2 C247.4,513.9 244.3,515.2 243.1,514.2 C242.0,513.2 242.3,509.4 242.3,507.3 C242.2,505.3 241.8,503.2 242.6,502.0 C243.5,500.8 245.7,500.2 247.4,500.4 C249.2,500.5 252.2,501.3 253.2,502.9 C254.2,504.5 254.1,508.2 253.4,509.9 C252.8,511.6 250.8,512.5 249.1,513.2Z" fill="#c65596" fill-opacity="0.45" stroke="#a82a6e" stroke-width="1.3" stroke-opacity="0.40"/>
<path d="M227.7,508.8 C226.9,507.8 226.2,505.7 226.2,504.7 C226.2,503.7 226.7,503.1 227.4,502.7 C228.2,502.3 229.8,501.5 230.7,502.3 C231.6,503.0 232.2,505.7 232.9,507.3 C233.6,509.0 235.2,511.5 234.9,512.1 C234.5,512.6 232.2,511.1 231.0,510.5 C229.8,510.0 228.5,509.7 227.7,508.8Z" fill="#c2367f" fill-opacity="0.5"/>
<path d="M290.4,522.9 C291.0,524.7 290.0,527.2 288.3,529.6 C286.6,532.0 283.2,536.7 280.2,537.2 C277.2,537.7 271.9,535.0 270.0,532.9 C268.1,530.8 268.3,527.4 269.0,524.5 C269.8,521.6 271.7,516.4 274.4,515.5 C277.0,514.5 282.1,517.6 284.7,518.8 C287.4,520.1 289.8,521.1 290.4,522.9Z" fill="#c65596" fill-opacity="0.63" stroke="#a82a6e" stroke-width="1.3" stroke-opacity="0.56"/>
<path d="M269.5,525.3 C268.6,524.3 268.1,522.1 268.5,520.8 C268.9,519.4 270.6,517.9 271.9,517.2 C273.2,516.4 275.2,515.7 276.3,516.0 C277.3,516.4 278.0,518.2 278.2,519.3 C278.3,520.5 277.8,521.6 277.1,522.9 C276.4,524.2 275.3,526.5 274.0,527.0 C272.7,527.4 270.4,526.4 269.5,525.3Z" fill="#a02868" fill-opacity="0.45"/>
<path d="M296.4,523.2 C295.8,521.6 295.0,519.3 295.7,517.8 C296.4,516.2 298.7,514.2 300.6,513.8 C302.5,513.4 306.1,514.2 307.2,515.5 C308.3,516.9 307.7,520.0 307.4,521.9 C307.0,523.7 306.5,525.8 305.1,526.7 C303.8,527.7 300.9,528.3 299.5,527.7 C298.0,527.1 297.0,524.9 296.4,523.2Z" fill="#c65596" fill-opacity="0.54" stroke="#a82a6e" stroke-width="1.3" stroke-opacity="0.48"/>
<path d="M309.4,528.0 C309.0,526.8 308.4,524.4 309.3,523.3 C310.3,522.3 313.7,521.5 315.3,521.8 C316.8,522.1 317.9,524.1 318.7,525.4 C319.5,526.6 320.6,528.3 320.1,529.4 C319.6,530.5 317.2,531.8 315.8,532.1 C314.4,532.3 312.7,531.4 311.6,530.8 C310.6,530.1 309.8,529.2 309.4,528.0Z" fill="#c65596" fill-opacity="0.45" stroke="#a82a6e" stroke-width="1.3" stroke-opacity="0.40"/>
<path d="M326.7,519.0 C325.5,519.7 324.1,521.1 322.8,520.6 C321.4,520.1 319.1,517.6 318.9,516.2 C318.7,514.8 320.5,513.3 321.4,512.1 C322.3,511.0 322.9,509.8 324.2,509.5 C325.5,509.3 328.3,509.6 329.3,510.8 C330.3,512.0 330.6,515.3 330.2,516.6 C329.8,518.0 328.0,518.4 326.7,519.0Z" fill="#c65596" fill-opacity="0.41" stroke="#a82a6e" stroke-width="1.3" stroke-opacity="0.36"/>
<path d="M336.0,514.2 C335.6,513.1 334.7,512.0 335.2,510.9 C335.8,509.9 337.9,507.9 339.1,507.8 C340.4,507.8 341.5,509.6 342.5,510.5 C343.4,511.4 345.2,512.3 345.0,513.2 C344.8,514.1 342.7,515.2 341.4,515.9 C340.1,516.7 338.0,517.9 337.1,517.6 C336.2,517.3 336.3,515.3 336.0,514.2Z" fill="#c65596" fill-opacity="0.41" stroke="#a82a6e" stroke-width="1.3" stroke-opacity="0.36"/>
<path d="M366.0,509.4 C364.7,509.8 362.4,509.8 361.3,509.0 C360.3,508.2 359.8,506.2 359.6,504.7 C359.5,503.1 359.7,500.6 360.7,499.8 C361.7,499.0 364.4,499.3 365.6,499.7 C366.9,500.2 367.7,501.5 368.3,502.6 C368.8,503.7 369.3,505.3 369.0,506.4 C368.6,507.5 367.3,509.0 366.0,509.4Z" fill="#c65596" fill-opacity="0.45" stroke="#a82a6e" stroke-width="1.3" stroke-opacity="0.40"/>
<path d="M235.4,554.2 C233.7,553.7 231.0,551.6 230.9,549.8 C230.8,547.9 233.4,544.9 234.7,543.3 C236.0,541.7 237.0,540.9 238.9,540.2 C240.7,539.4 244.6,537.8 245.7,538.9 C246.8,540.1 246.3,545.0 245.5,547.3 C244.7,549.5 242.6,551.3 240.9,552.4 C239.2,553.6 237.0,554.6 235.4,554.2Z" fill="#c65596" fill-opacity="0.54" stroke="#a82a6e" stroke-width="1.3" stroke-opacity="0.48"/>
<path d="M248.5,558.5 C247.2,558.0 246.2,557.1 245.6,555.7 C245.0,554.2 244.4,551.4 245.0,549.8 C245.7,548.3 248.0,546.6 249.5,546.2 C250.9,545.8 253.0,546.4 253.9,547.5 C254.7,548.6 254.7,551.0 254.6,552.9 C254.5,554.8 254.2,558.0 253.1,559.0 C252.1,559.9 249.7,559.1 248.5,558.5Z" fill="#c65596" fill-opacity="0.50" stroke="#a82a6e" stroke-width="1.3" stroke-opacity="0.44"/>
<path d="M274.5,582.5 C273.3,583.7 270.1,584.5 268.2,583.8 C266.4,583.1 263.8,580.1 263.4,578.4 C262.9,576.6 264.7,574.6 265.6,573.1 C266.5,571.6 267.3,569.5 268.6,569.4 C269.8,569.2 271.9,571.1 273.1,572.4 C274.3,573.6 275.4,575.1 275.7,576.8 C275.9,578.5 275.7,581.4 274.5,582.5Z" fill="#c65596" fill-opacity="0.54" stroke="#a82a6e" stroke-width="1.3" stroke-opacity="0.48"/>
<path d="M308.2,575.7 C307.1,575.1 306.3,574.3 305.5,572.9 C304.8,571.4 303.0,568.1 303.8,567.0 C304.5,565.9 307.8,566.3 309.8,566.3 C311.9,566.2 315.1,565.7 315.9,566.7 C316.6,567.8 314.8,570.9 314.2,572.5 C313.6,574.1 313.3,575.7 312.4,576.2 C311.4,576.8 309.4,576.3 308.2,575.7Z" fill="#c65596" fill-opacity="0.50" stroke="#a82a6e" stroke-width="1.3" stroke-opacity="0.44"/>
<path d="M343.4,566.5 C342.6,567.5 340.0,567.6 338.5,567.6 C337.1,567.5 336.1,567.0 334.6,566.1 C333.2,565.3 330.4,563.9 330.1,562.6 C329.8,561.2 331.6,558.9 332.9,558.2 C334.3,557.5 336.7,558.0 338.4,558.5 C340.0,559.1 342.2,560.1 343.0,561.4 C343.9,562.7 344.1,565.5 343.4,566.5Z" fill="#c65596" fill-opacity="0.41" stroke="#a82a6e" stroke-width="1.3" stroke-opacity="0.36"/>
<path d="M318.0,589.3 C317.8,587.7 318.4,585.1 319.6,584.3 C320.8,583.5 323.5,584.3 325.3,584.5 C327.1,584.6 329.9,584.5 330.5,585.3 C331.1,586.2 329.2,588.1 328.7,589.6 C328.1,591.1 328.4,593.5 327.1,594.3 C325.7,595.0 322.0,594.9 320.5,594.1 C319.0,593.2 318.1,590.9 318.0,589.3Z" fill="#c65596" fill-opacity="0.50" stroke="#a82a6e" stroke-width="1.3" stroke-opacity="0.44"/>
<path d="M363.9,582.6 C362.8,581.9 362.5,579.7 362.1,578.1 C361.7,576.5 360.6,573.9 361.5,573.0 C362.3,572.0 365.2,572.0 367.0,572.3 C368.9,572.7 371.7,573.5 372.8,574.9 C373.9,576.3 374.6,579.6 373.9,580.8 C373.2,582.0 370.3,581.9 368.6,582.2 C367.0,582.5 365.0,583.3 363.9,582.6Z" fill="#c65596" fill-opacity="0.41" stroke="#a82a6e" stroke-width="1.3" stroke-opacity="0.36"/>
<path d="M367.6,612.9 C365.9,613.5 362.5,614.9 361.5,614.4 C360.5,613.9 361.5,611.2 361.7,609.8 C362.0,608.4 361.8,606.5 362.9,605.9 C364.0,605.2 366.5,605.5 368.3,605.7 C370.0,605.8 373.0,605.8 373.6,606.7 C374.2,607.6 372.8,610.0 371.8,611.0 C370.8,612.0 369.3,612.4 367.6,612.9Z" fill="#c65596" fill-opacity="0.45" stroke="#a82a6e" stroke-width="1.3" stroke-opacity="0.40"/>
<path d="M236.5,607.1 C236.1,608.0 234.6,608.6 233.4,609.1 C232.1,609.5 230.0,610.4 229.1,609.8 C228.2,609.2 228.3,607.0 228.1,605.5 C228.0,604.0 227.5,601.5 228.3,600.8 C229.1,600.2 231.7,601.2 232.9,601.7 C234.2,602.1 235.2,602.5 235.8,603.4 C236.4,604.3 236.9,606.1 236.5,607.1Z" fill="#c65596" fill-opacity="0.45" stroke="#a82a6e" stroke-width="1.3" stroke-opacity="0.40"/>
<path d="M326.2,605.1 C325.1,605.6 322.6,604.8 321.8,603.8 C321.0,602.8 321.6,600.4 321.6,598.9 C321.6,597.4 321.3,595.9 321.9,595.0 C322.5,594.1 324.3,593.2 325.4,593.6 C326.5,593.9 327.8,595.7 328.3,597.0 C328.7,598.2 328.6,599.8 328.3,601.1 C327.9,602.5 327.3,604.7 326.2,605.1Z" fill="#c65596" fill-opacity="0.32" stroke="#a82a6e" stroke-width="1.3" stroke-opacity="0.28"/>
<path d="M289.1,583.7 C289.1,583.3 288.8,582.7 289.0,582.5 C289.2,582.3 289.9,582.5 290.4,582.5 C290.9,582.4 291.7,582.2 292.0,582.4 C292.3,582.7 292.4,583.5 292.2,584.0 C292.1,584.4 291.5,585.0 291.0,585.1 C290.6,585.2 289.8,585.0 289.5,584.7 C289.2,584.5 289.2,584.1 289.1,583.7Z" fill="#94745a" fill-opacity="0.46"/>
<path d="M294.5,587.5 C294.2,587.8 293.4,587.8 293.0,587.6 C292.5,587.4 291.9,586.8 291.6,586.3 C291.4,585.8 291.4,585.2 291.5,584.7 C291.7,584.2 292.1,583.3 292.5,583.3 C292.9,583.2 293.6,584.1 294.0,584.6 C294.4,585.0 294.8,585.5 294.9,585.9 C295.0,586.4 294.9,587.2 294.5,587.5Z" fill="#94745a" fill-opacity="0.51"/>
<path d="M289.4,583.8 C289.2,584.0 288.6,584.1 288.1,584.0 C287.6,583.8 286.9,583.4 286.6,582.9 C286.3,582.5 286.3,581.8 286.3,581.4 C286.4,580.9 286.5,580.0 286.9,580.0 C287.3,579.9 288.3,580.5 288.7,580.9 C289.2,581.4 289.4,582.0 289.5,582.5 C289.6,583.0 289.6,583.6 289.4,583.8Z" fill="#94745a" fill-opacity="0.5"/>
<path d="M287.4,584.7 C287.3,584.4 287.5,583.6 288.0,583.4 C288.4,583.2 289.5,583.4 290.1,583.6 C290.7,583.7 291.2,583.9 291.5,584.2 C291.7,584.4 291.8,584.9 291.6,585.2 C291.4,585.6 290.8,586.0 290.2,586.1 C289.7,586.2 289.0,585.9 288.5,585.7 C288.0,585.4 287.4,585.1 287.4,584.7Z" fill="#94745a" fill-opacity="0.44"/>
<path d="M293.9,579.7 C293.8,579.2 293.6,578.7 294.0,578.3 C294.4,577.9 295.3,577.3 296.0,577.2 C296.8,577.1 298.0,577.2 298.5,577.6 C298.9,577.9 299.0,578.9 298.7,579.4 C298.5,579.9 297.5,580.3 296.8,580.6 C296.1,580.9 295.0,581.3 294.5,581.2 C294.0,581.0 294.0,580.2 293.9,579.7Z" fill="#94745a" fill-opacity="0.47"/>
<path d="M287.6,584.0 C287.3,583.8 287.4,583.5 287.3,583.1 C287.2,582.7 286.9,582.0 287.1,581.7 C287.3,581.3 288.0,581.2 288.4,581.1 C288.7,581.1 289.2,581.2 289.4,581.5 C289.5,581.8 289.4,582.3 289.3,582.8 C289.2,583.3 289.0,584.3 288.7,584.5 C288.4,584.7 287.8,584.3 287.6,584.0Z" fill="#94745a" fill-opacity="0.32"/>
<path d="M297.6,582.2 C297.4,581.6 297.1,580.9 297.3,580.6 C297.5,580.2 298.3,580.1 298.8,580.1 C299.3,580.1 299.9,580.0 300.2,580.4 C300.6,580.7 300.8,581.3 300.9,581.9 C300.9,582.5 300.8,583.5 300.4,583.9 C299.9,584.3 298.7,584.5 298.3,584.2 C297.8,583.9 297.7,582.8 297.6,582.2Z" fill="#94745a" fill-opacity="0.42"/>
<path d="M298.8,582.4 C298.4,582.8 297.9,583.1 297.5,583.1 C297.1,583.1 296.4,582.9 296.3,582.6 C296.1,582.3 296.5,581.7 296.7,581.2 C296.9,580.7 297.2,580.1 297.5,579.9 C297.9,579.7 298.6,579.8 299.0,580.0 C299.4,580.2 299.8,580.7 299.8,581.1 C299.8,581.5 299.2,582.1 298.8,582.4Z" fill="#94745a" fill-opacity="0.3"/>
<path d="M293.9,579.7 C293.4,579.5 292.9,578.8 292.8,578.3 C292.7,577.8 293.2,577.1 293.5,576.5 C293.9,576.0 294.4,575.0 294.8,574.9 C295.2,574.8 295.9,575.6 296.2,576.0 C296.5,576.5 296.7,577.1 296.6,577.7 C296.5,578.3 296.2,579.3 295.7,579.6 C295.3,579.9 294.4,579.9 293.9,579.7Z" fill="#94745a" fill-opacity="0.44"/>
<path d="M293.5,583.9 C293.1,583.7 292.5,583.1 292.4,582.6 C292.3,582.1 292.4,581.2 292.7,580.9 C293.1,580.5 293.9,580.5 294.4,580.6 C294.9,580.6 295.3,580.9 295.7,581.2 C296.0,581.6 296.6,582.3 296.6,582.7 C296.5,583.2 295.8,583.9 295.3,584.1 C294.8,584.3 294.0,584.2 293.5,583.9Z" fill="#94745a" fill-opacity="0.28"/>
<path d="M291.7,584.7 C291.5,584.7 291.0,584.2 290.7,583.9 C290.4,583.5 290.0,583.1 289.9,582.8 C289.9,582.5 290.2,582.1 290.4,581.9 C290.6,581.6 290.8,581.2 291.1,581.3 C291.4,581.3 292.0,581.6 292.2,582.0 C292.4,582.3 292.4,583.1 292.3,583.5 C292.3,584.0 292.0,584.6 291.7,584.7Z" fill="#94745a" fill-opacity="0.35"/>
<path d="M288.4,582.7 C288.2,582.4 287.7,582.2 287.9,581.8 C288.0,581.4 288.8,580.6 289.3,580.3 C289.8,580.0 290.5,579.8 290.9,579.9 C291.3,579.9 291.9,580.2 291.8,580.6 C291.8,581.0 291.1,581.6 290.7,582.1 C290.3,582.6 289.6,583.3 289.2,583.4 C288.8,583.5 288.6,583.0 288.4,582.7Z" fill="#94745a" fill-opacity="0.32"/>
<path d="M291.7,586.8 C291.5,586.4 291.5,586.1 291.6,585.7 C291.8,585.3 292.1,584.8 292.6,584.5 C293.0,584.2 293.8,583.9 294.3,584.0 C294.8,584.1 295.6,584.5 295.6,584.9 C295.6,585.4 294.9,586.3 294.4,586.8 C293.9,587.3 292.9,588.0 292.5,588.0 C292.0,588.0 291.8,587.2 291.7,586.8Z" fill="#94745a" fill-opacity="0.44"/>
<path d="M296.9,583.5 C296.4,583.8 295.5,583.9 294.9,583.5 C294.4,583.1 293.7,581.9 293.7,581.2 C293.6,580.6 294.2,580.0 294.5,579.7 C294.9,579.3 295.3,578.8 295.7,578.8 C296.1,578.9 296.6,579.5 297.0,580.0 C297.4,580.5 298.1,581.4 298.1,582.0 C298.1,582.6 297.4,583.3 296.9,583.5Z" fill="#94745a" fill-opacity="0.46"/>
<path d="M288.5,580.6 C288.2,580.3 287.8,580.1 287.7,579.7 C287.7,579.4 287.9,578.7 288.2,578.4 C288.6,578.1 289.2,577.9 289.6,577.9 C290.0,578.0 290.6,578.3 290.8,578.7 C290.9,579.1 290.9,579.8 290.7,580.2 C290.5,580.7 289.9,581.2 289.5,581.3 C289.2,581.4 288.8,580.8 288.5,580.6Z" fill="#94745a" fill-opacity="0.31"/>
<path d="M294.1,585.9 C293.7,585.8 293.0,585.3 292.8,584.9 C292.7,584.5 293.0,583.9 293.2,583.5 C293.4,583.2 293.7,582.9 294.1,582.7 C294.5,582.5 295.4,582.3 295.7,582.6 C296.1,582.8 296.1,583.7 296.1,584.1 C296.0,584.5 295.8,584.9 295.5,585.2 C295.2,585.5 294.6,585.9 294.1,585.9Z" fill="#94745a" fill-opacity="0.46"/>
<path d="M296.3,578.3 C295.8,578.5 294.9,578.4 294.5,578.2 C294.2,578.0 294.1,577.6 294.0,577.2 C293.9,576.8 293.6,576.2 293.9,575.9 C294.1,575.5 295.0,575.0 295.5,574.9 C296.1,574.8 296.9,575.0 297.2,575.3 C297.5,575.6 297.5,576.3 297.4,576.8 C297.2,577.3 296.8,578.1 296.3,578.3Z" fill="#94745a" fill-opacity="0.31"/>
<path d="M298.7,583.8 C298.6,584.1 298.6,584.5 298.1,584.6 C297.7,584.8 296.7,585.0 296.1,584.8 C295.6,584.6 294.8,583.9 294.7,583.5 C294.6,583.1 294.9,582.6 295.3,582.4 C295.7,582.2 296.4,582.3 297.0,582.3 C297.5,582.4 298.6,582.4 298.8,582.7 C299.1,582.9 298.8,583.4 298.7,583.8Z" fill="#94745a" fill-opacity="0.32"/>
<path d="M286.8,586.4 C286.5,586.2 286.3,585.9 286.2,585.5 C286.1,585.1 285.8,584.4 286.0,583.9 C286.3,583.5 287.1,582.9 287.6,582.9 C288.1,582.9 288.8,583.4 289.0,583.8 C289.2,584.3 289.0,585.1 288.8,585.5 C288.6,586.0 288.2,586.3 287.8,586.5 C287.5,586.6 287.1,586.5 286.8,586.4Z" fill="#94745a" fill-opacity="0.36"/>
<path d="M301.6,586.3 C301.4,586.8 300.9,587.7 300.3,587.7 C299.7,587.7 298.8,586.9 298.2,586.3 C297.7,585.8 296.9,585.1 296.9,584.7 C297.0,584.2 297.8,583.9 298.3,583.7 C298.8,583.5 299.3,583.5 299.8,583.6 C300.4,583.8 301.3,584.1 301.5,584.6 C301.8,585.0 301.8,585.8 301.6,586.3Z" fill="#94745a" fill-opacity="0.37"/>
<path d="M289.5,585.1 C289.1,585.2 288.2,585.4 287.9,585.1 C287.5,584.8 287.5,583.8 287.5,583.2 C287.5,582.7 287.6,582.1 287.9,581.8 C288.2,581.5 288.7,581.2 289.2,581.2 C289.7,581.3 290.6,581.7 290.8,582.1 C291.0,582.6 290.8,583.6 290.6,584.0 C290.4,584.5 290.0,584.9 289.5,585.1Z" fill="#94745a" fill-opacity="0.34"/>
<path d="M299.9,579.3 C299.8,579.8 298.8,580.3 298.3,580.3 C297.7,580.4 297.2,580.2 296.9,579.9 C296.6,579.5 296.4,578.9 296.4,578.5 C296.5,578.1 297.0,577.7 297.3,577.4 C297.7,577.0 298.2,576.3 298.6,576.4 C298.9,576.4 299.0,577.2 299.2,577.7 C299.4,578.2 300.1,578.9 299.9,579.3Z" fill="#94745a" fill-opacity="0.44"/>
<path d="M291.2,586.9 C291.0,586.7 291.4,585.9 291.6,585.4 C291.9,584.9 292.3,584.1 292.8,583.8 C293.2,583.6 293.9,583.7 294.3,583.8 C294.7,583.9 295.1,584.1 295.1,584.5 C295.2,584.8 294.9,585.7 294.5,586.0 C294.1,586.4 293.3,586.5 292.8,586.7 C292.2,586.8 291.4,587.1 291.2,586.9Z" fill="#94745a" fill-opacity="0.38"/>
<path d="M297.4,583.4 C296.9,583.5 295.9,583.4 295.4,583.0 C294.9,582.7 294.3,581.7 294.4,581.1 C294.5,580.6 295.5,580.2 296.1,579.8 C296.6,579.5 297.4,579.0 297.8,579.1 C298.2,579.3 298.4,580.2 298.6,580.7 C298.8,581.2 299.1,581.8 298.9,582.3 C298.7,582.7 298.0,583.2 297.4,583.4Z" fill="#94745a" fill-opacity="0.49"/>
<path d="M295.0,580.0 C294.6,580.0 294.0,579.9 293.7,579.5 C293.4,579.0 293.3,578.0 293.3,577.4 C293.3,576.9 293.5,576.4 293.8,576.0 C294.1,575.6 294.5,575.0 294.9,575.2 C295.2,575.4 295.6,576.3 295.8,577.0 C296.1,577.6 296.4,578.8 296.3,579.3 C296.1,579.8 295.4,579.9 295.0,580.0Z" fill="#94745a" fill-opacity="0.49"/>
<path d="M285.2,585.2 C285.1,584.9 285.9,584.2 286.4,583.9 C286.8,583.6 287.4,583.2 287.8,583.2 C288.3,583.2 288.9,583.4 289.2,583.7 C289.5,584.0 289.6,584.4 289.5,584.8 C289.4,585.1 288.8,585.5 288.4,585.7 C287.9,585.9 287.4,585.9 286.8,585.8 C286.3,585.7 285.2,585.5 285.2,585.2Z" fill="#94745a" fill-opacity="0.44"/>
<path d="M351.3,580.7 C351.2,581.1 350.3,581.7 349.7,581.8 C349.1,581.9 348.4,581.6 347.8,581.3 C347.2,581.1 346.2,580.8 346.0,580.5 C345.8,580.1 346.4,579.4 346.8,579.0 C347.1,578.7 347.8,578.4 348.3,578.4 C348.9,578.4 349.8,578.6 350.3,579.0 C350.7,579.4 351.4,580.2 351.3,580.7Z" fill="#94745a" fill-opacity="0.41"/>
<path d="M355.7,582.5 C355.4,582.2 354.7,581.5 354.8,581.1 C354.9,580.6 356.0,580.0 356.5,579.9 C357.0,579.8 357.5,580.1 357.9,580.3 C358.4,580.5 359.0,580.7 359.1,581.2 C359.3,581.6 359.1,582.6 358.7,583.0 C358.4,583.4 357.3,583.5 356.8,583.4 C356.3,583.3 356.1,582.9 355.7,582.5Z" fill="#94745a" fill-opacity="0.59"/>
<path d="M355.3,590.6 C354.9,590.3 354.1,590.0 354.0,589.6 C353.9,589.2 354.3,588.4 354.6,588.2 C355.0,588.0 355.7,588.3 356.1,588.4 C356.5,588.6 357.0,588.7 357.2,589.0 C357.4,589.3 357.3,589.7 357.3,590.1 C357.2,590.6 357.1,591.5 356.7,591.6 C356.4,591.7 355.8,590.9 355.3,590.6Z" fill="#94745a" fill-opacity="0.5"/>
<path d="M353.2,579.6 C352.8,579.4 352.5,578.7 352.3,578.3 C352.2,577.8 352.1,577.5 352.2,577.1 C352.4,576.7 352.7,575.7 353.1,575.7 C353.5,575.7 354.2,576.6 354.6,576.9 C355.0,577.3 355.3,577.5 355.3,577.9 C355.4,578.3 355.4,579.0 355.1,579.3 C354.7,579.6 353.7,579.8 353.2,579.6Z" fill="#94745a" fill-opacity="0.4"/>
<path d="M352.1,587.8 C351.7,587.8 351.3,587.5 351.1,587.1 C350.8,586.6 350.6,585.7 350.7,585.1 C350.8,584.6 351.3,584.2 351.6,584.0 C352.0,583.8 352.4,583.6 352.7,583.8 C352.9,584.0 352.9,584.8 353.0,585.4 C353.1,585.9 353.4,586.9 353.2,587.3 C353.1,587.7 352.4,587.8 352.1,587.8Z" fill="#94745a" fill-opacity="0.39"/>
<path d="M350.1,579.5 C349.9,579.0 349.8,578.4 349.9,578.1 C350.0,577.8 350.5,577.6 350.9,577.5 C351.3,577.5 352.0,577.4 352.2,577.6 C352.5,577.9 352.5,578.7 352.5,579.2 C352.5,579.7 352.6,580.5 352.3,580.7 C352.1,581.0 351.3,580.9 350.9,580.7 C350.5,580.5 350.3,579.9 350.1,579.5Z" fill="#94745a" fill-opacity="0.43"/>
<path d="M357.2,590.6 C357.1,591.0 356.9,591.3 356.5,591.5 C356.0,591.6 355.0,591.8 354.6,591.6 C354.2,591.3 354.1,590.6 354.0,590.1 C353.9,589.7 353.8,589.1 354.1,588.9 C354.4,588.6 355.2,588.5 355.7,588.5 C356.3,588.6 357.2,589.0 357.5,589.3 C357.7,589.7 357.4,590.3 357.2,590.6Z" fill="#94745a" fill-opacity="0.46"/>
<path d="M347.0,580.7 C346.9,580.3 347.7,579.4 348.2,579.0 C348.8,578.5 349.8,577.9 350.4,578.0 C350.9,578.1 351.1,579.2 351.4,579.7 C351.7,580.3 352.3,580.7 352.2,581.2 C352.1,581.7 351.2,582.6 350.7,582.7 C350.1,582.8 349.6,582.0 349.0,581.7 C348.4,581.3 347.1,581.2 347.0,580.7Z" fill="#94745a" fill-opacity="0.36"/>
<path d="M354.4,584.9 C354.2,584.4 354.3,583.4 354.6,583.1 C355.0,582.8 355.9,583.0 356.4,583.1 C356.9,583.2 357.2,583.4 357.5,583.8 C357.8,584.1 358.3,584.8 358.2,585.2 C358.1,585.5 357.3,585.7 356.8,585.9 C356.4,586.1 355.8,586.4 355.4,586.2 C355.0,586.1 354.5,585.4 354.4,584.9Z" fill="#94745a" fill-opacity="0.59"/>
<path d="M351.2,587.8 C350.8,588.0 350.3,588.1 349.7,588.0 C349.2,588.0 348.0,587.7 347.8,587.3 C347.7,586.9 348.5,586.0 348.9,585.6 C349.3,585.1 349.7,584.9 350.1,584.8 C350.6,584.7 351.4,584.7 351.7,585.0 C352.0,585.3 352.1,586.1 352.1,586.6 C352.0,587.0 351.6,587.5 351.2,587.8Z" fill="#94745a" fill-opacity="0.48"/>
<path d="M352.1,593.0 C351.5,593.1 350.5,592.6 350.2,592.0 C349.9,591.3 350.0,590.0 350.2,589.3 C350.5,588.6 351.2,588.2 351.7,588.0 C352.2,587.8 352.8,587.9 353.2,588.2 C353.6,588.5 354.2,589.1 354.2,589.7 C354.3,590.3 353.9,591.1 353.5,591.6 C353.2,592.2 352.6,593.0 352.1,593.0Z" fill="#94745a" fill-opacity="0.42"/>
<path d="M355.9,590.0 C355.6,590.0 354.9,589.8 354.7,589.4 C354.5,589.1 354.6,588.3 354.8,587.8 C355.0,587.4 355.4,587.1 355.9,586.9 C356.3,586.8 356.9,586.6 357.2,586.9 C357.6,587.1 357.9,587.9 357.9,588.4 C357.8,588.8 357.3,589.2 356.9,589.5 C356.6,589.8 356.3,590.0 355.9,590.0Z" fill="#94745a" fill-opacity="0.43"/>
<path d="M355.4,580.6 C355.1,580.1 355.2,579.0 355.4,578.4 C355.7,577.8 356.4,577.0 356.9,577.0 C357.4,577.0 357.8,578.0 358.3,578.5 C358.9,578.9 359.9,579.3 360.0,579.8 C360.0,580.3 359.3,581.2 358.9,581.5 C358.4,581.7 357.8,581.4 357.2,581.2 C356.6,581.1 355.7,581.1 355.4,580.6Z" fill="#94745a" fill-opacity="0.35"/>
<path d="M352.2,589.8 C351.8,589.4 351.8,588.5 351.8,587.8 C351.9,587.1 352.1,586.1 352.6,585.8 C353.1,585.4 354.2,585.6 354.7,585.8 C355.3,586.1 355.8,586.7 356.1,587.3 C356.3,587.8 356.4,588.7 356.1,589.3 C355.9,589.9 355.0,590.6 354.3,590.7 C353.7,590.7 352.6,590.3 352.2,589.8Z" fill="#94745a" fill-opacity="0.41"/>
<path d="M355.4,579.4 C355.0,578.8 354.8,577.9 355.0,577.5 C355.2,577.0 356.0,576.7 356.5,576.6 C357.0,576.5 357.6,576.7 358.0,576.9 C358.3,577.2 358.5,577.7 358.6,578.2 C358.7,578.7 358.7,579.3 358.4,579.7 C358.1,580.1 357.4,580.7 356.9,580.7 C356.3,580.6 355.7,579.9 355.4,579.4Z" fill="#94745a" fill-opacity="0.57"/>
<path d="M350.2,586.2 C349.9,586.0 349.9,585.3 349.8,584.9 C349.8,584.5 349.9,584.2 350.2,583.8 C350.4,583.5 350.9,582.9 351.2,582.9 C351.5,582.9 351.8,583.6 352.0,584.0 C352.3,584.4 352.9,584.8 352.8,585.2 C352.8,585.6 352.2,586.1 351.7,586.3 C351.3,586.5 350.6,586.5 350.2,586.2Z" fill="#94745a" fill-opacity="0.44"/>
<path d="M359.2,586.7 C359.0,587.0 358.0,587.1 357.5,586.8 C357.1,586.6 356.6,585.7 356.4,585.1 C356.2,584.5 356.0,583.6 356.2,583.3 C356.5,583.0 357.2,583.2 357.7,583.2 C358.2,583.2 359.1,582.9 359.3,583.2 C359.6,583.5 359.2,584.4 359.2,585.0 C359.2,585.6 359.5,586.4 359.2,586.7Z" fill="#94745a" fill-opacity="0.52"/>
<path d="M348.4,584.4 C347.9,584.1 347.3,583.4 347.3,582.8 C347.3,582.3 347.9,581.6 348.2,581.1 C348.6,580.6 349.1,579.9 349.5,579.9 C349.9,579.8 350.4,580.5 350.7,580.9 C350.9,581.3 351.0,581.8 350.9,582.4 C350.9,582.9 350.6,583.8 350.2,584.2 C349.8,584.5 348.8,584.6 348.4,584.4Z" fill="#94745a" fill-opacity="0.42"/>
<path d="M355.7,589.5 C355.5,589.2 355.1,588.8 355.2,588.5 C355.3,588.2 355.9,587.8 356.3,587.7 C356.7,587.5 357.2,587.6 357.5,587.8 C357.8,587.9 358.0,588.3 358.0,588.7 C358.0,589.0 357.9,589.6 357.7,589.8 C357.4,590.1 356.8,590.3 356.4,590.3 C356.1,590.2 355.9,589.8 355.7,589.5Z" fill="#94745a" fill-opacity="0.4"/>
<path d="M356.6,591.1 C356.4,591.6 355.7,592.1 355.3,592.2 C354.8,592.3 354.1,592.0 353.7,591.7 C353.4,591.4 353.2,590.9 353.1,590.4 C353.1,589.9 353.2,589.1 353.6,588.8 C353.9,588.5 354.7,588.5 355.1,588.6 C355.6,588.7 356.1,589.0 356.4,589.4 C356.6,589.9 356.8,590.7 356.6,591.1Z" fill="#94745a" fill-opacity="0.51"/>
<path d="M348.9,588.6 C348.5,588.7 347.9,589.1 347.6,589.0 C347.2,588.8 346.8,588.0 346.8,587.5 C346.7,587.0 347.1,586.4 347.4,586.1 C347.7,585.8 348.3,585.6 348.7,585.7 C349.0,585.8 349.2,586.4 349.4,586.8 C349.6,587.2 350.1,587.8 350.0,588.1 C349.9,588.4 349.3,588.4 348.9,588.6Z" fill="#94745a" fill-opacity="0.38"/>
<path d="M349.3,589.0 C349.1,588.7 348.9,588.0 349.0,587.7 C349.2,587.4 349.6,587.2 350.0,587.0 C350.4,586.9 350.9,586.6 351.3,586.7 C351.7,586.9 352.5,587.5 352.6,588.0 C352.7,588.4 352.4,589.3 352.0,589.7 C351.6,590.0 350.9,590.0 350.4,589.9 C350.0,589.8 349.5,589.4 349.3,589.0Z" fill="#94745a" fill-opacity="0.51"/>
<path d="M348.9,579.4 C348.8,579.1 349.2,578.5 349.4,578.1 C349.7,577.8 349.9,577.4 350.3,577.4 C350.7,577.3 351.5,577.4 351.8,577.8 C352.0,578.2 352.1,579.2 352.0,579.6 C351.9,580.1 351.3,580.3 351.0,580.5 C350.6,580.6 350.3,580.6 349.9,580.4 C349.6,580.3 348.9,579.8 348.9,579.4Z" fill="#94745a" fill-opacity="0.52"/>
<path d="M354.4,583.2 C354.0,582.9 353.8,582.3 353.7,581.9 C353.6,581.5 353.8,581.0 354.0,580.8 C354.3,580.6 354.7,580.6 355.2,580.7 C355.7,580.7 356.6,580.7 357.0,581.1 C357.3,581.4 357.4,582.3 357.3,582.8 C357.2,583.2 356.6,583.7 356.1,583.8 C355.7,583.9 354.8,583.5 354.4,583.2Z" fill="#94745a" fill-opacity="0.49"/>
<path d="M356.2,591.3 C355.9,591.0 355.8,590.6 355.8,590.1 C355.8,589.6 355.8,588.7 356.1,588.3 C356.5,587.9 357.5,587.7 358.1,587.8 C358.6,587.9 359.4,588.2 359.6,588.7 C359.8,589.3 359.6,590.4 359.2,590.9 C358.9,591.4 358.0,591.8 357.5,591.9 C357.0,592.0 356.5,591.6 356.2,591.3Z" fill="#94745a" fill-opacity="0.53"/>
<path d="M350.2,583.4 C349.9,583.3 350.0,582.4 349.8,582.0 C349.7,581.5 349.4,581.1 349.5,580.8 C349.7,580.5 350.4,580.2 350.8,580.2 C351.2,580.2 351.7,580.4 352.0,580.7 C352.3,581.0 352.6,581.6 352.6,582.0 C352.5,582.3 352.0,582.7 351.6,582.9 C351.2,583.2 350.5,583.6 350.2,583.4Z" fill="#94745a" fill-opacity="0.49"/>
<path d="M346.6,613.3 C346.4,613.8 345.8,614.5 345.4,614.6 C344.9,614.7 344.4,614.3 344.0,613.9 C343.6,613.6 343.1,613.2 343.1,612.7 C343.1,612.2 343.5,611.4 343.9,611.1 C344.3,610.8 344.9,610.8 345.4,610.9 C345.9,611.0 346.5,611.2 346.7,611.6 C346.9,612.0 346.8,612.8 346.6,613.3Z" fill="#94745a" fill-opacity="0.52"/>
<path d="M344.3,610.1 C343.9,610.3 343.2,610.5 342.8,610.3 C342.3,610.1 341.8,609.5 341.7,609.1 C341.7,608.7 342.0,608.1 342.3,607.8 C342.6,607.4 343.0,607.3 343.4,607.2 C343.9,607.1 344.7,607.0 345.0,607.3 C345.3,607.6 345.1,608.4 345.0,608.9 C344.9,609.3 344.7,609.9 344.3,610.1Z" fill="#94745a" fill-opacity="0.29"/>
<path d="M344.7,607.5 C344.2,607.6 343.5,607.2 343.2,606.8 C343.0,606.4 342.9,605.8 343.1,605.3 C343.2,604.7 343.5,603.7 343.9,603.5 C344.3,603.4 345.1,604.3 345.5,604.6 C345.9,604.9 346.3,605.2 346.3,605.6 C346.4,605.9 346.1,606.4 345.8,606.7 C345.6,607.1 345.1,607.5 344.7,607.5Z" fill="#94745a" fill-opacity="0.49"/>
<path d="M353.0,614.2 C352.8,614.6 352.0,614.9 351.3,615.0 C350.6,615.1 349.4,615.3 349.0,614.9 C348.5,614.6 348.7,613.4 348.8,612.8 C348.8,612.2 348.9,611.8 349.3,611.4 C349.7,611.0 350.6,610.3 351.2,610.4 C351.8,610.6 352.5,611.6 352.8,612.3 C353.1,612.9 353.3,613.7 353.0,614.2Z" fill="#94745a" fill-opacity="0.47"/>
<path d="M340.7,614.1 C340.3,614.3 339.5,614.6 339.1,614.4 C338.7,614.2 338.3,613.5 338.2,613.1 C338.2,612.7 338.7,612.2 339.0,611.8 C339.3,611.5 339.8,611.0 340.2,610.9 C340.7,610.9 341.6,611.2 341.8,611.5 C342.0,611.9 341.6,612.6 341.5,613.0 C341.3,613.4 341.1,613.9 340.7,614.1Z" fill="#94745a" fill-opacity="0.34"/>
<path d="M349.8,618.7 C349.3,618.9 348.2,618.4 347.7,618.0 C347.2,617.6 347.0,616.9 346.8,616.3 C346.7,615.8 346.5,615.2 346.7,614.6 C346.9,614.1 347.5,613.3 348.0,613.3 C348.4,613.4 349.1,614.3 349.5,614.8 C349.9,615.4 350.5,616.0 350.5,616.6 C350.5,617.3 350.2,618.4 349.8,618.7Z" fill="#94745a" fill-opacity="0.34"/>
<path d="M349.2,613.7 C349.0,614.1 348.7,614.7 348.3,614.8 C348.0,614.9 347.6,614.4 347.2,614.2 C346.9,614.0 346.3,613.7 346.2,613.4 C346.2,613.1 346.6,612.6 346.9,612.3 C347.2,612.0 347.6,611.7 348.0,611.7 C348.3,611.7 349.0,611.9 349.2,612.3 C349.4,612.6 349.3,613.2 349.2,613.7Z" fill="#94745a" fill-opacity="0.42"/>
<path d="M343.2,613.8 C343.2,614.4 343.0,615.0 342.6,615.4 C342.2,615.8 341.3,616.4 340.9,616.2 C340.4,616.1 340.0,615.1 339.8,614.5 C339.6,613.9 339.3,613.1 339.6,612.5 C339.8,612.0 340.5,611.4 341.1,611.3 C341.7,611.1 342.6,611.4 342.9,611.8 C343.3,612.2 343.3,613.2 343.2,613.8Z" fill="#94745a" fill-opacity="0.27"/>
<path d="M346.2,605.3 C345.7,605.2 345.2,605.1 345.0,604.7 C344.7,604.4 344.8,603.7 344.9,603.3 C345.1,602.9 345.4,602.5 345.8,602.3 C346.1,602.1 346.8,601.8 347.2,602.0 C347.6,602.1 348.3,602.8 348.4,603.3 C348.5,603.8 348.2,604.9 347.9,605.2 C347.5,605.6 346.7,605.4 346.2,605.3Z" fill="#94745a" fill-opacity="0.27"/>
<path d="M345.6,607.2 C345.4,606.8 345.3,606.4 345.4,606.0 C345.5,605.7 345.9,605.3 346.2,605.1 C346.6,604.9 347.2,604.4 347.6,604.5 C347.9,604.6 348.2,605.2 348.3,605.7 C348.5,606.2 348.7,606.9 348.4,607.3 C348.2,607.7 347.3,608.3 346.8,608.3 C346.3,608.2 345.9,607.6 345.6,607.2Z" fill="#94745a" fill-opacity="0.5"/>
<path d="M345.6,617.1 C345.3,617.3 344.9,617.4 344.4,617.2 C343.9,616.9 343.0,616.1 342.7,615.5 C342.4,614.8 342.2,613.6 342.4,613.1 C342.5,612.6 343.2,612.4 343.7,612.6 C344.2,612.7 345.0,613.3 345.5,613.8 C345.9,614.4 346.4,615.5 346.5,616.1 C346.5,616.6 346.0,616.9 345.6,617.1Z" fill="#94745a" fill-opacity="0.43"/>
<path d="M349.2,614.9 C349.1,615.3 348.3,615.6 347.9,615.7 C347.4,615.9 347.1,616.0 346.7,615.9 C346.3,615.8 345.8,615.6 345.6,615.2 C345.4,614.9 345.4,614.3 345.6,613.9 C345.8,613.5 346.3,612.8 346.8,612.7 C347.3,612.6 348.2,612.9 348.6,613.3 C349.0,613.6 349.4,614.5 349.2,614.9Z" fill="#94745a" fill-opacity="0.27"/>
<path d="M347.7,618.0 C347.5,618.2 346.6,617.9 346.1,617.8 C345.7,617.7 345.2,617.9 344.9,617.6 C344.6,617.3 344.1,616.5 344.3,616.2 C344.4,615.9 345.1,615.8 345.6,615.6 C346.0,615.4 346.5,615.1 346.8,615.2 C347.1,615.4 347.3,616.0 347.4,616.5 C347.6,616.9 347.9,617.8 347.7,618.0Z" fill="#94745a" fill-opacity="0.52"/>
<path d="M343.2,617.0 C342.9,616.9 342.3,617.1 342.1,616.8 C342.0,616.5 342.1,615.4 342.3,615.0 C342.4,614.5 342.9,614.0 343.2,613.9 C343.5,613.8 343.8,614.1 344.0,614.3 C344.2,614.6 344.3,615.0 344.4,615.4 C344.4,615.8 344.3,616.6 344.1,616.8 C343.9,617.1 343.5,617.0 343.2,617.0Z" fill="#94745a" fill-opacity="0.43"/>
<path d="M335.8,611.6 C335.5,611.7 335.0,611.3 334.6,611.0 C334.3,610.6 333.7,609.9 333.6,609.3 C333.4,608.8 333.5,608.1 333.7,607.7 C333.8,607.3 334.2,606.7 334.5,606.8 C334.9,606.9 335.5,607.9 335.8,608.5 C336.0,609.0 336.0,609.7 336.0,610.2 C336.0,610.7 336.0,611.4 335.8,611.6Z" fill="#94745a" fill-opacity="0.42"/>
<path d="M343.4,612.7 C343.2,613.0 343.1,613.4 342.7,613.4 C342.3,613.4 341.2,613.1 340.8,612.8 C340.3,612.4 339.9,611.9 339.8,611.5 C339.7,611.1 339.6,610.5 340.0,610.3 C340.3,610.2 341.3,610.1 341.9,610.3 C342.5,610.6 343.3,611.3 343.6,611.7 C343.9,612.1 343.5,612.4 343.4,612.7Z" fill="#94745a" fill-opacity="0.39"/>
<path d="M343.8,617.5 C343.3,617.3 343.2,616.4 343.0,615.9 C342.9,615.4 342.6,615.0 342.7,614.7 C342.9,614.5 343.5,614.3 343.9,614.2 C344.4,614.1 345.1,614.0 345.6,614.3 C346.1,614.5 346.7,615.3 346.7,615.7 C346.7,616.2 346.2,616.7 345.7,617.0 C345.2,617.3 344.2,617.7 343.8,617.5Z" fill="#94745a" fill-opacity="0.38"/>
<path d="M344.9,617.3 C344.5,616.8 343.8,616.2 343.8,615.7 C343.8,615.2 344.4,614.7 344.9,614.5 C345.4,614.3 346.2,614.1 346.6,614.4 C347.0,614.7 347.2,615.6 347.3,616.1 C347.4,616.5 347.4,616.9 347.3,617.3 C347.1,617.7 346.7,618.3 346.3,618.3 C345.9,618.3 345.3,617.7 344.9,617.3Z" fill="#94745a" fill-opacity="0.33"/>
<path d="M348.0,607.7 C347.6,608.1 346.9,608.2 346.2,608.2 C345.6,608.1 344.5,608.0 344.1,607.5 C343.8,607.1 343.9,606.0 344.1,605.5 C344.3,604.9 344.6,604.4 345.1,604.2 C345.5,604.0 346.2,604.3 346.8,604.5 C347.4,604.8 348.3,605.2 348.5,605.8 C348.7,606.3 348.4,607.3 348.0,607.7Z" fill="#94745a" fill-opacity="0.39"/>
<path d="M349.3,605.9 C349.0,606.4 348.8,607.2 348.3,607.4 C347.9,607.5 346.9,607.1 346.6,606.7 C346.3,606.3 346.5,605.4 346.7,605.0 C346.9,604.5 347.2,604.2 347.5,604.0 C347.9,603.8 348.5,603.6 348.8,603.7 C349.1,603.8 349.5,604.4 349.6,604.8 C349.6,605.1 349.5,605.5 349.3,605.9Z" fill="#94745a" fill-opacity="0.44"/>
<path d="M338.1,613.9 C337.8,614.0 337.2,613.6 336.9,613.3 C336.6,613.0 336.4,612.5 336.4,612.2 C336.4,611.8 336.8,611.4 337.2,611.2 C337.5,610.9 338.1,610.6 338.4,610.7 C338.7,610.8 339.1,611.4 339.2,611.8 C339.3,612.2 339.2,612.6 339.0,613.0 C338.8,613.3 338.5,613.8 338.1,613.9Z" fill="#94745a" fill-opacity="0.46"/>
<path d="M342.1,614.8 C341.8,614.9 341.3,614.7 340.9,614.3 C340.6,613.9 340.0,612.8 339.9,612.2 C339.9,611.6 340.4,611.1 340.7,610.7 C341.0,610.4 341.3,610.1 341.6,610.2 C341.9,610.4 342.2,611.3 342.4,611.9 C342.7,612.5 343.1,613.4 343.1,613.9 C343.0,614.4 342.5,614.7 342.1,614.8Z" fill="#94745a" fill-opacity="0.27"/>
<path d="M346.1,611.7 C345.9,611.5 345.9,610.9 346.0,610.5 C346.1,610.2 346.4,609.9 346.7,609.8 C347.0,609.6 347.5,609.4 347.8,609.5 C348.0,609.7 348.3,610.1 348.4,610.5 C348.5,610.9 348.8,611.6 348.6,611.9 C348.5,612.2 347.7,612.2 347.3,612.2 C346.8,612.2 346.3,612.0 346.1,611.7Z" fill="#94745a" fill-opacity="0.33"/>
<path d="M345.2,608.2 C345.1,607.8 345.6,607.1 346.0,606.8 C346.4,606.5 347.1,606.5 347.7,606.4 C348.2,606.4 349.2,606.1 349.5,606.4 C349.8,606.6 349.6,607.3 349.4,607.7 C349.3,608.2 349.1,609.0 348.7,609.3 C348.2,609.5 347.1,609.4 346.5,609.2 C346.0,609.0 345.3,608.6 345.2,608.2Z" fill="#94745a" fill-opacity="0.45"/>
<path d="M346.8,613.9 C346.5,613.6 346.5,613.1 346.5,612.8 C346.5,612.4 346.6,612.1 346.8,611.8 C347.0,611.5 347.4,611.1 347.8,611.1 C348.1,611.1 348.5,611.6 348.7,611.9 C348.8,612.2 348.7,612.5 348.6,612.9 C348.5,613.3 348.5,614.2 348.2,614.3 C347.9,614.5 347.1,614.2 346.8,613.9Z" fill="#94745a" fill-opacity="0.33"/>
<path d="M335.5,613.4 C335.1,613.5 334.3,613.5 334.0,613.2 C333.7,612.9 333.5,612.2 333.6,611.7 C333.6,611.3 334.1,610.9 334.4,610.7 C334.7,610.5 335.2,610.5 335.5,610.6 C335.9,610.6 336.2,611.0 336.4,611.3 C336.5,611.6 336.5,612.1 336.4,612.4 C336.2,612.8 335.9,613.2 335.5,613.4Z" fill="#94745a" fill-opacity="0.42"/>
<path d="M347.7,605.7 C347.7,606.0 347.4,606.5 347.1,606.6 C346.8,606.7 346.2,606.7 345.7,606.5 C345.2,606.3 344.4,605.9 344.3,605.5 C344.2,605.2 344.9,604.8 345.3,604.4 C345.6,604.1 346.0,603.4 346.4,603.4 C346.8,603.5 347.4,604.2 347.6,604.6 C347.8,605.0 347.8,605.3 347.7,605.7Z" fill="#94745a" fill-opacity="0.36"/>
<path d="M337.4,607.9 C337.3,608.2 336.9,608.6 336.6,608.8 C336.3,608.9 335.9,609.0 335.6,608.9 C335.2,608.8 334.6,608.6 334.5,608.4 C334.4,608.1 334.7,607.5 334.8,607.2 C335.0,607.0 335.3,606.8 335.7,606.7 C336.1,606.6 336.7,606.4 337.0,606.6 C337.3,606.8 337.5,607.5 337.4,607.9Z" fill="#94745a" fill-opacity="0.32"/>
<path d="M336.4,605.8 C336.3,605.5 336.6,604.9 336.8,604.5 C337.0,604.2 337.2,603.8 337.5,603.6 C337.8,603.5 338.4,603.4 338.7,603.5 C338.9,603.7 339.1,604.1 339.1,604.4 C339.1,604.7 339.0,605.1 338.7,605.4 C338.5,605.6 338.1,605.9 337.7,606.0 C337.3,606.1 336.6,606.0 336.4,605.8Z" fill="#94745a" fill-opacity="0.29"/>
<path d="M339.1,613.0 C338.9,613.4 338.3,613.6 337.7,613.7 C337.0,613.8 335.8,614.0 335.3,613.7 C334.8,613.4 334.5,612.4 334.5,611.9 C334.5,611.5 335.0,611.3 335.3,611.1 C335.7,610.8 336.1,610.3 336.7,610.4 C337.3,610.5 338.4,611.0 338.8,611.5 C339.2,611.9 339.3,612.7 339.1,613.0Z" fill="#94745a" fill-opacity="0.37"/>
<path d="M346.7,605.5 C346.6,605.2 347.2,604.5 347.7,604.1 C348.1,603.8 348.7,603.4 349.2,603.2 C349.8,603.1 350.4,603.2 350.8,603.4 C351.3,603.6 351.9,604.0 351.8,604.4 C351.7,604.8 350.8,605.5 350.2,605.8 C349.6,606.1 348.8,606.2 348.2,606.1 C347.6,606.1 346.7,605.8 346.7,605.5Z" fill="#94745a" fill-opacity="0.45"/>
<path d="M343.7,606.7 C343.4,606.4 343.4,605.4 343.6,604.9 C343.7,604.5 344.2,604.2 344.6,604.1 C344.9,604.0 345.5,604.0 345.9,604.3 C346.3,604.5 346.8,605.0 346.9,605.5 C347.1,605.9 346.9,606.6 346.7,606.9 C346.4,607.2 345.9,607.3 345.4,607.2 C344.9,607.2 344.0,607.1 343.7,606.7Z" fill="#94745a" fill-opacity="0.32"/>
<path d="M344.8,612.1 C344.8,612.6 344.2,613.1 343.6,613.4 C343.1,613.6 342.2,613.7 341.5,613.5 C340.8,613.4 339.7,613.0 339.4,612.5 C339.1,611.9 339.2,610.9 339.7,610.5 C340.1,610.1 341.3,610.1 342.0,610.1 C342.7,610.1 343.4,610.4 343.8,610.7 C344.3,611.0 344.9,611.7 344.8,612.1Z" fill="#94745a" fill-opacity="0.33"/>
<path d="M337.2,612.4 C336.9,612.1 336.6,611.6 336.5,611.2 C336.4,610.8 336.4,610.1 336.6,609.9 C336.9,609.7 337.6,610.0 338.1,610.1 C338.6,610.3 339.2,610.5 339.5,610.9 C339.8,611.3 340.1,612.2 339.9,612.5 C339.8,612.8 339.0,612.8 338.6,612.8 C338.1,612.8 337.6,612.7 337.2,612.4Z" fill="#94745a" fill-opacity="0.28"/>
<path d="M339.5,614.1 C339.5,614.6 339.1,614.9 338.7,615.3 C338.4,615.6 337.8,616.3 337.5,616.2 C337.1,616.1 336.9,615.2 336.7,614.7 C336.6,614.3 336.6,613.9 336.7,613.4 C336.8,613.0 337.0,612.1 337.5,611.9 C337.9,611.7 338.9,611.8 339.3,612.2 C339.6,612.5 339.6,613.6 339.5,614.1Z" fill="#94745a" fill-opacity="0.5"/>
<path d="M341.0,606.2 C340.7,605.9 340.3,605.7 340.3,605.3 C340.3,604.8 340.6,604.0 341.0,603.5 C341.3,602.9 342.0,602.0 342.4,601.9 C342.8,601.8 343.1,602.5 343.4,602.9 C343.6,603.4 344.0,604.1 343.8,604.7 C343.6,605.3 342.7,606.3 342.3,606.5 C341.8,606.8 341.4,606.4 341.0,606.2Z" fill="#94745a" fill-opacity="0.52"/>
<path d="M340.6,606.3 C340.4,606.6 340.0,606.8 339.4,606.9 C338.9,607.1 337.9,607.4 337.5,607.3 C337.0,607.1 337.0,606.4 336.7,606.0 C336.5,605.6 335.9,605.0 336.1,604.8 C336.3,604.6 337.4,604.7 338.1,604.8 C338.9,604.8 340.1,604.8 340.5,605.0 C340.9,605.3 340.8,606.0 340.6,606.3Z" fill="#94745a" fill-opacity="0.34"/>
<path d="M345.7,608.1 C345.5,608.6 345.5,609.3 345.0,609.4 C344.6,609.4 343.6,608.8 343.1,608.4 C342.6,608.1 342.4,607.7 342.2,607.2 C341.9,606.8 341.5,605.9 341.8,605.6 C342.2,605.3 343.4,605.1 344.1,605.3 C344.9,605.5 346.0,606.2 346.3,606.7 C346.6,607.2 345.9,607.7 345.7,608.1Z" fill="#94745a" fill-opacity="0.39"/>
<path d="M344.8,610.3 C344.6,609.8 344.7,609.2 344.8,608.7 C344.9,608.3 345.1,607.5 345.4,607.4 C345.8,607.3 346.3,608.0 346.8,608.3 C347.2,608.6 347.9,608.9 348.0,609.4 C348.2,609.8 347.9,610.7 347.6,611.0 C347.3,611.3 346.6,611.6 346.2,611.5 C345.7,611.3 345.0,610.7 344.8,610.3Z" fill="#94745a" fill-opacity="0.43"/>
<path d="M282.5,617.9 C282.1,618.0 281.0,617.5 280.6,617.0 C280.1,616.6 279.7,615.8 279.6,615.2 C279.5,614.6 279.7,614.1 280.0,613.6 C280.3,613.2 280.6,612.5 281.2,612.5 C281.7,612.5 282.7,613.0 283.0,613.5 C283.4,614.1 283.5,615.2 283.4,615.9 C283.3,616.6 283.0,617.7 282.5,617.9Z" fill="#94745a" fill-opacity="0.44"/>
<path d="M288.5,619.5 C288.4,619.9 288.3,621.0 287.9,621.2 C287.5,621.4 286.5,621.1 286.2,620.7 C285.9,620.4 286.1,619.7 286.1,619.1 C286.1,618.6 285.9,617.8 286.2,617.4 C286.4,617.1 287.4,616.8 287.8,616.9 C288.2,617.0 288.4,617.9 288.5,618.3 C288.6,618.7 288.6,619.0 288.5,619.5Z" fill="#94745a" fill-opacity="0.56"/>
<path d="M287.8,619.9 C287.6,620.3 286.7,620.4 286.0,620.4 C285.3,620.4 284.1,620.2 283.6,619.8 C283.1,619.4 283.0,618.6 283.0,618.1 C283.0,617.7 283.2,617.5 283.6,617.2 C284.0,617.0 284.6,616.6 285.2,616.7 C285.8,616.9 286.7,617.6 287.2,618.1 C287.6,618.6 288.0,619.5 287.8,619.9Z" fill="#94745a" fill-opacity="0.52"/>
<path d="M282.9,613.5 C282.4,613.6 281.8,613.4 281.3,613.1 C280.8,612.7 280.1,612.1 279.9,611.4 C279.6,610.7 279.6,609.2 279.9,608.8 C280.3,608.5 281.3,609.2 281.9,609.4 C282.5,609.6 283.2,609.4 283.6,609.9 C284.1,610.4 284.7,611.8 284.6,612.4 C284.4,613.0 283.5,613.4 282.9,613.5Z" fill="#94745a" fill-opacity="0.31"/>
<path d="M284.2,612.5 C283.9,612.7 283.7,612.8 283.3,612.7 C282.9,612.7 282.2,612.6 281.8,612.2 C281.5,611.9 281.2,610.9 281.3,610.6 C281.4,610.3 282.2,610.4 282.6,610.4 C283.0,610.4 283.3,610.3 283.7,610.5 C284.1,610.7 284.8,611.3 284.9,611.6 C285.0,611.9 284.5,612.3 284.2,612.5Z" fill="#94745a" fill-opacity="0.36"/>
<path d="M275.4,619.5 C275.1,619.8 274.5,619.8 273.9,619.6 C273.3,619.3 272.1,618.4 271.8,617.8 C271.5,617.3 271.9,616.7 272.0,616.1 C272.1,615.6 272.0,614.7 272.4,614.7 C272.7,614.7 273.6,615.7 274.1,616.2 C274.7,616.7 275.3,617.3 275.5,617.9 C275.7,618.4 275.7,619.2 275.4,619.5Z" fill="#94745a" fill-opacity="0.36"/>
<path d="M286.1,624.7 C285.8,625.0 285.4,625.4 285.0,625.2 C284.6,625.1 284.2,624.5 283.7,624.0 C283.3,623.5 282.6,622.9 282.5,622.5 C282.5,622.0 282.9,621.3 283.3,621.2 C283.7,621.2 284.6,621.8 285.2,622.2 C285.8,622.6 286.6,623.2 286.8,623.7 C286.9,624.1 286.4,624.5 286.1,624.7Z" fill="#94745a" fill-opacity="0.39"/>
<path d="M286.0,613.8 C285.9,614.4 285.7,615.4 285.3,615.8 C284.9,616.1 284.1,615.9 283.7,615.7 C283.3,615.4 283.0,614.7 282.9,614.1 C282.8,613.6 283.0,613.0 283.3,612.5 C283.5,612.0 283.9,611.3 284.4,611.1 C284.8,611.0 285.7,611.2 286.0,611.6 C286.3,612.1 286.1,613.1 286.0,613.8Z" fill="#94745a" fill-opacity="0.5"/>
<path d="M277.0,626.0 C276.5,626.1 275.7,625.5 275.3,625.1 C275.0,624.7 274.9,624.1 274.9,623.7 C274.9,623.2 274.9,622.8 275.1,622.4 C275.4,622.0 276.0,621.4 276.4,621.4 C276.9,621.4 277.6,622.1 277.9,622.6 C278.1,623.1 278.3,623.9 278.2,624.4 C278.1,625.0 277.5,625.9 277.0,626.0Z" fill="#94745a" fill-opacity="0.41"/>
<path d="M283.1,623.7 C282.8,624.0 282.0,624.0 281.5,623.9 C280.9,623.8 280.3,623.6 280.1,623.2 C279.9,622.8 280.0,621.9 280.2,621.5 C280.5,621.1 281.2,621.0 281.6,621.0 C282.1,620.9 282.3,621.1 282.7,621.3 C283.0,621.4 283.5,621.7 283.6,622.1 C283.6,622.5 283.5,623.4 283.1,623.7Z" fill="#94745a" fill-opacity="0.45"/>
<path d="M278.0,618.3 C277.7,618.6 276.8,618.8 276.2,618.7 C275.5,618.7 274.6,618.4 274.2,617.9 C273.9,617.4 273.9,616.3 274.1,615.7 C274.3,615.1 275.0,614.4 275.6,614.3 C276.2,614.1 277.1,614.5 277.5,614.8 C278.0,615.2 278.0,615.9 278.0,616.5 C278.1,617.1 278.3,617.9 278.0,618.3Z" fill="#94745a" fill-opacity="0.44"/>
<path d="M276.2,625.0 C276.0,625.5 275.2,625.9 274.8,626.1 C274.3,626.4 273.8,626.8 273.3,626.7 C272.9,626.5 272.5,626.0 272.3,625.5 C272.1,625.0 271.9,624.2 272.1,623.7 C272.4,623.2 273.0,622.6 273.6,622.5 C274.2,622.4 275.1,622.5 275.5,622.9 C276.0,623.4 276.3,624.4 276.2,625.0Z" fill="#94745a" fill-opacity="0.28"/>
<path d="M283.5,622.7 C283.2,622.5 283.2,621.9 283.2,621.5 C283.1,621.1 283.1,620.7 283.2,620.5 C283.4,620.2 283.8,620.2 284.2,620.1 C284.6,620.0 285.2,619.9 285.4,620.1 C285.7,620.3 285.8,621.0 285.7,621.5 C285.6,621.9 285.3,622.6 285.0,622.9 C284.6,623.1 283.8,623.0 283.5,622.7Z" fill="#94745a" fill-opacity="0.54"/>
<path d="M279.4,614.6 C279.0,614.7 278.2,614.5 277.8,614.2 C277.4,613.9 276.9,613.2 277.0,612.8 C277.1,612.4 277.9,611.8 278.4,611.6 C278.9,611.4 279.8,611.6 280.2,611.8 C280.7,612.0 280.9,612.6 281.0,612.9 C281.0,613.2 280.7,613.6 280.5,613.9 C280.2,614.2 279.9,614.6 279.4,614.6Z" fill="#94745a" fill-opacity="0.48"/>
<path d="M282.5,626.4 C282.1,626.5 281.3,626.3 281.1,625.8 C280.8,625.4 280.7,624.2 280.7,623.7 C280.8,623.1 281.1,622.7 281.3,622.5 C281.5,622.3 281.8,622.3 282.1,622.4 C282.5,622.5 283.1,622.6 283.3,623.1 C283.6,623.5 283.6,624.7 283.5,625.3 C283.3,625.8 282.9,626.3 282.5,626.4Z" fill="#94745a" fill-opacity="0.31"/>
<path d="M286.4,620.5 C286.1,620.1 285.7,619.7 285.7,619.3 C285.7,618.8 286.2,618.1 286.6,617.8 C287.0,617.5 287.7,617.4 288.2,617.5 C288.6,617.6 289.0,618.1 289.2,618.6 C289.3,619.0 289.5,619.8 289.2,620.2 C289.0,620.7 288.1,621.1 287.6,621.2 C287.2,621.2 286.7,620.8 286.4,620.5Z" fill="#94745a" fill-opacity="0.29"/>
<path d="M276.1,616.4 C275.8,616.6 274.9,616.7 274.5,616.4 C274.1,616.1 274.0,615.1 273.9,614.4 C273.8,613.7 273.7,612.6 274.0,612.4 C274.3,612.1 275.1,612.7 275.6,612.9 C276.0,613.1 276.6,613.2 276.7,613.6 C276.9,613.9 276.7,614.6 276.6,615.0 C276.5,615.5 276.5,616.2 276.1,616.4Z" fill="#94745a" fill-opacity="0.38"/>
<path d="M286.1,619.7 C286.1,620.3 285.9,621.4 285.5,621.6 C285.0,621.8 283.9,621.2 283.3,620.9 C282.8,620.6 282.5,620.3 282.2,619.8 C281.9,619.3 281.3,618.3 281.5,617.9 C281.8,617.5 283.1,617.2 283.8,617.3 C284.5,617.3 285.3,617.7 285.6,618.1 C286.0,618.5 286.1,619.1 286.1,619.7Z" fill="#94745a" fill-opacity="0.54"/>
<path d="M281.9,611.7 C281.8,611.3 282.2,610.8 282.6,610.4 C282.9,610.0 283.6,609.4 284.2,609.4 C284.7,609.4 285.7,609.9 286.0,610.4 C286.3,610.8 286.1,611.6 285.8,612.1 C285.6,612.6 285.0,613.2 284.5,613.4 C284.0,613.5 283.1,613.2 282.7,612.9 C282.2,612.6 281.9,612.1 281.9,611.7Z" fill="#94745a" fill-opacity="0.48"/>
<path d="M286.5,617.7 C286.1,618.0 285.1,618.6 284.8,618.4 C284.5,618.2 284.6,617.1 284.6,616.5 C284.5,615.8 284.2,615.2 284.5,614.8 C284.8,614.3 285.6,614.0 286.2,614.0 C286.8,614.0 287.9,614.4 288.1,614.9 C288.3,615.4 287.8,616.4 287.5,616.9 C287.3,617.3 287.0,617.5 286.5,617.7Z" fill="#94745a" fill-opacity="0.52"/>
<path d="M276.3,619.0 C275.8,618.7 274.9,618.7 274.8,618.3 C274.8,617.8 275.5,616.8 276.0,616.3 C276.4,615.8 277.3,615.2 277.7,615.3 C278.1,615.4 278.2,616.2 278.4,616.7 C278.6,617.2 279.1,617.8 278.9,618.2 C278.8,618.7 277.8,619.4 277.4,619.5 C276.9,619.6 276.7,619.2 276.3,619.0Z" fill="#94745a" fill-opacity="0.32"/>
<path d="M287.4,620.9 C287.2,621.3 286.8,622.0 286.3,622.0 C285.9,622.0 285.0,621.3 284.5,620.9 C284.1,620.5 283.7,620.1 283.5,619.6 C283.3,619.1 283.0,618.1 283.4,617.7 C283.8,617.4 285.1,617.3 285.9,617.6 C286.6,617.9 287.5,618.8 287.7,619.3 C288.0,619.9 287.6,620.4 287.4,620.9Z" fill="#94745a" fill-opacity="0.52"/>
<path d="M278.3,623.5 C278.2,623.1 279.1,622.3 279.6,621.8 C280.0,621.3 280.6,620.7 281.2,620.6 C281.7,620.5 282.6,620.9 282.9,621.3 C283.3,621.6 283.2,622.1 283.2,622.7 C283.1,623.2 283.1,624.3 282.6,624.6 C282.1,624.9 280.9,624.6 280.2,624.4 C279.5,624.2 278.4,624.0 278.3,623.5Z" fill="#94745a" fill-opacity="0.49"/>
<path d="M274.3,626.4 C274.1,626.2 274.6,625.2 274.9,624.9 C275.1,624.5 275.5,624.3 275.9,624.1 C276.3,623.9 277.0,623.5 277.3,623.6 C277.6,623.7 277.9,624.3 277.9,624.7 C277.9,625.1 277.6,625.7 277.2,626.0 C276.9,626.2 276.5,626.1 276.0,626.2 C275.5,626.3 274.5,626.6 274.3,626.4Z" fill="#94745a" fill-opacity="0.33"/>
<path d="M280.9,621.3 C280.5,621.7 280.2,622.3 279.7,622.4 C279.2,622.5 278.0,622.4 277.8,622.0 C277.6,621.6 278.2,620.6 278.5,620.1 C278.7,619.6 279.0,619.1 279.3,618.9 C279.7,618.7 280.2,618.8 280.7,619.0 C281.1,619.2 281.9,619.5 281.9,619.9 C282.0,620.3 281.3,620.8 280.9,621.3Z" fill="#94745a" fill-opacity="0.43"/>
<path d="M269.8,623.3 C269.9,622.9 271.1,622.7 271.8,622.4 C272.4,622.1 273.0,621.3 273.6,621.3 C274.2,621.3 275.2,622.0 275.5,622.4 C275.7,622.8 275.5,623.5 275.2,623.8 C274.9,624.1 274.0,624.3 273.4,624.4 C272.8,624.5 271.9,624.6 271.3,624.4 C270.7,624.2 269.7,623.6 269.8,623.3Z" fill="#94745a" fill-opacity="0.54"/>
<path d="M286.2,617.7 C286.0,618.2 285.4,618.6 285.1,618.9 C284.7,619.1 284.2,619.2 283.8,619.1 C283.5,619.0 283.0,618.6 282.8,618.1 C282.7,617.6 282.8,616.7 283.0,616.2 C283.2,615.7 283.9,615.1 284.3,615.0 C284.8,615.0 285.4,615.4 285.7,615.8 C286.0,616.3 286.3,617.1 286.2,617.7Z" fill="#94745a" fill-opacity="0.54"/>
<path d="M272.8,622.2 C272.7,621.9 272.9,621.1 273.2,620.8 C273.5,620.5 274.3,620.3 274.8,620.4 C275.2,620.4 275.5,620.7 275.8,621.0 C276.1,621.2 276.6,621.6 276.6,621.9 C276.5,622.3 275.9,622.9 275.5,623.1 C275.1,623.2 274.6,622.8 274.1,622.6 C273.7,622.5 273.0,622.5 272.8,622.2Z" fill="#94745a" fill-opacity="0.47"/>
<path d="M275.1,628.4 C274.8,628.3 274.3,627.7 274.3,627.1 C274.3,626.6 274.7,625.8 275.0,625.4 C275.4,625.0 275.9,624.8 276.3,624.7 C276.7,624.7 277.3,624.8 277.4,625.1 C277.6,625.4 277.5,626.2 277.3,626.6 C277.1,627.0 276.8,627.2 276.4,627.5 C276.0,627.8 275.5,628.5 275.1,628.4Z" fill="#94745a" fill-opacity="0.47"/>
<path d="M282.5,620.1 C282.1,620.2 281.4,619.9 281.0,619.4 C280.5,618.9 279.9,617.9 279.9,617.3 C279.9,616.7 280.7,616.0 281.1,615.8 C281.5,615.5 282.0,615.5 282.4,615.6 C282.9,615.8 283.6,616.2 283.8,616.7 C284.0,617.3 283.9,618.3 283.7,618.9 C283.5,619.4 283.0,620.0 282.5,620.1Z" fill="#94745a" fill-opacity="0.5"/>
<path d="M288.1,616.2 C288.2,616.5 287.3,616.9 286.7,617.1 C286.1,617.3 285.3,617.5 284.7,617.4 C284.1,617.2 283.2,616.6 283.1,616.2 C282.9,615.8 283.4,615.2 283.7,615.0 C284.1,614.7 284.8,614.6 285.3,614.6 C285.7,614.6 286.1,614.9 286.5,615.2 C287.0,615.4 288.1,615.8 288.1,616.2Z" fill="#94745a" fill-opacity="0.4"/>
<path d="M274.7,617.7 C274.4,617.9 274.0,618.2 273.5,618.1 C273.1,618.1 272.5,617.7 272.2,617.3 C271.8,616.9 271.4,616.0 271.5,615.5 C271.6,615.1 272.3,614.5 272.8,614.5 C273.3,614.4 274.0,614.7 274.5,615.0 C274.9,615.4 275.3,616.1 275.3,616.5 C275.4,616.9 275.0,617.4 274.7,617.7Z" fill="#94745a" fill-opacity="0.52"/>
<path d="M271.1,625.7 C270.9,625.2 271.2,624.3 271.4,623.9 C271.7,623.4 272.4,623.0 272.8,623.0 C273.3,623.1 273.8,623.6 274.0,624.0 C274.3,624.3 274.5,624.7 274.5,625.2 C274.6,625.7 274.6,626.7 274.3,626.9 C274.0,627.2 273.1,627.1 272.6,626.9 C272.0,626.7 271.3,626.2 271.1,625.7Z" fill="#94745a" fill-opacity="0.42"/>
<path d="M277.1,628.1 C276.7,628.2 276.0,627.4 275.6,627.0 C275.2,626.6 274.9,626.1 274.7,625.6 C274.4,625.0 274.0,624.2 274.1,623.7 C274.1,623.2 274.5,622.5 275.0,622.6 C275.4,622.7 276.1,623.7 276.6,624.4 C277.1,625.1 277.8,626.1 277.9,626.7 C278.0,627.3 277.5,628.1 277.1,628.1Z" fill="#94745a" fill-opacity="0.51"/>
<path d="M285.7,621.3 C285.3,621.8 284.9,622.2 284.3,622.2 C283.8,622.3 283.0,622.1 282.4,621.7 C281.8,621.3 280.7,620.4 280.7,619.8 C280.7,619.3 281.8,618.5 282.4,618.3 C283.0,618.1 283.7,618.4 284.4,618.6 C285.1,618.8 286.3,619.1 286.5,619.5 C286.7,620.0 286.0,620.9 285.7,621.3Z" fill="#94745a" fill-opacity="0.54"/>
<path d="M270.1,625.1 C270.0,624.9 271.2,624.2 271.7,623.7 C272.3,623.3 272.7,622.8 273.4,622.6 C274.0,622.4 275.3,622.4 275.7,622.6 C276.1,622.8 276.1,623.5 275.8,623.9 C275.4,624.3 274.4,624.6 273.9,624.8 C273.3,625.0 272.9,625.1 272.3,625.1 C271.7,625.2 270.2,625.3 270.1,625.1Z" fill="#94745a" fill-opacity="0.51"/>
<path d="M275.5,609.5 C275.5,609.0 275.3,608.4 275.5,608.1 C275.8,607.7 276.7,607.4 277.2,607.5 C277.6,607.6 278.0,608.2 278.3,608.6 C278.5,609.0 278.7,609.6 278.5,610.0 C278.4,610.3 277.8,610.5 277.3,610.6 C276.9,610.8 276.1,611.1 275.8,610.9 C275.5,610.8 275.6,610.0 275.5,609.5Z" fill="#94745a" fill-opacity="0.5"/>
<path d="M268.8,618.9 C268.7,618.6 268.6,618.2 268.8,617.9 C269.0,617.7 269.4,617.5 269.8,617.3 C270.2,617.2 270.6,617.0 271.0,617.1 C271.3,617.2 271.8,617.6 271.8,617.9 C271.8,618.2 271.2,618.6 270.8,619.0 C270.4,619.3 269.8,619.9 269.5,619.9 C269.2,619.8 268.9,619.2 268.8,618.9Z" fill="#94745a" fill-opacity="0.34"/>
<path d="M287.7,617.5 C287.6,618.0 286.6,618.5 286.1,618.7 C285.6,619.0 285.2,619.2 284.6,619.1 C283.9,619.1 282.8,619.0 282.4,618.6 C282.0,618.1 282.0,616.9 282.3,616.3 C282.6,615.7 283.7,615.2 284.4,615.1 C285.1,615.0 286.0,615.4 286.6,615.8 C287.1,616.2 287.8,617.0 287.7,617.5Z" fill="#94745a" fill-opacity="0.54"/>
<path d="M271.7,616.5 C271.7,616.0 271.7,615.4 272.1,615.1 C272.5,614.7 273.2,614.6 273.8,614.6 C274.4,614.7 275.6,614.9 275.9,615.3 C276.1,615.8 275.7,616.8 275.4,617.3 C275.1,617.8 274.5,618.2 273.9,618.3 C273.3,618.5 272.3,618.6 271.9,618.3 C271.6,618.0 271.6,617.1 271.7,616.5Z" fill="#94745a" fill-opacity="0.48"/>
<path d="M282.3,618.7 C282.2,619.1 282.0,619.8 281.6,620.0 C281.2,620.3 280.4,620.3 280.0,620.1 C279.7,619.8 279.5,619.2 279.5,618.7 C279.4,618.3 279.5,617.8 279.7,617.5 C279.9,617.2 280.4,617.0 280.8,617.0 C281.2,617.0 281.6,617.2 281.9,617.5 C282.1,617.8 282.3,618.3 282.3,618.7Z" fill="#94745a" fill-opacity="0.39"/>
<path d="M273.9,625.1 C273.7,625.3 273.0,625.2 272.6,625.0 C272.2,624.8 271.8,624.6 271.4,624.2 C271.0,623.8 270.4,623.0 270.4,622.6 C270.5,622.2 271.1,621.9 271.6,621.9 C272.0,621.9 272.6,622.3 273.0,622.7 C273.4,623.0 273.9,623.5 274.0,623.9 C274.2,624.3 274.1,625.0 273.9,625.1Z" fill="#94745a" fill-opacity="0.38"/>
<path d="M284.4,614.2 C284.1,614.0 283.7,613.8 283.6,613.5 C283.5,613.2 283.5,612.6 283.7,612.3 C284.0,612.1 284.5,612.0 284.9,612.0 C285.3,612.0 285.9,612.2 286.0,612.5 C286.2,612.8 286.0,613.2 285.9,613.6 C285.9,614.0 285.9,614.7 285.6,614.8 C285.4,614.9 284.8,614.4 284.4,614.2Z" fill="#94745a" fill-opacity="0.51"/>
<path d="M274.9,618.3 C274.4,618.6 273.9,619.1 273.4,619.0 C273.0,619.0 272.1,618.3 272.0,617.8 C271.9,617.4 272.6,616.8 272.9,616.4 C273.3,615.9 273.5,615.1 273.8,615.1 C274.2,615.0 274.9,615.6 275.2,616.0 C275.6,616.3 276.1,616.9 276.1,617.3 C276.0,617.7 275.3,618.0 274.9,618.3Z" fill="#94745a" fill-opacity="0.33"/>
<path d="M276.7,627.5 C276.4,627.2 276.2,626.3 276.4,625.9 C276.6,625.5 277.3,625.4 277.8,625.1 C278.4,624.9 279.1,624.2 279.5,624.4 C279.8,624.5 280.1,625.4 280.1,625.9 C280.1,626.3 279.7,626.9 279.4,627.2 C279.1,627.5 278.6,627.8 278.1,627.8 C277.7,627.9 277.0,627.8 276.7,627.5Z" fill="#94745a" fill-opacity="0.56"/>
<path d="M283.6,617.8 C283.3,617.7 283.1,617.5 282.9,617.2 C282.7,616.9 282.5,616.5 282.6,616.2 C282.6,615.8 283.0,615.1 283.4,615.0 C283.7,614.9 284.1,615.5 284.4,615.8 C284.7,616.1 285.1,616.3 285.2,616.6 C285.2,617.0 285.0,617.6 284.7,617.8 C284.4,618.0 283.9,617.9 283.6,617.8Z" fill="#94745a" fill-opacity="0.56"/>
<path d="M274.4,615.0 C274.2,614.5 274.9,613.6 275.3,613.1 C275.7,612.7 276.4,612.3 276.9,612.3 C277.4,612.2 278.0,612.4 278.4,612.7 C278.7,612.9 278.9,613.4 278.8,613.9 C278.8,614.3 278.6,614.8 278.1,615.2 C277.7,615.6 276.8,616.3 276.2,616.3 C275.6,616.3 274.5,615.6 274.4,615.0Z" fill="#94745a" fill-opacity="0.48"/>
<path d="M285.3,620.1 C284.8,620.0 284.1,619.9 284.0,619.5 C283.8,619.1 284.2,618.3 284.4,617.9 C284.7,617.5 285.1,617.4 285.6,617.3 C286.0,617.2 286.7,616.9 287.0,617.1 C287.4,617.4 287.6,618.3 287.5,618.8 C287.4,619.3 287.0,620.0 286.6,620.2 C286.2,620.5 285.7,620.2 285.3,620.1Z" fill="#94745a" fill-opacity="0.39"/>
<path d="M272.1,623.9 C271.9,624.2 271.5,624.1 271.0,624.1 C270.6,624.0 269.9,624.0 269.6,623.7 C269.3,623.4 269.1,622.6 269.2,622.2 C269.2,621.9 269.7,621.5 270.1,621.5 C270.4,621.4 270.9,621.8 271.3,622.0 C271.7,622.2 272.2,622.5 272.4,622.8 C272.5,623.2 272.4,623.7 272.1,623.9Z" fill="#94745a" fill-opacity="0.33"/>
<path d="M266.1,614.3 C265.6,614.5 264.7,614.8 264.3,614.4 C263.9,614.1 263.7,612.9 263.7,612.2 C263.6,611.6 263.7,610.8 264.0,610.5 C264.3,610.1 265.1,610.2 265.5,610.3 C265.9,610.5 266.3,611.0 266.5,611.4 C266.8,611.9 267.1,612.6 267.0,613.1 C266.9,613.5 266.5,614.1 266.1,614.3Z" fill="#94745a" fill-opacity="0.39"/>
<path d="M268.1,617.2 C267.8,617.0 267.8,616.2 267.9,615.6 C268.1,615.0 268.5,614.2 268.9,613.8 C269.3,613.3 270.1,612.8 270.5,612.8 C270.9,612.8 271.1,613.3 271.2,613.7 C271.4,614.2 271.5,614.8 271.2,615.4 C270.9,615.9 270.2,616.5 269.7,616.9 C269.2,617.2 268.4,617.4 268.1,617.2Z" fill="#94745a" fill-opacity="0.31"/>
<path d="M269.1,611.6 C268.9,612.0 268.2,612.2 267.6,612.0 C267.0,611.8 266.2,611.1 265.8,610.6 C265.4,610.1 265.3,609.6 265.2,609.1 C265.1,608.6 264.9,607.7 265.3,607.6 C265.7,607.4 266.9,607.9 267.5,608.3 C268.1,608.7 268.7,609.5 269.0,610.1 C269.3,610.6 269.3,611.3 269.1,611.6Z" fill="#94745a" fill-opacity="0.25"/>
<path d="M263.7,607.0 C263.7,606.5 264.1,605.9 264.6,605.6 C265.1,605.3 266.0,605.0 266.7,605.1 C267.4,605.2 268.3,605.6 268.6,606.1 C269.0,606.5 268.9,607.5 268.6,607.9 C268.2,608.3 267.3,608.4 266.6,608.5 C265.9,608.6 265.0,608.8 264.5,608.5 C264.0,608.2 263.7,607.5 263.7,607.0Z" fill="#94745a" fill-opacity="0.3"/>
<path d="M267.3,614.3 C266.9,614.1 266.8,613.3 266.8,612.8 C266.8,612.4 266.8,611.8 267.1,611.5 C267.4,611.2 268.0,611.1 268.5,611.2 C269.0,611.3 270.0,611.5 270.2,611.8 C270.3,612.2 269.9,613.0 269.6,613.4 C269.4,613.7 269.1,613.9 268.7,614.1 C268.3,614.2 267.6,614.5 267.3,614.3Z" fill="#94745a" fill-opacity="0.28"/>
<path d="M268.6,611.6 C268.6,611.2 268.6,610.7 268.8,610.3 C269.1,610.0 269.9,609.5 270.3,609.6 C270.7,609.7 270.9,610.4 271.2,610.8 C271.5,611.3 272.1,611.8 272.0,612.2 C271.9,612.6 271.0,613.1 270.5,613.2 C270.1,613.3 269.3,613.1 269.0,612.9 C268.7,612.6 268.6,612.0 268.6,611.6Z" fill="#94745a" fill-opacity="0.44"/>
<path d="M264.6,614.5 C264.4,614.2 264.6,613.5 264.9,613.1 C265.3,612.7 266.1,612.4 266.7,612.2 C267.3,612.0 268.1,611.8 268.4,611.9 C268.8,612.0 268.7,612.6 268.6,613.0 C268.5,613.5 268.4,614.1 268.0,614.4 C267.5,614.8 266.4,615.1 265.9,615.1 C265.3,615.2 264.7,614.9 264.6,614.5Z" fill="#94745a" fill-opacity="0.33"/>
<path d="M269.6,618.1 C269.1,618.3 268.4,618.4 268.1,618.2 C267.7,617.9 267.5,617.0 267.5,616.5 C267.5,616.0 267.7,615.4 268.0,615.1 C268.3,614.8 268.8,614.6 269.3,614.7 C269.7,614.7 270.5,614.9 270.8,615.3 C271.1,615.8 271.4,616.9 271.2,617.3 C271.0,617.8 270.2,618.0 269.6,618.1Z" fill="#94745a" fill-opacity="0.44"/>
<path d="M267.0,608.2 C266.7,608.7 266.1,609.1 265.6,609.3 C265.1,609.4 264.5,609.2 264.2,608.9 C263.8,608.7 263.6,608.2 263.5,607.7 C263.4,607.2 263.1,606.1 263.4,605.7 C263.8,605.2 264.8,605.1 265.4,605.2 C266.1,605.2 267.0,605.6 267.3,606.1 C267.5,606.6 267.3,607.7 267.0,608.2Z" fill="#94745a" fill-opacity="0.32"/>
<path d="M268.7,616.8 C268.6,617.2 268.6,617.6 268.2,617.8 C267.8,618.0 266.5,618.1 266.1,617.8 C265.7,617.6 265.8,616.8 265.7,616.4 C265.7,616.0 265.6,615.7 265.8,615.5 C266.0,615.2 266.7,614.8 267.1,614.9 C267.6,614.9 268.2,615.6 268.5,615.9 C268.7,616.2 268.7,616.5 268.7,616.8Z" fill="#94745a" fill-opacity="0.35"/>
<path d="M268.1,611.4 C267.8,611.5 267.3,611.3 266.9,611.1 C266.5,610.9 266.0,610.7 265.8,610.3 C265.6,609.9 265.6,609.0 265.8,608.7 C266.0,608.3 266.7,608.3 267.1,608.3 C267.6,608.3 268.2,608.4 268.5,608.7 C268.8,609.1 269.1,609.9 269.0,610.4 C268.9,610.8 268.5,611.3 268.1,611.4Z" fill="#94745a" fill-opacity="0.27"/>
<path d="M264.6,608.6 C264.5,608.2 264.5,607.4 264.9,607.0 C265.2,606.6 266.4,606.2 266.9,606.3 C267.4,606.4 267.5,607.3 267.9,607.7 C268.3,608.2 269.2,608.7 269.1,609.1 C269.0,609.5 267.8,610.0 267.3,610.1 C266.7,610.2 266.0,609.9 265.6,609.7 C265.2,609.4 264.8,609.1 264.6,608.6Z" fill="#94745a" fill-opacity="0.36"/>
<path d="M268.6,610.8 C268.1,610.8 267.5,610.2 267.1,609.6 C266.7,609.1 266.1,608.1 266.3,607.6 C266.4,607.0 267.4,606.7 267.9,606.5 C268.4,606.2 268.9,605.9 269.4,606.1 C269.9,606.3 270.7,607.0 270.9,607.6 C271.0,608.2 270.5,609.2 270.1,609.7 C269.8,610.2 269.1,610.8 268.6,610.8Z" fill="#94745a" fill-opacity="0.33"/>
<path d="M310.3,635.8 C309.9,636.1 309.0,636.0 308.5,635.8 C307.9,635.6 307.4,635.1 307.2,634.7 C307.1,634.2 307.4,633.3 307.7,633.0 C308.0,632.6 308.8,632.6 309.3,632.6 C309.8,632.6 310.2,632.6 310.5,632.9 C310.9,633.2 311.2,633.7 311.2,634.2 C311.1,634.7 310.8,635.6 310.3,635.8Z" fill="#94745a" fill-opacity="0.35"/>
<path d="M310.8,632.6 C310.8,633.0 310.7,633.5 310.2,633.7 C309.8,633.9 308.6,633.8 308.0,633.6 C307.4,633.5 306.8,633.0 306.6,632.7 C306.4,632.4 306.6,632.0 306.9,631.7 C307.2,631.5 307.9,631.4 308.4,631.4 C308.9,631.4 309.8,631.4 310.2,631.6 C310.6,631.8 310.8,632.3 310.8,632.6Z" fill="#94745a" fill-opacity="0.5"/>
<path d="M303.2,633.3 C303.2,633.8 303.0,634.7 302.6,635.0 C302.1,635.3 301.0,635.4 300.5,635.2 C300.0,635.0 299.8,634.3 299.6,633.8 C299.3,633.3 298.7,632.6 298.9,632.1 C299.1,631.6 300.0,630.7 300.6,630.7 C301.1,630.7 301.8,631.6 302.2,632.1 C302.6,632.5 303.1,632.8 303.2,633.3Z" fill="#94745a" fill-opacity="0.29"/>
<path d="M305.1,631.0 C305.0,631.5 304.8,632.2 304.3,632.4 C303.9,632.5 303.0,632.1 302.4,631.8 C301.8,631.6 300.7,631.2 300.6,630.8 C300.4,630.3 301.0,629.7 301.4,629.3 C301.9,628.8 302.5,628.1 303.1,628.2 C303.7,628.2 304.7,629.0 305.0,629.5 C305.4,629.9 305.2,630.5 305.1,631.0Z" fill="#94745a" fill-opacity="0.33"/>
<path d="M299.7,636.2 C299.6,635.6 299.2,634.8 299.6,634.3 C300.0,633.9 301.3,633.5 302.0,633.6 C302.7,633.6 303.2,634.1 303.7,634.5 C304.2,634.9 305.1,635.7 304.9,636.1 C304.7,636.5 303.3,636.7 302.6,636.9 C301.9,637.2 301.1,637.9 300.6,637.8 C300.1,637.6 299.9,636.8 299.7,636.2Z" fill="#94745a" fill-opacity="0.27"/>
<path d="M308.6,635.7 C308.5,636.1 307.8,636.4 307.4,636.5 C307.0,636.7 306.6,636.8 306.3,636.7 C306.0,636.5 305.8,636.2 305.6,635.8 C305.4,635.3 305.0,634.6 305.2,634.2 C305.4,633.9 306.3,633.7 306.7,633.7 C307.2,633.7 307.7,633.9 308.1,634.3 C308.4,634.6 308.8,635.3 308.6,635.7Z" fill="#94745a" fill-opacity="0.26"/>
<path d="M300.8,635.2 C300.4,635.1 300.1,634.2 299.9,633.6 C299.8,633.0 299.8,632.5 299.9,631.8 C300.0,631.2 300.2,629.8 300.5,629.6 C300.9,629.4 301.6,630.1 301.9,630.5 C302.2,630.9 302.4,631.5 302.4,632.1 C302.5,632.7 302.4,633.5 302.2,634.0 C301.9,634.5 301.2,635.2 300.8,635.2Z" fill="#94745a" fill-opacity="0.5"/>
<path d="M304.7,633.3 C304.5,633.1 304.3,632.7 304.4,632.3 C304.5,631.9 304.8,631.1 305.2,630.9 C305.5,630.7 306.2,630.9 306.5,631.0 C306.8,631.2 307.0,631.5 307.0,631.8 C307.1,632.1 307.1,632.6 306.8,632.9 C306.6,633.2 306.0,633.5 305.7,633.5 C305.3,633.6 304.9,633.5 304.7,633.3Z" fill="#94745a" fill-opacity="0.51"/>
<path d="M310.0,628.4 C309.7,628.7 309.0,628.5 308.5,628.5 C308.0,628.5 307.1,628.7 306.9,628.4 C306.7,628.1 307.0,627.3 307.2,626.8 C307.5,626.2 307.9,625.3 308.3,625.1 C308.8,625.0 309.4,625.7 309.7,626.0 C310.0,626.3 310.1,626.5 310.2,626.9 C310.2,627.3 310.2,628.1 310.0,628.4Z" fill="#94745a" fill-opacity="0.5"/>
<path d="M304.8,638.3 C304.4,638.3 303.8,637.9 303.4,637.5 C303.1,637.1 302.6,636.2 302.7,635.7 C302.8,635.3 303.4,635.0 303.8,634.7 C304.2,634.4 304.7,633.6 305.0,633.8 C305.2,633.9 305.3,635.0 305.4,635.6 C305.6,636.1 306.0,636.7 305.9,637.1 C305.8,637.6 305.2,638.2 304.8,638.3Z" fill="#94745a" fill-opacity="0.44"/>
<path d="M302.8,635.4 C302.6,635.2 302.5,634.7 302.4,634.2 C302.4,633.6 302.2,632.7 302.5,632.3 C302.9,631.9 303.9,631.6 304.5,631.7 C305.0,631.8 305.6,632.3 305.9,632.8 C306.1,633.3 306.3,634.4 306.1,634.9 C305.8,635.3 304.7,635.6 304.2,635.6 C303.7,635.7 303.1,635.7 302.8,635.4Z" fill="#94745a" fill-opacity="0.27"/>
<path d="M312.6,632.7 C312.5,633.0 311.7,633.2 311.4,633.3 C311.0,633.4 310.7,633.4 310.3,633.3 C309.9,633.1 309.2,632.9 309.1,632.6 C309.0,632.3 309.4,631.7 309.7,631.5 C310.0,631.3 310.4,631.2 310.8,631.2 C311.2,631.2 311.7,631.2 312.0,631.5 C312.3,631.7 312.7,632.4 312.6,632.7Z" fill="#94745a" fill-opacity="0.51"/>
<path d="M310.8,632.2 C310.2,632.1 309.1,632.0 309.0,631.6 C308.9,631.1 309.8,630.0 310.2,629.5 C310.6,628.9 310.9,628.7 311.4,628.5 C311.8,628.3 312.8,627.9 313.1,628.2 C313.3,628.5 312.9,629.7 312.8,630.3 C312.7,631.0 312.6,631.9 312.3,632.2 C312.0,632.5 311.3,632.3 310.8,632.2Z" fill="#94745a" fill-opacity="0.51"/>
<path d="M311.5,633.1 C311.1,633.3 310.5,633.1 310.0,633.0 C309.6,632.9 309.3,632.7 308.9,632.3 C308.6,632.0 308.0,631.2 308.1,630.8 C308.1,630.4 308.9,629.9 309.4,629.8 C309.8,629.7 310.5,630.0 310.9,630.3 C311.4,630.7 311.9,631.2 312.0,631.7 C312.1,632.2 311.8,632.9 311.5,633.1Z" fill="#94745a" fill-opacity="0.33"/>
<path d="M305.2,636.9 C304.9,637.4 304.1,638.1 303.6,638.0 C303.0,638.0 302.4,637.1 302.0,636.5 C301.5,636.0 300.7,635.4 300.8,634.9 C300.8,634.5 301.6,634.1 302.1,633.9 C302.6,633.7 303.2,633.5 303.8,633.7 C304.4,633.9 305.4,634.5 305.6,635.0 C305.9,635.5 305.6,636.4 305.2,636.9Z" fill="#94745a" fill-opacity="0.36"/>
<path d="M300.8,630.2 C300.8,629.7 301.3,628.5 301.8,628.3 C302.2,628.0 302.8,628.6 303.4,628.7 C303.9,628.8 304.8,628.7 305.0,629.1 C305.2,629.4 304.7,630.4 304.5,631.0 C304.2,631.5 304.0,632.4 303.6,632.5 C303.2,632.6 302.7,631.9 302.2,631.6 C301.8,631.2 300.9,630.8 300.8,630.2Z" fill="#94745a" fill-opacity="0.4"/>
<path d="M308.7,634.8 C308.2,634.5 307.4,634.1 307.4,633.6 C307.4,633.1 308.3,632.0 308.8,631.7 C309.3,631.4 309.9,631.8 310.4,631.9 C311.0,632.0 311.9,631.8 312.1,632.2 C312.3,632.6 312.1,633.7 311.8,634.3 C311.4,634.9 310.6,635.7 310.1,635.8 C309.6,635.9 309.1,635.2 308.7,634.8Z" fill="#94745a" fill-opacity="0.29"/>
<path d="M301.8,635.0 C301.5,634.9 301.6,634.1 301.5,633.6 C301.5,633.1 301.3,632.4 301.6,632.1 C301.8,631.8 302.6,631.9 303.0,632.0 C303.4,632.1 303.7,632.3 303.9,632.6 C304.2,632.9 304.7,633.6 304.5,633.9 C304.4,634.2 303.6,634.3 303.1,634.5 C302.6,634.7 302.0,635.2 301.8,635.0Z" fill="#94745a" fill-opacity="0.48"/>
<path d="M302.1,630.4 C302.1,630.9 301.3,631.5 300.8,631.8 C300.4,632.1 299.7,632.2 299.2,632.1 C298.8,631.9 298.2,631.3 298.1,630.8 C297.9,630.3 298.0,629.4 298.3,629.0 C298.6,628.6 299.3,628.5 299.8,628.4 C300.3,628.3 300.9,628.3 301.3,628.6 C301.7,628.9 302.2,629.9 302.1,630.4Z" fill="#94745a" fill-opacity="0.26"/>
<path d="M328.6,621.0 C328.4,620.6 328.3,620.1 328.4,619.7 C328.5,619.3 328.8,619.0 329.2,618.9 C329.6,618.7 330.3,618.4 330.6,618.6 C330.9,618.8 331.2,619.6 331.2,620.0 C331.3,620.5 331.2,620.8 330.9,621.3 C330.7,621.7 330.2,622.6 329.8,622.6 C329.4,622.6 328.9,621.5 328.6,621.0Z" fill="#94745a" fill-opacity="0.27"/>
<path d="M331.8,615.8 C331.6,615.4 331.2,615.0 331.5,614.6 C331.8,614.2 333.0,613.7 333.6,613.5 C334.3,613.3 335.1,613.1 335.5,613.3 C335.8,613.4 335.7,614.0 335.5,614.4 C335.4,614.7 335.1,615.1 334.6,615.5 C334.1,615.9 333.0,616.8 332.5,616.8 C332.0,616.9 331.9,616.2 331.8,615.8Z" fill="#94745a" fill-opacity="0.24"/>
<path d="M337.3,619.3 C337.4,619.7 337.6,620.3 337.3,620.5 C336.9,620.7 335.8,620.6 335.3,620.5 C334.8,620.3 334.4,619.9 334.1,619.6 C333.9,619.2 333.5,618.6 333.7,618.3 C333.9,618.0 334.9,617.5 335.5,617.6 C336.0,617.6 336.7,618.2 337.0,618.5 C337.3,618.8 337.3,619.0 337.3,619.3Z" fill="#94745a" fill-opacity="0.29"/>
<path d="M329.9,621.9 C329.5,621.9 329.1,621.9 328.7,621.6 C328.4,621.3 328.0,620.7 328.0,620.3 C327.9,619.9 328.4,619.4 328.7,619.2 C329.0,619.0 329.3,618.9 329.7,619.0 C330.1,619.0 330.6,619.3 330.8,619.7 C331.1,620.1 331.3,621.0 331.1,621.4 C331.0,621.8 330.2,621.9 329.9,621.9Z" fill="#94745a" fill-opacity="0.28"/>
<path d="M330.0,620.6 C329.4,620.7 328.7,620.9 328.2,620.6 C327.8,620.3 327.5,619.4 327.5,618.8 C327.5,618.3 327.8,617.5 328.1,617.1 C328.5,616.8 329.3,616.5 329.9,616.6 C330.4,616.8 331.1,617.3 331.4,617.8 C331.7,618.3 332.0,619.4 331.8,619.9 C331.5,620.3 330.6,620.5 330.0,620.6Z" fill="#94745a" fill-opacity="0.26"/>
<path d="M329.7,614.9 C329.5,615.2 329.1,615.3 328.6,615.4 C328.2,615.5 327.3,615.9 327.0,615.7 C326.8,615.5 327.0,614.6 327.0,614.1 C327.0,613.6 326.8,613.0 327.1,612.7 C327.3,612.5 328.2,612.4 328.7,612.5 C329.1,612.7 329.6,613.2 329.8,613.6 C330.0,614.0 329.9,614.6 329.7,614.9Z" fill="#94745a" fill-opacity="0.26"/>
<path d="M329.5,615.1 C329.2,615.4 328.6,615.5 328.1,615.5 C327.5,615.5 326.6,615.4 326.2,615.1 C325.7,614.8 325.5,614.1 325.5,613.7 C325.5,613.3 325.7,613.1 326.1,612.9 C326.4,612.7 326.9,612.3 327.4,612.4 C328.0,612.5 329.2,613.1 329.5,613.5 C329.9,614.0 329.7,614.7 329.5,615.1Z" fill="#94745a" fill-opacity="0.32"/>
<path d="M328.1,620.5 C327.4,620.4 326.4,620.1 326.1,619.6 C325.9,619.0 326.5,617.9 326.7,617.1 C327.0,616.3 327.1,615.2 327.6,614.9 C328.1,614.6 329.4,614.8 329.7,615.2 C330.1,615.7 329.8,616.8 329.9,617.6 C329.9,618.3 330.4,619.4 330.1,619.8 C329.8,620.3 328.8,620.5 328.1,620.5Z" fill="#94745a" fill-opacity="0.33"/>
<path d="M331.0,624.7 C330.5,624.6 329.6,624.4 329.4,624.0 C329.2,623.5 329.5,622.5 329.9,622.0 C330.2,621.5 330.9,621.2 331.4,621.1 C331.9,621.0 332.6,621.3 333.0,621.6 C333.4,622.0 334.1,622.9 334.0,623.3 C333.9,623.8 332.9,624.3 332.4,624.5 C331.9,624.7 331.6,624.8 331.0,624.7Z" fill="#94745a" fill-opacity="0.42"/>
<path d="M336.4,618.4 C336.1,618.6 335.4,618.6 335.0,618.5 C334.7,618.4 334.4,618.0 334.3,617.6 C334.2,617.3 334.1,617.0 334.2,616.6 C334.3,616.1 334.6,615.2 335.0,615.0 C335.4,614.9 336.2,615.3 336.6,615.6 C337.0,616.0 337.2,616.6 337.2,617.0 C337.2,617.5 336.8,618.1 336.4,618.4Z" fill="#94745a" fill-opacity="0.39"/>
<path d="M333.7,625.0 C333.2,625.2 332.0,625.4 331.7,625.1 C331.3,624.8 331.6,623.9 331.6,623.4 C331.7,622.8 331.6,622.1 331.9,621.8 C332.3,621.6 333.2,621.7 333.7,621.8 C334.2,622.0 334.6,622.3 334.8,622.6 C335.0,622.9 335.2,623.5 335.0,623.9 C334.8,624.3 334.3,624.8 333.7,625.0Z" fill="#94745a" fill-opacity="0.23"/>
<path d="M331.1,620.0 C330.8,619.9 330.7,619.3 330.6,618.9 C330.5,618.6 330.4,618.2 330.5,617.9 C330.6,617.5 331.0,616.9 331.2,616.9 C331.5,616.8 331.8,617.3 332.1,617.5 C332.4,617.8 332.8,617.9 332.8,618.3 C332.9,618.7 332.8,619.6 332.5,619.9 C332.2,620.1 331.5,620.2 331.1,620.0Z" fill="#94745a" fill-opacity="0.24"/>
<path d="M329.6,614.0 C329.2,613.9 328.3,613.6 328.2,613.2 C328.0,612.7 328.4,611.9 328.7,611.3 C329.0,610.7 329.6,609.8 330.1,609.7 C330.6,609.6 331.4,610.1 331.7,610.6 C332.1,611.0 332.2,611.9 332.0,612.4 C331.9,612.9 331.3,613.4 330.9,613.6 C330.5,613.9 330.1,614.0 329.6,614.0Z" fill="#94745a" fill-opacity="0.4"/>
<path d="M333.1,622.1 C332.9,622.3 332.6,622.4 332.3,622.4 C331.9,622.5 331.1,622.4 330.9,622.1 C330.7,621.9 331.0,621.2 331.2,620.8 C331.3,620.4 331.5,619.6 331.8,619.5 C332.1,619.5 332.7,620.1 333.0,620.3 C333.3,620.6 333.6,620.9 333.6,621.2 C333.6,621.5 333.3,621.9 333.1,622.1Z" fill="#94745a" fill-opacity="0.27"/>
<path d="M326.9,620.6 C326.4,620.7 325.7,621.1 325.4,621.0 C325.1,620.8 324.9,620.0 324.9,619.6 C324.9,619.2 325.0,618.9 325.3,618.5 C325.5,618.0 326.0,617.1 326.4,617.0 C326.8,617.0 327.4,617.8 327.7,618.3 C328.0,618.7 328.5,619.4 328.3,619.8 C328.2,620.2 327.3,620.4 326.9,620.6Z" fill="#94745a" fill-opacity="0.37"/>
<path d="M329.6,620.4 C329.3,620.2 329.2,619.7 329.2,619.3 C329.2,618.9 329.4,618.1 329.7,617.9 C330.0,617.7 330.7,617.8 331.0,617.9 C331.4,618.0 331.6,618.2 331.8,618.6 C331.9,618.9 332.1,619.4 332.0,619.8 C331.8,620.2 331.2,620.9 330.8,621.0 C330.4,621.1 329.9,620.7 329.6,620.4Z" fill="#94745a" fill-opacity="0.34"/>
<path d="M299.4,595.1 C299.2,595.3 298.8,595.3 298.4,595.2 C298.0,595.0 297.3,594.6 297.0,594.1 C296.7,593.6 296.5,592.7 296.6,592.3 C296.7,592.0 297.3,591.8 297.7,591.9 C298.1,592.0 298.6,592.4 299.0,592.8 C299.3,593.2 299.8,593.7 299.8,594.1 C299.9,594.5 299.7,594.9 299.4,595.1Z" fill="#94745a" fill-opacity="0.28"/>
<path d="M299.1,591.5 C299.0,591.9 298.8,592.5 298.5,592.7 C298.1,592.9 297.5,593.0 297.1,592.8 C296.8,592.7 296.4,592.0 296.4,591.6 C296.3,591.1 296.5,590.4 296.8,590.0 C297.2,589.6 297.9,589.2 298.2,589.3 C298.5,589.4 298.7,590.1 298.9,590.5 C299.0,590.9 299.1,591.2 299.1,591.5Z" fill="#94745a" fill-opacity="0.17"/>
<path d="M300.5,589.2 C300.1,589.3 299.5,589.5 299.1,589.3 C298.7,589.1 298.4,588.4 298.4,588.0 C298.4,587.7 298.9,587.3 299.1,587.0 C299.4,586.7 299.8,586.1 300.2,586.1 C300.5,586.1 300.8,586.7 301.1,587.1 C301.3,587.5 301.8,588.0 301.7,588.3 C301.6,588.7 301.0,589.0 300.5,589.2Z" fill="#94745a" fill-opacity="0.16"/>
<path d="M305.2,588.5 C304.9,588.8 304.4,589.0 303.9,589.0 C303.5,589.0 302.8,588.9 302.5,588.6 C302.2,588.3 302.0,587.5 302.1,587.1 C302.2,586.6 302.7,586.0 303.1,585.8 C303.5,585.7 304.1,585.9 304.5,586.2 C305.0,586.4 305.5,586.7 305.6,587.1 C305.7,587.5 305.4,588.2 305.2,588.5Z" fill="#94745a" fill-opacity="0.27"/>
<path d="M299.6,588.2 C299.2,588.1 298.5,587.6 298.5,587.2 C298.4,586.7 299.0,586.1 299.4,585.5 C299.8,584.9 300.3,583.8 300.6,583.8 C301.0,583.7 301.2,584.8 301.5,585.3 C301.8,585.8 302.6,586.3 302.5,586.7 C302.4,587.1 301.4,587.6 300.9,587.9 C300.4,588.1 300.0,588.3 299.6,588.2Z" fill="#94745a" fill-opacity="0.24"/>
<path d="M297.4,589.0 C297.0,589.1 296.4,589.4 296.0,589.1 C295.6,588.8 295.2,587.8 295.1,587.1 C294.9,586.3 294.8,585.0 295.0,584.7 C295.3,584.4 296.2,584.9 296.8,585.1 C297.4,585.3 298.3,585.2 298.6,585.7 C298.9,586.2 298.6,587.6 298.4,588.1 C298.2,588.6 297.8,588.8 297.4,589.0Z" fill="#94745a" fill-opacity="0.17"/>
<path d="M301.5,586.3 C301.0,586.5 300.6,586.6 300.2,586.6 C299.9,586.5 299.5,586.2 299.2,585.8 C299.0,585.4 298.6,584.7 298.7,584.2 C298.9,583.7 299.5,582.9 300.1,582.7 C300.7,582.5 301.7,582.7 302.3,583.1 C302.8,583.4 303.4,584.5 303.3,585.1 C303.2,585.6 302.0,586.0 301.5,586.3Z" fill="#94745a" fill-opacity="0.26"/>
<path d="M299.3,587.2 C298.9,587.1 298.3,586.9 298.3,586.5 C298.2,586.1 298.7,585.2 299.1,584.6 C299.4,584.1 299.9,583.4 300.2,583.3 C300.5,583.3 300.8,583.9 301.0,584.3 C301.2,584.7 301.4,585.0 301.4,585.5 C301.3,586.0 300.8,587.0 300.5,587.3 C300.2,587.6 299.7,587.3 299.3,587.2Z" fill="#94745a" fill-opacity="0.17"/>
<path d="M304.4,587.2 C304.4,587.6 304.1,588.3 303.7,588.4 C303.4,588.6 302.8,588.2 302.4,588.1 C301.9,588.0 301.3,588.0 301.0,587.7 C300.8,587.4 300.9,586.6 301.1,586.3 C301.3,586.0 302.0,585.9 302.5,585.9 C302.9,585.9 303.3,586.0 303.6,586.2 C303.9,586.4 304.3,586.8 304.4,587.2Z" fill="#94745a" fill-opacity="0.28"/>
<path d="M301.6,595.4 C301.2,595.2 301.4,594.1 301.3,593.4 C301.3,592.8 301.1,591.9 301.4,591.5 C301.6,591.1 302.4,591.2 302.8,591.1 C303.3,591.0 304.0,590.6 304.2,590.9 C304.4,591.1 304.2,592.1 304.1,592.8 C303.9,593.4 303.8,594.5 303.4,594.9 C302.9,595.3 301.9,595.7 301.6,595.4Z" fill="#94745a" fill-opacity="0.15"/>
<path d="M295.4,594.2 C295.1,593.9 294.9,593.3 295.0,592.8 C295.1,592.2 295.5,591.1 295.9,590.8 C296.4,590.5 297.3,590.7 297.8,590.9 C298.2,591.1 298.7,591.3 298.8,591.8 C298.9,592.2 298.8,593.0 298.5,593.5 C298.1,594.0 297.3,594.6 296.8,594.8 C296.3,594.9 295.7,594.5 295.4,594.2Z" fill="#94745a" fill-opacity="0.16"/>
<path d="M301.9,595.0 C301.5,595.1 301.1,595.0 300.7,594.7 C300.3,594.5 299.6,594.1 299.5,593.7 C299.4,593.3 299.6,592.5 299.9,592.2 C300.1,592.0 300.6,591.9 300.9,591.9 C301.3,592.0 301.7,592.2 302.0,592.6 C302.3,592.9 302.8,593.6 302.8,594.0 C302.8,594.4 302.2,594.8 301.9,595.0Z" fill="#94745a" fill-opacity="0.17"/>
<path d="M300.7,588.8 C300.2,588.9 299.3,589.2 299.0,588.8 C298.6,588.5 298.6,587.4 298.7,586.8 C298.8,586.1 299.0,585.0 299.4,584.8 C299.8,584.6 300.6,585.2 301.1,585.5 C301.7,585.8 302.4,586.0 302.5,586.5 C302.6,586.9 302.2,587.7 301.9,588.1 C301.6,588.5 301.2,588.7 300.7,588.8Z" fill="#94745a" fill-opacity="0.2"/>
</g></g>
<line x1="228" y1="497" x2="228" y2="635" stroke="#fff" stroke-width="1.5" />
<line x1="353.5" y1="625.4" x2="365.7" y2="625.4" stroke="#111" stroke-width="1.6" />
<line x1="79.6" y1="648.5" x2="79.6" y2="653.5" stroke="#666" stroke-width="0.8" />
<text x="138.8" y="650.3" font-size="9.4" text-anchor="start" font-weight="normal" fill="#3a3a3a" stroke="#3a3a3a" stroke-width="0.22" letter-spacing="-0.25">morning</text>
<text x="282.6" y="650.3" font-size="9.4" text-anchor="start" font-weight="normal" fill="#3a3a3a" stroke="#3a3a3a" stroke-width="0.22" letter-spacing="-0.25">afternoon</text>
<text x="446.2" y="478.68" font-size="11.4" text-anchor="start" font-weight="normal" fill="#222" stroke="#222" stroke-width="0.22" >CD8<tspan dy="-4" font-size="6">+</tspan></text>
<line x1="423" y1="640.3" x2="423" y2="487.9" stroke="#2a2a2a" stroke-width="1.2" />
<line x1="419.8" y1="640.3" x2="423" y2="640.3" stroke="#2a2a2a" stroke-width="1.2" />
<text x="418" y="643.38" font-size="8.6" text-anchor="end" font-weight="normal" fill="#2a2a2a" stroke="#2a2a2a" stroke-width="0.22" >0.00</text>
<line x1="419.8" y1="602.2" x2="423" y2="602.2" stroke="#2a2a2a" stroke-width="1.2" />
<text x="418" y="605.28" font-size="8.6" text-anchor="end" font-weight="normal" fill="#2a2a2a" stroke="#2a2a2a" stroke-width="0.22" >0.05</text>
<line x1="419.8" y1="564.1" x2="423" y2="564.1" stroke="#2a2a2a" stroke-width="1.2" />
<text x="418" y="567.18" font-size="8.6" text-anchor="end" font-weight="normal" fill="#2a2a2a" stroke="#2a2a2a" stroke-width="0.22" >0.10</text>
<line x1="419.8" y1="526" x2="423" y2="526" stroke="#2a2a2a" stroke-width="1.2" />
<text x="418" y="529.08" font-size="8.6" text-anchor="end" font-weight="normal" fill="#2a2a2a" stroke="#2a2a2a" stroke-width="0.22" >0.15</text>
<line x1="419.8" y1="487.9" x2="423" y2="487.9" stroke="#2a2a2a" stroke-width="1.2" />
<text x="418" y="490.98" font-size="8.6" text-anchor="end" font-weight="normal" fill="#2a2a2a" stroke="#2a2a2a" stroke-width="0.22" >0.20</text>
<line x1="423" y1="640.3" x2="515.16" y2="640.3" stroke="#2a2a2a" stroke-width="1.2" />
<line x1="423" y1="640.3" x2="423" y2="644.3" stroke="#2a2a2a" stroke-width="1.2" />
<text x="423" y="654.28" font-size="8.6" text-anchor="middle" font-weight="normal" fill="#222" stroke="#222" stroke-width="0.22" >6</text>
<line x1="453.72" y1="640.3" x2="453.72" y2="644.3" stroke="#2a2a2a" stroke-width="1.2" />
<text x="453.72" y="654.28" font-size="8.6" text-anchor="middle" font-weight="normal" fill="#222" stroke="#222" stroke-width="0.22" >12</text>
<line x1="484.44" y1="640.3" x2="484.44" y2="644.3" stroke="#2a2a2a" stroke-width="1.2" />
<text x="484.44" y="654.28" font-size="8.6" text-anchor="middle" font-weight="normal" fill="#222" stroke="#222" stroke-width="0.22" >18</text>
<line x1="515.16" y1="640.3" x2="515.16" y2="644.3" stroke="#2a2a2a" stroke-width="1.2" />
<text x="515.16" y="654.28" font-size="8.6" text-anchor="middle" font-weight="normal" fill="#222" stroke="#222" stroke-width="0.22" >24</text>
<text x="375.9" y="654.28" font-size="8.6" text-anchor="start" font-weight="normal" fill="#222" stroke="#222" stroke-width="0.22" >O`clock(h)</text>
<text transform="translate(394.58,570) rotate(-90)" font-size="11.4" text-anchor="middle" fill="#2a2a2a" stroke="#2a2a2a" stroke-width="0.22">CD8<tspan dy="-4" font-size="6.5">+</tspan><tspan dy="4"> /nucleus area</tspan></text>
<text x="475.5" y="497.46" font-size="8" text-anchor="middle" font-weight="bold" fill="#222" >**</text>
<polyline points="433.2,618.6 434.67,612.99 436.14,607.67 437.62,602.62 439.09,597.87 440.56,593.39 442.03,589.21 443.51,585.3 444.98,581.68 446.45,578.35 447.93,575.29 449.4,572.53 450.87,570.04 452.34,567.84 453.81,565.93 455.29,564.3 456.76,562.95 458.23,561.89 459.7,561.11 461.18,560.62 462.65,560.41 464.12,560.48 465.6,560.84 467.07,561.48 468.54,562.41 470.01,563.62 471.49,565.12 472.96,566.9 474.43,568.96 475.9,571.31 477.38,573.94 478.85,576.86 480.32,580.06 481.79,583.55 483.27,587.31 484.74,591.37 486.21,595.71 487.68,600.33 489.16,605.23 490.63,610.42 492.1,615.9" fill="none" stroke="#ee5a5a" stroke-width="1.0" stroke-dasharray="1.4,1"/>
<polyline points="433.2,640.8 434.67,634.85 436.14,629.21 437.62,623.86 439.09,618.82 440.56,614.08 442.03,609.64 443.51,605.5 444.98,601.66 446.45,598.12 447.93,594.89 449.4,591.96 450.87,589.32 452.34,586.99 453.81,584.96 455.29,583.23 456.76,581.81 458.23,580.68 459.7,579.85 461.18,579.33 462.65,579.11 464.12,579.19 465.6,579.57 467.07,580.25 468.54,581.23 470.01,582.52 471.49,584.1 472.96,585.99 474.43,588.18 475.9,590.67 477.38,593.46 478.85,596.55 480.32,599.94 481.79,603.64 483.27,607.63 484.74,611.93 486.21,616.53 487.68,621.43 489.16,626.63 490.63,632.13 492.1,637.94" fill="none" stroke="#ee5a5a" stroke-width="1.1" />
<polyline points="438,640.8 439.22,636.56 440.44,632.53 441.66,628.72 442.88,625.13 444.1,621.75 445.32,618.59 446.54,615.64 447.76,612.92 448.98,610.41 450.2,608.11 451.42,606.04 452.64,604.18 453.86,602.53 455.08,601.11 456.3,599.9 457.52,598.91 458.74,598.13 459.96,597.57 461.18,597.23 462.4,597.1 463.62,597.19 464.84,597.5 466.06,598.02 467.28,598.76 468.5,599.72 469.72,600.9 470.94,602.29 472.16,603.89 473.38,605.72 474.6,607.76 475.82,610.02 477.04,612.49 478.26,615.18 479.48,618.09 480.7,621.22 481.92,624.56 483.14,628.11 484.36,631.89 485.58,635.88 486.8,640.09" fill="none" stroke="#ee5a5a" stroke-width="1.0" stroke-dasharray="1.4,1"/>
<circle cx="468.5" cy="524" r="2.2" fill="none" stroke="#111" stroke-width="1.15"/>
<circle cx="445.2" cy="575" r="2.2" fill="none" stroke="#111" stroke-width="1.15"/>
<circle cx="453" cy="581.9" r="2.2" fill="none" stroke="#111" stroke-width="1.15"/>
<circle cx="457.7" cy="588.1" r="2.2" fill="none" stroke="#111" stroke-width="1.15"/>
<circle cx="470.2" cy="585.8" r="2.2" fill="none" stroke="#111" stroke-width="1.15"/>
<circle cx="464.6" cy="594.1" r="2.2" fill="none" stroke="#111" stroke-width="1.15"/>
<circle cx="478.9" cy="602" r="2.2" fill="none" stroke="#111" stroke-width="1.15"/>
<circle cx="479.9" cy="604.1" r="2.2" fill="none" stroke="#111" stroke-width="1.15"/>
<circle cx="479.9" cy="610.3" r="2.2" fill="none" stroke="#111" stroke-width="1.15"/>
<circle cx="438" cy="611.7" r="2.2" fill="none" stroke="#111" stroke-width="1.15"/>
<circle cx="442.9" cy="617" r="2.2" fill="none" stroke="#111" stroke-width="1.15"/>
<circle cx="432.8" cy="625.6" r="2.2" fill="none" stroke="#111" stroke-width="1.15"/>
<circle cx="438" cy="627.6" r="2.2" fill="none" stroke="#111" stroke-width="1.15"/>
<circle cx="445.2" cy="630.8" r="2.2" fill="none" stroke="#111" stroke-width="1.15"/>
<circle cx="445.2" cy="632.9" r="2.2" fill="none" stroke="#111" stroke-width="1.15"/>
<circle cx="438" cy="634.3" r="2.2" fill="none" stroke="#111" stroke-width="1.15"/>
<circle cx="487.9" cy="633.2" r="2.2" fill="none" stroke="#111" stroke-width="1.15"/>
<circle cx="484.5" cy="637.1" r="2.2" fill="none" stroke="#111" stroke-width="1.15"/>
<circle cx="494.2" cy="637.6" r="2.2" fill="none" stroke="#111" stroke-width="1.15"/>
<text x="572.6" y="477.19" font-size="21.5" text-anchor="start" font-weight="bold" fill="#1a1a1a" >F</text>
<line x1="587.4" y1="487.3" x2="587.4" y2="666" stroke="#444" stroke-width="1.3" />
<line x1="587.4" y1="665.6" x2="769" y2="665.6" stroke="#444" stroke-width="1.3" />
<line x1="584.8" y1="657.6" x2="587.4" y2="657.6" stroke="#777" stroke-width="1.0" />
<text x="582.6" y="660.32" font-size="7.6" text-anchor="end" font-weight="normal" fill="#777" stroke="#777" stroke-width="0.22" >0</text>
<line x1="584.8" y1="621.7" x2="587.4" y2="621.7" stroke="#777" stroke-width="1.0" />
<text x="582.6" y="624.42" font-size="7.6" text-anchor="end" font-weight="normal" fill="#777" stroke="#777" stroke-width="0.22" >1</text>
<line x1="584.8" y1="585.8" x2="587.4" y2="585.8" stroke="#777" stroke-width="1.0" />
<text x="582.6" y="588.52" font-size="7.6" text-anchor="end" font-weight="normal" fill="#777" stroke="#777" stroke-width="0.22" >2</text>
<line x1="584.8" y1="549.9" x2="587.4" y2="549.9" stroke="#777" stroke-width="1.0" />
<text x="582.6" y="552.62" font-size="7.6" text-anchor="end" font-weight="normal" fill="#777" stroke="#777" stroke-width="0.22" >3</text>
<line x1="584.8" y1="514" x2="587.4" y2="514" stroke="#777" stroke-width="1.0" />
<text x="582.6" y="516.72" font-size="7.6" text-anchor="end" font-weight="normal" fill="#777" stroke="#777" stroke-width="0.22" >4</text>
<line x1="638.7" y1="665.6" x2="638.7" y2="668.3" stroke="#777" stroke-width="1.0" />
<line x1="722.2" y1="665.6" x2="722.2" y2="668.3" stroke="#777" stroke-width="1.0" />
<text x="638.7" y="677.18" font-size="10" text-anchor="middle" font-weight="normal" fill="#555" stroke="#555" stroke-width="0.22" >morning</text>
<text x="722.2" y="677.18" font-size="10" text-anchor="middle" font-weight="normal" fill="#555" stroke="#555" stroke-width="0.22" >afternoon</text>
<text transform="translate(571.51,571) rotate(-90)" font-size="14" text-anchor="middle" fill="#2a2a2a" stroke="#2a2a2a" stroke-width="0.22">CD8 ex/CD8 non-ex</text>
<text x="640.2" y="495.03" font-size="9.3" text-anchor="start" font-weight="normal" fill="#222" stroke="#222" stroke-width="0.22" ><tspan font-style="italic">P</tspan> = 0.0017</text>
<line x1="604.7" y1="657.6" x2="669.3" y2="657.6" stroke="#444" stroke-width="1.3" />
<rect x="688.4" y="627.8" width="62.7" height="29.8" fill="none" stroke="#444" stroke-width="1.2" />
<line x1="688.4" y1="645.39" x2="751.1" y2="645.39" stroke="#444" stroke-width="1.3" />
<line x1="719.6" y1="627.8" x2="719.6" y2="590.83" stroke="#444" stroke-width="1.2" />
<circle cx="604.7" cy="621.5" r="1.85" fill="#111" stroke="none" stroke-width="0"/>
<circle cx="638.8" cy="617.1" r="1.85" fill="#111" stroke="none" stroke-width="0"/>
<circle cx="609.7" cy="633.3" r="1.85" fill="#111" stroke="none" stroke-width="0"/>
<circle cx="644.6" cy="655.1" r="1.85" fill="#111" stroke="none" stroke-width="0"/>
<circle cx="606.6" cy="657.4" r="1.85" fill="#111" stroke="none" stroke-width="0"/>
<circle cx="610.5" cy="657.4" r="1.85" fill="#111" stroke="none" stroke-width="0"/>
<circle cx="614.5" cy="657.4" r="1.85" fill="#111" stroke="none" stroke-width="0"/>
<circle cx="616.4" cy="657.4" r="1.85" fill="#111" stroke="none" stroke-width="0"/>
<circle cx="623" cy="657.4" r="1.85" fill="#111" stroke="none" stroke-width="0"/>
<circle cx="628.2" cy="657.4" r="1.85" fill="#111" stroke="none" stroke-width="0"/>
<circle cx="633.3" cy="657.4" r="1.85" fill="#111" stroke="none" stroke-width="0"/>
<circle cx="652.9" cy="657.4" r="1.85" fill="#111" stroke="none" stroke-width="0"/>
<circle cx="655.6" cy="657.4" r="1.85" fill="#111" stroke="none" stroke-width="0"/>
<circle cx="657.6" cy="657.4" r="1.85" fill="#111" stroke="none" stroke-width="0"/>
<circle cx="660.7" cy="657.4" r="1.85" fill="#111" stroke="none" stroke-width="0"/>
<circle cx="664.6" cy="657.4" r="1.85" fill="#111" stroke="none" stroke-width="0"/>
<circle cx="668.5" cy="657.4" r="1.85" fill="#111" stroke="none" stroke-width="0"/>
<circle cx="689.8" cy="503.3" r="1.85" fill="#111" stroke="none" stroke-width="0"/>
<circle cx="722.5" cy="495.2" r="1.85" fill="#111" stroke="none" stroke-width="0"/>
<circle cx="736.8" cy="501.3" r="1.85" fill="#111" stroke="none" stroke-width="0"/>
<circle cx="696.8" cy="562" r="1.85" fill="#111" stroke="none" stroke-width="0"/>
<circle cx="714" cy="568.4" r="1.85" fill="#111" stroke="none" stroke-width="0"/>
<circle cx="699.7" cy="580.7" r="1.85" fill="#111" stroke="none" stroke-width="0"/>
<circle cx="709.1" cy="591.2" r="1.85" fill="#111" stroke="none" stroke-width="0"/>
<circle cx="740.3" cy="590.6" r="1.85" fill="#111" stroke="none" stroke-width="0"/>
<circle cx="719.6" cy="613.4" r="1.85" fill="#111" stroke="none" stroke-width="0"/>
<circle cx="726" cy="620.4" r="1.85" fill="#111" stroke="none" stroke-width="0"/>
<circle cx="730.1" cy="627.4" r="1.85" fill="#111" stroke="none" stroke-width="0"/>
<circle cx="707" cy="631.7" r="1.85" fill="#111" stroke="none" stroke-width="0"/>
<circle cx="726.9" cy="631.4" r="1.85" fill="#111" stroke="none" stroke-width="0"/>
<circle cx="744.1" cy="634.7" r="1.85" fill="#111" stroke="none" stroke-width="0"/>
<circle cx="691" cy="639.3" r="1.85" fill="#111" stroke="none" stroke-width="0"/>
<circle cx="702.7" cy="637.6" r="1.85" fill="#111" stroke="none" stroke-width="0"/>
<circle cx="717.2" cy="640.5" r="1.85" fill="#111" stroke="none" stroke-width="0"/>
<circle cx="731.5" cy="641.1" r="1.85" fill="#111" stroke="none" stroke-width="0"/>
<circle cx="744.1" cy="639.3" r="1.85" fill="#111" stroke="none" stroke-width="0"/>
<circle cx="692.4" cy="646.3" r="1.85" fill="#111" stroke="none" stroke-width="0"/>
<circle cx="705.3" cy="644.9" r="1.85" fill="#111" stroke="none" stroke-width="0"/>
<circle cx="747.3" cy="646.3" r="1.85" fill="#111" stroke="none" stroke-width="0"/>
<circle cx="748.2" cy="642.5" r="1.85" fill="#111" stroke="none" stroke-width="0"/>
<circle cx="724.8" cy="654" r="1.85" fill="#111" stroke="none" stroke-width="0"/>
<circle cx="688.4" cy="657.4" r="1.85" fill="#111" stroke="none" stroke-width="0"/>
<circle cx="691.3" cy="657.4" r="1.85" fill="#111" stroke="none" stroke-width="0"/>
<circle cx="697.7" cy="657.4" r="1.85" fill="#111" stroke="none" stroke-width="0"/>
<circle cx="703.5" cy="657.4" r="1.85" fill="#111" stroke="none" stroke-width="0"/>
<circle cx="707.3" cy="657.4" r="1.85" fill="#111" stroke="none" stroke-width="0"/>
<circle cx="712.6" cy="657.4" r="1.85" fill="#111" stroke="none" stroke-width="0"/>
<circle cx="715.5" cy="657.4" r="1.85" fill="#111" stroke="none" stroke-width="0"/>
<circle cx="719" cy="657.4" r="1.85" fill="#111" stroke="none" stroke-width="0"/>
<circle cx="724.8" cy="657.4" r="1.85" fill="#111" stroke="none" stroke-width="0"/>
<circle cx="731.5" cy="657.4" r="1.85" fill="#111" stroke="none" stroke-width="0"/>
<circle cx="735" cy="657.4" r="1.85" fill="#111" stroke="none" stroke-width="0"/>
<circle cx="741.5" cy="657.4" r="1.85" fill="#111" stroke="none" stroke-width="0"/>
<circle cx="749" cy="657.4" r="1.85" fill="#111" stroke="none" stroke-width="0"/>
<circle cx="751.1" cy="657.4" r="1.85" fill="#111" stroke="none" stroke-width="0"/>
</svg>
</body></html>
